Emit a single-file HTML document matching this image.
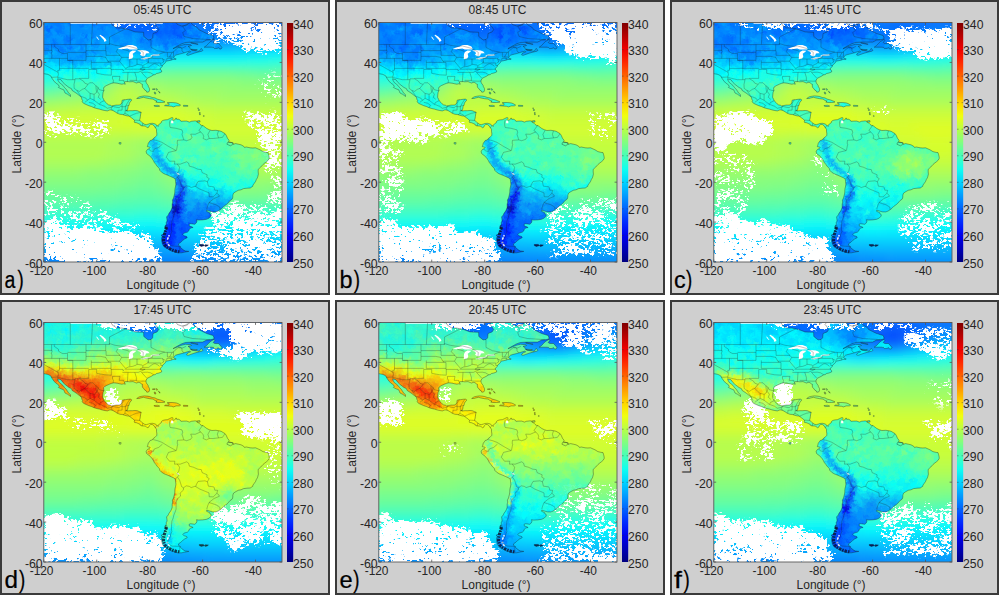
<!DOCTYPE html>
<html><head><meta charset="utf-8"><style>
html,body{margin:0;padding:0;background:#fff;}
svg{display:block;}
text{font-family:"Liberation Sans",sans-serif;}
</style></head><body>
<svg width="1000" height="595" viewBox="0 0 1000 595">
<defs>
<linearGradient id="jet" x1="0" y1="1" x2="0" y2="0"><stop offset="0.0000" stop-color="#000080"/><stop offset="0.0556" stop-color="#0000b8"/><stop offset="0.1111" stop-color="#0000f1"/><stop offset="0.1667" stop-color="#002aff"/><stop offset="0.2222" stop-color="#0063ff"/><stop offset="0.2778" stop-color="#009cff"/><stop offset="0.3333" stop-color="#00d4ff"/><stop offset="0.3889" stop-color="#0efff1"/><stop offset="0.4444" stop-color="#47ffb8"/><stop offset="0.5000" stop-color="#80ff80"/><stop offset="0.5556" stop-color="#b8ff47"/><stop offset="0.6111" stop-color="#f1ff0e"/><stop offset="0.6667" stop-color="#ffd500"/><stop offset="0.7222" stop-color="#ff9c00"/><stop offset="0.7778" stop-color="#ff6300"/><stop offset="0.8333" stop-color="#ff2a00"/><stop offset="0.8889" stop-color="#f10000"/><stop offset="0.9444" stop-color="#b80000"/><stop offset="1.0000" stop-color="#800000"/></linearGradient>
<path id="am" d="M-13.2 -4.0 L67.0 -4.0 L67.0 0.0 L68.3 2.0 L68.3 2.4 L72.8 5.4 L78.1 5.6 L84.7 7.0 L91.3 9.4 L99.8 9.8 L100.0 14.0 L104.3 17.4 L107.2 17.0 L108.8 15.4 L109.3 11.0 L113.3 9.4 L114.9 7.0 L112.5 3.4 L111.2 2.0 L112.7 0.0 L112.5 -4.0 L132.3 -4.0 L132.3 0.0 L133.7 2.0 L137.6 3.4 L141.6 3.2 L144.2 2.0 L146.1 0.0 L146.9 -0.6 L147.7 1.0 L150.1 3.0 L153.5 5.0 L154.8 7.0 L158.8 9.0 L162.8 11.0 L165.9 12.0 L169.4 13.0 L170.2 15.4 L169.9 16.6 L166.7 17.2 L162.8 17.6 L158.8 19.6 L153.5 19.6 L148.2 19.6 L141.6 20.0 L137.6 21.4 L133.7 23.6 L129.7 25.9 L129.2 26.1 L131.0 25.5 L133.7 24.3 L137.6 22.8 L141.6 21.8 L146.9 22.2 L147.7 23.0 L144.2 23.9 L146.1 24.9 L146.6 26.9 L149.5 27.9 L153.5 28.5 L155.4 28.7 L156.7 26.9 L157.5 25.9 L159.1 27.9 L158.0 28.7 L155.4 29.3 L150.9 30.5 L146.9 31.9 L144.2 32.9 L142.7 32.3 L144.0 30.5 L146.9 29.3 L145.8 28.7 L142.9 29.5 L140.3 30.3 L137.6 31.1 L133.7 32.1 L131.8 32.7 L130.5 33.9 L130.2 34.7 L130.0 35.3 L131.0 36.3 L132.3 36.3 L132.3 36.7 L130.7 36.9 L129.2 36.9 L127.3 37.7 L122.3 38.7 L121.7 39.3 L121.5 40.3 L120.4 41.3 L119.4 42.1 L118.8 42.7 L118.6 43.9 L117.5 44.9 L116.5 45.7 L116.5 46.1 L116.7 46.9 L117.8 48.3 L117.8 49.5 L115.1 50.5 L112.5 51.1 L111.4 52.1 L109.8 52.3 L108.0 53.5 L106.1 54.5 L104.0 55.5 L103.0 56.3 L102.2 58.3 L102.2 59.5 L102.7 60.7 L104.3 62.9 L104.5 63.9 L105.6 65.9 L105.7 67.3 L105.6 68.3 L104.8 69.5 L103.0 69.7 L102.4 68.3 L101.1 67.7 L100.3 66.5 L98.7 64.7 L98.5 63.5 L98.7 61.9 L97.7 61.5 L96.1 60.1 L94.5 59.9 L92.6 60.5 L91.6 60.1 L89.2 59.1 L86.0 59.3 L84.4 59.1 L82.0 59.1 L80.5 59.5 L81.0 60.7 L81.5 61.7 L79.9 61.3 L78.1 61.7 L76.0 61.3 L73.3 60.7 L70.1 60.3 L67.5 60.9 L65.6 61.7 L62.5 63.1 L60.3 64.5 L59.8 65.9 L60.1 67.9 L59.3 69.9 L59.0 71.8 L58.8 74.8 L59.8 76.8 L60.3 78.2 L62.2 80.0 L63.3 81.4 L64.8 82.4 L66.7 82.8 L67.8 83.5 L70.1 83.0 L72.3 82.6 L74.4 82.6 L76.2 82.4 L77.5 81.2 L78.1 79.8 L78.3 77.8 L79.4 77.4 L81.5 77.2 L84.2 76.8 L87.1 76.6 L87.9 77.4 L87.3 78.6 L86.0 79.8 L85.5 81.2 L85.2 83.0 L84.4 83.0 L84.2 84.8 L83.9 86.8 L82.3 88.0 L84.2 88.4 L86.0 88.2 L88.7 88.2 L91.3 88.0 L93.4 88.2 L95.8 89.2 L97.4 89.8 L96.9 91.4 L96.6 93.8 L96.3 95.8 L95.8 97.4 L96.3 98.2 L97.9 99.8 L99.2 100.8 L100.8 101.8 L102.4 102.2 L104.5 101.6 L106.1 101.0 L108.5 100.8 L111.2 101.4 L112.7 102.4 L114.3 104.0 L114.6 102.6 L115.9 101.2 L117.5 100.2 L117.8 98.8 L118.6 98.2 L119.6 97.8 L121.2 97.4 L123.6 97.2 L125.7 96.2 L127.3 95.4 L128.6 95.0 L129.4 95.8 L128.1 97.0 L128.9 97.8 L131.0 97.2 L131.8 96.6 L132.3 95.4 L132.9 96.8 L135.0 96.8 L136.6 97.8 L137.1 98.8 L140.3 98.6 L142.9 98.6 L145.6 99.6 L147.7 98.8 L150.9 98.4 L152.7 98.4 L152.7 99.2 L154.6 100.2 L156.2 101.8 L157.5 102.8 L159.3 103.2 L161.4 104.8 L163.0 106.0 L165.4 107.2 L168.1 108.0 L172.0 107.8 L174.7 108.2 L177.3 108.8 L180.0 110.4 L181.3 111.2 L182.4 112.8 L183.7 115.8 L185.3 117.8 L184.7 119.2 L187.9 120.1 L189.5 121.7 L191.9 121.1 L194.5 121.7 L197.2 122.3 L199.8 123.7 L200.6 124.9 L202.5 124.5 L206.4 125.3 L209.1 125.5 L211.7 125.3 L214.4 126.5 L216.2 127.3 L219.1 129.1 L222.3 129.9 L224.2 130.1 L224.7 131.7 L225.2 133.7 L225.5 135.7 L224.4 137.7 L222.6 139.3 L221.0 140.5 L219.1 142.1 L217.0 144.5 L215.7 145.7 L214.4 146.9 L214.4 149.3 L214.6 151.7 L214.1 153.7 L213.6 155.3 L212.5 157.1 L211.7 159.1 L210.4 160.9 L209.1 162.7 L209.1 163.7 L206.4 165.5 L203.3 165.7 L199.8 166.1 L197.2 167.3 L194.5 167.8 L191.9 169.2 L189.8 170.6 L189.0 172.6 L189.0 174.6 L188.4 176.6 L186.1 178.2 L184.5 180.2 L182.6 182.0 L180.0 183.8 L178.1 185.8 L176.3 187.2 L174.2 188.6 L172.0 189.4 L168.9 189.4 L165.9 188.6 L163.0 187.6 L162.8 188.8 L165.9 190.2 L166.2 191.4 L167.5 192.2 L167.3 193.6 L165.4 195.6 L162.8 196.8 L158.8 197.4 L154.8 197.6 L152.7 197.2 L153.2 198.6 L152.4 200.6 L150.9 201.8 L146.9 201.2 L145.3 201.8 L145.6 203.6 L147.4 204.0 L149.3 205.0 L147.2 205.4 L145.6 206.6 L144.8 208.6 L143.7 209.6 L140.3 210.6 L138.9 212.0 L140.3 213.2 L142.9 214.0 L143.4 215.2 L140.8 216.5 L138.7 218.1 L137.1 219.7 L135.0 221.1 L134.5 222.7 L136.6 224.1 L136.6 224.7 L137.6 225.5 L138.9 227.1 L141.6 228.5 L145.0 228.9 L141.6 229.5 L137.6 230.3 L133.7 230.3 L131.0 229.5 L128.4 228.5 L125.7 227.3 L123.1 225.9 L120.4 224.5 L119.1 222.5 L118.3 220.5 L117.8 217.5 L117.8 215.6 L118.6 213.6 L117.2 212.8 L120.2 211.2 L120.4 209.6 L121.7 207.6 L123.1 206.0 L121.2 205.2 L121.7 203.4 L122.5 201.6 L122.5 199.6 L123.3 198.6 L123.1 196.6 L122.8 194.2 L124.1 193.2 L125.2 190.8 L126.8 188.6 L127.8 186.6 L128.4 184.6 L128.4 181.6 L128.9 179.6 L128.6 177.6 L129.7 175.6 L130.2 173.6 L130.7 171.6 L131.0 169.6 L131.0 167.7 L131.3 165.7 L131.8 163.7 L132.1 161.7 L131.8 159.3 L131.5 156.7 L129.7 155.3 L127.0 154.1 L123.9 152.7 L120.4 151.3 L117.8 149.7 L115.9 147.7 L115.7 146.3 L114.3 144.7 L113.3 143.7 L112.2 142.1 L110.6 140.1 L109.6 138.1 L108.5 136.3 L106.9 134.5 L105.9 133.3 L103.5 131.7 L102.7 130.7 L102.4 128.7 L103.7 126.9 L105.3 126.3 L106.4 124.9 L105.3 124.5 L103.5 124.1 L104.0 122.7 L104.5 120.7 L105.6 119.2 L106.4 118.0 L108.5 117.4 L109.3 116.2 L111.2 114.8 L113.0 112.8 L113.0 110.8 L112.7 108.8 L112.7 106.8 L111.7 105.4 L110.1 103.2 L108.5 102.0 L106.9 102.0 L105.6 103.2 L104.8 104.8 L103.5 105.2 L102.7 104.4 L101.4 103.6 L99.2 103.4 L97.9 103.2 L96.3 102.6 L96.3 101.8 L94.0 100.8 L92.6 100.2 L90.8 100.0 L90.5 98.8 L90.8 97.8 L90.0 97.2 L88.4 95.8 L86.5 94.6 L85.8 93.6 L83.4 93.4 L81.0 92.8 L78.9 92.0 L76.2 91.8 L73.6 90.8 L71.5 89.4 L69.1 88.0 L67.0 87.4 L65.6 87.6 L63.5 88.4 L60.9 88.0 L58.2 87.4 L55.6 86.6 L52.9 86.0 L50.3 85.2 L47.6 84.0 L45.0 83.2 L42.3 82.0 L39.7 80.8 L38.4 79.2 L38.9 78.2 L38.1 76.8 L37.6 74.8 L36.0 73.4 L33.1 71.1 L30.4 69.3 L28.3 67.9 L27.8 66.3 L25.1 64.9 L23.8 63.9 L21.2 61.9 L19.1 59.9 L17.2 57.3 L13.8 56.3 L14.3 57.9 L15.4 59.9 L17.2 61.3 L19.1 62.9 L20.6 64.9 L22.5 66.9 L23.8 68.9 L25.1 70.9 L26.7 72.2 L26.7 74.0 L25.7 73.2 L23.8 71.8 L21.2 70.5 L20.6 68.9 L19.9 67.3 L17.2 66.3 L14.6 64.9 L15.4 63.9 L14.6 62.3 L11.9 60.5 L10.1 58.5 L8.5 56.3 L7.7 54.9 L7.1 53.5 L5.3 52.5 L4.0 51.9 L2.1 51.5 L-1.3 50.9 L-1.9 49.5 L-2.6 48.9 L-5.3 46.9 L-7.9 43.9 L-13.2 39.9 Z"/>
<path id="isl" d="M92.9 76.0 L95.3 74.4 L97.9 73.8 L100.6 73.4 L103.2 73.6 L105.9 74.0 L108.5 75.0 L111.2 75.4 L113.3 76.6 L116.5 77.4 L119.1 78.4 L121.2 79.4 L120.4 79.8 L117.8 80.0 L113.8 80.0 L112.0 79.6 L113.3 78.6 L111.2 78.0 L109.3 76.6 L105.9 76.2 L101.9 75.4 L99.8 74.8 L97.1 75.4 L95.3 76.0 Z M124.9 80.0 L128.4 80.0 L132.3 80.4 L134.5 81.2 L136.8 82.6 L135.5 83.4 L132.3 83.4 L129.7 84.4 L127.8 83.8 L124.9 83.6 L120.7 83.2 L121.7 82.6 L125.2 82.6 L125.2 81.0 L123.3 80.4 Z M110.4 83.0 L113.8 82.8 L115.9 83.6 L114.3 84.0 L111.7 84.0 L110.1 83.4 Z M139.7 82.8 L144.0 83.0 L144.0 83.8 L139.7 83.8 Z M160.4 24.7 L162.8 23.0 L164.6 21.0 L166.7 19.0 L170.4 16.8 L171.0 18.0 L169.4 20.0 L171.0 21.0 L174.7 21.0 L176.0 22.4 L177.3 23.9 L178.1 24.9 L177.3 26.5 L175.7 26.5 L174.7 25.1 L173.4 25.9 L170.7 26.1 L169.7 24.9 L168.1 24.7 L164.9 24.7 Z M147.2 26.7 L149.5 26.9 L153.5 27.1 L152.2 27.9 L148.7 27.5 Z M146.9 20.2 L150.9 20.8 L154.3 21.8 L152.2 21.6 L147.7 20.6 Z M108.5 66.5 L111.4 66.3 L111.2 66.9 L108.8 66.9 Z M112.5 66.1 L113.8 66.9 L113.3 67.9 L112.2 66.9 Z M110.4 69.5 L111.7 69.9 L112.0 71.5 L110.9 71.5 Z M114.6 68.7 L115.9 69.5 L116.2 70.7 L115.4 69.9 Z M153.8 98.2 L156.2 98.2 L156.2 99.6 L153.8 99.6 Z M155.4 222.1 L159.3 221.9 L160.9 223.1 L157.5 223.9 L155.6 223.1 Z M161.4 222.3 L164.6 222.5 L163.3 223.5 L161.4 223.9 Z M75.2 120.1 L77.3 120.1 L77.0 121.7 L75.4 121.5 Z M121.2 203.2 L123.1 203.2 L123.1 206.2 L121.0 206.0 Z M154.0 85.4 L154.6 85.4 L154.6 86.0 L154.0 86.0 Z M154.6 87.0 L155.6 87.0 L155.6 88.0 L154.6 88.0 Z M155.6 90.0 L156.4 90.0 L156.4 91.0 L155.6 91.0 Z M155.9 91.6 L156.4 91.6 L156.4 92.4 L155.9 92.4 Z M159.6 93.2 L160.4 93.2 L160.4 93.8 L159.6 93.8 Z M183.9 119.9 L189.2 120.1 L189.5 121.7 L186.6 123.3 L183.1 121.7 Z"/>
<path id="lk" d="M73.8 26.5 L78.1 26.7 L83.4 25.9 L86.0 26.9 L88.7 27.1 L93.7 26.9 L93.7 26.1 L92.6 24.1 L88.7 22.4 L83.9 22.4 L80.7 23.9 L76.8 25.3 Z M85.0 36.5 L86.0 36.7 L88.4 36.1 L89.5 33.9 L88.9 31.3 L91.3 29.5 L92.6 28.3 L88.7 28.1 L85.8 29.7 L85.2 31.9 L85.0 34.9 Z M93.4 28.3 L96.6 29.3 L97.1 31.3 L96.1 32.3 L99.2 33.9 L101.4 32.9 L102.2 30.9 L104.5 30.7 L105.9 30.7 L104.5 28.9 L101.9 27.9 L96.6 27.5 L94.0 27.9 Z M96.9 36.5 L100.6 36.9 L103.2 36.3 L106.4 35.3 L108.8 34.3 L107.2 34.1 L104.5 34.7 L101.9 34.7 L99.2 35.7 L97.4 35.9 Z M106.4 33.3 L109.8 33.3 L112.5 33.3 L115.7 32.9 L115.9 31.7 L113.8 31.9 L109.8 31.9 L107.5 32.5 Z M60.3 19.2 L62.7 18.4 L61.9 16.4 L59.3 14.0 L56.4 12.2 L55.6 12.8 L58.2 15.4 L60.1 17.6 Z M54.3 17.0 L55.6 17.4 L53.5 14.4 L52.1 14.0 Z M132.3 150.1 L134.5 150.7 L136.0 152.3 L134.2 152.3 Z M127.3 98.2 L129.2 98.0 L129.7 100.8 L127.3 100.8 Z"/>
<path id="bd" d="M-13.2 22.0 L65.6 22.0 L65.6 21.2 L66.7 21.4 L71.5 22.8 L76.8 23.6 L80.5 23.9 L83.6 23.4 L92.6 25.9 L94.0 26.9 L96.6 27.9 L99.5 29.9 L99.2 33.9 L97.7 35.7 L99.0 36.5 L108.5 34.9 L108.5 33.1 L115.7 32.3 L115.7 31.5 L119.9 29.9 L128.4 29.9 L130.2 29.1 L131.8 27.1 L134.5 25.1 L137.1 25.3 L138.2 25.9 L138.2 28.5 L139.2 29.5 L140.3 30.1 M26.5 22.0 L26.5 -4.0 M47.6 22.0 L49.0 -4.0 M65.6 22.0 L65.8 14.4 L82.0 6.2 M107.2 17.0 L107.2 24.9 L113.8 28.3 L121.0 29.5 M166.5 17.2 L148.7 16.0 L140.3 14.0 L138.9 10.0 L141.6 8.0 L138.9 4.0 L146.9 -0.6 M138.2 25.7 L136.8 25.1 L134.5 25.1 M138.2 25.7 L142.1 23.9 M147.7 28.3 L148.5 28.1 M-10.6 27.5 L2.6 27.9 L8.2 27.9 M-11.1 35.9 L23.7 35.9 M7.8 22.0 L7.8 27.1 L8.2 28.9 L7.4 31.3 L8.2 31.9 L7.9 35.9 M10.5 22.0 L10.5 23.9 L14.6 26.7 L14.8 28.7 L17.2 30.3 L19.1 31.1 L23.7 30.9 M23.7 29.9 L42.2 29.9 M23.7 30.9 L23.7 37.9 L42.2 37.9 L42.2 22.0 M0.0 35.9 L0.0 41.9 L14.3 49.9 M15.7 35.9 L15.7 47.7 L14.0 47.9 L14.3 49.9 L14.6 51.9 L14.0 54.5 M15.7 45.9 L45.0 45.9 M29.0 37.9 L29.0 57.2 M23.7 37.9 L29.0 37.9 M47.5 37.9 L47.5 45.9 M42.2 33.9 L56.9 33.9 L62.2 34.9 M47.5 39.9 L65.4 39.9 M47.5 45.9 L67.2 45.9 M45.0 46.9 L52.9 46.9 L52.9 50.8 L60.9 52.3 L67.5 52.7 M44.9 46.9 L44.9 55.9 L35.5 55.9 M42.2 28.1 L61.9 28.1 M61.9 22.0 L61.9 28.1 L62.3 29.3 L62.3 32.9 L76.2 32.9 M64.0 38.7 L75.7 38.7 M61.9 34.9 L64.0 38.7 L65.4 39.9 L67.2 39.9 L67.2 45.9 L67.2 46.9 L79.1 46.9 L79.1 47.9 L80.2 47.9 M67.5 46.9 L67.5 52.7 M68.7 53.9 L76.2 53.9 M68.7 53.9 L68.7 56.1 L69.6 57.9 L69.3 60.5 M76.2 53.9 L75.4 57.9 L79.9 57.9 L80.2 59.5 M84.2 49.9 L83.6 59.3 M91.0 49.9 L92.6 54.9 L92.6 57.9 M85.8 57.9 L92.6 57.9 L92.9 58.5 L100.0 58.7 L102.2 58.5 M97.7 49.9 L103.0 55.7 M97.7 49.9 L103.5 49.7 L106.7 50.3 L109.8 52.2 M78.6 49.9 L94.5 49.9 M80.7 46.7 L101.4 46.7 M96.1 46.8 L116.7 46.8 M94.5 49.9 L101.4 46.7 M96.1 46.7 L99.0 44.9 L99.0 43.5 M81.8 45.9 L84.7 44.5 L88.7 43.9 L92.6 42.5 L93.2 41.7 L97.9 42.5 L99.0 43.1 L104.0 40.5 L104.5 38.7 M75.7 38.7 L78.9 42.7 L81.8 45.9 M86.0 36.5 L86.0 43.9 M93.2 36.5 L93.2 41.7 M77.8 34.9 L85.2 34.9 M76.2 32.9 L77.8 34.9 L75.7 38.7 M73.8 26.5 L73.3 27.7 L72.3 29.1 L76.2 32.9 M86.0 36.5 L96.6 36.5 M78.3 26.7 L84.4 28.3 L85.8 29.7 M104.5 35.9 L104.5 40.5 M104.5 35.9 L118.0 35.9 M104.5 40.5 L117.0 40.5 M99.0 44.9 L105.1 44.9 L107.2 42.9 L110.1 41.3 L111.7 41.3 L113.8 42.3 L115.7 43.9 M123.6 29.9 L123.6 34.5 M128.4 29.9 L125.7 34.5 M123.6 34.5 L130.2 34.5 M123.1 35.9 L128.6 35.9 M127.6 35.9 L127.6 37.3 M123.1 35.9 L122.8 37.9 M129.7 29.3 L129.7 33.7 M118.3 35.9 L119.9 37.1 L122.0 37.9 M118.8 36.1 L119.9 39.5 L117.8 40.5 M117.0 40.5 L117.0 43.0 L118.6 43.0 M7.7 54.9 L14.0 54.5 L13.8 54.9 L23.6 57.2 L31.2 57.2 L31.2 56.3 L35.7 56.3 L37.1 57.1 L39.7 58.7 L41.0 60.7 L44.2 61.9 L45.8 60.3 L49.2 60.3 L52.1 63.3 L54.3 64.9 L55.3 67.1 L58.2 67.9 L60.3 68.1 M31.2 57.2 L30.2 61.9 L30.4 65.9 L33.1 67.9 L35.7 68.9 L38.4 66.9 L41.0 65.9 L44.2 61.9 M41.0 65.9 L43.9 68.9 L46.3 70.9 L50.3 71.8 L52.9 69.9 L52.4 66.9 L52.1 63.3 M54.3 64.9 L53.5 68.9 L55.6 71.8 L54.5 74.8 L56.9 76.8 M33.1 67.9 L37.1 73.8 L39.7 74.8 L42.3 75.8 L43.7 77.8 L41.0 79.8 M46.3 70.9 L46.3 75.8 L50.3 77.8 L52.9 79.8 L55.6 81.8 L58.2 82.8 L60.9 83.8 L63.5 85.8 L67.5 84.8 L68.8 83.8 M50.3 71.8 L50.3 77.8 M43.7 77.8 L46.3 75.8 M50.3 85.2 L51.6 82.8 L49.0 80.8 L45.0 79.8 M60.3 78.2 L56.9 79.8 L55.6 81.8 M68.8 83.8 L72.8 84.8 L75.4 85.2 L76.8 83.8 L78.3 83.8 M68.8 83.8 L67.5 86.2 L68.8 87.8 M78.3 84.2 L78.3 80.8 L80.5 77.2 M81.5 84.2 L83.4 80.8 L86.0 76.8 M73.6 90.8 L74.1 89.6 L74.1 87.8 L78.3 87.6 L78.3 84.2 L81.6 84.2 L81.5 88.0 M81.6 83.9 L83.9 82.8 M81.5 88.0 L84.2 88.4 M81.5 88.0 L81.1 91.0 L79.1 92.4 M81.1 91.0 L83.4 91.8 L85.2 93.0 M85.5 93.8 L90.0 91.8 L92.6 90.8 L97.4 89.8 M90.8 97.6 L96.1 98.0 M98.2 103.8 L99.0 100.8 M111.4 105.4 L113.3 102.6 M126.5 97.4 L125.7 99.8 L126.0 103.8 L126.5 105.0 L132.3 105.8 L138.2 107.4 L138.9 109.8 L138.2 111.8 L139.5 115.8 L140.0 117.4 M140.0 117.4 L133.7 117.8 L133.4 120.7 L133.9 121.7 L132.6 128.1 M109.0 117.0 L113.8 118.2 L118.3 119.9 M118.3 119.9 L124.4 123.7 L132.3 128.1 M105.1 126.5 L106.7 128.5 L109.6 128.9 L110.4 126.5 L114.9 124.9 L118.6 121.7 M158.8 102.8 L156.7 105.8 L155.1 108.0 L156.9 109.4 M156.9 109.4 L151.4 111.8 L146.9 111.6 L148.2 114.8 L146.9 116.8 L142.9 118.2 L140.0 117.4 M156.9 109.4 L159.1 111.8 L159.9 113.8 L159.3 116.0 L162.5 117.4 L165.4 116.0 L169.4 116.0 L174.7 115.4 L178.7 114.8 L181.0 111.4 M166.3 107.8 L164.1 111.8 L165.4 116.0 M174.7 108.4 L173.6 111.8 L174.7 115.4 M132.3 128.1 L124.7 129.9 L122.5 134.7 L125.7 138.7 L131.0 138.7 L130.7 141.7 L133.4 141.5 M133.4 141.5 L135.8 144.7 L135.0 148.7 L133.4 150.7 L135.0 152.7 L133.7 154.7 L131.3 156.4 M133.4 141.5 L136.3 141.7 L142.9 139.3 L144.8 140.7 L145.6 143.7 L149.5 144.7 L154.0 146.7 L157.5 147.1 L158.3 150.1 L163.3 152.3 L163.0 154.7 L165.4 156.1 L163.6 159.3 M133.7 154.7 L135.8 157.7 L137.1 161.7 L137.9 164.3 L139.7 165.3 M139.7 165.3 L142.4 163.3 L145.6 163.9 L147.4 165.1 L151.4 163.7 L151.9 164.1 M151.9 164.1 L152.7 161.7 L154.3 158.9 L161.2 158.3 L163.6 159.3 M163.6 159.3 L164.6 163.7 L169.4 164.3 L170.4 164.9 L171.0 167.7 L173.9 167.8 L173.1 170.8 M151.9 164.1 L156.2 166.7 L161.4 168.8 L165.2 170.4 L165.4 174.2 L169.4 174.4 L173.1 170.8 M173.1 170.8 L175.2 172.6 L175.5 173.8 L170.2 176.0 L165.2 180.0 M165.2 180.0 L169.4 181.4 L172.0 182.2 L176.0 184.6 L176.3 187.0 M165.2 180.0 L163.8 183.6 L163.0 186.6 M139.7 165.3 L139.5 167.7 L136.3 170.6 L136.8 173.6 L133.4 176.6 L132.3 179.6 L132.3 183.6 L132.3 186.6 L131.3 189.6 L130.0 192.6 L129.4 195.6 L128.1 198.6 L127.8 201.6 L127.6 206.6 L128.1 209.2 L127.0 211.6 L126.2 214.6 L124.4 217.5 L123.6 220.5 L126.2 222.5 L128.4 223.5 L133.7 223.9 L136.6 224.3 M136.0 224.7 L136.0 229.3"/>
<path id="fj" d="M122.8 204.6 L121.2 209.6 L120.2 213.6 L119.6 218.5 L121.0 222.5 L124.4 225.5 L128.4 227.5 L132.3 228.7 L136.3 229.5"/>
<path id="fj2" d="M125.5 212.6 L123.9 216.5 L123.6 220.5 L125.7 223.5"/>
<path id="falk" d="M155.4 222.1 L159.3 221.9 L160.9 223.1 L157.5 223.9 L155.6 223.1 Z M161.4 222.3 L164.6 222.5 L163.3 223.5 L161.4 223.9 Z"/>
<clipPath id="landclip"><use href="#am"/><use href="#isl"/></clipPath>
<filter id="bo" x="-5%" y="-5%" width="110%" height="110%"><feGaussianBlur stdDeviation="4"/></filter>
<filter id="bl" x="-5%" y="-5%" width="110%" height="110%"><feGaussianBlur stdDeviation="1.1" result="b"/><feTurbulence type="fractalNoise" baseFrequency="0.3" numOctaves="2" seed="5" result="t"/><feDisplacementMap in="b" in2="t" scale="7" xChannelSelector="R" yChannelSelector="G"/></filter>
</defs>
<rect width="1000" height="595" fill="#fff"/>
<g transform="translate(0,0)">
<rect x="1" y="1" width="328" height="293" fill="#cfcfcf" stroke="#3a3a3a" stroke-width="2"/>
<text x="162.5" y="13.6" font-size="12" text-anchor="middle" fill="#262626">05:45 UTC</text>
<svg x="43.8" y="22.5" width="238.2" height="239.5" viewBox="0 0 238.2 239.5" overflow="hidden">
<filter id="cf-a" x="0" y="0" width="238.2" height="239.5" filterUnits="userSpaceOnUse" color-interpolation-filters="sRGB"><feGaussianBlur in="SourceAlpha" stdDeviation="2.6" result="d"/><feTurbulence type="fractalNoise" baseFrequency="0.06 0.09" numOctaves="2" seed="679" result="nl"/><feTurbulence type="fractalNoise" baseFrequency="0.3 0.45" numOctaves="3" seed="680" result="nh"/><feComposite in="d" in2="nl" operator="arithmetic" k1="0" k2="0.5" k3="0.6" k4="0" result="s1"/><feComposite in="s1" in2="nh" operator="arithmetic" k1="0" k2="1" k3="0.85" k4="-0.95" result="s"/><feComponentTransfer in="s" result="t"><feFuncA type="linear" slope="20" intercept="0"/></feComponentTransfer><feComponentTransfer in="d" result="dm"><feFuncA type="linear" slope="6" intercept="-0.3"/></feComponentTransfer><feComposite in="t" in2="dm" operator="in" result="t2"/><feFlood flood-color="#fff"/><feComposite operator="in" in2="t2"/></filter>
<g filter="url(#bo)"><path fill="#007aff" d="M-7 -7h63v7h-63zM-7 0h63v7h-63zM-7 7h63v7h-63zM147 7h21v7h-21zM203 7h14v7h-14zM70 14h7v7h-7zM112 14h14v7h-14zM-7 238h154v7h-154zM-7 245h154v7h-154z"/><path fill="#0074ff" d="M56 -7h7v7h-7zM56 0h7v7h-7zM154 0h7v7h-7zM56 7h7v7h-7zM133 7h14v7h-14zM168 7h14v7h-14zM189 7h14v7h-14zM77 14h35v7h-35z"/><path fill="#006eff" d="M63 -7h7v7h-7zM154 -7h14v7h-14zM63 0h7v7h-7zM140 0h14v7h-14zM161 0h14v7h-14zM217 0h35v7h-35zM63 7h7v7h-7zM126 7h7v7h-7zM182 7h7v7h-7z"/><path fill="#0069ff" d="M70 -7h7v7h-7zM140 -7h14v7h-14zM168 -7h14v7h-14zM70 0h7v7h-7zM126 0h14v7h-14zM175 0h42v7h-42zM70 7h7v7h-7zM112 7h14v7h-14z"/><path fill="#0063ff" d="M77 -7h63v7h-63zM182 -7h70v7h-70zM77 0h49v7h-49zM77 7h35v7h-35z"/><path fill="#0080ff" d="M217 7h7v7h-7zM63 14h7v7h-7zM126 14h14v7h-14zM147 238h28v7h-28zM147 245h28v7h-28z"/><path fill="#0085ff" d="M224 7h28v7h-28zM56 14h7v7h-7zM140 14h14v7h-14zM175 238h77v7h-77zM175 245h77v7h-77z"/><path fill="#008bff" d="M-7 14h63v7h-63zM154 14h42v7h-42zM-7 231h154v7h-154z"/><path fill="#0090ff" d="M196 14h14v7h-14zM147 231h28v7h-28z"/><path fill="#0096ff" d="M210 14h14v7h-14zM77 21h7v7h-7zM175 231h77v7h-77z"/><path fill="#009cff" d="M224 14h14v7h-14zM70 21h7v7h-7zM84 21h21v7h-21z"/><path fill="#00a2ff" d="M238 14h14v7h-14zM56 21h14v7h-14zM105 21h14v7h-14zM-7 224h140v7h-140z"/><path fill="#00a7ff" d="M-7 21h63v7h-63zM119 21h14v7h-14zM133 224h28v7h-28z"/><path fill="#00adff" d="M133 21h56v7h-56zM161 224h91v7h-91z"/><path fill="#00b2ff" d="M189 21h7v7h-7z"/><path fill="#00b8ff" d="M196 21h14v7h-14z"/><path fill="#00beff" d="M210 21h14v7h-14zM-7 217h147v7h-147z"/><path fill="#00c3ff" d="M224 21h28v7h-28zM-7 28h84v7h-84zM140 217h112v7h-112z"/><path fill="#00c9ff" d="M77 28h14v7h-14z"/><path fill="#00cfff" d="M91 28h14v7h-14z"/><path fill="#00d4ff" d="M105 28h7v7h-7zM84 210h63v7h-63z"/><path fill="#00daff" d="M112 28h14v7h-14zM-7 210h91v7h-91zM147 210h105v7h-105z"/><path fill="#00e0ff" d="M126 28h70v7h-70z"/><path fill="#00e5ff" d="M196 28h14v7h-14zM-7 35h70v7h-70z"/><path fill="#00ebff" d="M210 28h14v7h-14zM63 35h14v7h-14zM98 203h21v7h-21z"/><path fill="#00f1ff" d="M224 28h14v7h-14zM77 35h7v7h-7zM70 203h28v7h-28zM119 203h28v7h-28zM168 203h84v7h-84z"/><path fill="#00f6ff" d="M238 28h14v7h-14zM84 35h7v7h-7zM-7 42h42v7h-42zM-7 203h77v7h-77zM147 203h21v7h-21z"/><path fill="#00fcff" d="M91 35h7v7h-7zM35 42h21v7h-21z"/><path fill="#03fffc" d="M98 35h14v7h-14zM224 196h28v7h-28z"/><path fill="#09fff6" d="M112 35h7v7h-7zM56 42h7v7h-7zM91 196h21v7h-21zM203 196h21v7h-21z"/><path fill="#0efff1" d="M119 35h84v7h-84zM-7 49h35v7h-35zM70 196h21v7h-21zM112 196h7v7h-7zM182 196h21v7h-21z"/><path fill="#14ffeb" d="M203 35h21v7h-21zM63 42h7v7h-7zM28 49h7v7h-7zM-7 196h77v7h-77zM119 196h7v7h-7zM168 196h14v7h-14z"/><path fill="#1affe5" d="M224 35h14v7h-14zM70 42h7v7h-7zM35 49h7v7h-7zM126 196h42v7h-42z"/><path fill="#1fffe0" d="M238 35h14v7h-14zM42 49h7v7h-7z"/><path fill="#25ffda" d="M77 42h7v7h-7zM49 49h7v7h-7zM-7 56h14v7h-14zM91 189h21v7h-21zM217 189h35v7h-35z"/><path fill="#2bffd4" d="M84 42h7v7h-7zM7 56h14v7h-14zM63 189h28v7h-28zM112 189h14v7h-14zM189 189h28v7h-28z"/><path fill="#30ffcf" d="M91 42h7v7h-7zM56 49h7v7h-7zM21 56h7v7h-7zM-7 189h70v7h-70zM126 189h14v7h-14zM175 189h14v7h-14z"/><path fill="#36ffc9" d="M98 42h7v7h-7zM28 56h7v7h-7zM140 189h14v7h-14zM161 189h14v7h-14z"/><path fill="#3cffc3" d="M105 42h7v7h-7zM91 182h21v7h-21zM154 189h7v7h-7z"/><path fill="#41ffbe" d="M112 42h14v7h-14zM203 42h28v7h-28zM63 49h7v7h-7zM35 56h7v7h-7zM70 182h21v7h-21zM112 182h7v7h-7zM224 182h28v7h-28z"/><path fill="#47ffb8" d="M126 42h77v7h-77zM231 42h21v7h-21zM-7 182h77v7h-77zM119 182h14v7h-14zM196 182h28v7h-28z"/><path fill="#52ffad" d="M70 49h7v7h-7zM7 63h7v7h-7zM77 175h42v7h-42zM147 182h28v7h-28z"/><path fill="#5effa2" d="M77 49h7v7h-7zM21 63h7v7h-7zM91 168h21v7h-21zM-7 175h56v7h-56zM126 175h7v7h-7zM217 175h35v7h-35z"/><path fill="#63ff9c" d="M84 49h7v7h-7zM28 63h7v7h-7zM70 168h21v7h-21zM112 168h7v7h-7zM133 175h14v7h-14zM189 175h28v7h-28z"/><path fill="#69ff96" d="M91 49h14v7h-14zM210 49h42v7h-42zM35 63h7v7h-7zM91 161h21v7h-21zM-7 168h77v7h-77zM119 168h7v7h-7zM147 175h42v7h-42z"/><path fill="#6eff90" d="M105 49h14v7h-14zM189 49h21v7h-21zM56 56h7v7h-7zM77 161h14v7h-14zM112 161h7v7h-7zM126 168h7v7h-7z"/><path fill="#74ff8b" d="M119 49h70v7h-70zM42 63h7v7h-7zM-7 70h14v7h-14zM91 154h21v7h-21zM56 161h21v7h-21zM119 161h7v7h-7zM133 168h14v7h-14zM224 168h28v7h-28z"/><path fill="#4dffb2" d="M42 56h7v7h-7zM-7 63h14v7h-14zM133 182h14v7h-14zM175 182h21v7h-21z"/><path fill="#58ffa7" d="M49 56h7v7h-7zM14 63h7v7h-7zM49 175h28v7h-28zM119 175h7v7h-7z"/><path fill="#80ff80" d="M63 56h7v7h-7zM217 56h35v7h-35zM14 70h7v7h-7zM84 147h14v7h-14zM42 154h35v7h-35zM126 161h14v7h-14zM154 168h42v7h-42z"/><path fill="#91ff6e" d="M70 56h7v7h-7zM105 56h14v7h-14zM182 63h70v7h-70zM42 70h7v7h-7zM98 133h14v7h-14zM77 140h14v7h-14zM-7 147h42v7h-42zM126 147h7v7h-7zM133 154h14v7h-14zM161 161h28v7h-28z"/><path fill="#a2ff5e" d="M77 56h7v7h-7zM112 63h7v7h-7zM56 70h7v7h-7zM147 70h28v7h-28zM14 77h14v7h-14zM77 119h14v7h-14zM112 119h7v7h-7zM91 126h7v7h-7zM112 126h7v7h-7zM70 133h14v7h-14zM126 133h7v7h-7zM-7 140h49v7h-49zM133 140h7v7h-7zM147 147h7v7h-7z"/><path fill="#9cff63" d="M84 56h14v7h-14zM63 63h7v7h-7zM119 63h21v7h-21zM175 70h77v7h-77zM0 77h14v7h-14zM91 119h21v7h-21zM98 126h14v7h-14zM84 133h7v7h-7zM119 133h7v7h-7zM42 140h21v7h-21zM126 140h7v7h-7zM140 147h7v7h-7zM154 154h35v7h-35z"/><path fill="#96ff69" d="M98 56h7v7h-7zM140 63h42v7h-42zM49 70h7v7h-7zM-7 77h7v7h-7zM91 133h7v7h-7zM112 133h7v7h-7zM63 140h14v7h-14zM119 140h7v7h-7zM133 147h7v7h-7zM147 154h7v7h-7zM189 154h63v7h-63z"/><path fill="#8bff74" d="M119 56h77v7h-77zM56 63h7v7h-7zM28 70h14v7h-14zM91 140h7v7h-7zM112 140h7v7h-7zM35 147h28v7h-28zM119 147h7v7h-7zM126 154h7v7h-7zM147 161h14v7h-14zM189 161h28v7h-28z"/><path fill="#85ff7a" d="M196 56h21v7h-21zM21 70h7v7h-7zM98 140h14v7h-14zM63 147h21v7h-21zM112 147h7v7h-7zM-7 154h49v7h-49zM119 154h7v7h-7zM140 161h7v7h-7zM217 161h35v7h-35z"/><path fill="#7aff85" d="M49 63h7v7h-7zM7 70h7v7h-7zM98 147h14v7h-14zM77 154h14v7h-14zM112 154h7v7h-7zM-7 161h63v7h-63zM147 168h7v7h-7zM196 168h28v7h-28z"/><path fill="#adff52" d="M70 63h7v7h-7zM91 63h7v7h-7zM63 70h7v7h-7zM119 70h14v7h-14zM42 77h14v7h-14zM154 77h21v7h-21zM91 112h21v7h-21zM-7 119h70v7h-70zM119 119h7v7h-7zM63 126h21v7h-21zM126 126h7v7h-7zM-7 133h63v7h-63zM140 133h7v7h-7zM147 140h7v7h-7z"/><path fill="#b8ff47" d="M77 63h7v7h-7zM70 70h7v7h-7zM91 70h7v7h-7zM63 77h14v7h-14zM133 77h7v7h-7zM0 84h14v7h-14zM-7 112h77v7h-77zM119 112h7v7h-7zM133 119h7v7h-7zM140 126h7v7h-7zM154 133h7v7h-7z"/><path fill="#b3ff4c" d="M84 63h7v7h-7zM98 70h21v7h-21zM56 77h7v7h-7zM140 77h14v7h-14zM-7 84h7v7h-7zM70 112h21v7h-21zM112 112h7v7h-7zM126 119h7v7h-7zM-7 126h70v7h-70zM133 126h7v7h-7zM147 133h7v7h-7zM154 140h98v7h-98z"/><path fill="#a7ff58" d="M98 63h14v7h-14zM133 70h14v7h-14zM28 77h14v7h-14zM175 77h77v7h-77zM63 119h14v7h-14zM84 126h7v7h-7zM119 126h7v7h-7zM56 133h14v7h-14zM133 133h7v7h-7zM140 140h7v7h-7zM154 147h98v7h-98z"/><path fill="#c3ff3c" d="M77 70h7v7h-7zM35 84h35v7h-35zM154 84h14v7h-14zM133 112h14v7h-14zM154 119h98v7h-98zM154 126h98v7h-98z"/><path fill="#beff41" d="M84 70h7v7h-7zM77 77h56v7h-56zM14 84h21v7h-21zM168 84h84v7h-84zM126 112h7v7h-7zM140 119h14v7h-14zM147 126h7v7h-7zM161 133h91v7h-91z"/><path fill="#c9ff36" d="M70 84h28v7h-28zM140 84h14v7h-14zM-7 91h21v7h-21zM168 91h84v7h-84zM-7 105h98v7h-98zM147 112h105v7h-105z"/><path fill="#cfff30" d="M98 84h42v7h-42zM14 91h63v7h-63zM154 91h14v7h-14zM168 98h84v7h-84zM91 105h56v7h-56z"/><path fill="#d5ff2a" d="M77 91h21v7h-21zM140 91h14v7h-14zM-7 98h105v7h-105zM147 98h21v7h-21zM147 105h105v7h-105z"/><path fill="#daff25" d="M98 91h42v7h-42zM98 98h49v7h-49z"/></g>
<g filter="url(#cf-a)"><path fill-opacity="0.60" d="M66 0h54v6h-54zM6 96h6v6h-6zM222 96h12v6h-12zM0 102h6v6h-6zM12 102h6v6h-6zM216 102h6v6h-6zM216 108h6v6h-6zM234 114h6v6h-6zM180 186h36v6h-36zM168 192h12v6h-12zM216 192h12v6h-12zM168 198h6v6h-6zM222 198h6v6h-6zM174 204h12v6h-12zM216 204h18v6h-18zM180 210h12v6h-12zM234 210h6v6h-6zM180 216h12v6h-12zM186 222h12v6h-12zM234 222h6v6h-6zM204 228h30v6h-30z"/><path fill-opacity="0.40" d="M150 0h24v6h-24zM156 6h18v6h-18zM162 12h18v6h-18zM168 18h6v6h-6zM228 60h6v6h-6zM12 90h6v6h-6zM24 96h42v6h-42zM24 102h42v6h-42zM18 108h48v6h-48z"/><path fill-opacity="0.80" d="M174 0h66v6h-66zM174 6h66v6h-66zM180 12h60v6h-60zM186 18h54v6h-54zM198 24h42v6h-42zM186 198h6v6h-6zM204 198h6v6h-6zM210 216h12v6h-12z"/><path fill-opacity="0.05" d="M216 42h30v6h-30zM210 48h6v6h-6zM204 60h6v6h-6zM210 72h6v6h-6zM216 78h6v6h-6zM234 78h12v6h-12zM228 84h6v6h-6zM240 102h6v6h-6zM-6 108h6v6h-6zM240 108h6v6h-6zM240 114h6v6h-6zM240 210h6v6h-6zM240 216h6v6h-6zM240 222h6v6h-6z"/><path fill-opacity="0.10" d="M216 48h6v6h-6zM240 48h6v6h-6zM210 54h6v6h-6zM210 60h6v6h-6zM210 66h6v6h-6zM216 72h6v6h-6zM240 72h6v6h-6zM222 78h12v6h-12zM-6 96h6v6h-6zM-6 102h6v6h-6z"/><path fill-opacity="0.15" d="M222 48h18v6h-18zM216 54h6v6h-6zM240 54h6v6h-6zM240 66h6v6h-6zM234 72h6v6h-6z"/><path fill-opacity="0.25" d="M222 54h6v6h-6zM234 54h6v6h-6zM234 66h6v6h-6z"/><path fill-opacity="0.30" d="M228 54h6v6h-6zM234 60h6v6h-6zM222 66h6v6h-6z"/><path fill-opacity="0.20" d="M216 60h6v6h-6zM240 60h6v6h-6zM216 66h6v6h-6zM222 72h12v6h-12z"/><path fill-opacity="0.35" d="M222 60h6v6h-6zM228 66h6v6h-6zM0 168h18v6h-18zM0 174h36v6h-36zM0 180h48v6h-48zM0 186h66v6h-66zM0 192h78v6h-78zM12 198h84v6h-84zM60 204h42v6h-42zM90 210h18v6h-18z"/><path fill-opacity="0.45" d="M0 90h12v6h-12zM18 96h6v6h-6zM18 102h6v6h-6zM222 138h6v6h-6zM222 144h18v6h-18zM222 150h18v6h-18zM228 156h12v6h-12zM228 162h12v6h-12zM228 168h12v6h-12z"/><path fill-opacity="0.50" d="M198 90h24v6h-24zM234 90h6v6h-6zM204 96h12v6h-12zM204 102h12v6h-12zM0 108h18v6h-18zM210 108h6v6h-6zM210 114h6v6h-6zM216 120h6v6h-6zM216 126h24v6h-24zM222 132h18v6h-18zM228 138h12v6h-12z"/><path fill-opacity="0.55" d="M222 90h12v6h-12zM0 96h6v6h-6zM12 96h6v6h-6zM216 96h6v6h-6zM234 96h6v6h-6zM216 114h6v6h-6zM222 120h18v6h-18zM222 174h18v6h-18zM186 180h54v6h-54zM168 186h12v6h-12zM216 186h24v6h-24zM228 192h12v6h-12zM228 198h12v6h-12zM162 204h12v6h-12zM234 204h6v6h-6zM156 210h24v6h-24zM156 216h24v6h-24zM150 222h36v6h-36zM150 228h54v6h-54zM234 228h6v6h-6zM144 234h96v6h-96z"/><path fill-opacity="0.65" d="M6 102h6v6h-6zM222 102h6v6h-6zM234 102h6v6h-6zM234 108h6v6h-6zM222 114h12v6h-12zM180 192h6v6h-6zM210 192h6v6h-6zM174 198h6v6h-6zM216 198h6v6h-6zM186 204h6v6h-6zM210 204h6v6h-6zM192 210h12v6h-12zM222 210h12v6h-12zM192 216h6v6h-6zM234 216h6v6h-6zM198 222h6v6h-6zM228 222h6v6h-6z"/><path fill-opacity="0.70" d="M228 102h6v6h-6zM222 108h6v6h-6zM186 192h6v6h-6zM180 198h6v6h-6zM210 198h6v6h-6zM192 204h18v6h-18zM204 210h18v6h-18zM198 216h6v6h-6zM228 216h6v6h-6zM204 222h24v6h-24z"/><path fill-opacity="0.75" d="M228 108h6v6h-6zM192 192h18v6h-18zM204 216h6v6h-6zM222 216h6v6h-6z"/><path fill-opacity="0.95" d="M0 198h12v6h-12zM0 204h60v6h-60zM0 210h90v6h-90zM0 216h108v6h-108zM0 222h114v6h-114zM0 228h114v6h-114zM0 234h120v6h-120z"/><path fill-opacity="0.85" d="M192 198h12v6h-12z"/></g>
<g clip-path="url(#landclip)"><g filter="url(#bl)"><path fill="#0080ff" d="M-4 -4h4v4h-4zM4 -4h8v4h-8zM16 -4h4v4h-4zM72 -4h4v4h-4zM136 -4h4v4h-4zM8 0h4v4h-4zM16 0h4v4h-4zM52 0h4v4h-4zM104 0h4v4h-4zM12 4h4v4h-4zM76 4h4v4h-4zM104 4h4v4h-4zM16 8h4v4h-4zM96 8h4v4h-4zM148 8h4v4h-4zM140 12h4v4h-4zM168 12h4v4h-4zM20 16h4v4h-4zM136 16h4v4h-4zM176 16h4v4h-4zM4 20h4v4h-4zM12 20h4v4h-4zM36 20h4v4h-4zM48 20h4v4h-4zM104 20h4v4h-4zM112 20h4v4h-4zM128 20h4v4h-4zM36 24h4v4h-4zM148 24h4v4h-4zM40 28h4v4h-4zM48 28h4v4h-4zM180 28h4v4h-4zM24 36h4v4h-4zM140 168h4v4h-4zM140 196h4v4h-4z"/><path fill="#008bff" d="M0 -4h4v4h-4zM24 -4h4v4h-4zM32 -4h8v4h-8zM52 -4h8v4h-8zM140 -4h4v4h-4zM4 0h4v4h-4zM28 0h8v4h-8zM64 0h4v4h-4zM8 4h4v4h-4zM28 4h8v4h-8zM148 4h4v4h-4zM36 8h8v4h-8zM48 8h4v4h-4zM60 8h4v4h-4zM68 12h4v4h-4zM84 12h4v4h-4zM32 16h4v4h-4zM72 16h4v4h-4zM92 16h4v4h-4zM-4 20h4v4h-4zM40 20h4v4h-4zM76 20h4v4h-4zM96 20h8v4h-8zM140 20h4v4h-4zM28 24h4v4h-4zM172 24h4v4h-4zM4 28h4v4h-4zM160 28h4v4h-4zM32 32h4v4h-4zM28 36h4v4h-4zM112 136h4v4h-4zM124 144h4v4h-4zM128 148h4v4h-4zM168 180h4v4h-4zM156 184h4v4h-4zM176 184h4v4h-4z"/><path fill="#007aff" d="M12 -4h4v4h-4zM68 -4h4v4h-4zM108 -4h4v4h-4zM120 -4h8v4h-8zM152 -4h4v4h-4zM12 0h4v4h-4zM24 0h4v4h-4zM60 0h4v4h-4zM108 0h4v4h-4zM116 0h4v4h-4zM16 4h4v4h-4zM136 4h4v4h-4zM156 4h4v4h-4zM4 8h4v4h-4zM152 8h4v4h-4zM0 12h4v4h-4zM48 12h4v4h-4zM56 12h4v4h-4zM-4 16h4v4h-4zM120 16h4v4h-4zM128 16h4v4h-4zM20 20h4v4h-4zM12 24h4v4h-4zM16 28h4v4h-4zM132 152h4v4h-4zM120 180h4v4h-4zM152 180h4v4h-4zM160 180h4v4h-4zM140 184h4v4h-4zM160 184h4v4h-4zM168 184h4v4h-4zM184 184h4v4h-4zM148 188h8v4h-8z"/><path fill="#0096ff" d="M20 -4h4v4h-4zM28 -4h4v4h-4zM20 0h4v4h-4zM156 0h4v4h-4zM20 4h8v4h-8zM64 4h4v4h-4zM80 4h4v4h-4zM100 4h4v4h-4zM152 4h4v4h-4zM28 8h4v4h-4zM64 8h4v4h-4zM144 8h4v4h-4zM8 12h8v4h-8zM32 12h4v4h-4zM160 12h4v4h-4zM12 16h4v4h-4zM40 16h8v4h-8zM80 16h8v4h-8zM16 20h4v4h-4zM28 20h4v4h-4zM136 20h4v4h-4zM4 24h8v4h-8zM160 24h4v4h-4zM176 24h4v4h-4zM0 28h4v4h-4zM52 28h4v4h-4zM156 28h4v4h-4zM176 28h4v4h-4zM8 32h4v4h-4zM40 32h4v4h-4zM32 36h4v4h-4zM112 132h4v4h-4zM124 148h4v4h-4zM140 172h4v4h-4zM120 176h4v4h-4zM176 180h4v4h-4zM184 180h4v4h-4z"/><path fill="#0085ff" d="M40 -4h4v4h-4zM104 -4h4v4h-4zM112 -4h4v4h-4zM-4 0h4v4h-4zM40 0h4v4h-4zM56 0h4v4h-4zM68 0h4v4h-4zM140 0h4v4h-4zM152 0h4v4h-4zM88 4h4v4h-4zM164 4h8v4h-8zM-4 8h4v4h-4zM80 8h12v4h-12zM100 8h4v4h-4zM156 8h12v4h-12zM172 8h4v4h-4zM4 12h4v4h-4zM24 12h8v4h-8zM96 12h4v4h-4zM108 12h4v4h-4zM36 16h4v4h-4zM52 16h4v4h-4zM100 16h4v4h-4zM112 16h4v4h-4zM124 16h4v4h-4zM152 16h4v4h-4zM164 16h4v4h-4zM0 20h4v4h-4zM24 20h4v4h-4zM32 20h4v4h-4zM80 20h4v4h-4zM148 20h4v4h-4zM36 32h4v4h-4zM140 164h4v4h-4zM128 172h4v4h-4zM148 184h4v4h-4zM180 184h4v4h-4zM120 188h4v4h-4zM180 188h4v4h-4z"/><path fill="#006eff" d="M44 -4h4v4h-4zM60 -4h4v4h-4zM116 -4h4v4h-4zM128 -4h4v4h-4zM36 0h4v4h-4zM72 0h4v4h-4zM0 4h4v4h-4zM84 4h4v4h-4zM96 4h4v4h-4zM108 4h12v4h-12zM140 4h4v4h-4zM160 4h4v4h-4zM20 12h4v4h-4zM104 12h4v4h-4zM112 12h8v4h-8zM144 12h4v4h-4zM152 12h4v4h-4zM96 16h4v4h-4zM104 16h4v4h-4zM132 20h4v4h-4zM0 24h4v4h-4zM164 184h4v4h-4zM176 188h4v4h-4zM136 192h4v4h-4zM160 192h4v4h-4zM168 192h4v4h-4zM120 196h4v4h-4zM144 196h4v4h-4zM164 196h4v4h-4zM116 200h4v4h-4zM116 224h4v4h-4z"/><path fill="#0090ff" d="M48 -4h4v4h-4zM132 -4h4v4h-4zM0 0h4v4h-4zM76 0h12v4h-12zM-4 4h4v4h-4zM36 4h4v4h-4zM44 4h12v4h-12zM68 4h4v4h-4zM92 4h4v4h-4zM20 8h4v4h-4zM32 8h4v4h-4zM44 8h4v4h-4zM52 8h8v4h-8zM68 8h4v4h-4zM76 8h4v4h-4zM92 8h4v4h-4zM104 8h4v4h-4zM60 12h4v4h-4zM72 12h4v4h-4zM80 12h4v4h-4zM172 12h4v4h-4zM0 16h4v4h-4zM16 16h4v4h-4zM68 16h4v4h-4zM108 16h4v4h-4zM132 16h4v4h-4zM140 16h4v4h-4zM52 20h4v4h-4zM84 20h4v4h-4zM92 20h4v4h-4zM108 20h4v4h-4zM116 20h4v4h-4zM124 20h4v4h-4zM156 20h4v4h-4zM60 24h4v4h-4zM84 24h4v4h-4zM100 24h8v4h-8zM28 28h4v4h-4zM36 28h4v4h-4zM132 28h4v4h-4zM24 32h4v4h-4zM120 144h4v4h-4zM132 164h4v4h-4zM156 180h4v4h-4zM172 180h4v4h-4zM172 184h4v4h-4zM172 188h4v4h-4z"/><path fill="#0069ff" d="M64 -4h4v4h-4zM48 0h4v4h-4zM136 0h4v4h-4zM148 0h4v4h-4zM72 4h4v4h-4zM144 4h4v4h-4zM116 8h4v4h-4zM132 8h12v4h-12zM40 12h4v4h-4zM124 12h4v4h-4zM24 16h4v4h-4zM120 20h4v4h-4zM24 24h4v4h-4zM132 156h4v4h-4zM140 180h4v4h-4zM116 188h4v4h-4zM144 188h4v4h-4zM168 188h4v4h-4zM120 192h4v4h-4zM160 196h4v4h-4zM168 196h4v4h-4zM148 216h12v4h-12z"/><path fill="#0074ff" d="M144 -4h8v4h-8zM56 4h4v4h-4zM124 4h4v4h-4zM12 8h4v4h-4zM120 12h4v4h-4zM128 12h4v4h-4zM148 12h4v4h-4zM8 16h4v4h-4zM116 16h4v4h-4zM160 16h4v4h-4zM168 16h4v4h-4zM8 20h4v4h-4zM144 20h4v4h-4zM16 24h4v4h-4zM120 24h4v4h-4zM20 28h4v4h-4zM120 184h4v4h-4zM152 184h4v4h-4zM156 188h8v4h-8zM140 192h4v4h-4zM148 192h4v4h-4zM148 196h4v4h-4zM156 196h4v4h-4zM136 232h4v4h-4z"/><path fill="#009cff" d="M44 0h4v4h-4zM88 0h4v4h-4zM60 4h4v4h-4zM0 8h4v4h-4zM8 8h4v4h-4zM24 8h4v4h-4zM-4 12h4v4h-4zM16 12h4v4h-4zM36 12h4v4h-4zM52 12h4v4h-4zM76 12h4v4h-4zM92 12h4v4h-4zM156 12h4v4h-4zM4 16h4v4h-4zM28 16h4v4h-4zM144 16h4v4h-4zM156 16h4v4h-4zM64 20h4v4h-4zM72 20h4v4h-4zM152 20h4v4h-4zM172 20h4v4h-4zM-4 24h4v4h-4zM20 24h4v4h-4zM40 24h4v4h-4zM48 24h4v4h-4zM80 24h4v4h-4zM88 24h4v4h-4zM140 24h4v4h-4zM12 28h4v4h-4zM24 28h4v4h-4zM32 28h4v4h-4zM44 28h4v4h-4zM64 28h4v4h-4zM100 28h8v4h-8zM168 28h4v4h-4zM12 32h4v4h-4zM20 32h4v4h-4zM28 32h4v4h-4zM36 36h8v4h-8zM108 120h4v4h-4zM116 140h4v4h-4zM148 176h8v4h-8zM144 180h4v4h-4zM188 180h4v4h-4zM140 188h4v4h-4z"/><path fill="#005eff" d="M112 0h4v4h-4zM132 0h4v4h-4zM144 0h4v4h-4zM132 4h4v4h-4zM132 200h4v4h-4zM156 200h4v4h-4zM132 208h4v4h-4zM132 212h4v4h-4zM148 212h4v4h-4zM160 216h4v4h-4zM152 224h4v4h-4zM116 228h4v4h-4zM128 228h4v4h-4zM140 228h4v4h-4zM156 228h4v4h-4zM140 232h4v4h-4z"/><path fill="#0063ff" d="M120 0h8v4h-8zM4 4h4v4h-4zM120 4h4v4h-4zM120 8h8v4h-8zM168 8h4v4h-4zM136 156h4v4h-4zM132 160h4v4h-4zM132 168h4v4h-4zM164 188h4v4h-4zM144 192h4v4h-4zM152 192h8v4h-8zM172 192h4v4h-4zM116 196h4v4h-4zM148 204h4v4h-4zM144 208h4v4h-4zM140 216h4v4h-4zM132 220h4v4h-4zM128 224h4v4h-4zM148 224h4v4h-4zM156 224h4v4h-4zM132 228h4v4h-4zM160 228h4v4h-4z"/><path fill="#0058ff" d="M128 0h4v4h-4zM128 4h4v4h-4zM112 8h4v4h-4zM128 8h4v4h-4zM136 12h4v4h-4zM136 160h4v4h-4zM128 176h4v4h-4zM124 180h4v4h-4zM116 192h4v4h-4zM176 192h4v4h-4zM152 196h4v4h-4zM148 200h4v4h-4zM160 200h8v4h-8zM116 204h4v4h-4zM148 208h8v4h-8z"/><path fill="#00a2ff" d="M40 4h4v4h-4zM44 12h4v4h-4zM64 12h4v4h-4zM88 12h4v4h-4zM164 12h4v4h-4zM76 16h4v4h-4zM148 16h4v4h-4zM172 16h4v4h-4zM160 20h12v4h-12zM180 20h4v4h-4zM64 24h4v4h-4zM76 24h4v4h-4zM96 24h4v4h-4zM124 24h8v4h-8zM136 24h4v4h-4zM-4 28h4v4h-4zM56 28h4v4h-4zM88 28h4v4h-4zM128 28h4v4h-4zM148 28h4v4h-4zM56 32h4v4h-4zM16 36h8v4h-8zM48 36h4v4h-4zM124 176h4v4h-4zM144 176h4v4h-4zM172 176h4v4h-4zM184 176h4v4h-4zM164 180h4v4h-4zM180 180h4v4h-4zM144 184h4v4h-4z"/><path fill="#00a7ff" d="M72 8h4v4h-4zM48 16h4v4h-4zM56 16h12v4h-12zM88 16h4v4h-4zM44 20h4v4h-4zM56 20h8v4h-8zM68 20h4v4h-4zM88 20h4v4h-4zM52 24h4v4h-4zM68 24h4v4h-4zM116 24h4v4h-4zM144 24h4v4h-4zM156 24h4v4h-4zM180 24h4v4h-4zM68 28h4v4h-4zM96 28h4v4h-4zM108 28h20v4h-20zM164 28h4v4h-4zM-4 32h4v4h-4zM16 32h4v4h-4zM124 32h4v4h-4zM44 36h4v4h-4zM136 152h4v4h-4zM124 172h4v4h-4zM164 172h4v4h-4zM140 176h4v4h-4zM160 176h8v4h-8zM148 180h4v4h-4z"/><path fill="#004dff" d="M108 8h4v4h-4zM136 180h4v4h-4zM124 192h4v4h-4zM120 200h4v4h-4zM152 200h4v4h-4zM112 204h4v4h-4zM144 204h4v4h-4zM116 208h4v4h-4zM112 216h4v4h-4zM132 216h4v4h-4zM144 216h4v4h-4zM164 216h4v4h-4zM112 220h4v4h-4zM148 220h4v4h-4zM112 224h4v4h-4zM132 224h8v4h-8zM164 224h4v4h-4z"/><path fill="#00adff" d="M100 12h4v4h-4zM176 20h4v4h-4zM32 24h4v4h-4zM56 24h4v4h-4zM72 24h4v4h-4zM92 24h4v4h-4zM112 24h4v4h-4zM152 24h4v4h-4zM60 28h4v4h-4zM72 28h8v4h-8zM84 28h4v4h-4zM136 28h4v4h-4zM144 28h4v4h-4zM152 28h4v4h-4zM4 32h4v4h-4zM72 36h4v4h-4zM84 36h4v4h-4zM96 36h8v4h-8zM36 40h4v4h-4zM108 116h4v4h-4zM120 140h4v4h-4zM140 160h4v4h-4zM144 168h4v4h-4zM156 176h4v4h-4z"/><path fill="#0052ff" d="M132 12h4v4h-4zM136 196h4v4h-4zM136 200h12v4h-12zM132 204h4v4h-4zM140 204h4v4h-4zM112 212h8v4h-8zM136 212h4v4h-4zM136 216h4v4h-4zM136 220h4v4h-4zM168 220h4v4h-4zM124 228h4v4h-4z"/><path fill="#00b2ff" d="M44 24h4v4h-4zM132 24h4v4h-4zM164 24h4v4h-4zM8 28h4v4h-4zM80 28h4v4h-4zM92 28h4v4h-4zM172 28h4v4h-4zM44 32h8v4h-8zM60 32h4v4h-4zM68 32h4v4h-4zM84 32h4v4h-4zM96 32h4v4h-4zM108 32h4v4h-4zM4 36h4v4h-4zM112 36h4v4h-4zM140 36h4v4h-4zM28 40h8v4h-8zM60 40h4v4h-4zM108 132h4v4h-4zM128 168h4v4h-4zM144 172h4v4h-4zM156 172h4v4h-4zM176 176h4v4h-4z"/><path fill="#00c3ff" d="M108 24h4v4h-4zM64 32h4v4h-4zM80 32h4v4h-4zM112 32h8v4h-8zM140 32h4v4h-4zM148 32h4v4h-4zM-4 36h4v4h-4zM68 36h4v4h-4zM20 40h4v4h-4zM72 40h4v4h-4zM128 144h4v4h-4zM124 168h4v4h-4zM164 168h4v4h-4zM176 168h4v4h-4zM152 172h4v4h-4zM168 172h4v4h-4zM184 172h4v4h-4zM180 176h4v4h-4zM188 176h4v4h-4z"/><path fill="#00b8ff" d="M168 24h4v4h-4zM140 28h4v4h-4zM100 32h4v4h-4zM120 32h4v4h-4zM128 32h4v4h-4zM144 32h4v4h-4zM156 32h8v4h-8zM8 36h4v4h-4zM64 36h4v4h-4zM104 36h4v4h-4zM148 36h4v4h-4zM24 40h4v4h-4zM116 136h4v4h-4zM132 148h4v4h-4zM128 156h4v4h-4zM148 168h4v4h-4zM148 172h4v4h-4zM172 172h8v4h-8z"/><path fill="#00c9ff" d="M0 32h4v4h-4zM72 32h4v4h-4zM92 32h4v4h-4zM136 32h4v4h-4zM56 36h4v4h-4zM88 36h4v4h-4zM116 36h8v4h-8zM-4 40h4v4h-4zM40 40h16v4h-16zM64 40h4v4h-4zM84 40h4v4h-4zM132 40h4v4h-4zM48 44h4v4h-4zM108 128h4v4h-4zM116 132h4v4h-4zM120 148h4v4h-4zM140 156h4v4h-4zM128 160h4v4h-4zM160 172h4v4h-4z"/><path fill="#00beff" d="M52 32h4v4h-4zM76 32h4v4h-4zM132 32h4v4h-4zM152 32h4v4h-4zM12 36h4v4h-4zM108 36h4v4h-4zM144 36h4v4h-4zM12 40h8v4h-8zM104 116h4v4h-4zM108 124h8v4h-8zM112 128h4v4h-4zM116 144h4v4h-4zM128 152h4v4h-4zM168 176h4v4h-4z"/><path fill="#00daff" d="M88 32h4v4h-4zM52 36h4v4h-4zM136 36h4v4h-4zM0 40h8v4h-8zM68 40h4v4h-4zM80 40h4v4h-4zM104 40h4v4h-4zM112 40h8v4h-8zM32 44h4v4h-4zM136 148h4v4h-4z"/><path fill="#00e0ff" d="M104 32h4v4h-4zM132 36h4v4h-4zM8 40h4v4h-4zM76 40h4v4h-4zM96 40h4v4h-4zM124 40h4v4h-4zM4 44h4v4h-4zM24 44h4v4h-4zM96 44h4v4h-4zM104 44h4v4h-4zM216 160h4v4h-4zM152 164h4v4h-4zM160 164h4v4h-4zM176 164h4v4h-4zM168 168h8v4h-8zM200 168h4v4h-4zM180 172h4v4h-4zM192 172h4v4h-4z"/><path fill="#00cfff" d="M0 36h4v4h-4zM92 36h4v4h-4zM124 36h8v4h-8zM108 40h4v4h-4zM128 40h4v4h-4zM112 120h4v4h-4zM112 140h4v4h-4zM152 160h4v4h-4zM128 164h4v4h-4zM152 168h4v4h-4zM208 168h4v4h-4zM192 176h4v4h-4z"/><path fill="#00d4ff" d="M60 36h4v4h-4zM76 36h8v4h-8zM56 40h4v4h-4zM88 40h8v4h-8zM156 168h4v4h-4zM180 168h4v4h-4z"/><path fill="#00e5ff" d="M100 40h4v4h-4zM120 40h4v4h-4zM0 44h4v4h-4zM12 44h4v4h-4zM40 44h4v4h-4zM52 44h4v4h-4zM104 120h4v4h-4zM144 160h8v4h-8zM144 164h4v4h-4zM156 164h4v4h-4zM204 168h4v4h-4zM196 172h4v4h-4z"/><path fill="#00ebff" d="M-4 44h4v4h-4zM16 44h4v4h-4zM108 112h4v4h-4zM112 116h4v4h-4zM148 156h4v4h-4zM124 160h4v4h-4zM172 164h4v4h-4zM184 168h8v4h-8zM188 172h4v4h-4z"/><path fill="#00f1ff" d="M8 44h4v4h-4zM20 44h4v4h-4zM36 44h4v4h-4zM56 44h4v4h-4zM88 44h4v4h-4zM116 44h8v4h-8zM116 148h4v4h-4zM156 156h4v4h-4zM124 164h4v4h-4zM164 164h4v4h-4zM160 168h4v4h-4zM192 168h4v4h-4z"/><path fill="#03fffc" d="M28 44h4v4h-4zM72 44h4v4h-4zM80 44h4v4h-4zM100 44h4v4h-4zM32 48h4v4h-4zM56 48h4v4h-4zM100 48h4v4h-4zM-4 52h4v4h-4zM16 52h4v4h-4zM88 72h4v4h-4zM104 112h4v4h-4zM116 128h4v4h-4zM124 140h4v4h-4zM140 148h4v4h-4zM120 152h8v4h-8zM168 156h8v4h-8z"/><path fill="#00f6ff" d="M44 44h4v4h-4zM68 44h4v4h-4zM84 44h4v4h-4zM92 44h4v4h-4zM108 44h4v4h-4zM48 76h4v4h-4zM108 136h4v4h-4zM124 156h4v4h-4zM144 156h4v4h-4zM164 156h4v4h-4zM156 160h4v4h-4zM212 160h4v4h-4zM168 164h4v4h-4zM204 164h8v4h-8zM196 168h4v4h-4z"/><path fill="#00fcff" d="M60 44h4v4h-4zM76 44h4v4h-4zM4 48h4v4h-4zM20 48h4v4h-4zM40 48h4v4h-4zM48 48h4v4h-4zM60 48h4v4h-4zM76 48h4v4h-4zM116 48h4v4h-4zM164 160h4v4h-4zM148 164h4v4h-4zM184 164h4v4h-4z"/><path fill="#14ffeb" d="M64 44h4v4h-4zM112 44h4v4h-4zM16 48h4v4h-4zM52 48h4v4h-4zM64 48h4v4h-4zM80 48h4v4h-4zM112 48h4v4h-4zM24 52h4v4h-4zM76 52h4v4h-4zM92 52h8v4h-8zM12 56h4v4h-4zM48 56h4v4h-4zM36 72h4v4h-4zM56 76h4v4h-4zM48 80h4v4h-4zM100 80h4v4h-4zM88 88h4v4h-4zM100 88h4v4h-4zM96 96h4v4h-4zM132 96h4v4h-4zM160 96h4v4h-4zM104 124h4v4h-4zM128 140h4v4h-4zM152 144h4v4h-4zM148 152h4v4h-4zM180 152h4v4h-4zM120 156h4v4h-4zM160 156h4v4h-4zM208 156h4v4h-4zM172 160h4v4h-4zM192 160h4v4h-4zM204 160h8v4h-8zM192 164h4v4h-4zM200 164h4v4h-4z"/><path fill="#1affe5" d="M-4 48h4v4h-4zM44 48h4v4h-4zM96 48h4v4h-4zM28 52h12v4h-12zM52 52h4v4h-4zM64 52h4v4h-4zM88 52h4v4h-4zM104 52h4v4h-4zM32 80h8v4h-8zM88 80h8v4h-8zM132 80h8v4h-8zM92 84h4v4h-4zM104 84h8v4h-8zM164 88h4v4h-4zM156 96h4v4h-4zM108 100h4v4h-4zM140 104h4v4h-4zM128 112h4v4h-4zM148 112h4v4h-4zM100 116h4v4h-4zM104 128h4v4h-4zM132 144h4v4h-4zM172 152h4v4h-4zM176 160h4v4h-4zM188 164h4v4h-4z"/><path fill="#09fff6" d="M0 48h4v4h-4zM36 48h4v4h-4zM72 48h4v4h-4zM84 48h4v4h-4zM108 48h4v4h-4zM120 48h4v4h-4zM12 52h4v4h-4zM48 52h4v4h-4zM60 76h4v4h-4zM132 76h4v4h-4zM44 80h4v4h-4zM56 88h4v4h-4zM120 136h4v4h-4zM152 152h4v4h-4zM160 160h4v4h-4zM168 160h4v4h-4zM180 160h4v4h-4zM200 160h4v4h-4zM180 164h4v4h-4zM212 164h4v4h-4z"/><path fill="#0efff1" d="M8 48h8v4h-8zM88 48h4v4h-4zM8 52h4v4h-4zM40 52h4v4h-4zM68 52h4v4h-4zM100 52h4v4h-4zM44 76h4v4h-4zM72 76h4v4h-4zM96 76h4v4h-4zM56 80h4v4h-4zM64 80h4v4h-4zM120 80h4v4h-4zM128 80h4v4h-4zM56 84h4v4h-4zM68 84h4v4h-4zM116 84h4v4h-4zM128 100h4v4h-4zM108 140h4v4h-4zM156 148h4v4h-4zM140 152h8v4h-8zM152 156h4v4h-4zM176 156h4v4h-4zM216 156h4v4h-4z"/><path fill="#1fffe0" d="M24 48h8v4h-8zM68 48h4v4h-4zM92 48h4v4h-4zM44 52h4v4h-4zM56 52h4v4h-4zM72 52h4v4h-4zM108 52h4v4h-4zM96 56h4v4h-4zM32 72h4v4h-4zM80 72h4v4h-4zM36 76h4v4h-4zM52 76h4v4h-4zM108 76h4v4h-4zM124 76h4v4h-4zM136 76h4v4h-4zM52 80h4v4h-4zM72 80h4v4h-4zM112 80h4v4h-4zM140 80h4v4h-4zM152 80h4v4h-4zM132 84h8v4h-8zM148 84h4v4h-4zM76 88h4v4h-4zM156 92h4v4h-4zM164 92h4v4h-4zM124 96h4v4h-4zM168 112h4v4h-4zM148 132h4v4h-4zM104 136h4v4h-4zM124 136h4v4h-4zM136 136h4v4h-4zM140 140h4v4h-4zM108 144h4v4h-4zM164 144h4v4h-4zM108 148h8v4h-8zM172 148h4v4h-4zM112 152h4v4h-4zM156 152h4v4h-4zM164 152h8v4h-8zM212 152h4v4h-4zM196 156h4v4h-4zM196 160h4v4h-4z"/><path fill="#2bffd4" d="M104 48h4v4h-4zM84 52h4v4h-4zM16 56h4v4h-4zM72 56h4v4h-4zM108 56h4v4h-4zM108 60h8v4h-8zM56 64h4v4h-4zM12 68h4v4h-4zM64 68h4v4h-4zM16 72h4v4h-4zM56 72h4v4h-4zM116 72h4v4h-4zM124 72h4v4h-4zM32 76h4v4h-4zM80 76h4v4h-4zM88 76h4v4h-4zM112 76h4v4h-4zM96 80h4v4h-4zM104 80h8v4h-8zM116 80h4v4h-4zM156 80h4v4h-4zM44 84h4v4h-4zM72 84h4v4h-4zM96 84h4v4h-4zM112 84h4v4h-4zM144 84h4v4h-4zM152 84h4v4h-4zM52 88h4v4h-4zM128 88h4v4h-4zM136 88h4v4h-4zM160 88h4v4h-4zM56 92h4v4h-4zM88 92h4v4h-4zM104 92h4v4h-4zM148 100h4v4h-4zM160 100h4v4h-4zM176 100h4v4h-4zM120 104h4v4h-4zM168 104h8v4h-8zM140 116h4v4h-4zM176 116h4v4h-4zM116 120h4v4h-4zM124 120h4v4h-4zM164 120h4v4h-4zM120 124h4v4h-4zM144 132h4v4h-4zM168 132h4v4h-4zM152 136h4v4h-4zM176 136h4v4h-4zM148 140h4v4h-4zM156 140h4v4h-4zM192 140h4v4h-4zM144 148h4v4h-4zM116 152h4v4h-4zM160 152h4v4h-4zM200 156h4v4h-4zM184 160h4v4h-4z"/><path fill="#36ffc9" d="M0 52h4v4h-4zM80 52h4v4h-4zM20 56h12v4h-12zM36 56h4v4h-4zM84 56h4v4h-4zM104 56h4v4h-4zM20 60h4v4h-4zM100 60h4v4h-4zM24 64h8v4h-8zM64 64h4v4h-4zM100 64h4v4h-4zM20 68h4v4h-4zM44 68h4v4h-4zM56 68h4v4h-4zM84 68h4v4h-4zM104 68h4v4h-4zM116 68h4v4h-4zM20 72h8v4h-8zM40 72h8v4h-8zM72 72h4v4h-4zM132 72h4v4h-4zM100 76h4v4h-4zM80 80h4v4h-4zM80 84h8v4h-8zM156 84h4v4h-4zM72 88h4v4h-4zM80 88h4v4h-4zM92 88h4v4h-4zM112 88h12v4h-12zM156 88h4v4h-4zM60 92h4v4h-4zM76 92h4v4h-4zM96 92h4v4h-4zM128 92h4v4h-4zM148 92h4v4h-4zM100 96h4v4h-4zM108 96h4v4h-4zM112 100h4v4h-4zM132 100h4v4h-4zM172 100h4v4h-4zM108 104h4v4h-4zM124 104h4v4h-4zM152 104h4v4h-4zM148 108h4v4h-4zM172 108h4v4h-4zM180 108h8v4h-8zM116 116h4v4h-4zM136 116h4v4h-4zM172 116h4v4h-4zM180 116h4v4h-4zM80 120h4v4h-4zM132 120h4v4h-4zM140 128h4v4h-4zM148 128h4v4h-4zM124 132h4v4h-4zM100 136h4v4h-4zM184 136h4v4h-4zM160 140h4v4h-4zM168 144h8v4h-8zM188 152h4v4h-4zM196 152h8v4h-8zM180 156h8v4h-8z"/><path fill="#30ffcf" d="M4 52h4v4h-4zM20 52h4v4h-4zM4 56h4v4h-4zM32 56h4v4h-4zM40 56h4v4h-4zM56 56h4v4h-4zM92 56h4v4h-4zM100 56h4v4h-4zM112 56h4v4h-4zM8 60h4v4h-4zM44 60h4v4h-4zM104 60h4v4h-4zM40 64h8v4h-8zM28 68h4v4h-4zM48 72h4v4h-4zM60 72h4v4h-4zM84 72h4v4h-4zM96 72h4v4h-4zM108 72h8v4h-8zM28 76h4v4h-4zM64 76h4v4h-4zM84 76h4v4h-4zM120 76h4v4h-4zM140 76h4v4h-4zM40 80h4v4h-4zM124 80h4v4h-4zM144 80h4v4h-4zM48 84h4v4h-4zM76 84h4v4h-4zM128 84h4v4h-4zM68 88h4v4h-4zM84 88h4v4h-4zM148 88h4v4h-4zM84 92h4v4h-4zM100 92h4v4h-4zM108 92h4v4h-4zM140 92h8v4h-8zM160 92h4v4h-4zM76 96h4v4h-4zM84 96h4v4h-4zM112 96h4v4h-4zM144 96h4v4h-4zM152 96h4v4h-4zM92 100h4v4h-4zM152 100h4v4h-4zM92 104h4v4h-4zM136 104h4v4h-4zM156 104h4v4h-4zM164 104h4v4h-4zM176 104h8v4h-8zM124 108h4v4h-4zM140 108h4v4h-4zM124 128h4v4h-4zM180 128h4v4h-4zM120 132h4v4h-4zM136 132h8v4h-8zM180 136h4v4h-4zM168 140h4v4h-4zM176 140h4v4h-4zM136 144h4v4h-4zM176 144h4v4h-4zM220 144h4v4h-4zM148 148h4v4h-4zM160 148h12v4h-12zM176 148h4v4h-4zM184 148h4v4h-4zM192 152h4v4h-4zM188 160h4v4h-4z"/><path fill="#25ffda" d="M60 52h4v4h-4zM112 52h8v4h-8zM0 56h4v4h-4zM52 56h4v4h-4zM60 56h8v4h-8zM56 60h4v4h-4zM68 60h4v4h-4zM88 60h4v4h-4zM32 68h4v4h-4zM120 72h4v4h-4zM20 76h8v4h-8zM40 76h4v4h-4zM68 76h4v4h-4zM92 76h4v4h-4zM104 76h4v4h-4zM116 76h4v4h-4zM128 76h4v4h-4zM60 80h4v4h-4zM68 80h4v4h-4zM76 80h4v4h-4zM148 80h4v4h-4zM40 84h4v4h-4zM52 84h4v4h-4zM88 84h4v4h-4zM120 84h8v4h-8zM140 84h4v4h-4zM48 88h4v4h-4zM64 88h4v4h-4zM144 88h4v4h-4zM120 92h4v4h-4zM132 92h4v4h-4zM140 96h4v4h-4zM144 100h4v4h-4zM168 100h4v4h-4zM96 104h4v4h-4zM184 104h4v4h-4zM100 108h4v4h-4zM108 108h4v4h-4zM136 108h4v4h-4zM76 112h4v4h-4zM100 112h4v4h-4zM112 112h4v4h-4zM136 112h4v4h-4zM80 116h4v4h-4zM100 120h4v4h-4zM128 120h4v4h-4zM116 124h4v4h-4zM104 132h4v4h-4zM152 132h4v4h-4zM164 132h4v4h-4zM112 144h4v4h-4zM148 144h4v4h-4zM156 144h8v4h-8zM152 148h4v4h-4zM188 148h4v4h-4zM176 152h4v4h-4zM204 156h4v4h-4zM212 156h4v4h-4zM196 164h4v4h-4z"/><path fill="#3cffc3" d="M120 52h4v4h-4zM44 56h4v4h-4zM68 56h4v4h-4zM76 56h8v4h-8zM88 56h4v4h-4zM28 60h4v4h-4zM48 60h8v4h-8zM76 60h4v4h-4zM92 60h4v4h-4zM60 64h4v4h-4zM72 64h12v4h-12zM92 64h4v4h-4zM116 64h8v4h-8zM52 68h4v4h-4zM96 68h4v4h-4zM64 72h4v4h-4zM128 72h4v4h-4zM76 76h4v4h-4zM144 76h4v4h-4zM100 84h4v4h-4zM160 84h4v4h-4zM108 88h4v4h-4zM132 88h4v4h-4zM140 88h4v4h-4zM68 92h8v4h-8zM112 92h8v4h-8zM124 92h4v4h-4zM152 92h4v4h-4zM120 96h4v4h-4zM136 96h4v4h-4zM120 100h4v4h-4zM136 100h4v4h-4zM88 104h4v4h-4zM112 104h4v4h-4zM148 104h4v4h-4zM160 104h4v4h-4zM128 108h8v4h-8zM144 108h4v4h-4zM152 108h4v4h-4zM176 108h4v4h-4zM72 112h4v4h-4zM120 112h4v4h-4zM132 112h4v4h-4zM160 112h4v4h-4zM184 112h4v4h-4zM68 116h4v4h-4zM76 116h4v4h-4zM160 116h8v4h-8zM68 120h4v4h-4zM120 120h4v4h-4zM136 120h4v4h-4zM156 120h8v4h-8zM72 124h8v4h-8zM100 124h4v4h-4zM124 124h4v4h-4zM140 124h4v4h-4zM148 124h8v4h-8zM160 124h4v4h-4zM100 128h4v4h-4zM120 128h4v4h-4zM168 128h4v4h-4zM160 132h4v4h-4zM176 132h4v4h-4zM136 140h4v4h-4zM164 140h4v4h-4zM172 140h4v4h-4zM144 144h4v4h-4zM180 144h8v4h-8zM180 148h4v4h-4zM216 148h4v4h-4zM216 152h4v4h-4zM188 156h8v4h-8z"/><path fill="#5effa2" d="M8 56h4v4h-4zM20 64h4v4h-4zM72 96h4v4h-4zM124 112h4v4h-4zM148 116h4v4h-4zM188 120h4v4h-4zM196 120h8v4h-8zM80 124h4v4h-4zM96 124h4v4h-4zM132 124h4v4h-4zM156 124h4v4h-4zM192 124h4v4h-4zM200 124h4v4h-4zM208 124h4v4h-4zM172 128h4v4h-4zM196 128h4v4h-4zM220 128h4v4h-4zM148 136h4v4h-4zM204 148h4v4h-4z"/><path fill="#47ffb8" d="M4 60h4v4h-4zM12 60h4v4h-4zM72 60h4v4h-4zM12 64h4v4h-4zM32 64h8v4h-8zM68 64h4v4h-4zM24 68h4v4h-4zM60 68h4v4h-4zM100 68h4v4h-4zM108 68h4v4h-4zM84 80h4v4h-4zM60 84h8v4h-8zM44 88h4v4h-4zM80 92h4v4h-4zM88 96h4v4h-4zM128 96h4v4h-4zM88 100h4v4h-4zM96 100h4v4h-4zM104 100h4v4h-4zM116 104h4v4h-4zM144 104h4v4h-4zM96 108h4v4h-4zM156 108h16v4h-16zM156 112h4v4h-4zM164 112h4v4h-4zM176 112h4v4h-4zM72 116h4v4h-4zM124 116h4v4h-4zM76 120h4v4h-4zM140 120h8v4h-8zM152 120h4v4h-4zM168 120h4v4h-4zM180 120h8v4h-8zM136 124h4v4h-4zM164 124h4v4h-4zM132 128h8v4h-8zM144 128h4v4h-4zM152 128h4v4h-4zM160 128h4v4h-4zM188 128h4v4h-4zM128 132h4v4h-4zM156 132h4v4h-4zM144 136h4v4h-4zM156 136h4v4h-4zM188 136h4v4h-4zM228 136h4v4h-4zM152 140h4v4h-4zM180 140h8v4h-8zM220 140h4v4h-4zM188 144h4v4h-4zM204 144h4v4h-4zM212 148h4v4h-4zM204 152h8v4h-8z"/><path fill="#58ffa7" d="M16 60h4v4h-4zM8 64h4v4h-4zM112 64h4v4h-4zM112 68h4v4h-4zM92 96h4v4h-4zM116 96h4v4h-4zM140 100h4v4h-4zM128 116h4v4h-4zM72 120h4v4h-4zM96 120h4v4h-4zM204 120h4v4h-4zM172 124h4v4h-4zM204 128h4v4h-4zM224 128h4v4h-4zM224 132h4v4h-4zM140 136h4v4h-4zM224 136h4v4h-4zM192 144h4v4h-4zM212 144h4v4h-4z"/><path fill="#41ffbe" d="M24 60h4v4h-4zM36 60h4v4h-4zM80 60h8v4h-8zM116 60h4v4h-4zM16 64h4v4h-4zM48 64h8v4h-8zM104 64h4v4h-4zM8 68h4v4h-4zM16 68h4v4h-4zM36 68h8v4h-8zM88 68h4v4h-4zM28 72h4v4h-4zM92 72h4v4h-4zM100 72h4v4h-4zM36 84h4v4h-4zM96 88h4v4h-4zM124 88h4v4h-4zM64 92h4v4h-4zM92 92h4v4h-4zM136 92h4v4h-4zM104 96h4v4h-4zM148 96h4v4h-4zM100 100h4v4h-4zM116 100h4v4h-4zM124 100h4v4h-4zM156 100h4v4h-4zM164 100h4v4h-4zM104 104h4v4h-4zM128 104h8v4h-8zM104 108h4v4h-4zM112 108h4v4h-4zM120 108h4v4h-4zM116 112h4v4h-4zM152 112h4v4h-4zM180 112h4v4h-4zM192 116h8v4h-8zM144 124h4v4h-4zM180 124h4v4h-4zM220 124h4v4h-4zM176 128h4v4h-4zM96 132h4v4h-4zM180 132h4v4h-4zM160 136h12v4h-12zM132 140h4v4h-4zM144 140h4v4h-4zM140 144h4v4h-4zM208 148h4v4h-4zM184 152h4v4h-4z"/><path fill="#52ffad" d="M32 60h4v4h-4zM60 60h4v4h-4zM96 60h4v4h-4zM88 64h4v4h-4zM104 72h4v4h-4zM116 108h4v4h-4zM144 116h4v4h-4zM152 116h8v4h-8zM168 116h4v4h-4zM200 116h4v4h-4zM176 120h4v4h-4zM192 120h4v4h-4zM184 124h4v4h-4zM224 124h4v4h-4zM184 132h4v4h-4zM228 132h4v4h-4zM128 136h4v4h-4zM192 136h4v4h-4zM200 144h4v4h-4zM196 148h4v4h-4z"/><path fill="#4dffb2" d="M40 60h4v4h-4zM64 60h4v4h-4zM84 64h4v4h-4zM96 64h4v4h-4zM108 64h4v4h-4zM48 68h4v4h-4zM92 68h4v4h-4zM52 72h4v4h-4zM76 72h4v4h-4zM60 88h4v4h-4zM152 88h4v4h-4zM80 96h4v4h-4zM84 100h4v4h-4zM100 104h4v4h-4zM140 112h4v4h-4zM172 112h4v4h-4zM188 112h4v4h-4zM120 116h4v4h-4zM148 120h4v4h-4zM172 120h4v4h-4zM212 120h8v4h-8zM128 124h4v4h-4zM176 124h4v4h-4zM96 128h4v4h-4zM156 128h4v4h-4zM164 128h4v4h-4zM184 128h4v4h-4zM192 128h4v4h-4zM228 128h4v4h-4zM100 132h4v4h-4zM172 132h4v4h-4zM132 136h4v4h-4zM172 136h4v4h-4zM104 140h4v4h-4zM188 140h4v4h-4zM204 140h4v4h-4zM192 148h4v4h-4zM200 148h4v4h-4z"/><path fill="#63ff9c" d="M120 68h4v4h-4zM132 116h4v4h-4zM188 116h4v4h-4zM212 124h4v4h-4zM128 128h4v4h-4zM132 132h4v4h-4zM216 132h8v4h-8zM200 140h4v4h-4zM224 140h4v4h-4zM196 144h4v4h-4zM216 144h4v4h-4z"/><path fill="#69ff96" d="M144 112h4v4h-4zM208 120h4v4h-4zM168 124h4v4h-4zM188 124h4v4h-4zM204 124h4v4h-4zM200 128h4v4h-4zM208 128h4v4h-4zM188 132h4v4h-4zM196 136h4v4h-4zM208 136h8v4h-8zM220 136h4v4h-4zM208 140h4v4h-4z"/><path fill="#6eff90" d="M184 116h4v4h-4zM196 124h4v4h-4zM216 124h4v4h-4zM216 128h4v4h-4zM200 132h8v4h-8zM200 136h8v4h-8zM196 140h4v4h-4zM212 140h8v4h-8zM208 144h4v4h-4z"/><path fill="#80ff80" d="M212 128h4v4h-4zM212 132h4v4h-4z"/><path fill="#74ff8b" d="M192 132h8v4h-8zM216 136h4v4h-4z"/><path fill="#8bff74" d="M208 132h4v4h-4z"/><path fill="#0025ff" d="M136 164h4v4h-4zM136 172h4v4h-4zM128 204h4v4h-4zM128 208h4v4h-4z"/><path fill="#003bff" d="M136 168h4v4h-4zM124 188h4v4h-4zM136 188h4v4h-4zM136 208h4v4h-4zM144 212h4v4h-4zM116 216h4v4h-4zM128 220h4v4h-4zM156 220h8v4h-8zM152 228h4v4h-4z"/><path fill="#0019ff" d="M132 172h4v4h-4zM120 212h8v4h-8zM120 216h4v4h-4z"/><path fill="#0000f6" d="M132 176h4v4h-4z"/><path fill="#002aff" d="M136 176h4v4h-4zM136 184h4v4h-4zM128 192h4v4h-4zM128 212h4v4h-4zM164 220h4v4h-4z"/><path fill="#0000fc" d="M128 180h4v4h-4z"/><path fill="#0000d4" d="M132 180h4v4h-4z"/><path fill="#0041ff" d="M124 184h4v4h-4zM132 196h4v4h-4zM120 204h4v4h-4zM152 204h4v4h-4zM120 224h8v4h-8zM144 224h4v4h-4zM168 224h4v4h-4zM136 228h4v4h-4zM144 228h8v4h-8zM124 232h8v4h-8z"/><path fill="#0000ad" d="M128 184h4v4h-4z"/><path fill="#0000c9" d="M132 184h4v4h-4zM132 188h4v4h-4z"/><path fill="#0000b8" d="M128 188h4v4h-4z"/><path fill="#0030ff" d="M132 192h4v4h-4zM140 212h4v4h-4zM144 220h4v4h-4z"/><path fill="#0047ff" d="M164 192h4v4h-4zM112 208h4v4h-4zM140 220h4v4h-4zM152 220h4v4h-4zM140 224h4v4h-4zM160 224h4v4h-4zM132 232h4v4h-4zM144 232h4v4h-4z"/><path fill="#0036ff" d="M124 196h8v4h-8zM136 204h4v4h-4zM120 208h4v4h-4zM140 208h4v4h-4zM128 216h4v4h-4zM116 220h4v4h-4zM120 228h4v4h-4z"/><path fill="#001fff" d="M124 200h4v4h-4zM124 204h4v4h-4zM124 208h4v4h-4zM124 220h4v4h-4z"/><path fill="#0008ff" d="M128 200h4v4h-4z"/><path fill="#000eff" d="M124 216h4v4h-4z"/><path fill="#0003ff" d="M120 220h4v4h-4z"/></g></g>
<use href="#lk" fill="#fff"/>

<rect x="26.5" y="-1" width="92.6" height="2.2" fill="#fff"/>
<use href="#fj" fill="none" stroke="#0a1030" stroke-opacity="0.8" stroke-width="3" stroke-dasharray="2.5 1 1.5 1"/>
<use href="#fj2" fill="none" stroke="#fff" stroke-opacity="0.9" stroke-width="1.6" stroke-dasharray="1.5 1 2.5 2"/>
<use href="#falk" fill="#0a1030" fill-opacity="0.8"/>
<use href="#am" fill="none" stroke="#1a1a1a" stroke-opacity="0.8" stroke-width="0.45"/>
<use href="#isl" fill="none" stroke="#1a1a1a" stroke-opacity="0.8" stroke-width="0.45"/>
<use href="#bd" fill="none" stroke="#1a1a1a" stroke-opacity="0.65" stroke-width="0.4"/>
</svg>
<rect x="43.8" y="22.5" width="238.2" height="239.5" fill="none" stroke="#5a5a5a" stroke-width="0.9"/>
<path d="M43.80 262 v-2.4 M43.80 22.5 v2.4" stroke="#555" stroke-width="0.8"/>
<path d="M96.73 262 v-2.4 M96.73 22.5 v2.4" stroke="#555" stroke-width="0.8"/>
<path d="M149.67 262 v-2.4 M149.67 22.5 v2.4" stroke="#555" stroke-width="0.8"/>
<path d="M202.60 262 v-2.4 M202.60 22.5 v2.4" stroke="#555" stroke-width="0.8"/>
<path d="M255.53 262 v-2.4 M255.53 22.5 v2.4" stroke="#555" stroke-width="0.8"/>
<path d="M43.8 262.00 h2.4 M282 262.00 h-2.4" stroke="#555" stroke-width="0.8"/>
<path d="M43.8 222.08 h2.4 M282 222.08 h-2.4" stroke="#555" stroke-width="0.8"/>
<path d="M43.8 182.17 h2.4 M282 182.17 h-2.4" stroke="#555" stroke-width="0.8"/>
<path d="M43.8 142.25 h2.4 M282 142.25 h-2.4" stroke="#555" stroke-width="0.8"/>
<path d="M43.8 102.33 h2.4 M282 102.33 h-2.4" stroke="#555" stroke-width="0.8"/>
<path d="M43.8 62.42 h2.4 M282 62.42 h-2.4" stroke="#555" stroke-width="0.8"/>
<path d="M43.8 22.50 h2.4 M282 22.50 h-2.4" stroke="#555" stroke-width="0.8"/>
<text x="42.7" y="267.60" font-size="12.3" text-anchor="end" fill="#262626">-60</text>
<text x="42.7" y="227.68" font-size="12.3" text-anchor="end" fill="#262626">-40</text>
<text x="42.7" y="187.77" font-size="12.3" text-anchor="end" fill="#262626">-20</text>
<text x="42.7" y="147.85" font-size="12.3" text-anchor="end" fill="#262626">0</text>
<text x="42.7" y="107.93" font-size="12.3" text-anchor="end" fill="#262626">20</text>
<text x="42.7" y="68.02" font-size="12.3" text-anchor="end" fill="#262626">40</text>
<text x="42.7" y="28.10" font-size="12.3" text-anchor="end" fill="#262626">60</text>
<text x="41.60" y="275.2" font-size="11.9" text-anchor="middle" fill="#262626">-120</text>
<text x="94.53" y="275.2" font-size="11.9" text-anchor="middle" fill="#262626">-100</text>
<text x="147.47" y="275.2" font-size="11.9" text-anchor="middle" fill="#262626">-80</text>
<text x="200.40" y="275.2" font-size="11.9" text-anchor="middle" fill="#262626">-60</text>
<text x="253.33" y="275.2" font-size="11.9" text-anchor="middle" fill="#262626">-40</text>
<text x="161" y="288.8" font-size="12" text-anchor="middle" fill="#262626">Longitude (°)</text>
<text transform="translate(20.8,144) rotate(-90)" font-size="12" text-anchor="middle" fill="#262626">Latitude (°)</text>
<rect x="287" y="23" width="6.2" height="239" fill="url(#jet)"/>
<text x="293.1" y="267.60" font-size="12.2" fill="#262626">250</text>
<text x="293.1" y="241.04" font-size="12.2" fill="#262626">260</text>
<text x="293.1" y="214.49" font-size="12.2" fill="#262626">270</text>
<text x="293.1" y="187.93" font-size="12.2" fill="#262626">280</text>
<text x="293.1" y="161.38" font-size="12.2" fill="#262626">290</text>
<text x="293.1" y="134.82" font-size="12.2" fill="#262626">300</text>
<text x="293.1" y="108.27" font-size="12.2" fill="#262626">310</text>
<text x="293.1" y="81.71" font-size="12.2" fill="#262626">320</text>
<text x="293.1" y="55.16" font-size="12.2" fill="#262626">330</text>
<text x="293.1" y="28.60" font-size="12.2" fill="#262626">340</text>
<path d="M287 235.44h1.6M293.2 235.44h-1.6M287 208.89h1.6M293.2 208.89h-1.6M287 182.33h1.6M293.2 182.33h-1.6M287 155.78h1.6M293.2 155.78h-1.6M287 129.22h1.6M293.2 129.22h-1.6M287 102.67h1.6M293.2 102.67h-1.6M287 76.11h1.6M293.2 76.11h-1.6M287 49.56h1.6M293.2 49.56h-1.6" stroke="#333" stroke-opacity="0.6" stroke-width="0.7"/>
<g fill="#000" stroke="#000" stroke-width="0.25"><text transform="translate(4.48,288) scale(0.796,1)" font-size="24.5">a</text>
<text transform="translate(17.60,287.6) scale(0.8,1)" font-size="23.5">)</text></g>
</g>
<g transform="translate(335,0)">
<rect x="1" y="1" width="328" height="293" fill="#cfcfcf" stroke="#3a3a3a" stroke-width="2"/>
<text x="162.5" y="13.6" font-size="12" text-anchor="middle" fill="#262626">08:45 UTC</text>
<svg x="43.8" y="22.5" width="238.2" height="239.5" viewBox="0 0 238.2 239.5" overflow="hidden">
<filter id="cf-b" x="0" y="0" width="238.2" height="239.5" filterUnits="userSpaceOnUse" color-interpolation-filters="sRGB"><feGaussianBlur in="SourceAlpha" stdDeviation="2.6" result="d"/><feTurbulence type="fractalNoise" baseFrequency="0.06 0.09" numOctaves="2" seed="686" result="nl"/><feTurbulence type="fractalNoise" baseFrequency="0.3 0.45" numOctaves="3" seed="687" result="nh"/><feComposite in="d" in2="nl" operator="arithmetic" k1="0" k2="0.5" k3="0.6" k4="0" result="s1"/><feComposite in="s1" in2="nh" operator="arithmetic" k1="0" k2="1" k3="0.85" k4="-0.95" result="s"/><feComponentTransfer in="s" result="t"><feFuncA type="linear" slope="20" intercept="0"/></feComponentTransfer><feComponentTransfer in="d" result="dm"><feFuncA type="linear" slope="6" intercept="-0.3"/></feComponentTransfer><feComposite in="t" in2="dm" operator="in" result="t2"/><feFlood flood-color="#fff"/><feComposite operator="in" in2="t2"/></filter>
<g filter="url(#bo)"><path fill="#007aff" d="M-7 -7h63v7h-63zM-7 0h63v7h-63zM-7 7h63v7h-63zM203 7h14v7h-14zM70 14h7v7h-7zM112 14h42v7h-42zM189 14h7v7h-7zM-7 238h154v7h-154zM-7 245h154v7h-154z"/><path fill="#0074ff" d="M56 -7h7v7h-7zM56 0h7v7h-7zM56 7h7v7h-7zM147 7h14v7h-14zM196 7h7v7h-7zM77 14h35v7h-35zM154 14h14v7h-14zM175 14h14v7h-14z"/><path fill="#006eff" d="M63 -7h7v7h-7zM154 -7h14v7h-14zM63 0h7v7h-7zM147 0h28v7h-28zM217 0h35v7h-35zM63 7h7v7h-7zM126 7h21v7h-21zM161 7h14v7h-14zM189 7h7v7h-7zM168 14h7v7h-7z"/><path fill="#0069ff" d="M70 -7h7v7h-7zM140 -7h14v7h-14zM168 -7h7v7h-7zM70 0h7v7h-7zM126 0h21v7h-21zM175 0h42v7h-42zM70 7h7v7h-7zM112 7h14v7h-14zM175 7h14v7h-14z"/><path fill="#0063ff" d="M77 -7h63v7h-63zM175 -7h77v7h-77zM77 0h49v7h-49zM77 7h35v7h-35z"/><path fill="#0080ff" d="M217 7h14v7h-14zM63 14h7v7h-7zM147 238h28v7h-28zM147 245h28v7h-28z"/><path fill="#0085ff" d="M231 7h21v7h-21zM56 14h7v7h-7zM196 14h7v7h-7zM175 238h77v7h-77zM175 245h77v7h-77z"/><path fill="#008bff" d="M-7 14h63v7h-63zM203 14h7v7h-7zM168 21h7v7h-7zM-7 231h154v7h-154z"/><path fill="#0090ff" d="M210 14h7v7h-7zM161 21h7v7h-7zM175 21h7v7h-7zM147 231h28v7h-28z"/><path fill="#0096ff" d="M217 14h7v7h-7zM77 21h7v7h-7zM154 21h7v7h-7zM182 21h7v7h-7zM175 231h77v7h-77z"/><path fill="#009cff" d="M224 14h14v7h-14zM70 21h7v7h-7zM84 21h21v7h-21zM140 21h14v7h-14zM189 21h7v7h-7z"/><path fill="#00a2ff" d="M238 14h14v7h-14zM56 21h14v7h-14zM105 21h35v7h-35zM-7 224h140v7h-140z"/><path fill="#00a7ff" d="M-7 21h63v7h-63zM196 21h7v7h-7zM133 224h28v7h-28z"/><path fill="#00adff" d="M203 21h7v7h-7zM161 224h91v7h-91z"/><path fill="#00b8ff" d="M210 21h7v7h-7z"/><path fill="#00beff" d="M217 21h14v7h-14zM-7 217h147v7h-147z"/><path fill="#00c3ff" d="M231 21h21v7h-21zM-7 28h84v7h-84zM140 217h112v7h-112z"/><path fill="#00c9ff" d="M77 28h14v7h-14zM161 28h21v7h-21z"/><path fill="#00cfff" d="M91 28h14v7h-14zM154 28h7v7h-7zM182 28h7v7h-7z"/><path fill="#00d4ff" d="M105 28h14v7h-14zM140 28h14v7h-14zM189 28h7v7h-7zM84 210h63v7h-63z"/><path fill="#00daff" d="M119 28h21v7h-21zM196 28h7v7h-7zM-7 210h91v7h-91zM147 210h105v7h-105z"/><path fill="#00e0ff" d="M203 28h7v7h-7z"/><path fill="#00e5ff" d="M210 28h7v7h-7zM-7 35h70v7h-70z"/><path fill="#00ebff" d="M217 28h7v7h-7zM63 35h14v7h-14zM98 203h21v7h-21z"/><path fill="#00f1ff" d="M224 28h14v7h-14zM77 35h7v7h-7zM70 203h28v7h-28zM119 203h28v7h-28zM168 203h84v7h-84z"/><path fill="#00f6ff" d="M238 28h14v7h-14zM84 35h7v7h-7zM-7 42h42v7h-42zM-7 203h77v7h-77zM147 203h21v7h-21z"/><path fill="#00fcff" d="M91 35h7v7h-7zM35 42h21v7h-21z"/><path fill="#03fffc" d="M98 35h14v7h-14zM224 196h28v7h-28z"/><path fill="#09fff6" d="M112 35h14v7h-14zM154 35h35v7h-35zM56 42h7v7h-7zM91 196h21v7h-21zM203 196h21v7h-21z"/><path fill="#0efff1" d="M126 35h28v7h-28zM189 35h21v7h-21zM-7 49h35v7h-35zM70 196h21v7h-21zM112 196h7v7h-7zM182 196h21v7h-21z"/><path fill="#14ffeb" d="M210 35h14v7h-14zM63 42h7v7h-7zM28 49h7v7h-7zM-7 196h77v7h-77zM119 196h7v7h-7zM168 196h14v7h-14z"/><path fill="#1affe5" d="M224 35h14v7h-14zM70 42h7v7h-7zM35 49h7v7h-7zM126 196h42v7h-42z"/><path fill="#1fffe0" d="M238 35h14v7h-14zM42 49h7v7h-7z"/><path fill="#25ffda" d="M77 42h7v7h-7zM49 49h7v7h-7zM-7 56h14v7h-14zM91 189h21v7h-21zM217 189h35v7h-35z"/><path fill="#2bffd4" d="M84 42h7v7h-7zM7 56h14v7h-14zM63 189h28v7h-28zM112 189h14v7h-14zM189 189h28v7h-28z"/><path fill="#30ffcf" d="M91 42h7v7h-7zM56 49h7v7h-7zM21 56h7v7h-7zM-7 189h70v7h-70zM126 189h14v7h-14zM175 189h14v7h-14z"/><path fill="#36ffc9" d="M98 42h7v7h-7zM28 56h7v7h-7zM140 189h14v7h-14zM161 189h14v7h-14z"/><path fill="#3cffc3" d="M105 42h7v7h-7zM91 182h21v7h-21zM154 189h7v7h-7z"/><path fill="#41ffbe" d="M112 42h14v7h-14zM196 42h35v7h-35zM63 49h7v7h-7zM35 56h7v7h-7zM70 182h21v7h-21zM112 182h7v7h-7zM224 182h28v7h-28z"/><path fill="#47ffb8" d="M126 42h70v7h-70zM231 42h21v7h-21zM-7 182h77v7h-77zM119 182h14v7h-14zM196 182h28v7h-28z"/><path fill="#52ffad" d="M70 49h7v7h-7zM7 63h7v7h-7zM77 175h42v7h-42zM147 182h28v7h-28z"/><path fill="#5effa2" d="M77 49h7v7h-7zM21 63h7v7h-7zM91 168h21v7h-21zM-7 175h56v7h-56zM126 175h7v7h-7zM217 175h35v7h-35z"/><path fill="#63ff9c" d="M84 49h7v7h-7zM28 63h7v7h-7zM70 168h21v7h-21zM112 168h7v7h-7zM133 175h14v7h-14zM189 175h28v7h-28z"/><path fill="#69ff96" d="M91 49h14v7h-14zM210 49h42v7h-42zM35 63h7v7h-7zM91 161h21v7h-21zM-7 168h77v7h-77zM119 168h7v7h-7zM147 175h42v7h-42z"/><path fill="#6eff90" d="M105 49h14v7h-14zM189 49h21v7h-21zM56 56h7v7h-7zM77 161h14v7h-14zM112 161h7v7h-7zM126 168h7v7h-7z"/><path fill="#74ff8b" d="M119 49h70v7h-70zM42 63h7v7h-7zM-7 70h14v7h-14zM91 154h21v7h-21zM56 161h21v7h-21zM119 161h7v7h-7zM133 168h14v7h-14zM224 168h28v7h-28z"/><path fill="#4dffb2" d="M42 56h7v7h-7zM-7 63h14v7h-14zM133 182h14v7h-14zM175 182h21v7h-21z"/><path fill="#58ffa7" d="M49 56h7v7h-7zM14 63h7v7h-7zM49 175h28v7h-28zM119 175h7v7h-7z"/><path fill="#80ff80" d="M63 56h7v7h-7zM217 56h35v7h-35zM14 70h7v7h-7zM84 147h14v7h-14zM42 154h35v7h-35zM126 161h14v7h-14zM154 168h42v7h-42z"/><path fill="#91ff6e" d="M70 56h7v7h-7zM105 56h14v7h-14zM182 63h70v7h-70zM42 70h7v7h-7zM98 133h14v7h-14zM77 140h14v7h-14zM-7 147h42v7h-42zM126 147h7v7h-7zM133 154h14v7h-14zM161 161h28v7h-28z"/><path fill="#a2ff5e" d="M77 56h7v7h-7zM112 63h7v7h-7zM56 70h7v7h-7zM147 70h28v7h-28zM14 77h14v7h-14zM77 119h14v7h-14zM112 119h7v7h-7zM91 126h7v7h-7zM112 126h7v7h-7zM70 133h14v7h-14zM126 133h7v7h-7zM-7 140h49v7h-49zM133 140h7v7h-7zM147 147h7v7h-7z"/><path fill="#9cff63" d="M84 56h14v7h-14zM63 63h7v7h-7zM119 63h21v7h-21zM175 70h77v7h-77zM0 77h14v7h-14zM91 119h21v7h-21zM98 126h14v7h-14zM84 133h7v7h-7zM119 133h7v7h-7zM42 140h21v7h-21zM126 140h7v7h-7zM140 147h7v7h-7zM154 154h35v7h-35z"/><path fill="#96ff69" d="M98 56h7v7h-7zM140 63h42v7h-42zM49 70h7v7h-7zM-7 77h7v7h-7zM91 133h7v7h-7zM112 133h7v7h-7zM63 140h14v7h-14zM119 140h7v7h-7zM133 147h7v7h-7zM147 154h7v7h-7zM189 154h63v7h-63z"/><path fill="#8bff74" d="M119 56h77v7h-77zM56 63h7v7h-7zM28 70h14v7h-14zM91 140h7v7h-7zM112 140h7v7h-7zM35 147h28v7h-28zM119 147h7v7h-7zM126 154h7v7h-7zM147 161h14v7h-14zM189 161h28v7h-28z"/><path fill="#85ff7a" d="M196 56h21v7h-21zM21 70h7v7h-7zM98 140h14v7h-14zM63 147h21v7h-21zM112 147h7v7h-7zM-7 154h49v7h-49zM119 154h7v7h-7zM140 161h7v7h-7zM217 161h35v7h-35z"/><path fill="#7aff85" d="M49 63h7v7h-7zM7 70h7v7h-7zM98 147h14v7h-14zM77 154h14v7h-14zM112 154h7v7h-7zM-7 161h63v7h-63zM147 168h7v7h-7zM196 168h28v7h-28z"/><path fill="#adff52" d="M70 63h7v7h-7zM91 63h7v7h-7zM63 70h7v7h-7zM119 70h14v7h-14zM42 77h14v7h-14zM154 77h21v7h-21zM91 112h21v7h-21zM-7 119h70v7h-70zM119 119h7v7h-7zM63 126h21v7h-21zM126 126h7v7h-7zM-7 133h63v7h-63zM140 133h7v7h-7zM147 140h7v7h-7z"/><path fill="#b8ff47" d="M77 63h7v7h-7zM70 70h7v7h-7zM91 70h7v7h-7zM63 77h14v7h-14zM133 77h7v7h-7zM0 84h14v7h-14zM-7 112h77v7h-77zM119 112h7v7h-7zM133 119h7v7h-7zM140 126h7v7h-7zM154 133h7v7h-7z"/><path fill="#b3ff4c" d="M84 63h7v7h-7zM98 70h21v7h-21zM56 77h7v7h-7zM140 77h14v7h-14zM-7 84h7v7h-7zM70 112h21v7h-21zM112 112h7v7h-7zM126 119h7v7h-7zM-7 126h70v7h-70zM133 126h7v7h-7zM147 133h7v7h-7zM154 140h98v7h-98z"/><path fill="#a7ff58" d="M98 63h14v7h-14zM133 70h14v7h-14zM28 77h14v7h-14zM175 77h77v7h-77zM63 119h14v7h-14zM84 126h7v7h-7zM119 126h7v7h-7zM56 133h14v7h-14zM133 133h7v7h-7zM140 140h7v7h-7zM154 147h98v7h-98z"/><path fill="#c3ff3c" d="M77 70h7v7h-7zM35 84h35v7h-35zM154 84h14v7h-14zM133 112h14v7h-14zM154 119h98v7h-98zM154 126h98v7h-98z"/><path fill="#beff41" d="M84 70h7v7h-7zM77 77h56v7h-56zM14 84h21v7h-21zM168 84h84v7h-84zM126 112h7v7h-7zM140 119h14v7h-14zM147 126h7v7h-7zM161 133h91v7h-91z"/><path fill="#c9ff36" d="M70 84h28v7h-28zM140 84h14v7h-14zM-7 91h21v7h-21zM168 91h84v7h-84zM-7 105h98v7h-98zM147 112h105v7h-105z"/><path fill="#cfff30" d="M98 84h42v7h-42zM14 91h63v7h-63zM154 91h14v7h-14zM168 98h84v7h-84zM91 105h56v7h-56z"/><path fill="#d5ff2a" d="M77 91h21v7h-21zM140 91h14v7h-14zM-7 98h105v7h-105zM147 98h21v7h-21zM147 105h105v7h-105z"/><path fill="#daff25" d="M98 91h42v7h-42zM98 98h49v7h-49z"/></g>
<g filter="url(#cf-b)"><path fill-opacity="0.55" d="M66 0h54v6h-54zM186 192h6v6h-6zM204 192h6v6h-6zM186 198h6v6h-6zM192 204h12v6h-12z"/><path fill-opacity="0.40" d="M156 0h12v6h-12zM162 6h12v6h-12zM162 12h12v6h-12zM54 96h30v6h-30zM60 102h30v6h-30zM60 108h30v6h-30zM204 174h36v6h-36zM180 180h12v6h-12zM204 180h36v6h-36zM168 186h12v6h-12zM216 186h24v6h-24zM168 192h6v6h-6zM222 192h18v6h-18zM168 198h6v6h-6zM222 198h18v6h-18zM162 204h18v6h-18zM216 204h24v6h-24zM168 210h18v6h-18zM210 210h30v6h-30zM168 216h72v6h-72zM168 222h72v6h-72zM168 228h72v6h-72z"/><path fill-opacity="0.90" d="M168 0h72v6h-72zM174 6h66v6h-66zM174 12h66v6h-66zM180 18h60v6h-60zM186 24h54v6h-54zM198 30h42v6h-42zM228 36h12v6h-12zM0 198h18v6h-18zM0 204h78v6h-78zM0 210h102v6h-102zM0 216h114v6h-114zM0 222h120v6h-120zM0 228h120v6h-120zM0 234h120v6h-120z"/><path fill-opacity="0.85" d="M0 90h24v6h-24zM0 96h54v6h-54zM0 102h60v6h-60zM0 108h60v6h-60zM0 114h48v6h-48z"/><path fill-opacity="0.30" d="M204 90h36v6h-36zM210 96h30v6h-30zM210 102h30v6h-30zM210 108h30v6h-30zM222 114h18v6h-18z"/><path fill-opacity="0.45" d="M0 120h6v6h-6zM0 126h24v6h-24zM0 132h24v6h-24zM0 138h24v6h-24zM0 144h24v6h-24zM0 150h24v6h-24zM0 156h24v6h-24zM0 162h24v6h-24zM0 168h24v6h-24zM0 174h24v6h-24zM0 180h24v6h-24zM192 180h12v6h-12zM0 186h24v6h-24zM180 186h12v6h-12zM210 186h6v6h-6zM174 192h12v6h-12zM216 192h6v6h-6zM174 198h6v6h-6zM216 198h6v6h-6zM180 204h6v6h-6zM210 204h6v6h-6zM186 210h24v6h-24z"/><path fill-opacity="0.50" d="M192 186h18v6h-18zM210 192h6v6h-6zM180 198h6v6h-6zM210 198h6v6h-6zM186 204h6v6h-6zM204 204h6v6h-6z"/><path fill-opacity="0.60" d="M192 192h12v6h-12zM204 198h6v6h-6z"/><path fill-opacity="0.65" d="M192 198h12v6h-12z"/></g>
<g clip-path="url(#landclip)"><g filter="url(#bl)"><path fill="#0063ff" d="M-4 -4h4v4h-4zM40 -4h4v4h-4zM124 -4h4v4h-4zM140 -4h4v4h-4zM-4 0h4v4h-4zM68 0h4v4h-4zM132 12h4v4h-4zM120 16h4v4h-4zM136 160h4v4h-4zM152 192h4v4h-4zM168 192h4v4h-4zM140 196h4v4h-4zM148 196h8v4h-8zM160 196h4v4h-4zM140 200h4v4h-4zM152 200h4v4h-4zM140 204h4v4h-4zM152 204h4v4h-4zM112 212h4v4h-4zM144 228h4v4h-4zM152 228h4v4h-4z"/><path fill="#0074ff" d="M0 -4h4v4h-4zM16 -4h8v4h-8zM148 -4h4v4h-4zM0 0h4v4h-4zM28 0h4v4h-4zM64 0h4v4h-4zM104 0h12v4h-12zM148 0h4v4h-4zM0 4h8v4h-8zM32 4h8v4h-8zM124 4h8v4h-8zM136 4h4v4h-4zM168 4h4v4h-4zM64 8h4v4h-4zM72 8h4v4h-4zM92 8h4v4h-4zM100 8h4v4h-4zM124 8h4v4h-4zM172 8h4v4h-4zM100 12h4v4h-4zM108 12h4v4h-4zM140 12h12v4h-12zM156 12h4v4h-4zM24 16h4v4h-4zM112 16h4v4h-4zM136 16h4v4h-4zM144 16h4v4h-4zM28 20h4v4h-4zM36 20h4v4h-4zM124 20h4v4h-4zM36 24h4v4h-4zM32 28h8v4h-8zM148 180h4v4h-4zM160 184h4v4h-4zM164 188h4v4h-4zM148 192h4v4h-4zM164 192h4v4h-4zM176 192h4v4h-4zM120 196h4v4h-4zM144 208h4v4h-4z"/><path fill="#008bff" d="M4 -4h4v4h-4zM28 -4h4v4h-4zM36 -4h4v4h-4zM72 -4h4v4h-4zM56 0h4v4h-4zM76 0h4v4h-4zM24 4h8v4h-8zM8 8h4v4h-4zM44 8h4v4h-4zM76 8h8v4h-8zM164 8h4v4h-4zM0 12h4v4h-4zM48 12h4v4h-4zM56 12h4v4h-4zM92 12h4v4h-4zM168 12h4v4h-4zM68 16h4v4h-4zM92 16h8v4h-8zM148 16h4v4h-4zM56 20h4v4h-4zM68 20h4v4h-4zM104 20h4v4h-4zM172 20h4v4h-4zM32 24h4v4h-4zM100 24h4v4h-4zM112 24h4v4h-4zM120 24h4v4h-4zM112 28h8v4h-8zM132 28h4v4h-4zM152 32h4v4h-4zM40 36h4v4h-4zM144 36h4v4h-4zM140 180h4v4h-4zM172 180h4v4h-4zM148 184h8v4h-8zM144 188h4v4h-4z"/><path fill="#0096ff" d="M8 -4h4v4h-4zM8 0h4v4h-4zM40 0h4v4h-4zM52 0h4v4h-4zM52 4h4v4h-4zM156 8h4v4h-4zM32 12h4v4h-4zM44 12h4v4h-4zM68 12h4v4h-4zM72 16h4v4h-4zM-4 20h4v4h-4zM32 20h4v4h-4zM88 20h4v4h-4zM116 20h4v4h-4zM140 20h4v4h-4zM168 20h4v4h-4zM176 20h4v4h-4zM48 24h4v4h-4zM56 24h4v4h-4zM104 24h4v4h-4zM140 24h4v4h-4zM172 24h4v4h-4zM40 28h4v4h-4zM56 28h4v4h-4zM68 28h4v4h-4zM120 28h4v4h-4zM0 32h4v4h-4zM40 32h8v4h-8zM88 32h4v4h-4zM108 32h4v4h-4zM124 32h4v4h-4zM36 36h4v4h-4zM52 36h4v4h-4zM108 124h4v4h-4zM160 176h4v4h-4zM152 180h4v4h-4zM180 180h4v4h-4zM188 180h4v4h-4zM140 184h4v4h-4z"/><path fill="#007aff" d="M12 -4h4v4h-4zM60 -4h4v4h-4zM112 -4h8v4h-8zM16 0h4v4h-4zM36 0h4v4h-4zM116 0h4v4h-4zM8 4h8v4h-8zM40 4h4v4h-4zM56 4h4v4h-4zM104 4h4v4h-4zM24 8h4v4h-4zM60 8h4v4h-4zM96 8h4v4h-4zM104 8h4v4h-4zM140 8h4v4h-4zM148 8h4v4h-4zM8 12h8v4h-8zM24 12h4v4h-4zM60 12h4v4h-4zM72 12h4v4h-4zM96 12h4v4h-4zM152 12h4v4h-4zM172 12h4v4h-4zM12 16h4v4h-4zM28 16h4v4h-4zM76 16h8v4h-8zM88 16h4v4h-4zM108 16h4v4h-4zM116 16h4v4h-4zM152 16h4v4h-4zM8 20h4v4h-4zM128 20h4v4h-4zM144 20h4v4h-4zM180 20h4v4h-4zM-4 24h4v4h-4zM8 24h4v4h-4zM76 24h4v4h-4zM164 24h4v4h-4zM16 28h4v4h-4zM24 28h4v4h-4zM32 36h4v4h-4zM128 148h4v4h-4zM140 164h4v4h-4zM164 180h4v4h-4zM176 184h4v4h-4zM120 188h4v4h-4zM152 188h8v4h-8zM120 192h4v4h-4zM136 220h4v4h-4z"/><path fill="#005eff" d="M24 -4h4v4h-4zM136 -4h4v4h-4zM64 4h4v4h-4zM92 4h4v4h-4zM112 4h4v4h-4zM40 8h4v4h-4zM56 8h4v4h-4zM112 8h4v4h-4zM128 8h8v4h-8zM24 20h4v4h-4zM160 192h4v4h-4zM116 196h4v4h-4zM144 196h4v4h-4zM144 200h8v4h-8zM156 200h4v4h-4zM144 204h4v4h-4zM136 208h4v4h-4zM148 216h4v4h-4zM156 216h8v4h-8zM144 220h4v4h-4z"/><path fill="#006eff" d="M32 -4h4v4h-4zM52 -4h4v4h-4zM20 0h8v4h-8zM48 0h4v4h-4zM72 0h4v4h-4zM80 0h4v4h-4zM124 0h4v4h-4zM132 0h4v4h-4zM140 0h4v4h-4zM48 4h4v4h-4zM96 4h4v4h-4zM108 4h4v4h-4zM156 4h4v4h-4zM16 8h4v4h-4zM68 8h4v4h-4zM168 8h4v4h-4zM4 12h4v4h-4zM28 12h4v4h-4zM116 12h4v4h-4zM136 12h4v4h-4zM104 16h4v4h-4zM132 16h4v4h-4zM12 24h4v4h-4zM24 24h4v4h-4zM40 24h4v4h-4zM64 24h4v4h-4zM4 28h4v4h-4zM20 28h4v4h-4zM36 32h4v4h-4zM132 152h4v4h-4zM120 184h4v4h-4zM140 188h4v4h-4zM116 192h4v4h-4zM136 192h4v4h-4zM144 192h4v4h-4zM156 192h4v4h-4zM168 196h4v4h-4zM136 200h4v4h-4z"/><path fill="#0069ff" d="M44 -4h4v4h-4zM64 -4h4v4h-4zM128 -4h4v4h-4zM84 0h4v4h-4zM136 0h4v4h-4zM148 4h8v4h-8zM32 8h8v4h-8zM108 8h4v4h-4zM104 12h4v4h-4zM112 12h4v4h-4zM8 16h4v4h-4zM4 20h4v4h-4zM132 164h4v4h-4zM116 188h4v4h-4zM176 188h8v4h-8zM140 192h4v4h-4zM172 192h4v4h-4zM112 204h4v4h-4zM144 224h4v4h-4zM120 228h4v4h-4z"/><path fill="#0080ff" d="M48 -4h4v4h-4zM132 -4h4v4h-4zM152 -4h4v4h-4zM32 0h4v4h-4zM44 0h4v4h-4zM60 0h4v4h-4zM88 0h4v4h-4zM144 0h4v4h-4zM-4 4h4v4h-4zM16 4h4v4h-4zM44 4h4v4h-4zM68 4h4v4h-4zM76 4h4v4h-4zM84 4h8v4h-8zM160 4h4v4h-4zM-4 8h4v4h-4zM4 8h4v4h-4zM20 8h4v4h-4zM84 8h4v4h-4zM136 8h4v4h-4zM16 12h4v4h-4zM124 12h8v4h-8zM0 16h4v4h-4zM20 16h4v4h-4zM32 16h4v4h-4zM48 16h4v4h-4zM60 16h8v4h-8zM100 16h4v4h-4zM124 16h4v4h-4zM172 16h4v4h-4zM0 20h4v4h-4zM12 20h12v4h-12zM60 20h4v4h-4zM112 20h4v4h-4zM132 20h8v4h-8zM156 20h4v4h-4zM84 24h4v4h-4zM128 24h4v4h-4zM8 28h8v4h-8zM28 32h4v4h-4zM28 36h4v4h-4zM128 172h4v4h-4zM120 180h8v4h-8zM176 180h4v4h-4zM156 196h4v4h-4zM164 196h4v4h-4z"/><path fill="#0085ff" d="M56 -4h4v4h-4zM68 -4h4v4h-4zM4 0h4v4h-4zM12 0h4v4h-4zM152 0h8v4h-8zM72 4h4v4h-4zM80 4h4v4h-4zM0 8h4v4h-4zM28 8h4v4h-4zM48 8h8v4h-8zM88 8h4v4h-4zM152 8h4v4h-4zM-4 12h4v4h-4zM20 12h4v4h-4zM40 12h4v4h-4zM160 12h8v4h-8zM-4 16h4v4h-4zM4 16h4v4h-4zM16 16h4v4h-4zM44 16h4v4h-4zM140 16h4v4h-4zM164 16h4v4h-4zM108 20h4v4h-4zM120 20h4v4h-4zM16 24h4v4h-4zM28 24h4v4h-4zM52 24h4v4h-4zM116 24h4v4h-4zM0 28h4v4h-4zM28 28h4v4h-4zM24 32h4v4h-4zM32 32h4v4h-4zM48 32h4v4h-4zM112 128h4v4h-4zM124 148h4v4h-4zM132 160h4v4h-4zM140 172h4v4h-4zM144 180h4v4h-4zM156 180h4v4h-4zM156 184h4v4h-4zM172 184h4v4h-4zM160 188h4v4h-4zM168 188h8v4h-8z"/><path fill="#0058ff" d="M104 -4h4v4h-4zM144 -4h4v4h-4zM120 0h4v4h-4zM132 4h4v4h-4zM116 8h4v4h-4zM128 16h4v4h-4zM20 24h4v4h-4zM132 156h8v4h-8zM136 196h4v4h-4zM132 200h4v4h-4zM160 200h8v4h-8zM116 208h4v4h-4zM132 212h4v4h-4zM112 216h4v4h-4zM164 216h4v4h-4zM156 220h4v4h-4zM136 228h4v4h-4zM148 228h4v4h-4z"/><path fill="#0090ff" d="M108 -4h4v4h-4zM60 4h4v4h-4zM160 8h4v4h-4zM52 12h4v4h-4zM64 12h4v4h-4zM36 16h4v4h-4zM52 16h8v4h-8zM84 16h4v4h-4zM156 16h4v4h-4zM168 16h4v4h-4zM64 20h4v4h-4zM72 20h4v4h-4zM80 20h8v4h-8zM92 20h4v4h-4zM100 20h4v4h-4zM148 20h8v4h-8zM160 20h8v4h-8zM0 24h8v4h-8zM124 24h4v4h-4zM148 24h4v4h-4zM156 24h4v4h-4zM176 24h8v4h-8zM-4 28h4v4h-4zM140 28h8v4h-8zM164 28h4v4h-4zM16 32h4v4h-4zM24 36h4v4h-4zM120 144h4v4h-4zM120 176h4v4h-4zM140 176h4v4h-4zM168 180h4v4h-4zM144 184h4v4h-4zM168 184h4v4h-4zM184 184h4v4h-4z"/><path fill="#0052ff" d="M120 -4h4v4h-4zM128 0h4v4h-4zM100 4h4v4h-4zM116 4h8v4h-8zM144 4h4v4h-4zM144 8h4v4h-4zM132 168h4v4h-4zM136 184h4v4h-4zM124 188h4v4h-4zM132 196h4v4h-4zM120 204h4v4h-4zM136 204h4v4h-4zM148 204h4v4h-4zM140 208h4v4h-4zM116 212h4v4h-4zM140 216h4v4h-4zM152 216h4v4h-4zM168 220h4v4h-4zM132 224h8v4h-8zM148 224h4v4h-4zM156 224h4v4h-4zM160 228h4v4h-4z"/><path fill="#00adff" d="M20 4h4v4h-4zM164 4h4v4h-4zM144 24h4v4h-4zM64 28h4v4h-4zM88 28h4v4h-4zM100 28h4v4h-4zM160 28h4v4h-4zM168 28h8v4h-8zM52 32h4v4h-4zM104 32h4v4h-4zM112 32h4v4h-4zM136 32h8v4h-8zM156 32h4v4h-4zM8 36h8v4h-8zM128 36h4v4h-4zM44 40h4v4h-4zM52 40h4v4h-4zM112 136h4v4h-4zM112 140h4v4h-4zM172 176h8v4h-8z"/><path fill="#004dff" d="M140 4h4v4h-4zM120 8h4v4h-4zM136 180h4v4h-4zM136 188h4v4h-4zM124 192h4v4h-4zM116 200h4v4h-4zM116 204h4v4h-4zM112 208h4v4h-4zM148 208h8v4h-8zM148 212h4v4h-4zM128 216h4v4h-4zM136 216h4v4h-4zM160 220h4v4h-4zM160 224h4v4h-4zM124 228h4v4h-4zM140 228h4v4h-4zM156 228h4v4h-4zM128 232h4v4h-4z"/><path fill="#009cff" d="M12 8h4v4h-4zM36 12h4v4h-4zM40 16h4v4h-4zM176 16h4v4h-4zM40 20h4v4h-4zM48 20h4v4h-4zM76 20h4v4h-4zM92 24h4v4h-4zM132 24h8v4h-8zM168 24h4v4h-4zM44 28h4v4h-4zM60 28h4v4h-4zM72 28h4v4h-4zM84 28h4v4h-4zM92 28h4v4h-4zM148 28h4v4h-4zM8 32h4v4h-4zM92 32h4v4h-4zM100 32h4v4h-4zM116 32h4v4h-4zM148 32h4v4h-4zM4 36h4v4h-4zM16 36h4v4h-4zM32 40h4v4h-4zM112 132h4v4h-4zM116 140h4v4h-4zM132 148h4v4h-4zM140 160h4v4h-4zM140 168h4v4h-4zM124 176h4v4h-4zM160 180h4v4h-4zM184 180h4v4h-4zM164 184h4v4h-4zM180 184h4v4h-4z"/><path fill="#00a2ff" d="M76 12h4v4h-4zM84 12h8v4h-8zM160 16h4v4h-4zM52 20h4v4h-4zM60 24h4v4h-4zM72 24h4v4h-4zM80 24h4v4h-4zM108 24h4v4h-4zM160 24h4v4h-4zM48 28h4v4h-4zM76 28h8v4h-8zM124 28h4v4h-4zM136 28h4v4h-4zM156 28h4v4h-4zM176 28h4v4h-4zM-4 32h4v4h-4zM4 32h4v4h-4zM80 32h4v4h-4zM160 32h4v4h-4zM112 36h4v4h-4zM128 168h4v4h-4zM156 172h4v4h-4zM148 176h4v4h-4zM156 176h4v4h-4zM168 176h4v4h-4zM180 176h8v4h-8z"/><path fill="#00a7ff" d="M80 12h4v4h-4zM44 20h4v4h-4zM96 20h4v4h-4zM44 24h4v4h-4zM68 24h4v4h-4zM88 24h4v4h-4zM152 24h4v4h-4zM52 28h4v4h-4zM96 28h4v4h-4zM104 28h8v4h-8zM152 28h4v4h-4zM180 28h4v4h-4zM20 32h4v4h-4zM68 32h4v4h-4zM132 32h4v4h-4zM20 36h4v4h-4zM44 36h4v4h-4zM56 36h4v4h-4zM100 36h4v4h-4zM20 40h4v4h-4zM28 40h4v4h-4zM128 40h4v4h-4zM108 116h4v4h-4zM108 120h4v4h-4zM116 136h4v4h-4zM128 152h4v4h-4zM152 172h4v4h-4zM172 172h4v4h-4zM144 176h4v4h-4zM148 188h4v4h-4z"/><path fill="#0041ff" d="M120 12h4v4h-4zM124 184h4v4h-4zM120 224h4v4h-4zM128 224h4v4h-4zM152 224h4v4h-4zM140 232h8v4h-8z"/><path fill="#00b8ff" d="M96 24h4v4h-4zM72 32h8v4h-8zM96 32h4v4h-4zM-4 36h4v4h-4zM80 36h4v4h-4zM92 36h4v4h-4zM132 36h4v4h-4zM36 40h4v4h-4zM84 40h4v4h-4zM32 44h4v4h-4zM104 44h4v4h-4zM104 116h4v4h-4zM124 168h4v4h-4zM144 168h4v4h-4z"/><path fill="#00b2ff" d="M128 28h4v4h-4zM56 32h8v4h-8zM120 32h4v4h-4zM128 32h4v4h-4zM144 32h4v4h-4zM48 36h4v4h-4zM140 36h4v4h-4zM148 36h4v4h-4zM116 144h4v4h-4zM124 144h4v4h-4zM136 152h4v4h-4zM152 168h4v4h-4zM124 172h4v4h-4zM144 172h8v4h-8zM164 176h4v4h-4zM188 176h4v4h-4z"/><path fill="#00c9ff" d="M12 32h4v4h-4zM68 36h8v4h-8zM88 36h4v4h-4zM104 36h4v4h-4zM4 40h4v4h-4zM108 40h4v4h-4zM28 44h4v4h-4zM108 128h4v4h-4zM124 160h4v4h-4zM168 164h4v4h-4zM168 168h8v4h-8zM164 172h4v4h-4zM180 172h4v4h-4zM192 176h4v4h-4z"/><path fill="#00c3ff" d="M64 32h4v4h-4zM0 36h4v4h-4zM64 36h4v4h-4zM120 36h4v4h-4zM8 40h4v4h-4zM56 40h4v4h-4zM120 40h4v4h-4zM120 140h4v4h-4zM128 144h4v4h-4zM140 156h4v4h-4zM128 164h4v4h-4zM164 168h4v4h-4zM196 172h4v4h-4z"/><path fill="#00beff" d="M84 32h4v4h-4zM60 36h4v4h-4zM84 36h4v4h-4zM108 36h4v4h-4zM124 36h4v4h-4zM-4 40h4v4h-4zM12 40h4v4h-4zM40 40h4v4h-4zM68 40h4v4h-4zM112 124h4v4h-4zM128 160h4v4h-4zM144 164h4v4h-4zM148 168h4v4h-4zM160 172h4v4h-4zM168 172h4v4h-4zM176 172h4v4h-4zM184 172h4v4h-4zM152 176h4v4h-4z"/><path fill="#00cfff" d="M76 36h4v4h-4zM96 36h4v4h-4zM116 36h4v4h-4zM0 40h4v4h-4zM24 40h4v4h-4zM48 40h4v4h-4zM64 40h4v4h-4zM80 40h4v4h-4zM88 40h4v4h-4zM104 40h4v4h-4zM112 40h4v4h-4zM24 44h4v4h-4zM48 44h4v4h-4zM120 148h4v4h-4zM128 156h4v4h-4zM156 164h4v4h-4zM156 168h8v4h-8zM176 168h4v4h-4zM192 172h4v4h-4z"/><path fill="#00d4ff" d="M136 36h4v4h-4zM16 40h4v4h-4zM8 44h4v4h-4zM88 44h4v4h-4zM116 132h4v4h-4zM144 160h4v4h-4zM188 172h4v4h-4z"/><path fill="#00e0ff" d="M60 40h4v4h-4zM76 40h4v4h-4zM132 40h4v4h-4zM-4 44h4v4h-4zM56 44h4v4h-4zM84 44h4v4h-4zM108 44h4v4h-4zM116 44h4v4h-4zM16 48h4v4h-4zM96 48h4v4h-4zM156 160h4v4h-4zM180 168h8v4h-8zM208 168h4v4h-4z"/><path fill="#00daff" d="M72 40h4v4h-4zM92 40h8v4h-8zM40 44h8v4h-8zM76 44h4v4h-4zM112 44h4v4h-4zM104 120h4v4h-4zM112 120h4v4h-4zM108 132h4v4h-4z"/><path fill="#00ebff" d="M100 40h4v4h-4zM68 44h4v4h-4zM92 44h4v4h-4zM28 48h4v4h-4zM100 48h8v4h-8zM108 112h4v4h-4zM112 144h4v4h-4zM124 152h4v4h-4zM148 164h4v4h-4zM172 164h4v4h-4z"/><path fill="#00e5ff" d="M116 40h4v4h-4zM124 40h4v4h-4zM12 44h12v4h-12zM80 44h4v4h-4zM96 44h4v4h-4zM24 48h4v4h-4zM136 148h4v4h-4zM152 160h4v4h-4zM160 164h4v4h-4zM180 164h4v4h-4z"/><path fill="#00f1ff" d="M0 44h8v4h-8zM52 44h4v4h-4zM72 44h4v4h-4zM120 44h4v4h-4zM44 48h4v4h-4zM52 48h4v4h-4zM72 48h4v4h-4zM80 48h4v4h-4zM24 52h4v4h-4zM124 140h4v4h-4zM148 160h4v4h-4zM160 160h16v4h-16zM124 164h4v4h-4zM164 164h4v4h-4zM176 164h4v4h-4zM212 164h4v4h-4zM192 168h16v4h-16z"/><path fill="#00fcff" d="M36 44h4v4h-4zM60 44h4v4h-4zM100 44h4v4h-4zM32 48h12v4h-12zM48 48h4v4h-4zM112 48h4v4h-4zM20 52h4v4h-4zM148 156h4v4h-4zM152 164h4v4h-4zM208 164h4v4h-4zM188 168h4v4h-4z"/><path fill="#00f6ff" d="M64 44h4v4h-4zM4 48h4v4h-4zM20 48h4v4h-4zM76 48h4v4h-4zM16 52h4v4h-4zM56 52h4v4h-4zM52 76h4v4h-4zM36 80h4v4h-4zM48 80h4v4h-4zM116 128h4v4h-4zM108 136h4v4h-4zM140 152h4v4h-4zM168 156h4v4h-4zM176 160h4v4h-4z"/><path fill="#09fff6" d="M-4 48h4v4h-4zM8 48h4v4h-4zM60 48h4v4h-4zM92 48h4v4h-4zM108 48h4v4h-4zM-4 52h8v4h-8zM12 52h4v4h-4zM44 52h8v4h-8zM96 52h4v4h-4zM56 76h8v4h-8zM72 76h4v4h-4zM36 84h4v4h-4zM112 116h4v4h-4zM116 120h4v4h-4zM104 124h4v4h-4zM148 144h4v4h-4zM116 148h4v4h-4zM168 152h4v4h-4zM156 156h4v4h-4zM216 156h4v4h-4zM208 160h12v4h-12zM192 164h4v4h-4zM204 164h4v4h-4z"/><path fill="#03fffc" d="M0 48h4v4h-4zM12 48h4v4h-4zM56 48h4v4h-4zM84 48h4v4h-4zM116 48h4v4h-4zM48 72h4v4h-4zM48 76h4v4h-4zM124 76h4v4h-4zM52 80h4v4h-4zM40 84h4v4h-4zM88 84h4v4h-4zM84 88h4v4h-4zM116 152h8v4h-8zM144 152h4v4h-4zM164 152h4v4h-4zM180 152h4v4h-4zM124 156h4v4h-4zM204 160h4v4h-4z"/><path fill="#1affe5" d="M64 48h4v4h-4zM120 48h4v4h-4zM8 52h4v4h-4zM60 52h4v4h-4zM76 52h4v4h-4zM108 52h4v4h-4zM68 56h4v4h-4zM40 72h4v4h-4zM104 72h4v4h-4zM20 76h4v4h-4zM64 76h4v4h-4zM88 76h4v4h-4zM96 76h4v4h-4zM32 80h4v4h-4zM40 80h4v4h-4zM64 80h4v4h-4zM76 80h4v4h-4zM96 80h8v4h-8zM108 80h4v4h-4zM124 80h4v4h-4zM144 80h8v4h-8zM108 84h4v4h-4zM152 84h4v4h-4zM132 88h4v4h-4zM144 88h4v4h-4zM132 92h4v4h-4zM160 92h4v4h-4zM160 96h4v4h-4zM120 100h4v4h-4zM128 100h4v4h-4zM112 112h4v4h-4zM148 116h4v4h-4zM104 128h4v4h-4zM108 144h4v4h-4zM148 148h4v4h-4zM156 152h4v4h-4zM172 152h4v4h-4zM164 156h4v4h-4zM180 156h4v4h-4zM184 164h4v4h-4z"/><path fill="#14ffeb" d="M68 48h4v4h-4zM28 52h8v4h-8zM40 52h4v4h-4zM64 52h4v4h-4zM84 52h4v4h-4zM92 52h4v4h-4zM100 52h4v4h-4zM32 76h4v4h-4zM44 76h4v4h-4zM68 76h4v4h-4zM100 76h4v4h-4zM128 76h4v4h-4zM144 76h4v4h-4zM72 80h4v4h-4zM80 80h4v4h-4zM88 80h4v4h-4zM136 80h4v4h-4zM44 84h4v4h-4zM52 84h4v4h-4zM72 84h4v4h-4zM120 84h8v4h-8zM48 88h8v4h-8zM164 88h4v4h-4zM100 116h4v4h-4zM152 152h4v4h-4zM176 152h4v4h-4zM172 156h8v4h-8zM180 160h4v4h-4zM188 164h4v4h-4zM196 164h4v4h-4z"/><path fill="#1fffe0" d="M88 48h4v4h-4zM68 52h4v4h-4zM80 52h4v4h-4zM20 56h8v4h-8zM64 56h4v4h-4zM92 56h4v4h-4zM100 56h4v4h-4zM112 56h4v4h-4zM36 60h4v4h-4zM112 64h4v4h-4zM56 68h4v4h-4zM92 68h4v4h-4zM44 72h4v4h-4zM52 72h4v4h-4zM64 72h4v4h-4zM76 72h4v4h-4zM88 72h8v4h-8zM76 76h4v4h-4zM92 80h4v4h-4zM140 80h4v4h-4zM56 84h4v4h-4zM140 84h4v4h-4zM68 88h4v4h-4zM80 88h4v4h-4zM100 88h4v4h-4zM152 88h4v4h-4zM160 88h4v4h-4zM72 92h4v4h-4zM156 92h4v4h-4zM84 96h4v4h-4zM104 96h4v4h-4zM132 96h4v4h-4zM176 104h4v4h-4zM100 120h4v4h-4zM136 124h4v4h-4zM96 128h4v4h-4zM120 132h4v4h-4zM156 136h4v4h-4zM108 140h4v4h-4zM156 140h4v4h-4zM132 144h4v4h-4zM148 152h4v4h-4zM200 152h4v4h-4zM184 156h4v4h-4zM188 160h4v4h-4z"/><path fill="#30ffcf" d="M4 52h4v4h-4zM52 52h4v4h-4zM0 56h4v4h-4zM36 56h8v4h-8zM56 56h4v4h-4zM84 56h4v4h-4zM32 60h4v4h-4zM40 60h8v4h-8zM64 60h8v4h-8zM108 60h4v4h-4zM116 60h4v4h-4zM20 64h4v4h-4zM60 64h4v4h-4zM76 64h4v4h-4zM92 64h8v4h-8zM16 68h4v4h-4zM32 68h8v4h-8zM20 72h4v4h-4zM60 72h4v4h-4zM100 72h4v4h-4zM108 72h8v4h-8zM24 76h8v4h-8zM136 76h4v4h-4zM104 80h4v4h-4zM112 80h4v4h-4zM128 84h4v4h-4zM60 88h8v4h-8zM80 92h8v4h-8zM120 92h4v4h-4zM76 96h4v4h-4zM108 100h8v4h-8zM136 100h4v4h-4zM148 100h4v4h-4zM172 100h4v4h-4zM96 104h4v4h-4zM124 104h4v4h-4zM96 108h4v4h-4zM108 108h4v4h-4zM140 108h4v4h-4zM100 112h4v4h-4zM68 120h4v4h-4zM140 124h4v4h-4zM96 132h4v4h-4zM104 132h4v4h-4zM132 132h4v4h-4zM140 132h4v4h-4zM104 136h4v4h-4zM156 144h4v4h-4zM172 144h4v4h-4zM156 148h20v4h-20zM184 160h4v4h-4z"/><path fill="#25ffda" d="M36 52h4v4h-4zM48 56h4v4h-4zM108 56h4v4h-4zM52 60h4v4h-4zM40 64h4v4h-4zM68 64h4v4h-4zM44 68h4v4h-4zM108 68h4v4h-4zM32 72h8v4h-8zM56 72h4v4h-4zM116 72h4v4h-4zM124 72h8v4h-8zM80 76h4v4h-4zM132 76h4v4h-4zM116 80h4v4h-4zM128 80h8v4h-8zM64 84h8v4h-8zM116 84h4v4h-4zM144 84h4v4h-4zM56 88h4v4h-4zM72 88h8v4h-8zM112 88h8v4h-8zM136 88h4v4h-4zM148 88h4v4h-4zM60 92h8v4h-8zM76 92h4v4h-4zM88 92h4v4h-4zM100 92h4v4h-4zM116 92h4v4h-4zM124 92h8v4h-8zM136 92h4v4h-4zM148 92h8v4h-8zM96 96h4v4h-4zM112 96h4v4h-4zM152 96h4v4h-4zM120 108h4v4h-4zM116 112h4v4h-4zM136 112h4v4h-4zM116 116h4v4h-4zM188 116h4v4h-4zM184 132h4v4h-4zM128 140h4v4h-4zM140 144h4v4h-4zM108 148h4v4h-4zM112 152h4v4h-4zM216 152h4v4h-4zM196 156h4v4h-4zM208 156h8v4h-8zM200 160h4v4h-4z"/><path fill="#0efff1" d="M72 52h4v4h-4zM88 52h4v4h-4zM104 52h4v4h-4zM120 52h4v4h-4zM52 56h4v4h-4zM76 56h4v4h-4zM84 72h4v4h-4zM132 72h4v4h-4zM36 76h8v4h-8zM84 76h4v4h-4zM116 76h4v4h-4zM140 76h4v4h-4zM44 80h4v4h-4zM56 80h8v4h-8zM156 80h4v4h-4zM48 84h4v4h-4zM104 84h4v4h-4zM132 84h4v4h-4zM148 84h4v4h-4zM160 84h4v4h-4zM124 88h4v4h-4zM108 92h4v4h-4zM100 108h4v4h-4zM104 112h4v4h-4zM116 124h4v4h-4zM120 136h4v4h-4zM160 152h4v4h-4zM120 156h4v4h-4zM144 156h4v4h-4zM152 156h4v4h-4zM160 156h4v4h-4zM196 160h4v4h-4zM200 164h4v4h-4z"/><path fill="#2bffd4" d="M112 52h8v4h-8zM4 56h4v4h-4zM12 56h8v4h-8zM44 56h4v4h-4zM60 56h4v4h-4zM96 56h4v4h-4zM104 56h4v4h-4zM8 60h8v4h-8zM20 60h8v4h-8zM60 60h4v4h-4zM84 60h4v4h-4zM100 60h4v4h-4zM32 64h4v4h-4zM64 64h4v4h-4zM80 64h4v4h-4zM88 64h4v4h-4zM52 68h4v4h-4zM28 72h4v4h-4zM80 72h4v4h-4zM120 72h4v4h-4zM92 76h4v4h-4zM108 76h8v4h-8zM68 80h4v4h-4zM84 80h4v4h-4zM120 80h4v4h-4zM152 80h4v4h-4zM76 84h4v4h-4zM92 84h4v4h-4zM100 84h4v4h-4zM112 84h4v4h-4zM156 84h4v4h-4zM92 88h8v4h-8zM108 88h4v4h-4zM128 88h4v4h-4zM80 96h4v4h-4zM116 96h4v4h-4zM144 96h4v4h-4zM156 96h4v4h-4zM104 100h4v4h-4zM132 100h4v4h-4zM140 100h4v4h-4zM160 100h4v4h-4zM88 104h4v4h-4zM128 104h4v4h-4zM136 104h4v4h-4zM144 104h4v4h-4zM152 104h4v4h-4zM164 104h4v4h-4zM172 104h4v4h-4zM104 108h4v4h-4zM156 108h4v4h-4zM152 124h4v4h-4zM168 132h4v4h-4zM160 140h4v4h-4zM136 144h4v4h-4zM152 144h4v4h-4zM144 148h4v4h-4zM188 152h4v4h-4zM208 152h4v4h-4zM188 156h8v4h-8z"/><path fill="#36ffc9" d="M8 56h4v4h-4zM28 56h4v4h-4zM72 60h4v4h-4zM108 64h4v4h-4zM120 64h4v4h-4zM48 68h4v4h-4zM64 68h4v4h-4zM84 68h4v4h-4zM96 68h4v4h-4zM120 76h4v4h-4zM60 84h4v4h-4zM80 84h8v4h-8zM96 84h4v4h-4zM136 84h4v4h-4zM88 88h4v4h-4zM120 88h4v4h-4zM156 88h4v4h-4zM56 92h4v4h-4zM120 96h8v4h-8zM148 96h4v4h-4zM84 100h8v4h-8zM116 100h4v4h-4zM164 100h4v4h-4zM176 100h4v4h-4zM92 104h4v4h-4zM100 104h4v4h-4zM112 108h8v4h-8zM124 108h4v4h-4zM136 108h4v4h-4zM184 108h4v4h-4zM164 112h8v4h-8zM180 112h4v4h-4zM188 112h4v4h-4zM80 120h4v4h-4zM96 120h4v4h-4zM140 120h4v4h-4zM152 120h4v4h-4zM168 120h4v4h-4zM144 124h4v4h-4zM136 128h4v4h-4zM128 132h4v4h-4zM148 132h4v4h-4zM160 132h4v4h-4zM176 132h4v4h-4zM128 136h4v4h-4zM140 136h4v4h-4zM172 136h4v4h-4zM136 140h4v4h-4zM144 140h4v4h-4zM152 140h4v4h-4zM112 148h4v4h-4zM192 152h4v4h-4z"/><path fill="#3cffc3" d="M32 56h4v4h-4zM72 56h4v4h-4zM16 60h4v4h-4zM28 60h4v4h-4zM112 60h4v4h-4zM44 64h4v4h-4zM56 64h4v4h-4zM84 64h4v4h-4zM116 64h4v4h-4zM8 68h4v4h-4zM28 68h4v4h-4zM100 68h4v4h-4zM116 68h4v4h-4zM16 72h4v4h-4zM72 72h4v4h-4zM104 76h4v4h-4zM140 88h4v4h-4zM68 92h4v4h-4zM92 92h4v4h-4zM140 92h8v4h-8zM72 96h4v4h-4zM92 96h4v4h-4zM108 96h4v4h-4zM100 100h4v4h-4zM124 100h4v4h-4zM112 104h8v4h-8zM160 108h8v4h-8zM76 112h4v4h-4zM128 112h4v4h-4zM148 112h4v4h-4zM160 112h4v4h-4zM124 116h4v4h-4zM168 116h4v4h-4zM72 120h4v4h-4zM124 120h4v4h-4zM144 120h8v4h-8zM176 120h4v4h-4zM124 124h4v4h-4zM100 128h4v4h-4zM148 128h4v4h-4zM156 128h8v4h-8zM168 128h4v4h-4zM100 132h4v4h-4zM136 132h4v4h-4zM144 132h4v4h-4zM152 132h4v4h-4zM164 132h4v4h-4zM100 136h4v4h-4zM124 136h4v4h-4zM132 136h4v4h-4zM152 136h4v4h-4zM224 136h4v4h-4zM132 140h4v4h-4zM168 140h4v4h-4zM212 144h4v4h-4zM188 148h4v4h-4zM212 152h4v4h-4z"/><path fill="#41ffbe" d="M80 56h4v4h-4zM4 60h4v4h-4zM56 60h4v4h-4zM76 60h4v4h-4zM92 60h8v4h-8zM104 60h4v4h-4zM8 64h4v4h-4zM48 64h4v4h-4zM72 64h4v4h-4zM12 68h4v4h-4zM24 68h4v4h-4zM40 68h4v4h-4zM60 68h4v4h-4zM104 68h4v4h-4zM112 68h4v4h-4zM96 72h4v4h-4zM44 88h4v4h-4zM112 92h4v4h-4zM88 96h4v4h-4zM100 96h4v4h-4zM128 96h4v4h-4zM136 96h8v4h-8zM96 100h4v4h-4zM156 100h4v4h-4zM104 104h4v4h-4zM120 104h4v4h-4zM156 104h4v4h-4zM180 104h8v4h-8zM144 108h4v4h-4zM176 108h4v4h-4zM120 112h8v4h-8zM140 112h8v4h-8zM172 112h4v4h-4zM140 116h4v4h-4zM164 116h4v4h-4zM172 116h4v4h-4zM192 116h4v4h-4zM128 120h4v4h-4zM156 120h4v4h-4zM72 124h4v4h-4zM96 124h4v4h-4zM172 124h4v4h-4zM120 128h4v4h-4zM144 128h4v4h-4zM164 128h4v4h-4zM228 128h4v4h-4zM156 132h4v4h-4zM196 132h4v4h-4zM144 136h4v4h-4zM160 136h12v4h-12zM180 136h8v4h-8zM148 140h4v4h-4zM188 140h4v4h-4zM196 140h4v4h-4zM224 140h4v4h-4zM176 144h4v4h-4zM152 148h4v4h-4zM176 148h8v4h-8zM196 148h4v4h-4zM184 152h4v4h-4zM204 156h4v4h-4z"/><path fill="#4dffb2" d="M88 56h4v4h-4zM48 60h4v4h-4zM80 60h4v4h-4zM28 64h4v4h-4zM36 64h4v4h-4zM52 64h4v4h-4zM100 64h8v4h-8zM120 68h4v4h-4zM96 92h4v4h-4zM160 104h4v4h-4zM168 104h4v4h-4zM148 108h4v4h-4zM172 108h4v4h-4zM180 108h4v4h-4zM152 112h4v4h-4zM72 116h8v4h-8zM128 116h4v4h-4zM156 116h4v4h-4zM200 116h4v4h-4zM164 120h4v4h-4zM180 120h8v4h-8zM192 120h4v4h-4zM80 124h4v4h-4zM128 124h8v4h-8zM164 124h4v4h-4zM180 124h4v4h-4zM208 124h8v4h-8zM224 124h4v4h-4zM124 128h4v4h-4zM176 128h4v4h-4zM188 128h4v4h-4zM180 132h4v4h-4zM136 136h4v4h-4zM172 140h8v4h-8zM184 140h4v4h-4zM208 140h4v4h-4zM144 144h4v4h-4zM160 144h4v4h-4zM168 144h4v4h-4zM180 144h4v4h-4zM188 144h12v4h-12zM184 148h4v4h-4z"/><path fill="#47ffb8" d="M88 60h4v4h-4zM12 64h8v4h-8zM24 64h4v4h-4zM20 68h4v4h-4zM88 68h4v4h-4zM24 72h4v4h-4zM104 92h4v4h-4zM164 92h4v4h-4zM92 100h4v4h-4zM144 100h4v4h-4zM152 100h4v4h-4zM168 100h4v4h-4zM108 104h4v4h-4zM132 104h4v4h-4zM140 104h4v4h-4zM152 108h4v4h-4zM132 112h4v4h-4zM176 112h4v4h-4zM120 116h4v4h-4zM136 116h4v4h-4zM144 116h4v4h-4zM160 116h4v4h-4zM180 116h4v4h-4zM136 120h4v4h-4zM208 120h4v4h-4zM216 120h4v4h-4zM76 124h4v4h-4zM100 124h4v4h-4zM176 124h4v4h-4zM124 132h4v4h-4zM172 132h4v4h-4zM188 132h4v4h-4zM224 132h4v4h-4zM148 136h4v4h-4zM188 136h4v4h-4zM104 140h4v4h-4zM140 140h4v4h-4zM164 144h4v4h-4zM184 144h4v4h-4zM200 144h4v4h-4zM220 144h4v4h-4zM140 148h4v4h-4zM192 148h4v4h-4zM208 148h4v4h-4zM196 152h4v4h-4zM192 160h4v4h-4z"/><path fill="#52ffad" d="M148 104h4v4h-4zM132 108h4v4h-4zM168 108h4v4h-4zM184 112h4v4h-4zM68 116h4v4h-4zM152 116h4v4h-4zM196 116h4v4h-4zM160 120h4v4h-4zM120 124h4v4h-4zM156 124h4v4h-4zM168 124h4v4h-4zM184 124h4v4h-4zM192 124h8v4h-8zM220 124h4v4h-4zM140 128h4v4h-4zM184 128h4v4h-4zM176 136h4v4h-4zM196 136h4v4h-4zM192 140h4v4h-4zM212 148h4v4h-4zM204 152h4v4h-4z"/><path fill="#58ffa7" d="M128 108h4v4h-4zM72 112h4v4h-4zM156 112h4v4h-4zM132 116h4v4h-4zM176 116h4v4h-4zM184 116h4v4h-4zM76 120h4v4h-4zM120 120h4v4h-4zM188 120h4v4h-4zM196 120h4v4h-4zM204 120h4v4h-4zM160 124h4v4h-4zM188 124h4v4h-4zM200 124h4v4h-4zM216 124h4v4h-4zM128 128h8v4h-8zM172 128h4v4h-4zM196 128h4v4h-4zM224 128h4v4h-4zM212 132h4v4h-4zM228 132h4v4h-4zM180 140h4v4h-4zM208 144h4v4h-4zM216 144h4v4h-4zM204 148h4v4h-4zM200 156h4v4h-4z"/><path fill="#63ff9c" d="M80 116h4v4h-4zM220 128h4v4h-4zM200 132h4v4h-4zM220 132h4v4h-4zM220 136h4v4h-4zM164 140h4v4h-4zM200 140h4v4h-4z"/><path fill="#5effa2" d="M132 120h4v4h-4zM212 120h4v4h-4zM148 124h4v4h-4zM152 128h4v4h-4zM180 128h4v4h-4zM200 128h4v4h-4zM216 128h4v4h-4zM192 132h4v4h-4zM192 136h4v4h-4zM200 136h4v4h-4zM228 136h4v4h-4zM200 148h4v4h-4z"/><path fill="#6eff90" d="M172 120h4v4h-4zM208 128h4v4h-4zM204 132h8v4h-8z"/><path fill="#74ff8b" d="M200 120h4v4h-4zM204 140h4v4h-4z"/><path fill="#69ff96" d="M204 124h4v4h-4zM192 128h4v4h-4zM204 128h4v4h-4zM216 132h4v4h-4zM212 140h12v4h-12zM216 148h4v4h-4z"/><path fill="#7aff85" d="M212 128h4v4h-4zM212 136h8v4h-8zM204 144h4v4h-4z"/><path fill="#8bff74" d="M204 136h4v4h-4z"/><path fill="#85ff7a" d="M208 136h4v4h-4z"/><path fill="#0036ff" d="M136 164h4v4h-4zM124 196h4v4h-4zM120 200h8v4h-8zM140 220h4v4h-4zM124 224h4v4h-4zM168 224h4v4h-4zM132 232h4v4h-4z"/><path fill="#0000fc" d="M136 168h4v4h-4z"/><path fill="#0019ff" d="M132 172h8v4h-8zM128 204h4v4h-4zM124 208h4v4h-4zM120 216h4v4h-4zM124 220h4v4h-4z"/><path fill="#0047ff" d="M128 176h4v4h-4zM120 212h4v4h-4zM136 212h12v4h-12zM112 220h4v4h-4zM128 220h8v4h-8zM148 220h8v4h-8zM112 224h4v4h-4zM140 224h4v4h-4zM128 228h8v4h-8zM124 232h4v4h-4zM136 232h4v4h-4z"/><path fill="#0000eb" d="M132 176h4v4h-4zM132 188h4v4h-4z"/><path fill="#001fff" d="M136 176h4v4h-4z"/><path fill="#000eff" d="M128 180h4v4h-4zM124 204h4v4h-4zM124 216h4v4h-4z"/><path fill="#0000e0" d="M132 180h4v4h-4z"/><path fill="#0000a2" d="M128 184h4v4h-4z"/><path fill="#0000cf" d="M132 184h4v4h-4z"/><path fill="#0000c3" d="M128 188h4v4h-4z"/><path fill="#0030ff" d="M128 192h8v4h-8zM128 196h4v4h-4zM128 212h4v4h-4z"/><path fill="#0003ff" d="M128 200h4v4h-4z"/><path fill="#003bff" d="M132 204h4v4h-4zM120 208h4v4h-4zM132 208h4v4h-4zM116 216h4v4h-4zM144 216h4v4h-4zM164 220h4v4h-4zM116 228h4v4h-4z"/><path fill="#0008ff" d="M128 208h4v4h-4zM120 220h4v4h-4z"/><path fill="#0014ff" d="M124 212h4v4h-4z"/><path fill="#0025ff" d="M132 216h4v4h-4z"/><path fill="#002aff" d="M116 220h4v4h-4zM116 224h4v4h-4zM164 224h4v4h-4z"/></g></g>
<use href="#lk" fill="#fff"/>

<rect x="31.8" y="-1" width="121.7" height="2.2" fill="#fff"/>
<use href="#fj" fill="none" stroke="#0a1030" stroke-opacity="0.8" stroke-width="3" stroke-dasharray="2.5 1 1.5 1"/>
<use href="#fj2" fill="none" stroke="#fff" stroke-opacity="0.9" stroke-width="1.6" stroke-dasharray="1.5 1 2.5 2"/>
<use href="#falk" fill="#0a1030" fill-opacity="0.8"/>
<use href="#am" fill="none" stroke="#1a1a1a" stroke-opacity="0.8" stroke-width="0.45"/>
<use href="#isl" fill="none" stroke="#1a1a1a" stroke-opacity="0.8" stroke-width="0.45"/>
<use href="#bd" fill="none" stroke="#1a1a1a" stroke-opacity="0.65" stroke-width="0.4"/>
</svg>
<rect x="43.8" y="22.5" width="238.2" height="239.5" fill="none" stroke="#5a5a5a" stroke-width="0.9"/>
<path d="M43.80 262 v-2.4 M43.80 22.5 v2.4" stroke="#555" stroke-width="0.8"/>
<path d="M96.73 262 v-2.4 M96.73 22.5 v2.4" stroke="#555" stroke-width="0.8"/>
<path d="M149.67 262 v-2.4 M149.67 22.5 v2.4" stroke="#555" stroke-width="0.8"/>
<path d="M202.60 262 v-2.4 M202.60 22.5 v2.4" stroke="#555" stroke-width="0.8"/>
<path d="M255.53 262 v-2.4 M255.53 22.5 v2.4" stroke="#555" stroke-width="0.8"/>
<path d="M43.8 262.00 h2.4 M282 262.00 h-2.4" stroke="#555" stroke-width="0.8"/>
<path d="M43.8 222.08 h2.4 M282 222.08 h-2.4" stroke="#555" stroke-width="0.8"/>
<path d="M43.8 182.17 h2.4 M282 182.17 h-2.4" stroke="#555" stroke-width="0.8"/>
<path d="M43.8 142.25 h2.4 M282 142.25 h-2.4" stroke="#555" stroke-width="0.8"/>
<path d="M43.8 102.33 h2.4 M282 102.33 h-2.4" stroke="#555" stroke-width="0.8"/>
<path d="M43.8 62.42 h2.4 M282 62.42 h-2.4" stroke="#555" stroke-width="0.8"/>
<path d="M43.8 22.50 h2.4 M282 22.50 h-2.4" stroke="#555" stroke-width="0.8"/>
<text x="42.7" y="267.60" font-size="12.3" text-anchor="end" fill="#262626">-60</text>
<text x="42.7" y="227.68" font-size="12.3" text-anchor="end" fill="#262626">-40</text>
<text x="42.7" y="187.77" font-size="12.3" text-anchor="end" fill="#262626">-20</text>
<text x="42.7" y="147.85" font-size="12.3" text-anchor="end" fill="#262626">0</text>
<text x="42.7" y="107.93" font-size="12.3" text-anchor="end" fill="#262626">20</text>
<text x="42.7" y="68.02" font-size="12.3" text-anchor="end" fill="#262626">40</text>
<text x="42.7" y="28.10" font-size="12.3" text-anchor="end" fill="#262626">60</text>
<text x="41.60" y="275.2" font-size="11.9" text-anchor="middle" fill="#262626">-120</text>
<text x="94.53" y="275.2" font-size="11.9" text-anchor="middle" fill="#262626">-100</text>
<text x="147.47" y="275.2" font-size="11.9" text-anchor="middle" fill="#262626">-80</text>
<text x="200.40" y="275.2" font-size="11.9" text-anchor="middle" fill="#262626">-60</text>
<text x="253.33" y="275.2" font-size="11.9" text-anchor="middle" fill="#262626">-40</text>
<text x="161" y="288.8" font-size="12" text-anchor="middle" fill="#262626">Longitude (°)</text>
<text transform="translate(20.8,144) rotate(-90)" font-size="12" text-anchor="middle" fill="#262626">Latitude (°)</text>
<rect x="287" y="23" width="6.2" height="239" fill="url(#jet)"/>
<text x="293.1" y="267.60" font-size="12.2" fill="#262626">250</text>
<text x="293.1" y="241.04" font-size="12.2" fill="#262626">260</text>
<text x="293.1" y="214.49" font-size="12.2" fill="#262626">270</text>
<text x="293.1" y="187.93" font-size="12.2" fill="#262626">280</text>
<text x="293.1" y="161.38" font-size="12.2" fill="#262626">290</text>
<text x="293.1" y="134.82" font-size="12.2" fill="#262626">300</text>
<text x="293.1" y="108.27" font-size="12.2" fill="#262626">310</text>
<text x="293.1" y="81.71" font-size="12.2" fill="#262626">320</text>
<text x="293.1" y="55.16" font-size="12.2" fill="#262626">330</text>
<text x="293.1" y="28.60" font-size="12.2" fill="#262626">340</text>
<path d="M287 235.44h1.6M293.2 235.44h-1.6M287 208.89h1.6M293.2 208.89h-1.6M287 182.33h1.6M293.2 182.33h-1.6M287 155.78h1.6M293.2 155.78h-1.6M287 129.22h1.6M293.2 129.22h-1.6M287 102.67h1.6M293.2 102.67h-1.6M287 76.11h1.6M293.2 76.11h-1.6M287 49.56h1.6M293.2 49.56h-1.6" stroke="#333" stroke-opacity="0.6" stroke-width="0.7"/>
<g fill="#000" stroke="#000" stroke-width="0.25"><text transform="translate(4.58,288) scale(0.956,1)" font-size="24.5">b</text>
<text transform="translate(18.80,287.6) scale(0.8,1)" font-size="23.5">)</text></g>
</g>
<g transform="translate(670,0)">
<rect x="1" y="1" width="327" height="293" fill="#cfcfcf" stroke="#3a3a3a" stroke-width="2"/>
<text x="162.5" y="13.6" font-size="12" text-anchor="middle" fill="#262626">11:45 UTC</text>
<svg x="43.8" y="22.5" width="238.2" height="239.5" viewBox="0 0 238.2 239.5" overflow="hidden">
<filter id="cf-c" x="0" y="0" width="238.2" height="239.5" filterUnits="userSpaceOnUse" color-interpolation-filters="sRGB"><feGaussianBlur in="SourceAlpha" stdDeviation="2.6" result="d"/><feTurbulence type="fractalNoise" baseFrequency="0.06 0.09" numOctaves="2" seed="693" result="nl"/><feTurbulence type="fractalNoise" baseFrequency="0.3 0.45" numOctaves="3" seed="694" result="nh"/><feComposite in="d" in2="nl" operator="arithmetic" k1="0" k2="0.5" k3="0.6" k4="0" result="s1"/><feComposite in="s1" in2="nh" operator="arithmetic" k1="0" k2="1" k3="0.85" k4="-0.95" result="s"/><feComponentTransfer in="s" result="t"><feFuncA type="linear" slope="20" intercept="0"/></feComponentTransfer><feComponentTransfer in="d" result="dm"><feFuncA type="linear" slope="6" intercept="-0.3"/></feComponentTransfer><feComposite in="t" in2="dm" operator="in" result="t2"/><feFlood flood-color="#fff"/><feComposite operator="in" in2="t2"/></filter>
<g filter="url(#bo)"><path fill="#0080ff" d="M-7 -7h63v7h-63zM-7 0h63v7h-63zM-7 7h63v7h-63zM203 7h14v7h-14zM70 14h7v7h-7zM112 14h42v7h-42zM189 14h7v7h-7zM-7 238h154v7h-154zM-7 245h154v7h-154z"/><path fill="#007aff" d="M56 -7h7v7h-7zM56 0h7v7h-7zM56 7h7v7h-7zM147 7h14v7h-14zM196 7h7v7h-7zM77 14h35v7h-35zM154 14h14v7h-14zM175 14h14v7h-14z"/><path fill="#0074ff" d="M63 -7h7v7h-7zM154 -7h14v7h-14zM63 0h7v7h-7zM147 0h28v7h-28zM217 0h35v7h-35zM63 7h7v7h-7zM126 7h21v7h-21zM161 7h14v7h-14zM189 7h7v7h-7zM168 14h7v7h-7z"/><path fill="#006eff" d="M70 -7h7v7h-7zM140 -7h14v7h-14zM168 -7h7v7h-7zM70 0h7v7h-7zM126 0h21v7h-21zM175 0h42v7h-42zM70 7h7v7h-7zM112 7h14v7h-14zM175 7h14v7h-14z"/><path fill="#0069ff" d="M77 -7h63v7h-63zM175 -7h77v7h-77zM77 0h49v7h-49zM77 7h35v7h-35z"/><path fill="#0085ff" d="M217 7h14v7h-14zM63 14h7v7h-7zM147 238h28v7h-28zM147 245h28v7h-28z"/><path fill="#008bff" d="M231 7h21v7h-21zM56 14h7v7h-7zM196 14h7v7h-7zM175 238h77v7h-77zM175 245h77v7h-77z"/><path fill="#0090ff" d="M-7 14h63v7h-63zM203 14h7v7h-7zM168 21h7v7h-7zM-7 231h154v7h-154z"/><path fill="#0096ff" d="M210 14h7v7h-7zM161 21h7v7h-7zM175 21h7v7h-7zM147 231h28v7h-28z"/><path fill="#009cff" d="M217 14h7v7h-7zM77 21h7v7h-7zM154 21h7v7h-7zM182 21h7v7h-7zM175 231h77v7h-77z"/><path fill="#00a2ff" d="M224 14h14v7h-14zM70 21h7v7h-7zM84 21h21v7h-21zM140 21h14v7h-14zM189 21h7v7h-7z"/><path fill="#00a7ff" d="M238 14h14v7h-14zM56 21h14v7h-14zM105 21h35v7h-35zM-7 224h140v7h-140z"/><path fill="#00adff" d="M-7 21h63v7h-63zM196 21h7v7h-7zM133 224h28v7h-28z"/><path fill="#00b2ff" d="M203 21h7v7h-7zM161 224h91v7h-91z"/><path fill="#00beff" d="M210 21h7v7h-7z"/><path fill="#00c3ff" d="M217 21h14v7h-14zM-7 217h147v7h-147z"/><path fill="#00c9ff" d="M231 21h21v7h-21zM-7 28h84v7h-84zM140 217h112v7h-112z"/><path fill="#00cfff" d="M77 28h14v7h-14zM161 28h21v7h-21z"/><path fill="#00d4ff" d="M91 28h14v7h-14zM154 28h7v7h-7zM182 28h7v7h-7z"/><path fill="#00daff" d="M105 28h14v7h-14zM140 28h14v7h-14zM189 28h7v7h-7zM84 210h63v7h-63z"/><path fill="#00e0ff" d="M119 28h21v7h-21zM196 28h7v7h-7zM-7 210h91v7h-91zM147 210h105v7h-105z"/><path fill="#00e5ff" d="M203 28h7v7h-7z"/><path fill="#00ebff" d="M210 28h7v7h-7zM-7 35h70v7h-70z"/><path fill="#00f1ff" d="M217 28h7v7h-7zM63 35h14v7h-14zM98 203h21v7h-21z"/><path fill="#00f6ff" d="M224 28h14v7h-14zM77 35h7v7h-7zM70 203h28v7h-28zM119 203h28v7h-28zM168 203h84v7h-84z"/><path fill="#00fcff" d="M238 28h14v7h-14zM84 35h7v7h-7zM-7 42h42v7h-42zM-7 203h77v7h-77zM147 203h21v7h-21z"/><path fill="#03fffc" d="M91 35h7v7h-7zM35 42h21v7h-21z"/><path fill="#09fff6" d="M98 35h14v7h-14zM224 196h28v7h-28z"/><path fill="#0efff1" d="M112 35h14v7h-14zM154 35h35v7h-35zM56 42h7v7h-7zM91 196h21v7h-21zM203 196h21v7h-21z"/><path fill="#14ffeb" d="M126 35h28v7h-28zM189 35h21v7h-21zM-7 49h35v7h-35zM70 196h21v7h-21zM112 196h7v7h-7zM182 196h21v7h-21z"/><path fill="#1affe5" d="M210 35h14v7h-14zM63 42h7v7h-7zM28 49h7v7h-7zM-7 196h77v7h-77zM119 196h7v7h-7zM168 196h14v7h-14z"/><path fill="#1fffe0" d="M224 35h14v7h-14zM70 42h7v7h-7zM35 49h7v7h-7zM126 196h42v7h-42z"/><path fill="#25ffda" d="M238 35h14v7h-14zM42 49h7v7h-7z"/><path fill="#2bffd4" d="M77 42h7v7h-7zM49 49h7v7h-7zM-7 56h14v7h-14zM91 189h21v7h-21zM217 189h35v7h-35z"/><path fill="#30ffcf" d="M84 42h7v7h-7zM7 56h14v7h-14zM63 189h28v7h-28zM112 189h14v7h-14zM189 189h28v7h-28z"/><path fill="#36ffc9" d="M91 42h7v7h-7zM56 49h7v7h-7zM21 56h7v7h-7zM-7 189h70v7h-70zM126 189h14v7h-14zM175 189h14v7h-14z"/><path fill="#3cffc3" d="M98 42h7v7h-7zM28 56h7v7h-7zM140 189h14v7h-14zM161 189h14v7h-14z"/><path fill="#41ffbe" d="M105 42h7v7h-7zM91 182h21v7h-21zM154 189h7v7h-7z"/><path fill="#47ffb8" d="M112 42h14v7h-14zM196 42h35v7h-35zM63 49h7v7h-7zM35 56h7v7h-7zM70 182h21v7h-21zM112 182h7v7h-7zM224 182h28v7h-28z"/><path fill="#4dffb2" d="M126 42h70v7h-70zM231 42h21v7h-21zM-7 182h77v7h-77zM119 182h14v7h-14zM196 182h28v7h-28z"/><path fill="#58ffa7" d="M70 49h7v7h-7zM7 63h7v7h-7zM77 175h42v7h-42zM147 182h28v7h-28z"/><path fill="#63ff9c" d="M77 49h7v7h-7zM21 63h7v7h-7zM91 168h21v7h-21zM-7 175h56v7h-56zM126 175h7v7h-7zM217 175h35v7h-35z"/><path fill="#69ff96" d="M84 49h7v7h-7zM28 63h7v7h-7zM70 168h21v7h-21zM112 168h7v7h-7zM133 175h14v7h-14zM189 175h28v7h-28z"/><path fill="#6eff90" d="M91 49h14v7h-14zM210 49h42v7h-42zM35 63h7v7h-7zM91 161h21v7h-21zM-7 168h77v7h-77zM119 168h7v7h-7zM147 175h42v7h-42z"/><path fill="#74ff8b" d="M105 49h14v7h-14zM189 49h21v7h-21zM56 56h7v7h-7zM77 161h14v7h-14zM112 161h7v7h-7zM126 168h7v7h-7z"/><path fill="#7aff85" d="M119 49h70v7h-70zM42 63h7v7h-7zM-7 70h14v7h-14zM91 154h21v7h-21zM56 161h21v7h-21zM119 161h7v7h-7zM133 168h14v7h-14zM224 168h28v7h-28z"/><path fill="#52ffad" d="M42 56h7v7h-7zM-7 63h14v7h-14zM133 182h14v7h-14zM175 182h21v7h-21z"/><path fill="#5effa2" d="M49 56h7v7h-7zM14 63h7v7h-7zM49 175h28v7h-28zM119 175h7v7h-7z"/><path fill="#85ff7a" d="M63 56h7v7h-7zM217 56h35v7h-35zM14 70h7v7h-7zM84 147h14v7h-14zM42 154h35v7h-35zM126 161h14v7h-14zM154 168h42v7h-42z"/><path fill="#96ff69" d="M70 56h7v7h-7zM105 56h14v7h-14zM182 63h70v7h-70zM42 70h7v7h-7zM98 133h14v7h-14zM77 140h14v7h-14zM-7 147h42v7h-42zM126 147h7v7h-7zM133 154h14v7h-14zM161 161h28v7h-28z"/><path fill="#a7ff58" d="M77 56h7v7h-7zM112 63h7v7h-7zM56 70h7v7h-7zM147 70h28v7h-28zM14 77h14v7h-14zM77 119h14v7h-14zM112 119h7v7h-7zM91 126h7v7h-7zM112 126h7v7h-7zM70 133h14v7h-14zM126 133h7v7h-7zM-7 140h49v7h-49zM133 140h7v7h-7zM147 147h7v7h-7z"/><path fill="#a2ff5e" d="M84 56h14v7h-14zM63 63h7v7h-7zM119 63h21v7h-21zM175 70h77v7h-77zM0 77h14v7h-14zM91 119h21v7h-21zM98 126h14v7h-14zM84 133h7v7h-7zM119 133h7v7h-7zM42 140h21v7h-21zM126 140h7v7h-7zM140 147h7v7h-7zM154 154h42v7h-42z"/><path fill="#9cff63" d="M98 56h7v7h-7zM140 63h42v7h-42zM49 70h7v7h-7zM-7 77h7v7h-7zM91 133h7v7h-7zM112 133h7v7h-7zM63 140h14v7h-14zM119 140h7v7h-7zM133 147h7v7h-7zM147 154h7v7h-7zM196 154h56v7h-56z"/><path fill="#91ff6e" d="M119 56h77v7h-77zM56 63h7v7h-7zM28 70h14v7h-14zM91 140h7v7h-7zM112 140h7v7h-7zM35 147h28v7h-28zM119 147h7v7h-7zM126 154h7v7h-7zM147 161h14v7h-14zM189 161h28v7h-28z"/><path fill="#8bff74" d="M196 56h21v7h-21zM21 70h7v7h-7zM98 140h14v7h-14zM63 147h21v7h-21zM112 147h7v7h-7zM-7 154h49v7h-49zM119 154h7v7h-7zM140 161h7v7h-7zM217 161h35v7h-35z"/><path fill="#80ff80" d="M49 63h7v7h-7zM7 70h7v7h-7zM98 147h14v7h-14zM77 154h14v7h-14zM112 154h7v7h-7zM-7 161h63v7h-63zM147 168h7v7h-7zM196 168h28v7h-28z"/><path fill="#b3ff4c" d="M70 63h7v7h-7zM91 63h7v7h-7zM63 70h7v7h-7zM119 70h14v7h-14zM42 77h14v7h-14zM154 77h21v7h-21zM91 112h21v7h-21zM-7 119h70v7h-70zM119 119h7v7h-7zM63 126h21v7h-21zM126 126h7v7h-7zM-7 133h63v7h-63zM140 133h7v7h-7zM147 140h7v7h-7z"/><path fill="#beff41" d="M77 63h7v7h-7zM70 70h7v7h-7zM91 70h7v7h-7zM63 77h14v7h-14zM133 77h7v7h-7zM0 84h14v7h-14zM-7 112h77v7h-77zM119 112h7v7h-7zM133 119h7v7h-7zM140 126h7v7h-7zM154 133h7v7h-7zM203 140h42v7h-42z"/><path fill="#b8ff47" d="M84 63h7v7h-7zM98 70h21v7h-21zM56 77h7v7h-7zM140 77h14v7h-14zM-7 84h7v7h-7zM70 112h21v7h-21zM112 112h7v7h-7zM126 119h7v7h-7zM-7 126h70v7h-70zM133 126h7v7h-7zM147 133h7v7h-7zM154 140h49v7h-49zM245 140h7v7h-7z"/><path fill="#adff52" d="M98 63h14v7h-14zM133 70h14v7h-14zM28 77h14v7h-14zM175 77h77v7h-77zM63 119h14v7h-14zM84 126h7v7h-7zM119 126h7v7h-7zM56 133h14v7h-14zM133 133h7v7h-7zM140 140h7v7h-7zM154 147h98v7h-98z"/><path fill="#c9ff36" d="M77 70h7v7h-7zM35 84h35v7h-35zM154 84h14v7h-14zM133 112h14v7h-14zM154 119h35v7h-35zM154 126h35v7h-35zM203 133h49v7h-49z"/><path fill="#c3ff3c" d="M84 70h7v7h-7zM77 77h56v7h-56zM14 84h21v7h-21zM168 84h84v7h-84zM126 112h7v7h-7zM140 119h14v7h-14zM147 126h7v7h-7zM161 133h42v7h-42z"/><path fill="#cfff30" d="M70 84h28v7h-28zM140 84h14v7h-14zM-7 91h21v7h-21zM168 91h84v7h-84zM-7 105h98v7h-98zM147 112h35v7h-35zM189 119h21v7h-21zM238 119h14v7h-14zM189 126h21v7h-21zM238 126h14v7h-14z"/><path fill="#d5ff2a" d="M98 84h42v7h-42zM14 91h63v7h-63zM154 91h14v7h-14zM175 98h21v7h-21zM91 105h56v7h-56zM182 112h28v7h-28zM238 112h14v7h-14zM210 119h28v7h-28zM210 126h28v7h-28z"/><path fill="#daff25" d="M77 91h21v7h-21zM140 91h14v7h-14zM-7 98h105v7h-105zM147 98h28v7h-28zM196 98h56v7h-56zM147 105h56v7h-56zM245 105h7v7h-7zM210 112h28v7h-28z"/><path fill="#e0ff1f" d="M98 91h42v7h-42zM98 98h49v7h-49zM203 105h42v7h-42z"/></g>
<g filter="url(#cf-c)"><path fill-opacity="0.55" d="M24 0h120v6h-120z"/><path fill-opacity="0.60" d="M144 0h6v6h-6z"/><path fill-opacity="0.70" d="M150 0h6v6h-6z"/><path fill-opacity="0.20" d="M156 0h6v6h-6zM168 0h6v6h-6zM156 6h18v6h-18zM174 84h6v6h-6zM174 90h6v6h-6z"/><path fill-opacity="0.25" d="M162 0h6v6h-6z"/><path fill-opacity="0.10" d="M174 0h6v6h-6zM180 84h6v6h-6zM180 90h6v6h-6z"/><path fill-opacity="0.05" d="M180 0h6v6h-6zM144 6h6v6h-6zM162 78h12v6h-12zM150 84h6v6h-6zM150 90h6v6h-6zM168 96h6v6h-6z"/><path fill-opacity="0.15" d="M150 6h6v6h-6zM156 84h6v6h-6zM156 90h6v6h-6z"/><path fill-opacity="1.00" d="M174 6h6v6h-6z"/><path fill-opacity="0.95" d="M180 6h6v6h-6z"/><path fill-opacity="0.90" d="M186 6h54v6h-54zM174 12h66v6h-66zM174 18h66v6h-66zM186 24h54v6h-54zM204 30h36v6h-36zM0 90h42v6h-42zM0 96h60v6h-60zM0 102h60v6h-60zM0 108h60v6h-60zM0 114h54v6h-54zM0 120h12v6h-12zM0 192h24v6h-24zM0 198h54v6h-54zM0 204h78v6h-78zM0 210h96v6h-96zM0 216h114v6h-114zM0 222h114v6h-114zM0 228h120v6h-120zM0 234h120v6h-120z"/><path fill-opacity="0.30" d="M162 84h6v6h-6zM162 90h12v6h-12z"/><path fill-opacity="0.35" d="M168 84h6v6h-6zM0 126h36v6h-36zM0 132h36v6h-36zM96 132h12v6h-12zM0 138h42v6h-42zM102 138h12v6h-12zM0 144h42v6h-42zM102 144h12v6h-12zM0 150h42v6h-42zM102 150h18v6h-18zM0 156h42v6h-42zM108 156h12v6h-12zM0 162h42v6h-42zM108 162h18v6h-18zM0 168h36v6h-36zM108 168h18v6h-18zM0 174h36v6h-36zM0 180h36v6h-36zM0 186h30v6h-30z"/><path fill-opacity="0.45" d="M198 180h42v6h-42zM192 186h48v6h-48zM186 192h54v6h-54zM186 198h54v6h-54zM186 204h54v6h-54zM186 210h54v6h-54zM192 216h48v6h-48zM198 222h42v6h-42z"/></g>
<g clip-path="url(#landclip)"><g filter="url(#bl)"><path fill="#0090ff" d="M-4 -4h4v4h-4zM4 -4h4v4h-4zM16 -4h4v4h-4zM36 -4h4v4h-4zM48 0h4v4h-4zM88 4h4v4h-4zM96 4h4v4h-4zM36 8h4v4h-4zM-4 12h4v4h-4zM20 12h8v4h-8zM40 12h4v4h-4zM52 12h4v4h-4zM84 12h4v4h-4zM168 12h4v4h-4zM-4 16h4v4h-4zM4 16h4v4h-4zM72 16h4v4h-4zM152 16h4v4h-4zM-4 20h4v4h-4zM48 20h4v4h-4zM76 20h4v4h-4zM112 20h4v4h-4zM124 20h4v4h-4zM140 20h4v4h-4zM160 20h4v4h-4zM180 20h4v4h-4zM32 24h4v4h-4zM44 24h4v4h-4zM96 24h8v4h-8zM128 24h4v4h-4zM164 24h4v4h-4zM76 28h4v4h-4zM96 28h4v4h-4zM36 32h4v4h-4zM44 32h4v4h-4zM24 36h4v4h-4zM112 132h4v4h-4zM136 156h4v4h-4zM132 188h4v4h-4zM116 208h4v4h-4zM140 208h4v4h-4zM140 212h4v4h-4zM112 216h4v4h-4zM152 216h8v4h-8zM148 220h4v4h-4zM116 224h4v4h-4zM128 224h4v4h-4z"/><path fill="#0085ff" d="M0 -4h4v4h-4zM60 -4h12v4h-12zM140 -4h4v4h-4zM12 0h4v4h-4zM20 0h4v4h-4zM32 0h4v4h-4zM40 0h4v4h-4zM52 0h4v4h-4zM64 0h4v4h-4zM4 4h8v4h-8zM32 4h4v4h-4zM52 4h4v4h-4zM60 4h4v4h-4zM72 4h4v4h-4zM100 4h4v4h-4zM24 8h4v4h-4zM32 8h4v4h-4zM44 8h4v4h-4zM52 8h4v4h-4zM92 8h4v4h-4zM156 8h4v4h-4zM48 12h4v4h-4zM80 12h4v4h-4zM88 12h4v4h-4zM108 12h4v4h-4zM48 16h4v4h-4zM116 16h4v4h-4zM168 16h4v4h-4zM20 20h4v4h-4zM32 20h4v4h-4zM96 20h4v4h-4zM136 20h4v4h-4zM164 20h4v4h-4zM176 20h4v4h-4zM-4 24h4v4h-4zM4 24h4v4h-4zM68 24h4v4h-4zM124 24h4v4h-4zM132 24h4v4h-4zM16 28h4v4h-4zM124 196h8v4h-8zM132 208h4v4h-4zM136 212h4v4h-4zM112 220h4v4h-4zM132 224h4v4h-4zM136 232h4v4h-4z"/><path fill="#008bff" d="M8 -4h8v4h-8zM24 -4h4v4h-4zM52 -4h4v4h-4zM44 0h4v4h-4zM156 0h4v4h-4zM28 4h4v4h-4zM36 4h4v4h-4zM64 4h4v4h-4zM80 4h4v4h-4zM160 4h4v4h-4zM168 4h4v4h-4zM8 8h4v4h-4zM72 8h4v4h-4zM0 12h4v4h-4zM32 12h8v4h-8zM92 12h4v4h-4zM112 12h4v4h-4zM24 16h4v4h-4zM76 16h8v4h-8zM176 16h4v4h-4zM40 20h4v4h-4zM60 20h4v4h-4zM80 20h4v4h-4zM108 20h4v4h-4zM144 20h4v4h-4zM156 20h4v4h-4zM76 24h8v4h-8zM88 24h4v4h-4zM112 24h4v4h-4zM168 24h8v4h-8zM60 28h4v4h-4zM72 28h4v4h-4zM152 28h4v4h-4zM40 32h4v4h-4zM36 36h4v4h-4zM36 40h4v4h-4zM120 208h4v4h-4zM136 208h4v4h-4zM112 212h8v4h-8zM132 212h4v4h-4z"/><path fill="#0074ff" d="M20 -4h4v4h-4zM44 -4h4v4h-4zM56 -4h4v4h-4zM132 -4h4v4h-4zM28 0h4v4h-4zM56 0h4v4h-4zM108 0h4v4h-4zM140 0h4v4h-4zM56 4h4v4h-4zM108 4h4v4h-4zM156 4h4v4h-4zM112 8h4v4h-4zM152 8h4v4h-4zM8 12h8v4h-8zM60 12h8v4h-8zM132 12h8v4h-8zM0 16h4v4h-4zM8 16h4v4h-4zM56 16h4v4h-4zM128 16h4v4h-4zM156 16h4v4h-4zM128 20h8v4h-8zM4 28h4v4h-4zM40 28h4v4h-4zM24 32h4v4h-4zM132 172h8v4h-8zM144 216h4v4h-4zM160 216h4v4h-4zM168 220h4v4h-4zM124 224h4v4h-4zM140 224h4v4h-4zM152 224h4v4h-4zM120 228h4v4h-4zM152 228h4v4h-4z"/><path fill="#007aff" d="M28 -4h8v4h-8zM72 -4h4v4h-4zM108 -4h4v4h-4zM120 -4h4v4h-4zM136 -4h4v4h-4zM144 -4h4v4h-4zM68 0h12v4h-12zM148 0h8v4h-8zM20 4h4v4h-4zM112 4h4v4h-4zM136 4h4v4h-4zM144 4h4v4h-4zM-4 8h4v4h-4zM40 8h4v4h-4zM56 8h4v4h-4zM84 8h4v4h-4zM108 8h4v4h-4zM168 8h8v4h-8zM68 12h4v4h-4zM96 12h4v4h-4zM104 12h4v4h-4zM140 12h4v4h-4zM160 12h4v4h-4zM20 16h4v4h-4zM28 16h4v4h-4zM140 16h4v4h-4zM172 16h4v4h-4zM8 20h4v4h-4zM28 20h4v4h-4zM152 20h4v4h-4zM8 24h4v4h-4zM72 24h4v4h-4zM136 24h4v4h-4zM32 28h4v4h-4zM44 28h4v4h-4zM144 212h4v4h-4zM116 216h4v4h-4zM148 216h4v4h-4zM128 220h4v4h-4zM136 220h4v4h-4zM144 220h4v4h-4zM160 220h8v4h-8zM112 224h4v4h-4zM120 224h4v4h-4zM136 224h4v4h-4zM148 224h4v4h-4zM168 224h4v4h-4zM116 228h4v4h-4zM128 228h4v4h-4zM140 228h4v4h-4zM160 228h4v4h-4z"/><path fill="#009cff" d="M40 -4h4v4h-4zM-4 0h4v4h-4zM12 4h4v4h-4zM48 4h4v4h-4zM16 8h4v4h-4zM80 8h4v4h-4zM164 8h4v4h-4zM76 12h4v4h-4zM164 12h4v4h-4zM72 20h4v4h-4zM88 20h8v4h-8zM104 20h4v4h-4zM36 24h4v4h-4zM84 24h4v4h-4zM108 24h4v4h-4zM160 24h4v4h-4zM0 28h4v4h-4zM8 28h8v4h-8zM56 28h4v4h-4zM112 28h8v4h-8zM56 32h4v4h-4zM68 32h4v4h-4zM116 32h4v4h-4zM120 144h4v4h-4zM132 156h4v4h-4zM124 188h4v4h-4zM124 200h4v4h-4zM160 200h4v4h-4zM116 204h4v4h-4zM140 204h4v4h-4zM152 208h4v4h-4z"/><path fill="#0096ff" d="M48 -4h4v4h-4zM36 0h4v4h-4zM84 4h4v4h-4zM0 8h4v4h-4zM68 8h4v4h-4zM44 12h4v4h-4zM72 12h4v4h-4zM152 12h8v4h-8zM44 16h4v4h-4zM60 16h4v4h-4zM84 16h4v4h-4zM96 16h8v4h-8zM144 16h4v4h-4zM44 20h4v4h-4zM64 20h4v4h-4zM100 20h4v4h-4zM24 24h4v4h-4zM40 24h4v4h-4zM180 24h4v4h-4zM24 28h4v4h-4zM108 28h4v4h-4zM124 28h4v4h-4zM156 28h4v4h-4zM176 28h8v4h-8zM20 32h4v4h-4zM28 32h4v4h-4zM52 32h4v4h-4zM132 36h4v4h-4zM116 140h4v4h-4zM132 192h4v4h-4zM116 200h4v4h-4zM132 200h4v4h-4zM148 208h4v4h-4zM164 224h4v4h-4z"/><path fill="#0069ff" d="M104 -4h4v4h-4zM16 0h4v4h-4zM80 0h4v4h-4zM120 0h4v4h-4zM92 4h4v4h-4zM164 4h4v4h-4zM104 8h4v4h-4zM120 8h4v4h-4zM136 8h4v4h-4zM148 8h4v4h-4zM16 12h4v4h-4zM120 12h4v4h-4zM144 12h4v4h-4zM172 12h4v4h-4zM32 16h4v4h-4zM112 16h4v4h-4zM124 16h4v4h-4zM132 16h8v4h-8zM0 20h4v4h-4zM12 20h4v4h-4zM120 20h4v4h-4zM16 24h4v4h-4zM28 28h4v4h-4zM136 168h4v4h-4zM132 180h4v4h-4zM128 212h4v4h-4zM144 224h4v4h-4zM160 224h4v4h-4zM124 228h4v4h-4zM148 228h4v4h-4zM156 228h4v4h-4zM124 232h4v4h-4zM140 232h4v4h-4z"/><path fill="#0080ff" d="M112 -4h8v4h-8zM124 -4h4v4h-4zM148 -4h8v4h-8zM4 0h4v4h-4zM60 0h4v4h-4zM88 0h4v4h-4zM112 0h4v4h-4zM-4 4h8v4h-8zM16 4h4v4h-4zM24 4h4v4h-4zM4 8h4v4h-4zM12 8h4v4h-4zM20 8h4v4h-4zM88 8h4v4h-4zM4 12h4v4h-4zM100 12h4v4h-4zM52 16h4v4h-4zM68 16h4v4h-4zM92 16h4v4h-4zM104 16h8v4h-8zM148 16h4v4h-4zM16 20h4v4h-4zM24 20h4v4h-4zM36 20h4v4h-4zM148 20h4v4h-4zM168 20h4v4h-4zM0 24h4v4h-4zM12 24h4v4h-4zM28 24h4v4h-4zM48 24h8v4h-8zM156 24h4v4h-4zM100 28h4v4h-4zM32 32h4v4h-4zM32 36h4v4h-4zM40 36h4v4h-4zM132 152h4v4h-4zM136 160h4v4h-4zM136 164h4v4h-4zM128 192h4v4h-4zM128 204h4v4h-4zM132 220h4v4h-4zM140 220h4v4h-4zM152 220h8v4h-8zM132 228h4v4h-4zM144 228h4v4h-4zM128 232h4v4h-4z"/><path fill="#0063ff" d="M128 -4h4v4h-4zM0 0h4v4h-4zM144 0h4v4h-4zM68 4h4v4h-4zM48 8h4v4h-4zM100 8h4v4h-4zM144 8h4v4h-4zM124 12h4v4h-4zM148 12h4v4h-4zM16 16h4v4h-4zM20 24h4v4h-4zM36 28h4v4h-4zM128 200h4v4h-4zM124 204h4v4h-4zM124 208h4v4h-4zM156 224h4v4h-4zM132 232h4v4h-4zM144 232h4v4h-4z"/><path fill="#00a2ff" d="M8 0h4v4h-4zM28 8h4v4h-4zM28 12h4v4h-4zM64 16h4v4h-4zM52 20h4v4h-4zM68 20h4v4h-4zM84 20h4v4h-4zM60 24h8v4h-8zM116 24h4v4h-4zM140 24h8v4h-8zM152 24h4v4h-4zM64 28h4v4h-4zM80 28h4v4h-4zM88 28h4v4h-4zM132 28h4v4h-4zM48 32h4v4h-4zM60 32h4v4h-4zM128 32h4v4h-4zM156 32h4v4h-4zM12 36h4v4h-4zM108 120h4v4h-4zM128 180h4v4h-4zM144 208h4v4h-4zM148 212h4v4h-4zM136 216h4v4h-4z"/><path fill="#006eff" d="M24 0h4v4h-4zM84 0h4v4h-4zM104 0h4v4h-4zM116 0h4v4h-4zM132 0h4v4h-4zM40 4h4v4h-4zM76 4h4v4h-4zM104 4h4v4h-4zM128 4h4v4h-4zM152 4h4v4h-4zM60 8h8v4h-8zM76 8h4v4h-4zM96 8h4v4h-4zM160 8h4v4h-4zM128 12h4v4h-4zM12 16h4v4h-4zM120 16h4v4h-4zM160 16h4v4h-4zM4 20h4v4h-4zM20 28h4v4h-4zM120 212h4v4h-4zM128 216h8v4h-8zM164 216h4v4h-4zM136 228h4v4h-4z"/><path fill="#0052ff" d="M124 0h4v4h-4zM124 4h4v4h-4zM132 176h4v4h-4zM128 208h4v4h-4z"/><path fill="#0058ff" d="M128 0h4v4h-4zM124 8h4v4h-4zM140 8h4v4h-4z"/><path fill="#005eff" d="M136 0h4v4h-4zM116 4h8v4h-8zM140 4h4v4h-4zM148 4h4v4h-4zM128 8h8v4h-8z"/><path fill="#00a7ff" d="M44 4h4v4h-4zM56 12h4v4h-4zM36 16h8v4h-8zM164 16h4v4h-4zM116 20h4v4h-4zM56 24h4v4h-4zM104 24h4v4h-4zM148 24h4v4h-4zM176 24h4v4h-4zM48 28h4v4h-4zM68 28h4v4h-4zM92 28h4v4h-4zM104 28h4v4h-4zM120 28h4v4h-4zM136 28h8v4h-8zM148 28h4v4h-4zM164 28h12v4h-12zM-4 32h4v4h-4zM12 32h4v4h-4zM64 32h4v4h-4zM108 32h4v4h-4zM140 32h4v4h-4zM16 36h4v4h-4zM148 36h4v4h-4zM32 40h4v4h-4zM116 136h4v4h-4zM152 200h4v4h-4zM112 204h4v4h-4zM144 204h4v4h-4zM152 204h4v4h-4z"/><path fill="#0041ff" d="M132 4h4v4h-4zM120 216h4v4h-4z"/><path fill="#0047ff" d="M116 8h4v4h-4zM132 184h4v4h-4zM124 220h4v4h-4z"/><path fill="#004dff" d="M116 12h4v4h-4zM124 212h4v4h-4zM116 220h8v4h-8z"/><path fill="#00adff" d="M88 16h4v4h-4zM172 20h4v4h-4zM52 28h4v4h-4zM84 28h4v4h-4zM4 32h4v4h-4zM96 32h4v4h-4zM124 32h4v4h-4zM132 32h4v4h-4zM28 36h4v4h-4zM44 36h4v4h-4zM64 36h4v4h-4zM100 36h4v4h-4zM132 168h4v4h-4zM136 176h4v4h-4zM124 184h4v4h-4zM124 192h4v4h-4zM164 196h4v4h-4zM136 200h8v4h-8zM120 204h4v4h-4zM132 204h4v4h-4zM148 204h4v4h-4z"/><path fill="#00b8ff" d="M56 20h4v4h-4zM-4 28h4v4h-4zM16 32h4v4h-4zM76 32h4v4h-4zM100 32h4v4h-4zM120 32h4v4h-4zM136 32h4v4h-4zM144 32h8v4h-8zM60 40h4v4h-4zM108 124h4v4h-4zM124 148h4v4h-4zM132 160h4v4h-4zM128 176h4v4h-4zM168 196h4v4h-4zM140 216h4v4h-4z"/><path fill="#00b2ff" d="M92 24h4v4h-4zM120 24h4v4h-4zM128 28h4v4h-4zM144 28h4v4h-4zM72 32h4v4h-4zM88 32h4v4h-4zM104 32h4v4h-4zM112 32h4v4h-4zM160 32h4v4h-4zM48 36h4v4h-4zM112 36h4v4h-4zM144 36h4v4h-4zM28 40h4v4h-4zM108 116h4v4h-4zM112 124h4v4h-4zM128 148h4v4h-4zM144 196h4v4h-4zM156 196h4v4h-4zM112 208h4v4h-4z"/><path fill="#00beff" d="M160 28h4v4h-4zM0 32h4v4h-4zM8 32h4v4h-4zM92 32h4v4h-4zM20 36h4v4h-4zM56 36h8v4h-8zM68 36h4v4h-4zM44 40h4v4h-4zM52 40h4v4h-4zM92 40h4v4h-4zM120 40h12v4h-12zM104 116h4v4h-4zM124 144h4v4h-4zM120 200h4v4h-4zM144 200h4v4h-4zM156 200h4v4h-4zM136 204h4v4h-4z"/><path fill="#00cfff" d="M80 32h8v4h-8zM72 36h8v4h-8zM84 36h4v4h-4zM124 36h4v4h-4zM96 40h4v4h-4zM40 44h4v4h-4zM112 120h4v4h-4zM120 188h4v4h-4zM144 192h4v4h-4zM156 192h4v4h-4zM160 196h4v4h-4zM164 200h4v4h-4z"/><path fill="#00c9ff" d="M152 32h4v4h-4zM-4 36h4v4h-4zM8 36h4v4h-4zM92 36h4v4h-4zM108 36h4v4h-4zM116 36h4v4h-4zM136 36h4v4h-4zM12 40h12v4h-12zM108 40h4v4h-4zM28 44h4v4h-4zM36 44h4v4h-4zM112 128h4v4h-4zM120 140h4v4h-4zM144 184h4v4h-4zM136 188h4v4h-4zM152 192h4v4h-4zM168 192h4v4h-4zM176 192h4v4h-4zM116 196h4v4h-4zM140 196h4v4h-4zM148 200h4v4h-4z"/><path fill="#00d4ff" d="M0 36h4v4h-4zM52 36h4v4h-4zM80 36h4v4h-4zM128 36h4v4h-4zM64 40h8v4h-8zM80 40h8v4h-8zM100 40h4v4h-4zM132 40h4v4h-4zM72 44h4v4h-4zM136 180h4v4h-4zM168 180h4v4h-4zM148 184h4v4h-4zM176 188h4v4h-4zM120 192h4v4h-4z"/><path fill="#00c3ff" d="M4 36h4v4h-4zM88 36h4v4h-4zM96 36h4v4h-4zM120 36h4v4h-4zM8 40h4v4h-4zM40 40h4v4h-4zM48 40h4v4h-4zM112 136h4v4h-4zM140 192h4v4h-4zM120 196h4v4h-4zM132 196h8v4h-8zM152 196h4v4h-4z"/><path fill="#00daff" d="M104 36h4v4h-4zM140 36h4v4h-4zM-4 40h12v4h-12zM24 40h4v4h-4zM56 40h4v4h-4zM72 40h4v4h-4zM116 40h4v4h-4zM44 44h4v4h-4zM60 44h4v4h-4zM88 44h4v4h-4zM140 164h4v4h-4zM128 172h4v4h-4zM140 172h4v4h-4zM156 180h4v4h-4zM140 184h4v4h-4zM172 184h4v4h-4zM156 188h4v4h-4zM164 188h4v4h-4zM136 192h4v4h-4z"/><path fill="#00e5ff" d="M76 40h4v4h-4zM104 40h4v4h-4zM24 44h4v4h-4zM48 44h12v4h-12zM84 44h4v4h-4zM100 44h4v4h-4zM0 48h4v4h-4zM140 176h4v4h-4zM164 176h4v4h-4zM124 180h4v4h-4zM172 180h4v4h-4zM168 184h4v4h-4zM144 188h4v4h-4zM168 188h4v4h-4zM116 192h4v4h-4zM148 192h4v4h-4zM172 192h4v4h-4z"/><path fill="#00e0ff" d="M88 40h4v4h-4zM112 40h4v4h-4zM8 44h4v4h-4zM32 44h4v4h-4zM68 44h4v4h-4zM108 128h4v4h-4zM136 152h4v4h-4zM132 164h4v4h-4zM164 180h4v4h-4zM136 184h4v4h-4zM160 188h4v4h-4zM160 192h4v4h-4zM148 196h4v4h-4z"/><path fill="#00f1ff" d="M-4 44h4v4h-4zM16 44h4v4h-4zM64 44h4v4h-4zM108 44h4v4h-4zM4 48h8v4h-8zM132 148h4v4h-4zM160 164h4v4h-4zM168 164h4v4h-4zM168 172h4v4h-4zM180 172h4v4h-4zM188 172h4v4h-4zM152 176h8v4h-8zM172 176h4v4h-4zM152 180h4v4h-4zM152 184h4v4h-4zM176 184h8v4h-8zM148 188h4v4h-4zM164 192h4v4h-4z"/><path fill="#00f6ff" d="M0 44h8v4h-8zM12 44h4v4h-4zM56 48h4v4h-4zM56 76h4v4h-4zM204 164h4v4h-4zM140 168h4v4h-4zM160 168h4v4h-4zM148 172h4v4h-4zM176 176h4v4h-4zM140 180h4v4h-4zM148 180h4v4h-4zM188 180h4v4h-4zM184 184h4v4h-4zM116 188h4v4h-4zM180 188h4v4h-4z"/><path fill="#00ebff" d="M20 44h4v4h-4zM76 44h4v4h-4zM104 44h4v4h-4zM116 44h4v4h-4zM120 48h4v4h-4zM52 80h4v4h-4zM112 140h4v4h-4zM200 168h4v4h-4zM180 176h4v4h-4zM184 180h4v4h-4zM120 184h4v4h-4zM156 184h12v4h-12zM140 188h4v4h-4zM172 188h4v4h-4z"/><path fill="#03fffc" d="M80 44h4v4h-4zM92 44h4v4h-4zM16 48h4v4h-4zM28 48h4v4h-4zM36 48h4v4h-4zM44 48h4v4h-4zM68 48h4v4h-4zM76 48h4v4h-4zM12 52h4v4h-4zM20 52h4v4h-4zM64 52h4v4h-4zM32 80h4v4h-4zM44 80h8v4h-8zM128 80h4v4h-4zM116 132h4v4h-4zM128 156h4v4h-4zM124 168h4v4h-4zM164 168h4v4h-4zM180 168h4v4h-4zM180 180h4v4h-4z"/><path fill="#09fff6" d="M96 44h4v4h-4zM-4 48h4v4h-4zM12 48h4v4h-4zM72 48h4v4h-4zM24 52h4v4h-4zM36 52h4v4h-4zM56 80h4v4h-4zM120 80h4v4h-4zM132 88h4v4h-4zM116 128h4v4h-4zM124 160h4v4h-4zM140 160h4v4h-4zM184 160h8v4h-8zM144 164h4v4h-4zM128 168h4v4h-4zM176 168h4v4h-4zM192 168h4v4h-4zM156 172h8v4h-8zM176 172h4v4h-4zM184 172h4v4h-4zM120 176h8v4h-8zM144 176h4v4h-4zM160 176h4v4h-4zM188 176h4v4h-4z"/><path fill="#1affe5" d="M112 44h4v4h-4zM20 48h4v4h-4zM48 48h4v4h-4zM84 48h4v4h-4zM96 48h4v4h-4zM108 48h4v4h-4zM0 52h4v4h-4zM16 52h4v4h-4zM28 52h8v4h-8zM48 52h8v4h-8zM72 52h4v4h-4zM88 52h4v4h-4zM116 52h4v4h-4zM44 56h8v4h-8zM56 56h4v4h-4zM64 56h4v4h-4zM108 60h4v4h-4zM48 64h4v4h-4zM52 72h4v4h-4zM80 72h4v4h-4zM80 76h4v4h-4zM140 76h4v4h-4zM36 80h4v4h-4zM64 80h4v4h-4zM136 80h4v4h-4zM144 80h4v4h-4zM36 84h4v4h-4zM56 84h8v4h-8zM104 84h4v4h-4zM140 84h4v4h-4zM156 84h4v4h-4zM100 88h4v4h-4zM108 88h4v4h-4zM116 92h4v4h-4zM84 96h4v4h-4zM96 96h4v4h-4zM112 100h4v4h-4zM144 104h4v4h-4zM164 108h4v4h-4zM176 108h4v4h-4zM152 132h4v4h-4zM152 156h4v4h-4zM156 160h4v4h-4zM128 164h4v4h-4zM172 164h4v4h-4zM188 164h4v4h-4zM156 168h4v4h-4zM172 168h4v4h-4zM204 168h8v4h-8zM164 172h4v4h-4z"/><path fill="#00fcff" d="M120 44h4v4h-4zM24 48h4v4h-4zM32 48h4v4h-4zM64 48h4v4h-4zM80 48h4v4h-4zM88 48h4v4h-4zM4 52h4v4h-4zM112 52h4v4h-4zM140 88h4v4h-4zM104 124h4v4h-4zM116 144h4v4h-4zM128 152h4v4h-4zM188 168h4v4h-4zM152 172h4v4h-4zM196 172h4v4h-4zM148 176h4v4h-4zM120 180h4v4h-4zM144 180h4v4h-4z"/><path fill="#1fffe0" d="M40 48h4v4h-4zM116 48h4v4h-4zM104 52h4v4h-4zM84 56h4v4h-4zM96 56h4v4h-4zM8 60h4v4h-4zM92 60h4v4h-4zM56 64h4v4h-4zM36 72h4v4h-4zM44 72h4v4h-4zM112 72h4v4h-4zM20 76h4v4h-4zM32 76h8v4h-8zM48 76h8v4h-8zM60 76h4v4h-4zM72 76h4v4h-4zM84 76h8v4h-8zM96 76h4v4h-4zM104 76h4v4h-4zM72 80h8v4h-8zM84 80h8v4h-8zM112 80h8v4h-8zM132 80h4v4h-4zM148 80h4v4h-4zM80 84h4v4h-4zM44 88h4v4h-4zM92 104h4v4h-4zM108 104h4v4h-4zM172 104h4v4h-4zM128 112h4v4h-4zM76 120h4v4h-4zM164 120h4v4h-4zM96 124h4v4h-4zM116 124h4v4h-4zM108 136h4v4h-4zM152 144h4v4h-4zM120 156h4v4h-4zM144 160h8v4h-8zM216 160h4v4h-4zM152 164h4v4h-4zM180 164h4v4h-4zM192 164h4v4h-4zM168 168h4v4h-4zM144 172h4v4h-4zM192 172h4v4h-4z"/><path fill="#14ffeb" d="M52 48h4v4h-4zM104 48h4v4h-4zM112 48h4v4h-4zM40 52h8v4h-8zM56 52h4v4h-4zM76 52h4v4h-4zM84 52h4v4h-4zM96 52h8v4h-8zM108 52h4v4h-4zM120 52h4v4h-4zM20 56h4v4h-4zM68 56h4v4h-4zM76 56h4v4h-4zM100 56h4v4h-4zM68 64h4v4h-4zM24 76h4v4h-4zM108 76h4v4h-4zM120 76h4v4h-4zM128 76h8v4h-8zM144 76h4v4h-4zM40 80h4v4h-4zM60 80h4v4h-4zM68 80h4v4h-4zM92 80h4v4h-4zM104 80h4v4h-4zM52 84h4v4h-4zM64 84h4v4h-4zM108 84h4v4h-4zM124 84h4v4h-4zM136 84h4v4h-4zM108 112h4v4h-4zM104 120h4v4h-4zM128 144h4v4h-4zM140 156h4v4h-4zM128 160h4v4h-4zM184 164h4v4h-4zM200 164h4v4h-4zM184 168h4v4h-4zM124 172h4v4h-4zM172 172h4v4h-4zM168 176h4v4h-4zM184 176h4v4h-4zM160 180h4v4h-4zM152 188h4v4h-4z"/><path fill="#0efff1" d="M60 48h4v4h-4zM92 48h4v4h-4zM100 48h4v4h-4zM8 52h4v4h-4zM68 52h4v4h-4zM80 52h4v4h-4zM16 56h4v4h-4zM104 56h4v4h-4zM60 60h4v4h-4zM100 64h4v4h-4zM28 76h4v4h-4zM44 76h4v4h-4zM96 88h4v4h-4zM76 112h4v4h-4zM112 116h4v4h-4zM108 132h4v4h-4zM172 160h4v4h-4zM124 164h4v4h-4zM176 164h4v4h-4zM208 164h4v4h-4zM148 168h8v4h-8zM196 168h4v4h-4zM192 176h4v4h-4zM176 180h4v4h-4z"/><path fill="#36ffc9" d="M-4 52h4v4h-4zM4 56h4v4h-4zM60 56h4v4h-4zM16 60h4v4h-4zM44 60h4v4h-4zM64 60h4v4h-4zM72 60h4v4h-4zM84 60h4v4h-4zM36 64h4v4h-4zM44 64h4v4h-4zM40 68h4v4h-4zM60 68h4v4h-4zM92 68h4v4h-4zM112 68h8v4h-8zM20 72h4v4h-4zM92 72h4v4h-4zM100 72h4v4h-4zM124 80h4v4h-4zM88 84h4v4h-4zM112 84h4v4h-4zM132 84h4v4h-4zM144 84h4v4h-4zM88 88h4v4h-4zM112 88h4v4h-4zM60 92h4v4h-4zM124 92h8v4h-8zM140 92h8v4h-8zM160 92h4v4h-4zM124 96h12v4h-12zM144 96h4v4h-4zM120 100h4v4h-4zM136 100h8v4h-8zM160 100h4v4h-4zM100 104h4v4h-4zM140 104h4v4h-4zM160 104h4v4h-4zM104 108h4v4h-4zM148 108h8v4h-8zM104 112h4v4h-4zM144 112h8v4h-8zM156 112h8v4h-8zM176 112h8v4h-8zM68 116h4v4h-4zM124 116h4v4h-4zM132 116h4v4h-4zM152 116h4v4h-4zM160 116h4v4h-4zM172 116h4v4h-4zM192 116h4v4h-4zM200 116h4v4h-4zM144 120h4v4h-4zM156 120h4v4h-4zM168 120h4v4h-4zM212 120h4v4h-4zM184 124h4v4h-4zM96 128h4v4h-4zM120 128h8v4h-8zM148 128h4v4h-4zM160 128h8v4h-8zM100 132h4v4h-4zM160 132h4v4h-4zM120 136h4v4h-4zM128 140h4v4h-4zM144 140h4v4h-4zM112 144h4v4h-4zM132 144h8v4h-8zM136 148h4v4h-4zM152 148h4v4h-4zM156 152h4v4h-4zM148 156h4v4h-4zM216 156h4v4h-4zM180 160h4v4h-4zM204 160h12v4h-12z"/><path fill="#25ffda" d="M60 52h4v4h-4zM0 56h4v4h-4zM12 56h4v4h-4zM40 56h4v4h-4zM116 60h4v4h-4zM40 64h4v4h-4zM116 64h4v4h-4zM8 68h4v4h-4zM52 68h4v4h-4zM32 72h4v4h-4zM56 72h8v4h-8zM72 72h4v4h-4zM88 72h4v4h-4zM108 72h4v4h-4zM120 72h4v4h-4zM112 76h4v4h-4zM136 76h4v4h-4zM108 80h4v4h-4zM152 80h8v4h-8zM44 84h4v4h-4zM68 84h4v4h-4zM92 84h12v4h-12zM116 84h8v4h-8zM128 84h4v4h-4zM52 88h4v4h-4zM68 88h4v4h-4zM80 88h4v4h-4zM148 88h8v4h-8zM76 92h4v4h-4zM120 92h4v4h-4zM76 96h4v4h-4zM92 96h4v4h-4zM160 96h4v4h-4zM88 100h4v4h-4zM104 100h4v4h-4zM156 100h4v4h-4zM132 108h4v4h-4zM184 108h4v4h-4zM120 112h4v4h-4zM100 116h4v4h-4zM144 116h8v4h-8zM128 120h4v4h-4zM100 128h8v4h-8zM128 128h4v4h-4zM140 136h4v4h-4zM224 136h4v4h-4zM104 140h4v4h-4zM144 148h4v4h-4zM160 148h4v4h-4zM116 152h4v4h-4zM124 156h4v4h-4zM144 156h4v4h-4zM160 156h4v4h-4zM180 156h4v4h-4zM160 160h8v4h-8zM192 160h4v4h-4zM148 164h4v4h-4zM156 164h4v4h-4zM164 164h4v4h-4zM196 164h4v4h-4zM212 164h4v4h-4zM144 168h4v4h-4z"/><path fill="#2bffd4" d="M92 52h4v4h-4zM8 56h4v4h-4zM24 56h8v4h-8zM52 56h4v4h-4zM72 56h4v4h-4zM88 56h8v4h-8zM52 60h4v4h-4zM68 60h4v4h-4zM96 60h4v4h-4zM24 64h4v4h-4zM64 64h4v4h-4zM44 68h4v4h-4zM56 68h4v4h-4zM24 72h4v4h-4zM40 72h4v4h-4zM84 72h4v4h-4zM104 72h4v4h-4zM116 72h4v4h-4zM64 76h4v4h-4zM116 76h4v4h-4zM124 76h4v4h-4zM80 80h4v4h-4zM96 80h4v4h-4zM40 84h4v4h-4zM48 84h4v4h-4zM72 84h4v4h-4zM84 84h4v4h-4zM160 84h4v4h-4zM56 88h4v4h-4zM72 88h4v4h-4zM124 88h4v4h-4zM136 88h4v4h-4zM144 88h4v4h-4zM68 92h4v4h-4zM148 92h4v4h-4zM80 96h4v4h-4zM148 96h4v4h-4zM84 100h4v4h-4zM100 100h4v4h-4zM172 100h8v4h-8zM88 104h4v4h-4zM104 104h4v4h-4zM164 104h8v4h-8zM108 108h4v4h-4zM180 108h4v4h-4zM72 112h4v4h-4zM152 112h4v4h-4zM120 116h4v4h-4zM164 116h8v4h-8zM196 116h4v4h-4zM68 120h4v4h-4zM124 120h4v4h-4zM196 120h8v4h-8zM152 124h4v4h-4zM148 132h4v4h-4zM144 136h4v4h-4zM124 140h4v4h-4zM152 140h4v4h-4zM120 148h4v4h-4zM124 152h4v4h-4zM160 152h4v4h-4zM176 152h4v4h-4zM168 160h4v4h-4z"/><path fill="#30ffcf" d="M32 56h8v4h-8zM24 60h4v4h-4zM16 64h4v4h-4zM52 64h4v4h-4zM80 64h4v4h-4zM96 64h4v4h-4zM112 64h4v4h-4zM48 68h4v4h-4zM16 72h4v4h-4zM48 72h4v4h-4zM64 72h4v4h-4zM96 72h4v4h-4zM124 72h8v4h-8zM40 76h4v4h-4zM68 76h4v4h-4zM76 76h4v4h-4zM100 76h4v4h-4zM100 80h4v4h-4zM140 80h4v4h-4zM48 88h4v4h-4zM64 88h4v4h-4zM76 88h4v4h-4zM84 88h4v4h-4zM120 88h4v4h-4zM156 88h8v4h-8zM56 92h4v4h-4zM88 92h4v4h-4zM104 92h8v4h-8zM104 96h4v4h-4zM112 96h4v4h-4zM132 100h4v4h-4zM144 100h4v4h-4zM112 104h8v4h-8zM124 104h4v4h-4zM156 104h4v4h-4zM128 108h4v4h-4zM140 108h4v4h-4zM156 108h8v4h-8zM132 112h8v4h-8zM180 116h4v4h-4zM116 120h4v4h-4zM140 120h4v4h-4zM148 120h8v4h-8zM188 120h8v4h-8zM216 120h4v4h-4zM100 124h4v4h-4zM140 124h4v4h-4zM156 124h4v4h-4zM172 124h4v4h-4zM168 132h4v4h-4zM128 136h4v4h-4zM160 136h4v4h-4zM132 140h4v4h-4zM140 144h4v4h-4zM108 148h8v4h-8zM152 152h4v4h-4zM168 152h4v4h-4zM212 152h4v4h-4zM156 156h4v4h-4zM164 156h4v4h-4zM172 156h8v4h-8zM200 156h8v4h-8zM152 160h4v4h-4zM176 160h4v4h-4zM200 160h4v4h-4z"/><path fill="#47ffb8" d="M80 56h4v4h-4zM32 60h4v4h-4zM76 60h4v4h-4zM28 64h4v4h-4zM88 64h4v4h-4zM108 64h4v4h-4zM16 68h4v4h-4zM32 68h4v4h-4zM100 68h8v4h-8zM96 92h4v4h-4zM136 92h4v4h-4zM88 96h4v4h-4zM136 96h4v4h-4zM128 100h4v4h-4zM152 100h4v4h-4zM96 104h4v4h-4zM132 104h4v4h-4zM116 108h4v4h-4zM124 108h4v4h-4zM136 108h4v4h-4zM124 112h4v4h-4zM140 112h4v4h-4zM176 116h4v4h-4zM80 120h4v4h-4zM160 120h4v4h-4zM184 120h4v4h-4zM164 124h8v4h-8zM192 124h4v4h-4zM208 124h4v4h-4zM152 128h8v4h-8zM104 132h4v4h-4zM124 132h8v4h-8zM156 132h4v4h-4zM164 136h4v4h-4zM228 136h4v4h-4zM140 140h4v4h-4zM156 140h4v4h-4zM168 140h4v4h-4zM168 144h4v4h-4zM148 148h4v4h-4zM212 148h4v4h-4zM120 152h4v4h-4zM148 152h4v4h-4zM164 152h4v4h-4zM196 152h4v4h-4zM208 152h4v4h-4zM216 152h4v4h-4zM196 156h4v4h-4zM208 156h4v4h-4zM196 160h4v4h-4z"/><path fill="#3cffc3" d="M108 56h8v4h-8zM104 60h4v4h-4zM112 60h4v4h-4zM92 64h4v4h-4zM120 64h4v4h-4zM12 68h4v4h-4zM28 68h4v4h-4zM84 68h8v4h-8zM28 72h4v4h-4zM76 72h4v4h-4zM132 72h4v4h-4zM92 76h4v4h-4zM76 84h4v4h-4zM148 84h8v4h-8zM60 88h4v4h-4zM128 88h4v4h-4zM72 92h4v4h-4zM84 92h4v4h-4zM92 92h4v4h-4zM152 92h4v4h-4zM164 92h4v4h-4zM72 96h4v4h-4zM120 96h4v4h-4zM92 100h8v4h-8zM148 100h4v4h-4zM128 104h4v4h-4zM184 104h4v4h-4zM100 108h4v4h-4zM144 108h4v4h-4zM172 108h4v4h-4zM100 112h4v4h-4zM112 112h4v4h-4zM188 112h4v4h-4zM80 116h4v4h-4zM128 116h4v4h-4zM136 116h8v4h-8zM188 116h4v4h-4zM100 120h4v4h-4zM120 120h4v4h-4zM132 120h4v4h-4zM180 120h4v4h-4zM80 124h4v4h-4zM132 124h8v4h-8zM144 124h4v4h-4zM160 124h4v4h-4zM216 124h8v4h-8zM136 128h4v4h-4zM132 132h8v4h-8zM164 132h4v4h-4zM228 132h4v4h-4zM152 136h4v4h-4zM108 140h4v4h-4zM136 140h4v4h-4zM108 144h4v4h-4zM156 144h4v4h-4zM140 148h4v4h-4zM112 152h4v4h-4zM180 152h4v4h-4zM168 156h4v4h-4z"/><path fill="#58ffa7" d="M4 60h4v4h-4zM84 64h4v4h-4zM140 96h4v4h-4zM196 124h4v4h-4zM168 128h4v4h-4zM208 128h4v4h-4zM140 132h8v4h-8zM176 132h8v4h-8zM132 136h4v4h-4zM224 140h4v4h-4zM160 144h8v4h-8zM176 144h4v4h-4zM212 144h4v4h-4zM220 144h4v4h-4z"/><path fill="#41ffbe" d="M12 60h4v4h-4zM20 60h4v4h-4zM28 60h4v4h-4zM36 60h4v4h-4zM80 60h4v4h-4zM32 64h4v4h-4zM72 64h8v4h-8zM104 64h4v4h-4zM24 68h4v4h-4zM64 68h4v4h-4zM96 68h4v4h-4zM92 88h4v4h-4zM80 92h4v4h-4zM100 92h4v4h-4zM112 92h4v4h-4zM156 92h4v4h-4zM100 96h4v4h-4zM108 96h4v4h-4zM152 96h4v4h-4zM108 100h4v4h-4zM116 100h4v4h-4zM168 100h4v4h-4zM136 104h4v4h-4zM152 104h4v4h-4zM176 104h8v4h-8zM96 108h4v4h-4zM112 108h4v4h-4zM120 108h4v4h-4zM116 112h4v4h-4zM164 112h4v4h-4zM172 112h4v4h-4zM116 116h4v4h-4zM184 116h4v4h-4zM72 120h4v4h-4zM96 120h4v4h-4zM136 120h4v4h-4zM176 120h4v4h-4zM204 120h4v4h-4zM72 124h8v4h-8zM128 124h4v4h-4zM176 124h8v4h-8zM204 124h4v4h-4zM212 124h4v4h-4zM132 128h4v4h-4zM140 128h4v4h-4zM180 128h4v4h-4zM96 132h4v4h-4zM120 132h4v4h-4zM136 136h4v4h-4zM160 140h4v4h-4zM144 144h4v4h-4zM116 148h4v4h-4zM156 148h4v4h-4zM164 148h4v4h-4zM172 148h4v4h-4zM140 152h4v4h-4zM172 152h4v4h-4zM184 156h4v4h-4zM192 156h4v4h-4z"/><path fill="#4dffb2" d="M40 60h4v4h-4zM48 60h4v4h-4zM100 60h4v4h-4zM8 64h8v4h-8zM20 64h4v4h-4zM60 64h4v4h-4zM116 88h4v4h-4zM164 88h4v4h-4zM132 92h4v4h-4zM156 96h4v4h-4zM164 100h4v4h-4zM148 104h4v4h-4zM168 112h4v4h-4zM184 112h4v4h-4zM76 116h4v4h-4zM208 120h4v4h-4zM120 124h8v4h-8zM188 124h4v4h-4zM224 124h4v4h-4zM176 128h4v4h-4zM212 128h4v4h-4zM220 128h8v4h-8zM100 136h4v4h-4zM124 136h4v4h-4zM148 136h4v4h-4zM172 136h4v4h-4zM148 144h4v4h-4zM168 148h4v4h-4zM144 152h4v4h-4z"/><path fill="#52ffad" d="M56 60h4v4h-4zM88 60h4v4h-4zM20 68h4v4h-4zM36 68h4v4h-4zM108 68h4v4h-4zM120 68h4v4h-4zM64 92h4v4h-4zM116 96h4v4h-4zM124 100h4v4h-4zM120 104h4v4h-4zM168 108h4v4h-4zM72 116h4v4h-4zM156 116h4v4h-4zM172 120h4v4h-4zM148 124h4v4h-4zM200 124h4v4h-4zM172 128h4v4h-4zM216 128h4v4h-4zM228 128h4v4h-4zM172 132h4v4h-4zM220 132h8v4h-8zM104 136h4v4h-4zM156 136h4v4h-4zM148 140h4v4h-4zM172 140h8v4h-8zM188 156h4v4h-4zM212 156h4v4h-4z"/><path fill="#5effa2" d="M144 128h4v4h-4zM204 128h4v4h-4zM168 136h4v4h-4zM220 140h4v4h-4zM176 148h4v4h-4z"/><path fill="#63ff9c" d="M184 128h8v4h-8zM216 132h4v4h-4zM164 140h4v4h-4zM180 144h4v4h-4zM216 148h4v4h-4zM188 152h4v4h-4zM200 152h4v4h-4z"/><path fill="#80ff80" d="M192 128h4v4h-4zM184 136h4v4h-4zM188 140h4v4h-4zM196 144h4v4h-4zM208 144h4v4h-4zM180 148h4v4h-4zM204 152h4v4h-4z"/><path fill="#74ff8b" d="M196 128h4v4h-4zM184 132h4v4h-4zM212 132h4v4h-4zM216 144h4v4h-4zM184 148h8v4h-8zM200 148h4v4h-4zM184 152h4v4h-4z"/><path fill="#69ff96" d="M200 128h4v4h-4zM208 132h4v4h-4zM176 136h8v4h-8zM208 136h4v4h-4zM220 136h4v4h-4zM208 140h4v4h-4zM196 148h4v4h-4zM208 148h4v4h-4zM192 152h4v4h-4z"/><path fill="#91ff6e" d="M188 132h4v4h-4zM180 140h4v4h-4zM192 140h4v4h-4zM192 144h4v4h-4z"/><path fill="#8bff74" d="M192 132h4v4h-4zM184 140h4v4h-4zM196 140h4v4h-4z"/><path fill="#85ff7a" d="M196 132h4v4h-4zM188 136h4v4h-4zM216 136h4v4h-4zM188 144h4v4h-4zM200 144h4v4h-4zM204 148h4v4h-4z"/><path fill="#6eff90" d="M200 132h4v4h-4zM212 136h4v4h-4zM172 144h4v4h-4z"/><path fill="#7aff85" d="M204 132h4v4h-4zM196 136h4v4h-4zM212 140h8v4h-8zM204 144h4v4h-4z"/><path fill="#adff52" d="M192 136h4v4h-4zM200 140h4v4h-4z"/><path fill="#96ff69" d="M200 136h8v4h-8zM204 140h4v4h-4z"/><path fill="#9cff63" d="M184 144h4v4h-4z"/><path fill="#a2ff5e" d="M192 148h4v4h-4z"/><path fill="#002aff" d="M128 184h4v4h-4z"/><path fill="#0030ff" d="M128 188h4v4h-4z"/><path fill="#003bff" d="M124 216h4v4h-4z"/></g></g>
<use href="#lk" fill="#fff"/>
<g filter="url(#cf-c)"><path fill-opacity="0.75" d="M24 0h132v6h-132z"/></g>
<rect x="39.7" y="-1" width="113.8" height="2.2" fill="#fff"/>
<use href="#fj" fill="none" stroke="#0a1030" stroke-opacity="0.8" stroke-width="3" stroke-dasharray="2.5 1 1.5 1"/>
<use href="#fj2" fill="none" stroke="#fff" stroke-opacity="0.9" stroke-width="1.6" stroke-dasharray="1.5 1 2.5 2"/>
<use href="#falk" fill="#0a1030" fill-opacity="0.8"/>
<use href="#am" fill="none" stroke="#1a1a1a" stroke-opacity="0.8" stroke-width="0.45"/>
<use href="#isl" fill="none" stroke="#1a1a1a" stroke-opacity="0.8" stroke-width="0.45"/>
<use href="#bd" fill="none" stroke="#1a1a1a" stroke-opacity="0.65" stroke-width="0.4"/>
</svg>
<rect x="43.8" y="22.5" width="238.2" height="239.5" fill="none" stroke="#5a5a5a" stroke-width="0.9"/>
<path d="M43.80 262 v-2.4 M43.80 22.5 v2.4" stroke="#555" stroke-width="0.8"/>
<path d="M96.73 262 v-2.4 M96.73 22.5 v2.4" stroke="#555" stroke-width="0.8"/>
<path d="M149.67 262 v-2.4 M149.67 22.5 v2.4" stroke="#555" stroke-width="0.8"/>
<path d="M202.60 262 v-2.4 M202.60 22.5 v2.4" stroke="#555" stroke-width="0.8"/>
<path d="M255.53 262 v-2.4 M255.53 22.5 v2.4" stroke="#555" stroke-width="0.8"/>
<path d="M43.8 262.00 h2.4 M282 262.00 h-2.4" stroke="#555" stroke-width="0.8"/>
<path d="M43.8 222.08 h2.4 M282 222.08 h-2.4" stroke="#555" stroke-width="0.8"/>
<path d="M43.8 182.17 h2.4 M282 182.17 h-2.4" stroke="#555" stroke-width="0.8"/>
<path d="M43.8 142.25 h2.4 M282 142.25 h-2.4" stroke="#555" stroke-width="0.8"/>
<path d="M43.8 102.33 h2.4 M282 102.33 h-2.4" stroke="#555" stroke-width="0.8"/>
<path d="M43.8 62.42 h2.4 M282 62.42 h-2.4" stroke="#555" stroke-width="0.8"/>
<path d="M43.8 22.50 h2.4 M282 22.50 h-2.4" stroke="#555" stroke-width="0.8"/>
<text x="42.7" y="267.60" font-size="12.3" text-anchor="end" fill="#262626">-60</text>
<text x="42.7" y="227.68" font-size="12.3" text-anchor="end" fill="#262626">-40</text>
<text x="42.7" y="187.77" font-size="12.3" text-anchor="end" fill="#262626">-20</text>
<text x="42.7" y="147.85" font-size="12.3" text-anchor="end" fill="#262626">0</text>
<text x="42.7" y="107.93" font-size="12.3" text-anchor="end" fill="#262626">20</text>
<text x="42.7" y="68.02" font-size="12.3" text-anchor="end" fill="#262626">40</text>
<text x="42.7" y="28.10" font-size="12.3" text-anchor="end" fill="#262626">60</text>
<text x="41.60" y="275.2" font-size="11.9" text-anchor="middle" fill="#262626">-120</text>
<text x="94.53" y="275.2" font-size="11.9" text-anchor="middle" fill="#262626">-100</text>
<text x="147.47" y="275.2" font-size="11.9" text-anchor="middle" fill="#262626">-80</text>
<text x="200.40" y="275.2" font-size="11.9" text-anchor="middle" fill="#262626">-60</text>
<text x="253.33" y="275.2" font-size="11.9" text-anchor="middle" fill="#262626">-40</text>
<text x="161" y="288.8" font-size="12" text-anchor="middle" fill="#262626">Longitude (°)</text>
<text transform="translate(20.8,144) rotate(-90)" font-size="12" text-anchor="middle" fill="#262626">Latitude (°)</text>
<rect x="287" y="23" width="6.2" height="239" fill="url(#jet)"/>
<text x="293.1" y="267.60" font-size="12.2" fill="#262626">250</text>
<text x="293.1" y="241.04" font-size="12.2" fill="#262626">260</text>
<text x="293.1" y="214.49" font-size="12.2" fill="#262626">270</text>
<text x="293.1" y="187.93" font-size="12.2" fill="#262626">280</text>
<text x="293.1" y="161.38" font-size="12.2" fill="#262626">290</text>
<text x="293.1" y="134.82" font-size="12.2" fill="#262626">300</text>
<text x="293.1" y="108.27" font-size="12.2" fill="#262626">310</text>
<text x="293.1" y="81.71" font-size="12.2" fill="#262626">320</text>
<text x="293.1" y="55.16" font-size="12.2" fill="#262626">330</text>
<text x="293.1" y="28.60" font-size="12.2" fill="#262626">340</text>
<path d="M287 235.44h1.6M293.2 235.44h-1.6M287 208.89h1.6M293.2 208.89h-1.6M287 182.33h1.6M293.2 182.33h-1.6M287 155.78h1.6M293.2 155.78h-1.6M287 129.22h1.6M293.2 129.22h-1.6M287 102.67h1.6M293.2 102.67h-1.6M287 76.11h1.6M293.2 76.11h-1.6M287 49.56h1.6M293.2 49.56h-1.6" stroke="#333" stroke-opacity="0.6" stroke-width="0.7"/>
<g fill="#000" stroke="#000" stroke-width="0.25"><text transform="translate(4.03,288) scale(0.947,1)" font-size="24.5">c</text>
<text transform="translate(16.00,287.6) scale(0.8,1)" font-size="23.5">)</text></g>
</g>
<g transform="translate(0,300)">
<rect x="1" y="1" width="328" height="293" fill="#cfcfcf" stroke="#3a3a3a" stroke-width="2"/>
<text x="162.5" y="13.6" font-size="12" text-anchor="middle" fill="#262626">17:45 UTC</text>
<svg x="43.8" y="22.5" width="238.2" height="239.5" viewBox="0 0 238.2 239.5" overflow="hidden">
<filter id="cf-d" x="0" y="0" width="238.2" height="239.5" filterUnits="userSpaceOnUse" color-interpolation-filters="sRGB"><feGaussianBlur in="SourceAlpha" stdDeviation="2.6" result="d"/><feTurbulence type="fractalNoise" baseFrequency="0.06 0.09" numOctaves="2" seed="700" result="nl"/><feTurbulence type="fractalNoise" baseFrequency="0.3 0.45" numOctaves="3" seed="701" result="nh"/><feComposite in="d" in2="nl" operator="arithmetic" k1="0" k2="0.5" k3="0.6" k4="0" result="s1"/><feComposite in="s1" in2="nh" operator="arithmetic" k1="0" k2="1" k3="0.85" k4="-0.95" result="s"/><feComponentTransfer in="s" result="t"><feFuncA type="linear" slope="20" intercept="0"/></feComponentTransfer><feComponentTransfer in="d" result="dm"><feFuncA type="linear" slope="6" intercept="-0.3"/></feComponentTransfer><feComposite in="t" in2="dm" operator="in" result="t2"/><feFlood flood-color="#fff"/><feComposite operator="in" in2="t2"/></filter>
<g filter="url(#bo)"><path fill="#0085ff" d="M-7 -7h63v7h-63zM-7 0h63v7h-63zM56 7h7v7h-7zM217 7h7v7h-7zM70 14h7v7h-7zM105 14h35v7h-35zM203 14h7v7h-7zM161 21h7v7h-7zM182 21h7v7h-7zM-7 238h140v7h-140zM-7 245h140v7h-140z"/><path fill="#0080ff" d="M56 -7h7v7h-7zM56 0h7v7h-7zM63 7h7v7h-7zM210 7h7v7h-7zM77 14h28v7h-28zM140 14h7v7h-7zM168 21h14v7h-14z"/><path fill="#007aff" d="M63 -7h7v7h-7zM154 -7h7v7h-7zM63 0h7v7h-7zM217 0h35v7h-35zM70 7h7v7h-7zM119 7h21v7h-21zM147 14h7v7h-7z"/><path fill="#0074ff" d="M70 -7h7v7h-7zM133 -7h21v7h-21zM161 -7h14v7h-14zM70 0h7v7h-7zM112 0h49v7h-49zM210 0h7v7h-7zM77 7h42v7h-42zM140 7h14v7h-14zM203 7h7v7h-7zM196 14h7v7h-7z"/><path fill="#006eff" d="M77 -7h56v7h-56zM175 -7h77v7h-77zM77 0h35v7h-35zM161 0h7v7h-7zM196 0h14v7h-14zM154 7h7v7h-7zM154 14h7v7h-7z"/><path fill="#0069ff" d="M168 0h14v7h-14zM189 0h7v7h-7zM196 7h7v7h-7z"/><path fill="#0063ff" d="M182 0h7v7h-7zM161 7h7v7h-7zM161 14h7v7h-7zM189 14h7v7h-7z"/><path fill="#008bff" d="M-7 7h63v7h-63zM224 7h7v7h-7zM63 14h7v7h-7zM133 238h28v7h-28zM133 245h28v7h-28z"/><path fill="#0058ff" d="M168 7h21v7h-21zM168 14h7v7h-7zM182 14h7v7h-7z"/><path fill="#005eff" d="M189 7h7v7h-7z"/><path fill="#0090ff" d="M231 7h7v7h-7zM56 14h7v7h-7zM210 14h7v7h-7zM154 21h7v7h-7zM189 21h7v7h-7zM161 238h91v7h-91zM161 245h91v7h-91z"/><path fill="#0096ff" d="M238 7h14v7h-14zM-7 14h63v7h-63zM-7 231h140v7h-140z"/><path fill="#0052ff" d="M175 14h7v7h-7z"/><path fill="#009cff" d="M217 14h7v7h-7zM147 21h7v7h-7zM133 231h28v7h-28z"/><path fill="#00a2ff" d="M224 14h7v7h-7zM140 21h7v7h-7zM196 21h7v7h-7zM161 231h91v7h-91z"/><path fill="#00a7ff" d="M231 14h7v7h-7zM70 21h28v7h-28zM133 21h7v7h-7z"/><path fill="#00adff" d="M238 14h14v7h-14zM63 21h7v7h-7zM98 21h35v7h-35zM203 21h7v7h-7z"/><path fill="#00b2ff" d="M-7 21h70v7h-70zM-7 224h154v7h-154z"/><path fill="#00b8ff" d="M210 21h7v7h-7zM147 224h35v7h-35z"/><path fill="#00c3ff" d="M217 21h7v7h-7zM147 28h28v7h-28z"/><path fill="#00c9ff" d="M224 21h7v7h-7zM140 28h7v7h-7zM175 28h14v7h-14z"/><path fill="#00cfff" d="M231 21h7v7h-7zM133 28h7v7h-7zM-7 217h161v7h-161z"/><path fill="#00d4ff" d="M238 21h14v7h-14zM-7 28h91v7h-91zM189 28h7v7h-7zM154 217h98v7h-98z"/><path fill="#00daff" d="M84 28h14v7h-14zM126 28h7v7h-7z"/><path fill="#00e0ff" d="M98 28h28v7h-28zM196 28h7v7h-7zM105 210h28v7h-28z"/><path fill="#00e5ff" d="M203 28h7v7h-7zM56 210h49v7h-49zM133 210h119v7h-119z"/><path fill="#00f1ff" d="M210 28h7v7h-7zM-7 35h63v7h-63z"/><path fill="#00f6ff" d="M217 28h7v7h-7zM56 35h14v7h-14z"/><path fill="#00fcff" d="M224 28h7v7h-7zM70 35h14v7h-14zM140 35h21v7h-21zM84 203h49v7h-49zM189 203h63v7h-63z"/><path fill="#03fffc" d="M231 28h21v7h-21zM84 35h7v7h-7zM133 35h7v7h-7zM161 35h7v7h-7zM56 203h28v7h-28zM133 203h56v7h-56z"/><path fill="#09fff6" d="M91 35h7v7h-7zM126 35h7v7h-7zM168 35h7v7h-7zM-7 42h56v7h-56zM-7 203h63v7h-63z"/><path fill="#0efff1" d="M98 35h7v7h-7zM112 35h14v7h-14zM175 35h14v7h-14zM49 42h7v7h-7zM238 196h14v7h-14z"/><path fill="#14ffeb" d="M105 35h7v7h-7zM189 35h7v7h-7zM56 42h7v7h-7zM210 196h28v7h-28z"/><path fill="#1affe5" d="M196 35h14v7h-14zM-7 49h35v7h-35zM77 196h35v7h-35zM182 196h28v7h-28z"/><path fill="#1fffe0" d="M210 35h14v7h-14zM63 42h7v7h-7zM28 49h7v7h-7zM-7 196h84v7h-84zM112 196h14v7h-14zM175 196h7v7h-7z"/><path fill="#25ffda" d="M224 35h7v7h-7zM35 49h7v7h-7zM126 196h49v7h-49z"/><path fill="#2bffd4" d="M231 35h21v7h-21zM70 42h7v7h-7zM42 49h7v7h-7z"/><path fill="#30ffcf" d="M77 42h7v7h-7zM49 49h7v7h-7zM-7 56h14v7h-14zM224 189h28v7h-28z"/><path fill="#36ffc9" d="M84 42h7v7h-7zM7 56h14v7h-14zM77 189h42v7h-42zM203 189h21v7h-21z"/><path fill="#41ffbe" d="M91 42h7v7h-7zM56 49h7v7h-7zM133 189h14v7h-14zM168 189h14v7h-14z"/><path fill="#47ffb8" d="M98 42h14v7h-14zM28 56h7v7h-7zM147 189h21v7h-21z"/><path fill="#4dffb2" d="M112 42h56v7h-56zM63 49h7v7h-7zM77 182h42v7h-42zM231 182h21v7h-21z"/><path fill="#52ffad" d="M168 42h84v7h-84zM35 56h7v7h-7zM49 182h28v7h-28zM119 182h7v7h-7zM203 182h28v7h-28z"/><path fill="#5effa2" d="M70 49h7v7h-7zM42 56h7v7h-7zM7 63h7v7h-7zM91 175h21v7h-21zM140 182h14v7h-14zM168 182h14v7h-14z"/><path fill="#6eff90" d="M77 49h14v7h-14zM28 63h7v7h-7zM84 168h14v7h-14zM112 168h7v7h-7zM-7 175h42v7h-42zM126 175h14v7h-14zM203 175h21v7h-21z"/><path fill="#74ff8b" d="M91 49h7v7h-7zM224 49h28v7h-28zM98 161h14v7h-14zM56 168h28v7h-28zM119 168h7v7h-7zM140 175h14v7h-14zM175 175h28v7h-28z"/><path fill="#7aff85" d="M98 49h14v7h-14zM196 49h28v7h-28zM56 56h7v7h-7zM35 63h7v7h-7zM84 161h14v7h-14zM-7 168h63v7h-63zM126 168h7v7h-7zM154 175h21v7h-21z"/><path fill="#80ff80" d="M112 49h21v7h-21zM161 49h35v7h-35zM42 63h7v7h-7zM-7 70h14v7h-14zM98 154h14v7h-14zM63 161h21v7h-21zM112 161h7v7h-7zM133 168h7v7h-7zM231 168h21v7h-21z"/><path fill="#85ff7a" d="M133 49h28v7h-28zM7 70h7v7h-7zM84 154h14v7h-14zM-7 161h70v7h-70zM119 161h7v7h-7zM140 168h7v7h-7zM203 168h28v7h-28z"/><path fill="#3cffc3" d="M21 56h7v7h-7zM-7 189h84v7h-84zM119 189h14v7h-14zM182 189h21v7h-21z"/><path fill="#69ff96" d="M49 56h7v7h-7zM21 63h7v7h-7zM98 168h14v7h-14zM35 175h28v7h-28zM119 175h7v7h-7zM224 175h28v7h-28z"/><path fill="#8bff74" d="M63 56h7v7h-7zM231 56h21v7h-21zM49 63h7v7h-7zM14 70h7v7h-7zM91 147h21v7h-21zM63 154h21v7h-21zM112 154h7v7h-7zM126 161h7v7h-7zM147 168h56v7h-56z"/><path fill="#9cff63" d="M70 56h7v7h-7zM112 56h14v7h-14zM63 63h7v7h-7zM203 63h49v7h-49zM35 70h7v7h-7zM84 140h7v7h-7zM112 140h7v7h-7zM-7 147h49v7h-49zM133 154h7v7h-7zM154 161h42v7h-42z"/><path fill="#a7ff58" d="M77 56h21v7h-21zM70 63h7v7h-7zM126 63h28v7h-28zM203 70h49v7h-49zM-7 77h14v7h-14zM98 119h14v7h-14zM84 133h14v7h-14zM112 133h7v7h-7zM56 140h14v7h-14zM126 140h7v7h-7zM133 147h14v7h-14zM154 154h49v7h-49z"/><path fill="#a2ff5e" d="M98 56h14v7h-14zM154 63h49v7h-49zM42 70h14v7h-14zM98 133h14v7h-14zM70 140h14v7h-14zM119 140h7v7h-7zM126 147h7v7h-7zM140 154h14v7h-14zM203 154h49v7h-49z"/><path fill="#96ff69" d="M126 56h77v7h-77zM56 63h7v7h-7zM28 70h7v7h-7zM91 140h21v7h-21zM42 147h28v7h-28zM119 147h7v7h-7zM126 154h7v7h-7zM140 161h14v7h-14zM196 161h42v7h-42z"/><path fill="#91ff6e" d="M203 56h28v7h-28zM21 70h7v7h-7zM70 147h21v7h-21zM112 147h7v7h-7zM-7 154h70v7h-70zM119 154h7v7h-7zM133 161h7v7h-7zM238 161h14v7h-14z"/><path fill="#58ffa7" d="M-7 63h14v7h-14zM-7 182h56v7h-56zM126 182h14v7h-14zM182 182h21v7h-21z"/><path fill="#63ff9c" d="M14 63h7v7h-7zM63 175h28v7h-28zM112 175h7v7h-7zM154 182h14v7h-14z"/><path fill="#b3ff4c" d="M77 63h14v7h-14zM98 63h14v7h-14zM63 70h7v7h-7zM140 70h14v7h-14zM21 77h14v7h-14zM70 119h14v7h-14zM112 119h7v7h-7zM84 126h14v7h-14zM119 126h7v7h-7zM63 133h14v7h-14zM126 133h7v7h-7zM-7 140h35v7h-35zM140 140h7v7h-7zM154 147h98v7h-98z"/><path fill="#b8ff47" d="M91 63h7v7h-7zM70 70h7v7h-7zM126 70h14v7h-14zM35 77h14v7h-14zM154 77h98v7h-98zM56 119h14v7h-14zM119 119h7v7h-7zM77 126h7v7h-7zM126 126h7v7h-7zM35 133h28v7h-28zM133 133h7v7h-7zM147 140h7v7h-7z"/><path fill="#adff52" d="M112 63h14v7h-14zM56 70h7v7h-7zM154 70h49v7h-49zM7 77h14v7h-14zM84 119h14v7h-14zM98 126h21v7h-21zM77 133h7v7h-7zM119 133h7v7h-7zM28 140h28v7h-28zM133 140h7v7h-7zM147 147h7v7h-7z"/><path fill="#beff41" d="M77 70h14v7h-14zM105 70h21v7h-21zM49 77h14v7h-14zM147 77h7v7h-7zM77 112h35v7h-35zM-7 119h63v7h-63zM126 119h7v7h-7zM-7 126h84v7h-84zM133 126h7v7h-7zM-7 133h42v7h-42zM140 133h7v7h-7zM154 140h98v7h-98z"/><path fill="#c3ff3c" d="M91 70h14v7h-14zM63 77h14v7h-14zM140 77h7v7h-7zM-7 84h14v7h-14zM56 112h21v7h-21zM112 112h7v7h-7zM133 119h7v7h-7zM140 126h7v7h-7zM147 133h7v7h-7z"/><path fill="#c9ff36" d="M77 77h28v7h-28zM112 77h28v7h-28zM7 84h14v7h-14zM182 84h70v7h-70zM-7 112h63v7h-63zM119 112h14v7h-14zM140 119h7v7h-7zM147 126h7v7h-7zM154 133h98v7h-98z"/><path fill="#cfff30" d="M105 77h7v7h-7zM21 84h42v7h-42zM154 84h28v7h-28zM133 112h7v7h-7zM147 119h105v7h-105zM154 126h98v7h-98z"/><path fill="#d5ff2a" d="M63 84h21v7h-21zM147 84h7v7h-7zM-7 91h14v7h-14zM189 91h63v7h-63zM140 112h14v7h-14z"/><path fill="#daff25" d="M84 84h21v7h-21zM133 84h14v7h-14zM7 91h56v7h-56zM154 91h35v7h-35zM-7 105h147v7h-147zM154 112h98v7h-98z"/><path fill="#e0ff1f" d="M105 84h28v7h-28zM63 91h28v7h-28zM147 91h7v7h-7zM-7 98h91v7h-91zM154 98h98v7h-98zM140 105h112v7h-112z"/><path fill="#e5ff1a" d="M91 91h21v7h-21zM133 91h14v7h-14zM84 98h35v7h-35zM133 98h21v7h-21z"/><path fill="#ebff14" d="M112 91h21v7h-21zM119 98h14v7h-14z"/><path fill="#00ebff" d="M-7 210h63v7h-63z"/><path fill="#00beff" d="M182 224h70v7h-70z"/></g>
<g filter="url(#cf-d)"><path fill-opacity="1.00" d="M54 0h144v6h-144zM222 102h18v6h-18zM216 108h24v6h-24zM228 114h12v6h-12z"/><path fill-opacity="0.95" d="M198 0h42v6h-42zM186 6h54v6h-54zM186 12h54v6h-54zM192 18h48v6h-48zM204 24h36v6h-36zM192 90h48v6h-48zM198 96h42v6h-42zM198 102h24v6h-24zM198 108h18v6h-18zM0 192h24v6h-24zM0 198h48v6h-48zM0 204h96v6h-96zM0 210h114v6h-114zM0 216h120v6h-120zM0 222h120v6h-120zM0 228h120v6h-120zM0 234h120v6h-120z"/><path fill-opacity="0.70" d="M162 24h42v6h-42zM174 30h36v6h-36z"/><path fill-opacity="0.90" d="M60 66h12v6h-12zM60 72h12v6h-12zM66 78h12v6h-12z"/><path fill-opacity="0.80" d="M0 78h12v6h-12zM0 84h24v6h-24zM0 90h24v6h-24z"/><path fill-opacity="0.35" d="M24 96h42v6h-42zM24 102h54v6h-54zM72 108h6v6h-6zM228 126h6v6h-6zM222 132h6v6h-6zM222 138h6v6h-6zM222 144h6v6h-6z"/><path fill-opacity="0.05" d="M216 114h6v6h-6zM240 114h6v6h-6zM240 120h6v6h-6zM210 126h6v6h-6zM210 132h6v6h-6zM210 138h6v6h-6zM210 144h6v6h-6zM240 156h6v6h-6zM216 162h6v6h-6zM240 162h6v6h-6zM222 168h18v6h-18z"/><path fill-opacity="0.15" d="M222 114h6v6h-6zM216 126h6v6h-6zM216 132h6v6h-6zM216 138h6v6h-6zM216 144h6v6h-6zM222 156h6v6h-6zM234 156h6v6h-6zM228 162h6v6h-6z"/><path fill-opacity="0.10" d="M216 120h6v6h-6zM240 126h6v6h-6zM240 132h6v6h-6zM240 138h6v6h-6zM240 144h6v6h-6zM216 150h6v6h-6zM240 150h6v6h-6zM216 156h6v6h-6zM222 162h6v6h-6zM234 162h6v6h-6z"/><path fill-opacity="0.20" d="M222 120h6v6h-6zM234 120h6v6h-6zM234 150h6v6h-6zM228 156h6v6h-6z"/><path fill-opacity="0.25" d="M228 120h6v6h-6zM234 126h6v6h-6zM222 150h6v6h-6z"/><path fill-opacity="0.30" d="M222 126h6v6h-6zM234 132h6v6h-6zM234 138h6v6h-6zM234 144h6v6h-6zM228 150h6v6h-6z"/><path fill-opacity="0.45" d="M228 132h6v6h-6zM228 138h6v6h-6z"/><path fill-opacity="0.40" d="M228 144h6v6h-6z"/><path fill-opacity="0.65" d="M198 174h24v6h-24zM168 180h72v6h-72zM168 186h72v6h-72zM168 192h72v6h-72zM168 198h72v6h-72zM168 204h72v6h-72zM174 210h66v6h-66zM180 216h60v6h-60zM186 222h12v6h-12z"/></g>
<g clip-path="url(#landclip)"><g filter="url(#bl)"><path fill="#0efff1" d="M-4 -4h4v4h-4zM4 -4h4v4h-4zM28 -4h4v4h-4zM56 -4h4v4h-4zM144 -4h4v4h-4zM4 0h4v4h-4zM28 0h8v4h-8zM52 0h8v4h-8zM68 0h4v4h-4zM76 0h4v4h-4zM132 0h4v4h-4zM32 4h4v4h-4zM152 4h8v4h-8zM20 8h4v4h-4zM96 8h4v4h-4zM112 220h4v4h-4zM164 224h4v4h-4z"/><path fill="#25ffda" d="M0 -4h4v4h-4zM48 -4h4v4h-4zM132 -4h4v4h-4zM148 -4h4v4h-4zM12 0h4v4h-4zM20 0h8v4h-8zM0 4h4v4h-4zM108 4h4v4h-4zM140 4h4v4h-4zM40 8h4v4h-4zM52 8h4v4h-4zM84 8h4v4h-4zM140 8h4v4h-4zM152 8h4v4h-4zM0 12h4v4h-4zM12 12h4v4h-4zM68 12h4v4h-4zM0 16h4v4h-4zM24 16h8v4h-8zM40 16h4v4h-4zM24 20h4v4h-4zM12 24h4v4h-4zM132 208h4v4h-4zM140 216h4v4h-4zM156 220h4v4h-4z"/><path fill="#36ffc9" d="M8 -4h4v4h-4zM48 0h4v4h-4zM144 0h4v4h-4zM56 4h4v4h-4zM92 4h4v4h-4zM100 4h8v4h-8zM116 8h4v4h-4zM144 8h4v4h-4zM172 8h4v4h-4zM36 12h4v4h-4zM44 12h4v4h-4zM80 12h4v4h-4zM88 12h4v4h-4zM128 12h4v4h-4zM156 12h4v4h-4zM172 12h4v4h-4zM80 16h8v4h-8zM92 16h4v4h-4zM148 16h4v4h-4zM20 20h4v4h-4zM28 20h4v4h-4zM36 20h4v4h-4zM4 24h4v4h-4zM24 24h4v4h-4zM20 28h4v4h-4zM128 200h4v4h-4zM140 212h4v4h-4zM148 212h4v4h-4zM152 216h4v4h-4zM160 220h4v4h-4z"/><path fill="#2bffd4" d="M12 -4h4v4h-4zM52 -4h4v4h-4zM112 -4h4v4h-4zM152 -4h4v4h-4zM-4 0h4v4h-4zM60 0h4v4h-4zM72 0h4v4h-4zM128 0h4v4h-4zM4 4h4v4h-4zM36 4h4v4h-4zM44 4h4v4h-4zM136 4h4v4h-4zM168 4h4v4h-4zM-4 8h8v4h-8zM12 8h4v4h-4zM32 8h8v4h-8zM48 8h4v4h-4zM60 8h4v4h-4zM112 8h4v4h-4zM156 8h4v4h-4zM4 12h4v4h-4zM40 12h4v4h-4zM56 12h4v4h-4zM64 12h4v4h-4zM76 12h4v4h-4zM104 12h4v4h-4zM168 12h4v4h-4zM36 16h4v4h-4zM48 16h4v4h-4zM76 16h4v4h-4zM128 212h4v4h-4zM144 212h4v4h-4zM116 216h4v4h-4zM164 220h4v4h-4zM152 224h4v4h-4z"/><path fill="#1fffe0" d="M16 -4h4v4h-4zM36 -4h4v4h-4zM64 -4h8v4h-8zM104 -4h4v4h-4zM16 0h4v4h-4zM84 0h4v4h-4zM104 0h8v4h-8zM116 0h4v4h-4zM124 0h4v4h-4zM148 0h8v4h-8zM8 4h12v4h-12zM40 4h4v4h-4zM60 4h4v4h-4zM72 4h4v4h-4zM80 4h8v4h-8zM128 4h4v4h-4zM144 4h8v4h-8zM164 4h4v4h-4zM164 8h4v4h-4zM-4 12h4v4h-4zM8 20h4v4h-4zM16 20h4v4h-4zM132 212h4v4h-4zM132 216h4v4h-4zM164 216h4v4h-4zM140 220h4v4h-4z"/><path fill="#03fffc" d="M20 -4h4v4h-4zM116 -4h4v4h-4zM44 0h4v4h-4zM140 0h4v4h-4zM20 4h4v4h-4zM120 216h4v4h-4zM124 220h4v4h-4zM160 224h4v4h-4zM148 228h4v4h-4zM128 232h4v4h-4z"/><path fill="#1affe5" d="M24 -4h4v4h-4zM108 -4h4v4h-4zM0 0h4v4h-4zM8 0h4v4h-4zM120 0h4v4h-4zM156 0h4v4h-4zM88 4h4v4h-4zM116 4h4v4h-4zM24 8h4v4h-4zM44 8h4v4h-4zM56 8h4v4h-4zM64 8h4v4h-4zM76 8h4v4h-4zM88 8h8v4h-8zM100 8h4v4h-4zM52 12h4v4h-4zM8 16h4v4h-4zM20 16h4v4h-4zM44 16h4v4h-4zM120 212h4v4h-4zM148 216h4v4h-4zM128 220h4v4h-4zM136 220h4v4h-4zM148 220h8v4h-8zM124 224h4v4h-4zM168 224h4v4h-4z"/><path fill="#00fcff" d="M32 -4h4v4h-4zM96 4h4v4h-4zM124 204h4v4h-4zM116 224h4v4h-4zM136 224h4v4h-4zM144 224h4v4h-4zM128 228h8v4h-8zM140 232h4v4h-4z"/><path fill="#3cffc3" d="M40 -4h4v4h-4zM48 4h8v4h-8zM120 4h4v4h-4zM132 4h4v4h-4zM160 4h4v4h-4zM120 8h4v4h-4zM128 8h4v4h-4zM136 8h4v4h-4zM28 12h8v4h-8zM96 12h4v4h-4zM112 12h4v4h-4zM136 12h4v4h-4zM164 12h4v4h-4zM12 16h4v4h-4zM64 16h8v4h-8zM12 20h4v4h-4zM20 24h4v4h-4zM120 208h4v4h-4zM116 212h4v4h-4zM144 216h4v4h-4zM168 220h4v4h-4z"/><path fill="#14ffeb" d="M44 -4h4v4h-4zM60 -4h4v4h-4zM120 -4h12v4h-12zM136 -4h4v4h-4zM40 0h4v4h-4zM112 0h4v4h-4zM136 0h4v4h-4zM68 4h4v4h-4zM8 8h4v4h-4zM28 8h4v4h-4zM20 12h4v4h-4zM108 12h4v4h-4zM16 16h4v4h-4zM128 204h4v4h-4zM128 208h4v4h-4zM136 212h4v4h-4zM136 216h4v4h-4zM116 220h4v4h-4zM112 224h4v4h-4zM144 228h4v4h-4z"/><path fill="#09fff6" d="M72 -4h4v4h-4zM64 0h4v4h-4zM28 4h4v4h-4zM4 8h4v4h-4zM148 8h4v4h-4zM128 216h4v4h-4zM148 224h4v4h-4zM156 224h4v4h-4zM136 228h4v4h-4z"/><path fill="#41ffbe" d="M140 -4h4v4h-4zM80 0h4v4h-4zM88 0h4v4h-4zM64 4h4v4h-4zM108 8h4v4h-4zM124 8h4v4h-4zM92 12h4v4h-4zM100 12h4v4h-4zM120 12h8v4h-8zM148 12h4v4h-4zM160 12h4v4h-4zM60 16h4v4h-4zM100 16h4v4h-4zM144 16h4v4h-4zM160 16h4v4h-4zM176 16h4v4h-4zM4 20h4v4h-4zM44 20h4v4h-4zM96 20h4v4h-4zM132 204h4v4h-4zM112 208h4v4h-4zM136 208h4v4h-4zM156 216h4v4h-4z"/><path fill="#30ffcf" d="M36 0h4v4h-4zM-4 4h4v4h-4zM24 4h4v4h-4zM76 4h4v4h-4zM112 4h4v4h-4zM16 8h4v4h-4zM68 8h8v4h-8zM80 8h4v4h-4zM104 8h4v4h-4zM160 8h4v4h-4zM168 8h4v4h-4zM8 12h4v4h-4zM16 12h4v4h-4zM24 12h4v4h-4zM48 12h4v4h-4zM60 12h4v4h-4zM72 12h4v4h-4zM84 12h4v4h-4zM-4 16h4v4h-4zM4 16h4v4h-4zM32 16h4v4h-4zM164 16h4v4h-4zM0 20h4v4h-4zM8 24h4v4h-4zM16 24h4v4h-4zM116 208h4v4h-4zM140 208h4v4h-4zM112 212h4v4h-4zM112 216h4v4h-4zM160 216h4v4h-4zM144 220h4v4h-4z"/><path fill="#58ffa7" d="M124 4h4v4h-4zM152 12h4v4h-4zM52 16h4v4h-4zM96 16h4v4h-4zM168 16h4v4h-4zM72 20h4v4h-4zM88 20h4v4h-4zM116 20h4v4h-4zM172 20h4v4h-4zM180 20h4v4h-4zM36 24h4v4h-4zM92 24h4v4h-4zM8 28h4v4h-4zM128 188h4v4h-4zM128 192h4v4h-4zM120 204h4v4h-4z"/><path fill="#47ffb8" d="M132 8h4v4h-4zM140 12h4v4h-4zM56 16h4v4h-4zM72 16h4v4h-4zM128 16h4v4h-4zM156 16h4v4h-4zM68 20h4v4h-4zM136 20h8v4h-8zM164 20h4v4h-4zM28 24h4v4h-4zM44 24h4v4h-4zM28 28h4v4h-4zM136 204h4v4h-4zM148 208h4v4h-4z"/><path fill="#4dffb2" d="M116 12h4v4h-4zM144 12h4v4h-4zM108 16h4v4h-4zM140 16h4v4h-4zM172 16h4v4h-4zM32 20h4v4h-4zM40 20h4v4h-4zM52 20h4v4h-4zM80 20h8v4h-8zM104 20h4v4h-4zM176 20h4v4h-4zM0 24h4v4h-4zM12 28h8v4h-8zM20 32h4v4h-4zM128 196h4v4h-4z"/><path fill="#52ffad" d="M132 12h4v4h-4zM88 16h4v4h-4zM112 16h4v4h-4zM152 16h4v4h-4zM56 20h8v4h-8zM76 20h4v4h-4zM156 20h4v4h-4zM40 24h4v4h-4zM144 208h4v4h-4z"/><path fill="#74ff8b" d="M104 16h4v4h-4zM128 20h4v4h-4zM48 24h4v4h-4zM76 24h8v4h-8zM168 28h4v4h-4zM16 32h4v4h-4zM36 36h4v4h-4zM188 172h4v4h-4zM120 200h4v4h-4z"/><path fill="#69ff96" d="M116 16h4v4h-4zM136 16h4v4h-4zM64 20h4v4h-4zM152 20h4v4h-4zM168 20h4v4h-4zM52 24h4v4h-4zM72 24h4v4h-4zM104 24h4v4h-4zM164 24h4v4h-4zM176 24h4v4h-4zM0 28h4v4h-4zM40 28h4v4h-4zM32 32h8v4h-8zM48 32h4v4h-4zM116 200h4v4h-4zM124 200h4v4h-4z"/><path fill="#63ff9c" d="M120 16h8v4h-8zM132 16h4v4h-4zM120 20h8v4h-8zM144 20h4v4h-4zM160 20h4v4h-4zM32 24h4v4h-4zM28 32h4v4h-4zM180 172h4v4h-4zM136 200h4v4h-4zM148 204h8v4h-8zM152 208h4v4h-4z"/><path fill="#5effa2" d="M-4 20h4v4h-4zM48 20h4v4h-4zM92 20h4v4h-4zM100 20h4v4h-4zM108 20h4v4h-4zM132 20h4v4h-4zM148 20h4v4h-4zM68 24h4v4h-4zM100 24h4v4h-4zM148 24h4v4h-4zM24 28h4v4h-4zM36 28h4v4h-4zM180 28h4v4h-4zM24 32h4v4h-4zM140 204h4v4h-4z"/><path fill="#85ff7a" d="M112 20h4v4h-4zM84 24h4v4h-4zM96 24h4v4h-4zM124 24h4v4h-4zM136 24h4v4h-4zM48 28h4v4h-4zM72 28h4v4h-4zM104 28h4v4h-4zM4 32h4v4h-4zM12 32h4v4h-4zM32 36h4v4h-4zM136 100h4v4h-4zM180 104h4v4h-4zM128 108h4v4h-4zM200 116h4v4h-4zM176 172h4v4h-4zM132 200h4v4h-4zM164 200h4v4h-4z"/><path fill="#7aff85" d="M-4 24h4v4h-4zM60 24h8v4h-8zM128 24h4v4h-4zM156 24h8v4h-8zM180 24h4v4h-4zM76 28h4v4h-4zM124 28h4v4h-4zM8 32h4v4h-4zM40 32h4v4h-4zM184 172h4v4h-4zM184 176h4v4h-4zM124 196h4v4h-4zM144 204h4v4h-4z"/><path fill="#6eff90" d="M56 24h4v4h-4zM88 24h4v4h-4zM112 24h4v4h-4zM140 24h4v4h-4zM152 24h4v4h-4zM-4 28h4v4h-4zM4 28h4v4h-4zM32 28h4v4h-4zM184 168h4v4h-4zM192 172h4v4h-4zM180 176h4v4h-4zM140 200h4v4h-4zM156 200h4v4h-4zM112 204h8v4h-8z"/><path fill="#80ff80" d="M108 24h4v4h-4zM120 24h4v4h-4zM52 28h8v4h-8zM80 28h4v4h-4zM92 28h4v4h-4zM100 28h4v4h-4zM24 36h4v4h-4zM40 36h4v4h-4zM152 104h4v4h-4zM124 112h4v4h-4zM180 168h4v4h-4zM192 176h4v4h-4z"/><path fill="#a2ff5e" d="M116 24h4v4h-4zM96 28h4v4h-4zM152 28h4v4h-4zM44 32h4v4h-4zM64 32h8v4h-8zM92 32h4v4h-4zM108 32h4v4h-4zM116 32h4v4h-4zM152 32h4v4h-4zM52 36h4v4h-4zM28 40h4v4h-4zM164 92h4v4h-4zM140 96h4v4h-4zM128 100h4v4h-4zM120 104h8v4h-8zM140 104h4v4h-4zM156 104h8v4h-8zM168 104h4v4h-4zM108 108h4v4h-4zM124 108h4v4h-4zM152 108h4v4h-4zM164 108h4v4h-4zM136 112h4v4h-4zM152 112h8v4h-8zM164 112h4v4h-4zM140 116h4v4h-4zM156 116h4v4h-4zM168 116h4v4h-4zM176 116h4v4h-4zM68 120h16v4h-16zM128 120h4v4h-4zM184 120h4v4h-4zM192 120h4v4h-4zM140 124h4v4h-4zM208 140h4v4h-4zM204 148h4v4h-4zM212 152h4v4h-4zM180 164h4v4h-4zM192 168h4v4h-4zM172 172h4v4h-4zM136 176h4v4h-4zM176 188h4v4h-4zM132 192h4v4h-4zM140 192h4v4h-4zM120 196h4v4h-4z"/><path fill="#9cff63" d="M132 24h4v4h-4zM120 28h4v4h-4zM96 32h4v4h-4zM136 32h4v4h-4zM12 36h4v4h-4zM44 36h8v4h-8zM72 36h4v4h-4zM40 40h4v4h-4zM160 88h4v4h-4zM120 100h4v4h-4zM120 112h4v4h-4zM144 112h4v4h-4zM112 116h4v4h-4zM132 120h4v4h-4zM152 120h4v4h-4zM164 124h4v4h-4zM208 124h8v4h-8zM96 128h4v4h-4zM112 128h4v4h-4zM212 144h4v4h-4zM176 168h4v4h-4zM172 176h4v4h-4zM188 176h4v4h-4zM184 180h4v4h-4zM128 184h8v4h-8zM148 192h4v4h-4zM172 192h4v4h-4zM140 196h4v4h-4zM148 196h4v4h-4z"/><path fill="#8bff74" d="M144 24h4v4h-4zM168 24h8v4h-8zM84 28h4v4h-4zM116 28h4v4h-4zM156 28h4v4h-4zM172 28h4v4h-4zM16 36h4v4h-4zM28 36h4v4h-4zM36 40h4v4h-4zM164 88h4v4h-4zM152 92h4v4h-4zM144 100h8v4h-8zM136 108h4v4h-4zM112 112h4v4h-4zM80 116h4v4h-4zM100 120h4v4h-4zM212 120h4v4h-4zM188 168h4v4h-4zM132 188h4v4h-4zM168 192h4v4h-4zM164 196h4v4h-4zM144 200h4v4h-4z"/><path fill="#91ff6e" d="M44 28h4v4h-4zM88 28h4v4h-4zM140 28h4v4h-4zM148 28h4v4h-4zM160 28h8v4h-8zM100 32h4v4h-4zM112 32h4v4h-4zM120 32h4v4h-4zM32 40h4v4h-4zM160 92h4v4h-4zM132 96h4v4h-4zM140 100h4v4h-4zM156 100h8v4h-8zM116 104h4v4h-4zM128 104h4v4h-4zM148 104h4v4h-4zM164 104h4v4h-4zM176 104h4v4h-4zM148 108h4v4h-4zM160 108h4v4h-4zM128 116h4v4h-4zM76 124h4v4h-4zM200 168h4v4h-4zM132 196h8v4h-8zM156 196h4v4h-4zM148 200h8v4h-8zM160 200h4v4h-4z"/><path fill="#96ff69" d="M60 28h4v4h-4zM68 28h4v4h-4zM108 28h8v4h-8zM-4 32h8v4h-8zM80 32h4v4h-4zM88 32h4v4h-4zM144 32h8v4h-8zM8 36h4v4h-4zM136 96h4v4h-4zM148 96h4v4h-4zM156 96h4v4h-4zM164 100h4v4h-4zM172 100h4v4h-4zM112 104h4v4h-4zM144 104h4v4h-4zM168 108h12v4h-12zM132 112h4v4h-4zM160 112h4v4h-4zM168 112h4v4h-4zM188 112h4v4h-4zM152 116h4v4h-4zM188 116h4v4h-4zM204 124h4v4h-4zM176 176h4v4h-4zM176 180h4v4h-4zM140 188h4v4h-4zM120 192h8v4h-8zM160 192h4v4h-4zM176 192h4v4h-4zM116 196h4v4h-4zM144 196h4v4h-4zM168 196h4v4h-4z"/><path fill="#a7ff58" d="M64 28h4v4h-4zM128 28h4v4h-4zM176 28h4v4h-4zM72 32h8v4h-8zM156 32h4v4h-4zM56 36h4v4h-4zM80 36h4v4h-4zM108 36h4v4h-4zM144 96h4v4h-4zM124 100h4v4h-4zM168 100h4v4h-4zM176 100h4v4h-4zM184 104h4v4h-4zM116 108h4v4h-4zM144 108h4v4h-4zM72 112h8v4h-8zM100 112h4v4h-4zM108 112h4v4h-4zM140 112h4v4h-4zM172 112h4v4h-4zM104 116h4v4h-4zM116 116h4v4h-4zM196 116h4v4h-4zM96 120h4v4h-4zM160 120h4v4h-4zM172 120h4v4h-4zM152 128h4v4h-4zM136 132h4v4h-4zM204 132h4v4h-4zM228 132h4v4h-4zM212 136h4v4h-4zM208 148h4v4h-4zM184 164h4v4h-4zM164 172h4v4h-4zM140 180h4v4h-4zM172 180h4v4h-4zM188 180h4v4h-4zM148 184h4v4h-4zM136 192h4v4h-4zM152 192h4v4h-4zM152 196h4v4h-4z"/><path fill="#b3ff4c" d="M132 28h4v4h-4zM100 36h8v4h-8zM128 36h4v4h-4zM136 36h16v4h-16zM44 40h4v4h-4zM148 92h4v4h-4zM132 100h4v4h-4zM152 100h4v4h-4zM112 108h4v4h-4zM120 108h4v4h-4zM132 108h4v4h-4zM140 108h4v4h-4zM180 108h4v4h-4zM116 112h4v4h-4zM128 112h4v4h-4zM180 112h4v4h-4zM144 116h4v4h-4zM108 120h8v4h-8zM120 120h4v4h-4zM136 120h4v4h-4zM144 120h4v4h-4zM208 120h4v4h-4zM72 124h4v4h-4zM116 124h8v4h-8zM156 124h4v4h-4zM188 124h4v4h-4zM220 124h4v4h-4zM100 128h4v4h-4zM120 128h4v4h-4zM144 128h8v4h-8zM192 128h4v4h-4zM100 132h4v4h-4zM228 136h4v4h-4zM204 140h4v4h-4zM128 144h4v4h-4zM204 164h4v4h-4zM168 172h4v4h-4zM196 172h4v4h-4zM120 176h4v4h-4zM164 176h8v4h-8zM144 184h4v4h-4zM168 184h4v4h-4zM184 184h4v4h-4zM136 188h4v4h-4zM144 192h4v4h-4zM156 192h4v4h-4z"/><path fill="#adff52" d="M136 28h4v4h-4zM144 28h4v4h-4zM52 32h12v4h-12zM84 32h4v4h-4zM104 32h4v4h-4zM128 32h4v4h-4zM140 32h4v4h-4zM160 32h4v4h-4zM-4 36h4v4h-4zM20 36h4v4h-4zM112 36h4v4h-4zM132 36h4v4h-4zM156 92h4v4h-4zM160 96h4v4h-4zM116 100h4v4h-4zM132 104h8v4h-8zM156 108h4v4h-4zM184 108h4v4h-4zM104 112h4v4h-4zM148 112h4v4h-4zM184 112h4v4h-4zM100 116h4v4h-4zM132 116h4v4h-4zM148 116h4v4h-4zM180 116h8v4h-8zM192 116h4v4h-4zM116 120h4v4h-4zM124 120h4v4h-4zM156 120h4v4h-4zM180 120h4v4h-4zM188 120h4v4h-4zM136 124h4v4h-4zM152 124h4v4h-4zM180 124h4v4h-4zM196 124h4v4h-4zM108 128h4v4h-4zM116 128h4v4h-4zM168 128h4v4h-4zM184 128h4v4h-4zM208 128h4v4h-4zM140 132h4v4h-4zM200 132h4v4h-4zM216 132h4v4h-4zM148 136h4v4h-4zM204 136h4v4h-4zM200 144h4v4h-4zM208 144h4v4h-4zM208 152h4v4h-4zM188 164h4v4h-4zM200 164h4v4h-4zM160 172h4v4h-4zM156 176h4v4h-4zM132 180h4v4h-4zM152 184h4v4h-4zM116 192h4v4h-4zM164 192h4v4h-4zM160 196h4v4h-4z"/><path fill="#b8ff47" d="M124 32h4v4h-4zM4 36h4v4h-4zM92 36h4v4h-4zM116 36h4v4h-4zM152 96h4v4h-4zM176 112h4v4h-4zM68 116h8v4h-8zM108 116h4v4h-4zM124 116h4v4h-4zM160 116h4v4h-4zM176 120h4v4h-4zM200 120h4v4h-4zM216 120h4v4h-4zM80 124h4v4h-4zM112 124h4v4h-4zM176 124h4v4h-4zM192 124h4v4h-4zM200 124h4v4h-4zM124 128h4v4h-4zM204 128h4v4h-4zM184 132h8v4h-8zM208 132h8v4h-8zM220 132h4v4h-4zM120 136h4v4h-4zM216 136h4v4h-4zM212 140h4v4h-4zM212 148h4v4h-4zM204 152h4v4h-4zM204 156h4v4h-4zM184 160h4v4h-4zM212 160h4v4h-4zM124 164h4v4h-4zM168 168h8v4h-8zM160 176h4v4h-4zM148 180h4v4h-4zM120 184h4v4h-4zM136 184h4v4h-4zM176 184h4v4h-4zM116 188h4v4h-4zM152 188h4v4h-4z"/><path fill="#c3ff3c" d="M132 32h4v4h-4zM88 36h4v4h-4zM120 36h4v4h-4zM12 40h4v4h-4zM24 40h4v4h-4zM60 40h4v4h-4zM104 40h4v4h-4zM148 120h4v4h-4zM164 120h4v4h-4zM196 120h4v4h-4zM96 124h4v4h-4zM224 124h4v4h-4zM140 128h4v4h-4zM172 128h8v4h-8zM196 128h4v4h-4zM224 128h8v4h-8zM108 132h4v4h-4zM120 132h8v4h-8zM164 132h4v4h-4zM172 132h4v4h-4zM192 132h4v4h-4zM224 132h4v4h-4zM132 136h4v4h-4zM156 136h8v4h-8zM168 136h4v4h-4zM180 136h4v4h-4zM120 140h4v4h-4zM216 140h4v4h-4zM196 144h4v4h-4zM216 144h4v4h-4zM124 156h4v4h-4zM200 156h4v4h-4zM208 156h12v4h-12zM172 164h8v4h-8zM196 164h4v4h-4zM164 168h4v4h-4zM144 172h4v4h-4zM144 180h4v4h-4zM168 180h4v4h-4zM180 180h4v4h-4zM164 184h4v4h-4zM124 188h4v4h-4zM148 188h4v4h-4zM172 188h4v4h-4z"/><path fill="#beff41" d="M0 36h4v4h-4zM60 36h8v4h-8zM76 36h4v4h-4zM52 40h4v4h-4zM136 116h4v4h-4zM164 116h4v4h-4zM172 116h4v4h-4zM104 120h4v4h-4zM140 120h4v4h-4zM204 120h4v4h-4zM108 124h4v4h-4zM124 124h12v4h-12zM160 124h4v4h-4zM168 124h4v4h-4zM216 124h4v4h-4zM164 128h4v4h-4zM180 128h4v4h-4zM188 128h4v4h-4zM200 128h4v4h-4zM216 128h4v4h-4zM132 132h4v4h-4zM144 132h4v4h-4zM156 132h4v4h-4zM168 132h4v4h-4zM208 136h4v4h-4zM220 136h4v4h-4zM104 140h4v4h-4zM160 140h4v4h-4zM224 140h4v4h-4zM216 148h4v4h-4zM200 152h4v4h-4zM216 152h4v4h-4zM200 160h4v4h-4zM208 160h4v4h-4zM124 168h4v4h-4zM156 168h4v4h-4zM196 168h4v4h-4zM156 172h4v4h-4zM132 176h4v4h-4zM140 176h4v4h-4zM160 180h4v4h-4zM156 184h8v4h-8zM172 184h4v4h-4zM120 188h4v4h-4z"/><path fill="#d5ff2a" d="M68 36h4v4h-4zM108 40h4v4h-4zM28 44h4v4h-4zM36 44h4v4h-4zM100 124h4v4h-4zM172 124h4v4h-4zM184 124h4v4h-4zM180 132h4v4h-4zM104 136h4v4h-4zM128 136h4v4h-4zM192 136h4v4h-4zM200 136h4v4h-4zM224 136h4v4h-4zM124 140h4v4h-4zM136 140h4v4h-4zM148 140h4v4h-4zM200 140h4v4h-4zM120 144h4v4h-4zM140 144h4v4h-4zM192 144h4v4h-4zM112 148h4v4h-4zM140 148h4v4h-4zM140 152h4v4h-4zM160 152h4v4h-4zM196 152h4v4h-4zM144 156h4v4h-4zM196 156h4v4h-4zM124 160h4v4h-4zM164 160h4v4h-4zM180 160h4v4h-4zM136 164h12v4h-12zM156 164h4v4h-4zM132 168h4v4h-4zM136 180h4v4h-4zM152 180h4v4h-4zM164 180h4v4h-4zM164 188h4v4h-4z"/><path fill="#c9ff36" d="M84 36h4v4h-4zM124 36h4v4h-4zM48 40h4v4h-4zM112 40h4v4h-4zM128 40h4v4h-4zM76 116h4v4h-4zM120 116h4v4h-4zM168 120h4v4h-4zM144 124h8v4h-8zM128 128h4v4h-4zM160 128h4v4h-4zM212 128h4v4h-4zM220 128h4v4h-4zM96 132h4v4h-4zM112 132h4v4h-4zM100 136h4v4h-4zM116 136h4v4h-4zM144 136h4v4h-4zM152 136h4v4h-4zM188 136h4v4h-4zM196 136h4v4h-4zM152 140h4v4h-4zM192 140h8v4h-8zM204 144h4v4h-4zM220 144h4v4h-4zM200 148h4v4h-4zM132 152h4v4h-4zM188 160h4v4h-4zM164 164h4v4h-4zM192 164h4v4h-4zM212 164h4v4h-4zM144 168h8v4h-8zM208 168h4v4h-4zM148 172h8v4h-8zM152 176h4v4h-4zM124 184h4v4h-4zM140 184h4v4h-4zM180 184h4v4h-4zM144 188h4v4h-4zM160 188h4v4h-4zM180 188h4v4h-4z"/><path fill="#cfff30" d="M96 36h4v4h-4zM16 40h8v4h-8zM64 40h8v4h-8zM80 40h20v4h-20zM120 40h4v4h-4zM172 104h4v4h-4zM132 128h8v4h-8zM156 128h4v4h-4zM116 132h4v4h-4zM148 132h8v4h-8zM160 132h4v4h-4zM176 132h4v4h-4zM164 136h4v4h-4zM140 140h4v4h-4zM164 140h4v4h-4zM108 144h4v4h-4zM136 144h4v4h-4zM152 144h4v4h-4zM168 152h4v4h-4zM168 156h8v4h-8zM188 156h4v4h-4zM176 160h4v4h-4zM192 160h4v4h-4zM204 160h4v4h-4zM216 160h4v4h-4zM152 164h4v4h-4zM168 164h4v4h-4zM204 168h4v4h-4zM132 172h12v4h-12zM120 180h4v4h-4zM156 180h4v4h-4zM168 188h4v4h-4z"/><path fill="#daff25" d="M-4 40h4v4h-4zM116 40h4v4h-4zM92 44h4v4h-4zM100 44h4v4h-4zM120 44h4v4h-4zM92 48h4v4h-4zM128 132h4v4h-4zM112 136h4v4h-4zM136 136h8v4h-8zM172 136h4v4h-4zM128 140h4v4h-4zM172 140h8v4h-8zM172 144h8v4h-8zM108 148h4v4h-4zM132 148h8v4h-8zM160 148h4v4h-4zM136 152h4v4h-4zM152 152h4v4h-4zM132 156h8v4h-8zM148 156h4v4h-4zM184 156h4v4h-4zM192 156h4v4h-4zM148 160h4v4h-4zM156 160h4v4h-4zM160 164h4v4h-4zM144 176h8v4h-8z"/><path fill="#ebff14" d="M0 40h4v4h-4zM84 44h8v4h-8zM104 48h4v4h-4zM116 140h4v4h-4zM132 140h4v4h-4zM124 144h4v4h-4zM160 144h4v4h-4zM168 144h4v4h-4zM184 144h4v4h-4zM152 148h8v4h-8zM180 152h8v4h-8zM176 156h4v4h-4zM132 160h16v4h-16zM160 160h4v4h-4zM152 168h4v4h-4z"/><path fill="#e5ff1a" d="M4 40h4v4h-4zM56 40h4v4h-4zM72 40h4v4h-4zM40 44h4v4h-4zM104 44h4v4h-4zM180 140h4v4h-4zM188 140h4v4h-4zM132 144h4v4h-4zM144 144h4v4h-4zM180 144h4v4h-4zM188 144h4v4h-4zM128 148h4v4h-4zM144 148h8v4h-8zM164 148h4v4h-4zM180 148h16v4h-16zM188 152h8v4h-8zM164 156h4v4h-4zM136 168h8v4h-8zM124 176h4v4h-4zM124 180h4v4h-4zM156 188h4v4h-4z"/><path fill="#e0ff1f" d="M8 40h4v4h-4zM124 40h4v4h-4zM32 44h4v4h-4zM76 44h4v4h-4zM108 44h4v4h-4zM196 132h4v4h-4zM124 136h4v4h-4zM184 136h4v4h-4zM144 140h4v4h-4zM156 140h4v4h-4zM220 140h4v4h-4zM148 144h4v4h-4zM164 144h4v4h-4zM168 148h4v4h-4zM176 148h4v4h-4zM112 152h4v4h-4zM144 152h4v4h-4zM172 152h4v4h-4zM140 156h4v4h-4zM152 156h8v4h-8zM180 156h4v4h-4zM152 160h4v4h-4zM172 160h4v4h-4zM148 164h4v4h-4zM208 164h4v4h-4zM160 168h4v4h-4zM124 172h4v4h-4z"/><path fill="#f1ff0e" d="M76 40h4v4h-4zM20 44h4v4h-4zM44 44h8v4h-8zM96 48h4v4h-4zM108 52h4v4h-4zM96 104h4v4h-4zM176 136h4v4h-4zM108 140h4v4h-4zM168 140h4v4h-4zM184 140h4v4h-4zM196 148h4v4h-4zM120 152h4v4h-4zM196 160h4v4h-4z"/><path fill="#f7ff08" d="M100 40h4v4h-4zM132 40h4v4h-4zM24 44h4v4h-4zM52 44h4v4h-4zM64 44h4v4h-4zM88 48h4v4h-4zM112 48h8v4h-8zM100 52h4v4h-4zM116 52h4v4h-4zM104 100h4v4h-4zM156 144h4v4h-4zM124 148h4v4h-4zM172 148h4v4h-4zM148 152h4v4h-4zM120 156h4v4h-4zM160 156h4v4h-4zM168 160h4v4h-4zM132 164h4v4h-4z"/><path fill="#ffda00" d="M-4 44h8v4h-8zM48 48h8v4h-8zM92 60h4v4h-4zM112 60h4v4h-4zM76 64h4v4h-4zM88 64h4v4h-4zM112 64h8v4h-8zM100 76h4v4h-4zM112 80h4v4h-4zM76 84h4v4h-4zM80 88h4v4h-4zM128 88h4v4h-4zM88 92h4v4h-4zM124 92h8v4h-8zM104 96h4v4h-4zM124 96h4v4h-4z"/><path fill="#ffad00" d="M4 44h4v4h-4zM64 52h4v4h-4zM8 60h4v4h-4zM100 64h4v4h-4zM16 68h12v4h-12zM64 68h4v4h-4zM104 68h4v4h-4zM116 68h4v4h-4zM104 72h4v4h-4zM88 76h4v4h-4zM112 76h4v4h-4zM140 76h4v4h-4zM32 80h4v4h-4zM44 84h4v4h-4zM64 84h4v4h-4zM132 84h4v4h-4zM148 84h4v4h-4zM60 88h4v4h-4z"/><path fill="#ffd500" d="M8 44h4v4h-4zM20 48h4v4h-4zM36 48h4v4h-4zM64 48h4v4h-4zM68 52h4v4h-4zM72 56h4v4h-4zM88 60h4v4h-4zM100 60h4v4h-4zM108 60h4v4h-4zM116 60h4v4h-4zM84 68h4v4h-4zM132 72h4v4h-4zM132 80h4v4h-4zM144 84h4v4h-4zM76 88h4v4h-4zM100 88h4v4h-4zM112 88h4v4h-4zM120 88h8v4h-8zM56 92h4v4h-4zM80 92h4v4h-4zM112 92h4v4h-4zM144 92h4v4h-4zM120 96h4v4h-4zM84 100h8v4h-8zM108 104h4v4h-4zM128 168h4v4h-4zM128 180h4v4h-4z"/><path fill="#fff100" d="M12 44h8v4h-8zM72 44h4v4h-4zM32 48h4v4h-4zM108 48h4v4h-4zM100 56h4v4h-4zM112 56h4v4h-4zM100 92h4v4h-4zM80 96h4v4h-4zM108 100h4v4h-4zM96 108h8v4h-8z"/><path fill="#fff700" d="M56 44h8v4h-8zM112 44h4v4h-4zM128 96h4v4h-4zM92 104h4v4h-4zM100 104h4v4h-4zM104 132h4v4h-4zM128 160h4v4h-4z"/><path fill="#ffe500" d="M68 44h4v4h-4zM44 48h4v4h-4zM80 48h4v4h-4zM84 56h8v4h-8zM104 56h8v4h-8zM84 92h4v4h-4zM72 96h8v4h-8zM92 96h12v4h-12zM108 96h8v4h-8zM92 100h8v4h-8zM88 104h4v4h-4z"/><path fill="#fcff03" d="M80 44h4v4h-4zM72 48h4v4h-4zM100 48h4v4h-4zM120 48h4v4h-4zM80 52h4v4h-4zM88 52h8v4h-8zM112 52h4v4h-4zM120 52h4v4h-4zM100 100h4v4h-4zM104 124h4v4h-4zM112 144h4v4h-4zM116 152h4v4h-4zM156 152h4v4h-4zM164 152h4v4h-4zM176 152h4v4h-4z"/><path fill="#fffc00" d="M96 44h4v4h-4zM116 44h4v4h-4zM76 48h4v4h-4zM84 48h4v4h-4zM84 52h4v4h-4zM96 52h4v4h-4zM96 56h4v4h-4zM104 104h4v4h-4z"/><path fill="#ffb300" d="M-4 48h4v4h-4zM44 52h8v4h-8zM60 56h4v4h-4zM12 64h4v4h-4zM96 64h4v4h-4zM16 72h4v4h-4zM84 72h4v4h-4zM120 72h4v4h-4zM28 76h4v4h-4zM104 76h4v4h-4zM68 80h4v4h-4zM104 80h4v4h-4zM68 84h4v4h-4zM56 88h4v4h-4zM144 88h4v4h-4zM112 140h4v4h-4z"/><path fill="#ff7a00" d="M0 48h8v4h-8zM8 52h4v4h-4zM52 56h4v4h-4zM56 60h4v4h-4zM124 152h4v4h-4zM128 176h4v4h-4z"/><path fill="#ff8500" d="M8 48h4v4h-4zM24 64h4v4h-4zM60 68h4v4h-4zM36 76h4v4h-4zM44 80h4v4h-4z"/><path fill="#ffa200" d="M12 48h4v4h-4zM24 52h4v4h-4zM32 52h4v4h-4zM0 56h4v4h-4zM12 60h4v4h-4zM64 64h4v4h-4zM32 76h4v4h-4zM76 76h4v4h-4zM64 80h4v4h-4zM60 84h4v4h-4zM108 84h4v4h-4zM116 148h4v4h-4z"/><path fill="#ffa700" d="M16 48h4v4h-4zM-4 52h4v4h-4zM36 52h4v4h-4zM56 52h8v4h-8zM12 68h4v4h-4zM92 68h4v4h-4zM24 76h4v4h-4zM136 76h4v4h-4zM36 80h4v4h-4zM100 84h4v4h-4zM120 84h4v4h-4zM140 88h4v4h-4z"/><path fill="#ffc900" d="M24 48h4v4h-4zM104 64h4v4h-4zM100 68h4v4h-4zM112 68h4v4h-4zM80 72h4v4h-4zM96 72h4v4h-4zM112 72h4v4h-4zM80 76h4v4h-4zM100 80h4v4h-4zM128 80h4v4h-4zM140 80h8v4h-8zM152 80h4v4h-4zM36 84h4v4h-4zM104 84h4v4h-4zM112 84h4v4h-4zM128 84h4v4h-4zM44 88h4v4h-4zM88 88h4v4h-4zM156 88h4v4h-4zM92 92h4v4h-4zM104 92h4v4h-4zM136 92h4v4h-4zM88 96h4v4h-4zM120 148h4v4h-4z"/><path fill="#ffc300" d="M28 48h4v4h-4zM72 60h4v4h-4zM72 64h4v4h-4zM120 64h4v4h-4zM96 68h4v4h-4zM120 68h4v4h-4zM72 72h4v4h-4zM88 72h4v4h-4zM108 72h4v4h-4zM92 76h4v4h-4zM108 76h4v4h-4zM120 76h4v4h-4zM128 76h8v4h-8zM92 80h4v4h-4zM108 80h4v4h-4zM136 80h4v4h-4zM80 84h4v4h-4zM116 84h4v4h-4zM136 84h4v4h-4zM48 88h4v4h-4zM108 88h4v4h-4zM140 92h4v4h-4z"/><path fill="#ffe000" d="M40 48h4v4h-4zM72 52h4v4h-4zM68 56h4v4h-4zM80 56h4v4h-4zM84 60h4v4h-4zM116 88h4v4h-4zM68 92h4v4h-4zM76 92h4v4h-4zM120 92h4v4h-4zM84 96h4v4h-4zM116 96h4v4h-4zM112 100h4v4h-4zM104 108h4v4h-4z"/><path fill="#ffcf00" d="M56 48h8v4h-8zM76 52h4v4h-4zM76 60h8v4h-8zM68 64h4v4h-4zM108 64h4v4h-4zM128 72h4v4h-4zM20 76h4v4h-4zM76 80h4v4h-4zM116 80h4v4h-4zM84 84h4v4h-4zM96 84h4v4h-4zM124 84h4v4h-4zM52 88h4v4h-4zM96 88h4v4h-4zM132 88h4v4h-4zM148 88h4v4h-4zM72 92h4v4h-4zM96 92h4v4h-4zM116 92h4v4h-4zM132 92h4v4h-4zM128 164h4v4h-4z"/><path fill="#ffeb00" d="M68 48h4v4h-4zM104 52h4v4h-4zM92 56h4v4h-4zM60 92h4v4h-4zM108 92h4v4h-4zM116 144h4v4h-4zM128 152h4v4h-4z"/><path fill="#ff7400" d="M0 52h8v4h-8zM56 64h4v4h-4zM40 76h4v4h-4zM56 84h4v4h-4z"/><path fill="#ff6300" d="M12 52h8v4h-8zM104 128h4v4h-4z"/><path fill="#ff6900" d="M20 52h4v4h-4zM36 56h4v4h-4zM44 56h8v4h-8zM20 60h4v4h-4zM28 68h4v4h-4zM60 72h4v4h-4zM60 76h4v4h-4zM60 80h4v4h-4zM52 84h4v4h-4zM128 172h4v4h-4z"/><path fill="#ff8b00" d="M28 52h4v4h-4zM4 56h4v4h-4zM64 76h4v4h-4z"/><path fill="#ffb800" d="M40 52h4v4h-4zM64 56h4v4h-4zM76 56h4v4h-4zM4 60h4v4h-4zM64 60h4v4h-4zM104 60h4v4h-4zM8 64h4v4h-4zM8 68h4v4h-4zM88 68h4v4h-4zM24 72h4v4h-4zM76 72h4v4h-4zM92 72h4v4h-4zM116 72h4v4h-4zM124 76h4v4h-4zM72 80h4v4h-4zM84 80h4v4h-4zM72 84h4v4h-4zM88 84h4v4h-4zM152 84h4v4h-4zM160 84h4v4h-4zM64 88h8v4h-8zM152 88h4v4h-4z"/><path fill="#ff9600" d="M52 52h4v4h-4zM16 64h4v4h-4zM32 72h4v4h-4zM40 80h4v4h-4z"/><path fill="#ff8000" d="M8 56h4v4h-4zM56 56h4v4h-4zM16 60h4v4h-4zM60 64h4v4h-4zM36 72h4v4h-4zM48 84h4v4h-4z"/><path fill="#ff5800" d="M12 56h4v4h-4zM20 56h4v4h-4zM48 60h8v4h-8zM52 64h4v4h-4zM108 136h4v4h-4z"/><path fill="#ff4c00" d="M16 56h4v4h-4zM28 56h4v4h-4zM44 60h4v4h-4zM40 72h4v4h-4zM44 76h4v4h-4z"/><path fill="#ff5200" d="M24 56h4v4h-4zM32 68h4v4h-4z"/><path fill="#ff3c00" d="M32 56h4v4h-4zM24 60h4v4h-4zM52 76h4v4h-4zM52 80h4v4h-4z"/><path fill="#ff5e00" d="M40 56h4v4h-4zM56 68h4v4h-4zM48 80h4v4h-4z"/><path fill="#ff1f00" d="M28 60h4v4h-4zM44 64h4v4h-4z"/><path fill="#ff1a00" d="M32 60h8v4h-8z"/><path fill="#ff2500" d="M40 60h4v4h-4z"/><path fill="#ff9c00" d="M60 60h4v4h-4zM28 72h4v4h-4zM64 72h4v4h-4z"/><path fill="#ffbe00" d="M68 60h4v4h-4zM96 60h4v4h-4zM80 64h8v4h-8zM92 64h4v4h-4zM108 68h4v4h-4zM20 72h4v4h-4zM100 72h4v4h-4zM124 72h4v4h-4zM68 76h8v4h-8zM84 76h4v4h-4zM96 76h4v4h-4zM116 76h4v4h-4zM144 76h4v4h-4zM80 80h4v4h-4zM88 80h4v4h-4zM96 80h4v4h-4zM120 80h8v4h-8zM148 80h4v4h-4zM156 80h4v4h-4zM40 84h4v4h-4zM92 84h4v4h-4zM140 84h4v4h-4zM156 84h4v4h-4zM72 88h4v4h-4zM84 88h4v4h-4zM92 88h4v4h-4zM136 88h4v4h-4zM64 92h4v4h-4z"/><path fill="#ff9100" d="M20 64h4v4h-4z"/><path fill="#ff4100" d="M28 64h4v4h-4zM52 68h4v4h-4zM56 72h4v4h-4zM56 80h4v4h-4z"/><path fill="#ff2a00" d="M32 64h4v4h-4zM36 68h4v4h-4z"/><path fill="#f10000" d="M36 64h8v4h-8z"/><path fill="#ff1400" d="M48 64h4v4h-4zM40 68h4v4h-4z"/><path fill="#ff0800" d="M44 68h4v4h-4zM52 72h4v4h-4z"/><path fill="#fc0000" d="M48 68h4v4h-4z"/><path fill="#ff0e00" d="M44 72h4v4h-4z"/><path fill="#ff0300" d="M48 72h4v4h-4z"/><path fill="#ff3600" d="M48 76h4v4h-4z"/><path fill="#ff3000" d="M56 76h4v4h-4z"/><path fill="#ff6e00" d="M128 156h4v4h-4z"/><path fill="#00daff" d="M124 208h4v4h-4zM124 228h4v4h-4z"/><path fill="#00c9ff" d="M124 212h4v4h-4zM120 220h4v4h-4z"/><path fill="#00beff" d="M124 216h4v4h-4z"/><path fill="#00f1ff" d="M132 220h4v4h-4zM120 224h4v4h-4zM152 228h12v4h-12z"/><path fill="#00e5ff" d="M128 224h4v4h-4zM124 232h4v4h-4z"/><path fill="#00f6ff" d="M132 224h4v4h-4zM140 224h4v4h-4zM144 232h4v4h-4z"/><path fill="#00ebff" d="M116 228h8v4h-8zM132 232h8v4h-8z"/><path fill="#00e0ff" d="M140 228h4v4h-4z"/></g></g>
<use href="#lk" fill="#fff"/>
<g filter="url(#cf-d)"><path fill-opacity="1.00" d="M54 0h144v6h-144z"/></g>
<rect x="26.5" y="-1" width="79.4" height="2.2" fill="#fff"/>
<use href="#fj" fill="none" stroke="#0a1030" stroke-opacity="0.8" stroke-width="3" stroke-dasharray="2.5 1 1.5 1"/>
<use href="#fj2" fill="none" stroke="#fff" stroke-opacity="0.9" stroke-width="1.6" stroke-dasharray="1.5 1 2.5 2"/>
<use href="#falk" fill="#0a1030" fill-opacity="0.8"/>
<use href="#am" fill="none" stroke="#1a1a1a" stroke-opacity="0.8" stroke-width="0.45"/>
<use href="#isl" fill="none" stroke="#1a1a1a" stroke-opacity="0.8" stroke-width="0.45"/>
<use href="#bd" fill="none" stroke="#1a1a1a" stroke-opacity="0.65" stroke-width="0.4"/>
</svg>
<rect x="43.8" y="22.5" width="238.2" height="239.5" fill="none" stroke="#5a5a5a" stroke-width="0.9"/>
<path d="M43.80 262 v-2.4 M43.80 22.5 v2.4" stroke="#555" stroke-width="0.8"/>
<path d="M96.73 262 v-2.4 M96.73 22.5 v2.4" stroke="#555" stroke-width="0.8"/>
<path d="M149.67 262 v-2.4 M149.67 22.5 v2.4" stroke="#555" stroke-width="0.8"/>
<path d="M202.60 262 v-2.4 M202.60 22.5 v2.4" stroke="#555" stroke-width="0.8"/>
<path d="M255.53 262 v-2.4 M255.53 22.5 v2.4" stroke="#555" stroke-width="0.8"/>
<path d="M43.8 262.00 h2.4 M282 262.00 h-2.4" stroke="#555" stroke-width="0.8"/>
<path d="M43.8 222.08 h2.4 M282 222.08 h-2.4" stroke="#555" stroke-width="0.8"/>
<path d="M43.8 182.17 h2.4 M282 182.17 h-2.4" stroke="#555" stroke-width="0.8"/>
<path d="M43.8 142.25 h2.4 M282 142.25 h-2.4" stroke="#555" stroke-width="0.8"/>
<path d="M43.8 102.33 h2.4 M282 102.33 h-2.4" stroke="#555" stroke-width="0.8"/>
<path d="M43.8 62.42 h2.4 M282 62.42 h-2.4" stroke="#555" stroke-width="0.8"/>
<path d="M43.8 22.50 h2.4 M282 22.50 h-2.4" stroke="#555" stroke-width="0.8"/>
<text x="42.7" y="267.60" font-size="12.3" text-anchor="end" fill="#262626">-60</text>
<text x="42.7" y="227.68" font-size="12.3" text-anchor="end" fill="#262626">-40</text>
<text x="42.7" y="187.77" font-size="12.3" text-anchor="end" fill="#262626">-20</text>
<text x="42.7" y="147.85" font-size="12.3" text-anchor="end" fill="#262626">0</text>
<text x="42.7" y="107.93" font-size="12.3" text-anchor="end" fill="#262626">20</text>
<text x="42.7" y="68.02" font-size="12.3" text-anchor="end" fill="#262626">40</text>
<text x="42.7" y="28.10" font-size="12.3" text-anchor="end" fill="#262626">60</text>
<text x="41.60" y="275.2" font-size="11.9" text-anchor="middle" fill="#262626">-120</text>
<text x="94.53" y="275.2" font-size="11.9" text-anchor="middle" fill="#262626">-100</text>
<text x="147.47" y="275.2" font-size="11.9" text-anchor="middle" fill="#262626">-80</text>
<text x="200.40" y="275.2" font-size="11.9" text-anchor="middle" fill="#262626">-60</text>
<text x="253.33" y="275.2" font-size="11.9" text-anchor="middle" fill="#262626">-40</text>
<text x="161" y="288.8" font-size="12" text-anchor="middle" fill="#262626">Longitude (°)</text>
<text transform="translate(20.8,144) rotate(-90)" font-size="12" text-anchor="middle" fill="#262626">Latitude (°)</text>
<rect x="287" y="23" width="6.2" height="239" fill="url(#jet)"/>
<text x="293.1" y="267.60" font-size="12.2" fill="#262626">250</text>
<text x="293.1" y="241.04" font-size="12.2" fill="#262626">260</text>
<text x="293.1" y="214.49" font-size="12.2" fill="#262626">270</text>
<text x="293.1" y="187.93" font-size="12.2" fill="#262626">280</text>
<text x="293.1" y="161.38" font-size="12.2" fill="#262626">290</text>
<text x="293.1" y="134.82" font-size="12.2" fill="#262626">300</text>
<text x="293.1" y="108.27" font-size="12.2" fill="#262626">310</text>
<text x="293.1" y="81.71" font-size="12.2" fill="#262626">320</text>
<text x="293.1" y="55.16" font-size="12.2" fill="#262626">330</text>
<text x="293.1" y="28.60" font-size="12.2" fill="#262626">340</text>
<path d="M287 235.44h1.6M293.2 235.44h-1.6M287 208.89h1.6M293.2 208.89h-1.6M287 182.33h1.6M293.2 182.33h-1.6M287 155.78h1.6M293.2 155.78h-1.6M287 129.22h1.6M293.2 129.22h-1.6M287 102.67h1.6M293.2 102.67h-1.6M287 76.11h1.6M293.2 76.11h-1.6M287 49.56h1.6M293.2 49.56h-1.6" stroke="#333" stroke-opacity="0.6" stroke-width="0.7"/>
<g fill="#000" stroke="#000" stroke-width="0.25"><text transform="translate(4.48,288) scale(0.990,1)" font-size="24.5">d</text>
<text transform="translate(19.00,287.6) scale(0.8,1)" font-size="23.5">)</text></g>
</g>
<g transform="translate(335,300)">
<rect x="1" y="1" width="328" height="293" fill="#cfcfcf" stroke="#3a3a3a" stroke-width="2"/>
<text x="162.5" y="13.6" font-size="12" text-anchor="middle" fill="#262626">20:45 UTC</text>
<svg x="43.8" y="22.5" width="238.2" height="239.5" viewBox="0 0 238.2 239.5" overflow="hidden">
<filter id="cf-e" x="0" y="0" width="238.2" height="239.5" filterUnits="userSpaceOnUse" color-interpolation-filters="sRGB"><feGaussianBlur in="SourceAlpha" stdDeviation="2.6" result="d"/><feTurbulence type="fractalNoise" baseFrequency="0.06 0.09" numOctaves="2" seed="707" result="nl"/><feTurbulence type="fractalNoise" baseFrequency="0.3 0.45" numOctaves="3" seed="708" result="nh"/><feComposite in="d" in2="nl" operator="arithmetic" k1="0" k2="0.5" k3="0.6" k4="0" result="s1"/><feComposite in="s1" in2="nh" operator="arithmetic" k1="0" k2="1" k3="0.85" k4="-0.95" result="s"/><feComponentTransfer in="s" result="t"><feFuncA type="linear" slope="20" intercept="0"/></feComponentTransfer><feComponentTransfer in="d" result="dm"><feFuncA type="linear" slope="6" intercept="-0.3"/></feComponentTransfer><feComposite in="t" in2="dm" operator="in" result="t2"/><feFlood flood-color="#fff"/><feComposite operator="in" in2="t2"/></filter>
<g filter="url(#bo)"><path fill="#0085ff" d="M-7 -7h63v7h-63zM-7 0h63v7h-63zM-7 7h63v7h-63zM217 7h7v7h-7zM70 14h7v7h-7zM112 14h21v7h-21zM203 14h7v7h-7zM161 21h7v7h-7zM-7 238h154v7h-154zM-7 245h154v7h-154z"/><path fill="#0080ff" d="M56 -7h7v7h-7zM56 0h7v7h-7zM56 7h7v7h-7zM210 7h7v7h-7zM77 14h35v7h-35zM133 14h14v7h-14zM168 21h21v7h-21z"/><path fill="#007aff" d="M63 -7h7v7h-7zM63 0h7v7h-7zM224 0h28v7h-28zM63 7h7v7h-7z"/><path fill="#0074ff" d="M70 -7h7v7h-7zM140 -7h28v7h-28zM70 0h7v7h-7zM133 0h28v7h-28zM210 0h14v7h-14zM70 7h7v7h-7zM112 7h35v7h-35zM203 7h7v7h-7zM147 14h7v7h-7zM196 14h7v7h-7z"/><path fill="#006eff" d="M77 -7h63v7h-63zM168 -7h14v7h-14zM196 -7h56v7h-56zM77 0h56v7h-56zM161 0h7v7h-7zM203 0h7v7h-7zM77 7h35v7h-35zM147 7h7v7h-7z"/><path fill="#0069ff" d="M182 -7h14v7h-14zM168 0h7v7h-7zM189 0h14v7h-14zM154 7h7v7h-7zM196 7h7v7h-7zM154 14h7v7h-7z"/><path fill="#0063ff" d="M175 0h14v7h-14zM189 14h7v7h-7z"/><path fill="#005eff" d="M161 7h7v7h-7zM189 7h7v7h-7zM161 14h7v7h-7z"/><path fill="#0058ff" d="M168 7h7v7h-7zM168 14h7v7h-7zM182 14h7v7h-7z"/><path fill="#0052ff" d="M175 7h14v7h-14zM175 14h7v7h-7z"/><path fill="#008bff" d="M224 7h7v7h-7zM63 14h7v7h-7zM147 238h28v7h-28zM147 245h28v7h-28z"/><path fill="#0090ff" d="M231 7h21v7h-21zM56 14h7v7h-7zM210 14h7v7h-7zM154 21h7v7h-7zM189 21h7v7h-7zM175 238h77v7h-77zM175 245h77v7h-77z"/><path fill="#0096ff" d="M-7 14h63v7h-63zM147 21h7v7h-7zM-7 231h154v7h-154z"/><path fill="#009cff" d="M217 14h7v7h-7zM196 21h7v7h-7zM147 231h28v7h-28z"/><path fill="#00a2ff" d="M224 14h7v7h-7zM77 21h7v7h-7zM140 21h7v7h-7zM175 231h77v7h-77z"/><path fill="#00a7ff" d="M231 14h21v7h-21zM70 21h7v7h-7zM84 21h28v7h-28zM133 21h7v7h-7z"/><path fill="#00b2ff" d="M-7 21h63v7h-63zM133 224h28v7h-28z"/><path fill="#00adff" d="M56 21h14v7h-14zM112 21h21v7h-21zM203 21h7v7h-7zM-7 224h140v7h-140z"/><path fill="#00b8ff" d="M210 21h7v7h-7zM161 224h91v7h-91z"/><path fill="#00c3ff" d="M217 21h7v7h-7zM147 28h7v7h-7zM161 28h21v7h-21z"/><path fill="#00c9ff" d="M224 21h7v7h-7zM140 28h7v7h-7zM182 28h7v7h-7zM-7 217h147v7h-147z"/><path fill="#00cfff" d="M231 21h21v7h-21zM-7 28h84v7h-84zM133 28h7v7h-7zM140 217h112v7h-112z"/><path fill="#00d4ff" d="M77 28h14v7h-14zM126 28h7v7h-7zM189 28h7v7h-7z"/><path fill="#00daff" d="M91 28h14v7h-14zM119 28h7v7h-7zM196 28h7v7h-7z"/><path fill="#00e0ff" d="M105 28h14v7h-14zM84 210h63v7h-63z"/><path fill="#00beff" d="M154 28h7v7h-7z"/><path fill="#00e5ff" d="M203 28h7v7h-7zM-7 210h91v7h-91zM147 210h105v7h-105z"/><path fill="#00ebff" d="M210 28h7v7h-7z"/><path fill="#00f1ff" d="M217 28h7v7h-7zM-7 35h70v7h-70z"/><path fill="#00f6ff" d="M224 28h7v7h-7zM63 35h14v7h-14zM140 35h14v7h-14zM98 203h21v7h-21z"/><path fill="#00fcff" d="M231 28h7v7h-7zM77 35h7v7h-7zM133 35h7v7h-7zM154 35h7v7h-7zM70 203h28v7h-28zM119 203h28v7h-28zM168 203h84v7h-84z"/><path fill="#03fffc" d="M238 28h14v7h-14zM84 35h7v7h-7zM161 35h7v7h-7zM-7 42h42v7h-42zM-7 203h77v7h-77zM147 203h21v7h-21z"/><path fill="#09fff6" d="M91 35h7v7h-7zM126 35h7v7h-7zM168 35h7v7h-7zM35 42h21v7h-21z"/><path fill="#0efff1" d="M98 35h28v7h-28zM175 35h14v7h-14zM224 196h28v7h-28z"/><path fill="#14ffeb" d="M189 35h14v7h-14zM56 42h7v7h-7zM91 196h21v7h-21zM203 196h21v7h-21z"/><path fill="#1affe5" d="M203 35h14v7h-14zM-7 49h35v7h-35zM70 196h21v7h-21zM112 196h7v7h-7zM182 196h21v7h-21z"/><path fill="#1fffe0" d="M217 35h7v7h-7zM63 42h7v7h-7zM28 49h7v7h-7zM-7 196h77v7h-77zM119 196h7v7h-7zM168 196h14v7h-14z"/><path fill="#25ffda" d="M224 35h14v7h-14zM70 42h7v7h-7zM35 49h7v7h-7zM126 196h42v7h-42z"/><path fill="#2bffd4" d="M238 35h14v7h-14zM42 49h7v7h-7z"/><path fill="#30ffcf" d="M77 42h7v7h-7zM49 49h7v7h-7zM-7 56h14v7h-14zM91 189h21v7h-21zM217 189h35v7h-35z"/><path fill="#36ffc9" d="M84 42h7v7h-7zM7 56h14v7h-14zM63 189h28v7h-28zM112 189h14v7h-14zM189 189h28v7h-28z"/><path fill="#3cffc3" d="M91 42h7v7h-7zM56 49h7v7h-7zM21 56h7v7h-7zM-7 189h70v7h-70zM126 189h14v7h-14zM175 189h14v7h-14z"/><path fill="#41ffbe" d="M98 42h7v7h-7zM28 56h7v7h-7zM140 189h14v7h-14zM161 189h14v7h-14z"/><path fill="#47ffb8" d="M105 42h14v7h-14zM91 182h21v7h-21zM154 189h7v7h-7z"/><path fill="#4dffb2" d="M119 42h112v7h-112zM63 49h7v7h-7zM35 56h7v7h-7zM70 182h21v7h-21zM112 182h7v7h-7zM224 182h28v7h-28z"/><path fill="#52ffad" d="M231 42h21v7h-21zM-7 182h77v7h-77zM119 182h14v7h-14zM196 182h28v7h-28z"/><path fill="#5effa2" d="M70 49h7v7h-7zM7 63h7v7h-7zM77 175h42v7h-42zM147 182h28v7h-28z"/><path fill="#69ff96" d="M77 49h7v7h-7zM21 63h7v7h-7zM91 168h21v7h-21zM-7 175h56v7h-56zM126 175h7v7h-7zM217 175h35v7h-35z"/><path fill="#6eff90" d="M84 49h7v7h-7zM28 63h7v7h-7zM70 168h21v7h-21zM112 168h7v7h-7zM133 175h14v7h-14zM189 175h28v7h-28z"/><path fill="#74ff8b" d="M91 49h14v7h-14zM210 49h42v7h-42zM56 56h7v7h-7zM35 63h7v7h-7zM91 161h21v7h-21zM-7 168h77v7h-77zM119 168h7v7h-7zM147 175h42v7h-42z"/><path fill="#7aff85" d="M105 49h14v7h-14zM182 49h28v7h-28zM77 161h14v7h-14zM112 161h7v7h-7zM126 168h7v7h-7z"/><path fill="#80ff80" d="M119 49h63v7h-63zM42 63h7v7h-7zM-7 70h14v7h-14zM91 154h21v7h-21zM56 161h21v7h-21zM119 161h7v7h-7zM133 168h14v7h-14zM224 168h28v7h-28z"/><path fill="#58ffa7" d="M42 56h7v7h-7zM-7 63h14v7h-14zM133 182h14v7h-14zM175 182h21v7h-21z"/><path fill="#63ff9c" d="M49 56h7v7h-7zM14 63h7v7h-7zM49 175h28v7h-28zM119 175h7v7h-7z"/><path fill="#85ff7a" d="M63 56h7v7h-7zM49 63h7v7h-7zM7 70h7v7h-7zM98 147h14v7h-14zM77 154h14v7h-14zM112 154h7v7h-7zM-7 161h63v7h-63zM147 168h7v7h-7zM196 168h28v7h-28z"/><path fill="#96ff69" d="M70 56h7v7h-7zM119 56h70v7h-70zM28 70h14v7h-14zM91 140h7v7h-7zM112 140h7v7h-7zM35 147h28v7h-28zM119 147h7v7h-7zM126 154h7v7h-7zM147 161h14v7h-14zM189 161h28v7h-28z"/><path fill="#a7ff58" d="M77 56h14v7h-14zM70 63h7v7h-7zM119 63h21v7h-21zM56 70h7v7h-7zM175 70h77v7h-77zM0 77h14v7h-14zM91 119h21v7h-21zM98 126h14v7h-14zM84 133h7v7h-7zM119 133h7v7h-7zM42 140h21v7h-21zM126 140h7v7h-7zM140 147h7v7h-7zM154 154h35v7h-35z"/><path fill="#a2ff5e" d="M91 56h14v7h-14zM140 63h42v7h-42zM49 70h7v7h-7zM-7 77h7v7h-7zM91 133h7v7h-7zM112 133h7v7h-7zM63 140h14v7h-14zM119 140h7v7h-7zM133 147h7v7h-7zM147 154h7v7h-7zM189 154h63v7h-63z"/><path fill="#9cff63" d="M105 56h14v7h-14zM63 63h7v7h-7zM182 63h70v7h-70zM42 70h7v7h-7zM98 133h14v7h-14zM77 140h14v7h-14zM-7 147h42v7h-42zM126 147h7v7h-7zM133 154h14v7h-14zM161 161h28v7h-28z"/><path fill="#91ff6e" d="M189 56h28v7h-28zM56 63h7v7h-7zM21 70h7v7h-7zM98 140h14v7h-14zM63 147h21v7h-21zM112 147h7v7h-7zM-7 154h49v7h-49zM119 154h7v7h-7zM140 161h7v7h-7zM217 161h35v7h-35z"/><path fill="#8bff74" d="M217 56h35v7h-35zM14 70h7v7h-7zM84 147h14v7h-14zM42 154h35v7h-35zM126 161h14v7h-14zM154 168h42v7h-42z"/><path fill="#b3ff4c" d="M77 63h35v7h-35zM70 70h7v7h-7zM133 70h14v7h-14zM28 77h14v7h-14zM175 77h77v7h-77zM63 119h14v7h-14zM84 126h7v7h-7zM119 126h7v7h-7zM56 133h14v7h-14zM133 133h7v7h-7zM140 140h7v7h-7zM154 147h98v7h-98z"/><path fill="#adff52" d="M112 63h7v7h-7zM63 70h7v7h-7zM147 70h28v7h-28zM14 77h14v7h-14zM77 119h14v7h-14zM112 119h7v7h-7zM91 126h7v7h-7zM112 126h7v7h-7zM70 133h14v7h-14zM126 133h7v7h-7zM-7 140h49v7h-49zM133 140h7v7h-7zM147 147h7v7h-7z"/><path fill="#b8ff47" d="M77 70h7v7h-7zM119 70h14v7h-14zM42 77h14v7h-14zM154 77h21v7h-21zM91 112h21v7h-21zM-7 119h70v7h-70zM119 119h7v7h-7zM63 126h21v7h-21zM126 126h7v7h-7zM-7 133h63v7h-63zM140 133h7v7h-7zM147 140h7v7h-7z"/><path fill="#beff41" d="M84 70h35v7h-35zM56 77h14v7h-14zM140 77h14v7h-14zM-7 84h7v7h-7zM70 112h21v7h-21zM112 112h7v7h-7zM126 119h7v7h-7zM-7 126h70v7h-70zM133 126h7v7h-7zM147 133h7v7h-7zM154 140h98v7h-98z"/><path fill="#c3ff3c" d="M70 77h21v7h-21zM133 77h7v7h-7zM0 84h14v7h-14zM-7 112h77v7h-77zM119 112h7v7h-7zM133 119h7v7h-7zM140 126h7v7h-7zM154 133h7v7h-7z"/><path fill="#c9ff36" d="M91 77h42v7h-42zM14 84h21v7h-21zM168 84h84v7h-84zM126 112h7v7h-7zM140 119h14v7h-14zM147 126h7v7h-7zM161 133h91v7h-91z"/><path fill="#cfff30" d="M35 84h35v7h-35zM154 84h14v7h-14zM133 112h14v7h-14zM154 119h98v7h-98zM154 126h98v7h-98z"/><path fill="#d5ff2a" d="M70 84h28v7h-28zM140 84h14v7h-14zM-7 91h21v7h-21zM168 91h84v7h-84zM-7 105h98v7h-98zM147 112h105v7h-105z"/><path fill="#daff25" d="M98 84h42v7h-42zM14 91h63v7h-63zM154 91h14v7h-14zM168 98h84v7h-84zM91 105h56v7h-56z"/><path fill="#e0ff1f" d="M77 91h21v7h-21zM140 91h14v7h-14zM-7 98h105v7h-105zM147 98h21v7h-21zM147 105h105v7h-105z"/><path fill="#e5ff1a" d="M98 91h42v7h-42zM98 98h49v7h-49z"/></g>
<g filter="url(#cf-e)"><path fill-opacity="0.80" d="M54 0h144v6h-144z"/><path fill-opacity="0.60" d="M198 0h42v6h-42zM174 6h66v6h-66zM174 12h66v6h-66zM180 18h60v6h-60zM198 24h42v6h-42zM222 30h18v6h-18zM198 228h30v6h-30zM180 234h6v6h-6z"/><path fill-opacity="0.90" d="M60 66h12v6h-12zM60 72h12v6h-12zM0 192h12v6h-12zM0 198h60v6h-60zM0 204h90v6h-90zM0 210h108v6h-108zM0 216h114v6h-114zM0 222h114v6h-114zM0 228h120v6h-120zM0 234h120v6h-120z"/><path fill-opacity="0.85" d="M0 78h24v6h-24zM0 84h24v6h-24zM0 90h24v6h-24zM0 96h24v6h-24z"/><path fill-opacity="0.50" d="M210 96h30v6h-30zM216 102h24v6h-24zM216 108h24v6h-24zM216 114h24v6h-24zM234 120h6v6h-6zM168 228h18v6h-18zM162 234h12v6h-12z"/><path fill-opacity="0.05" d="M48 120h6v6h-6zM84 120h6v6h-6zM42 126h6v6h-6zM54 132h12v6h-12zM72 132h12v6h-12zM156 234h6v6h-6zM180 240h60v6h-60z"/><path fill-opacity="0.10" d="M54 120h6v6h-6zM78 120h6v6h-6zM48 126h6v6h-6zM84 126h6v6h-6zM66 132h6v6h-6zM240 228h6v6h-6z"/><path fill-opacity="0.15" d="M60 120h6v6h-6zM72 120h6v6h-6zM240 234h6v6h-6z"/><path fill-opacity="0.20" d="M66 120h6v6h-6zM54 126h6v6h-6zM78 126h6v6h-6z"/><path fill-opacity="0.35" d="M60 126h6v6h-6z"/><path fill-opacity="0.40" d="M66 126h6v6h-6zM174 162h66v6h-66zM168 168h72v6h-72zM168 174h72v6h-72zM168 180h72v6h-72zM168 186h72v6h-72zM168 192h72v6h-72zM168 198h72v6h-72zM162 204h78v6h-78zM162 210h78v6h-78zM162 216h78v6h-78zM162 222h18v6h-18z"/><path fill-opacity="0.30" d="M72 126h6v6h-6z"/><path fill-opacity="0.45" d="M180 222h60v6h-60zM162 228h6v6h-6z"/><path fill-opacity="0.55" d="M186 228h12v6h-12zM228 228h12v6h-12zM174 234h6v6h-6z"/><path fill-opacity="0.65" d="M186 234h6v6h-6zM228 234h12v6h-12z"/><path fill-opacity="0.70" d="M192 234h12v6h-12zM222 234h6v6h-6z"/><path fill-opacity="0.75" d="M204 234h18v6h-18z"/></g>
<g clip-path="url(#landclip)"><g filter="url(#bl)"><path fill="#2bffd4" d="M-4 -4h12v4h-12zM28 -4h4v4h-4zM68 -4h4v4h-4zM148 -4h4v4h-4zM116 0h4v4h-4zM128 0h4v4h-4zM156 0h4v4h-4zM36 4h4v4h-4zM64 4h4v4h-4zM120 4h4v4h-4zM112 8h4v4h-4zM132 8h4v4h-4zM140 8h4v4h-4zM60 12h4v4h-4zM-4 16h4v4h-4zM12 16h4v4h-4zM20 16h4v4h-4zM28 16h4v4h-4zM32 20h4v4h-4zM16 24h4v4h-4zM116 140h4v4h-4zM212 164h4v4h-4zM164 168h4v4h-4zM124 172h4v4h-4zM172 172h4v4h-4zM148 176h4v4h-4zM168 176h4v4h-4zM192 176h4v4h-4z"/><path fill="#41ffbe" d="M8 -4h8v4h-8zM24 -4h4v4h-4zM132 -4h4v4h-4zM12 0h4v4h-4zM84 0h4v4h-4zM104 0h4v4h-4zM16 4h4v4h-4zM40 4h4v4h-4zM48 4h4v4h-4zM76 4h4v4h-4zM100 4h4v4h-4zM116 4h4v4h-4zM148 4h4v4h-4zM4 8h8v4h-8zM16 8h4v4h-4zM60 8h4v4h-4zM72 8h8v4h-8zM84 8h4v4h-4zM136 8h4v4h-4zM144 8h8v4h-8zM4 12h4v4h-4zM64 12h4v4h-4zM128 12h4v4h-4zM0 16h4v4h-4zM64 16h4v4h-4zM80 16h4v4h-4zM104 16h4v4h-4zM116 16h4v4h-4zM124 16h4v4h-4zM148 16h4v4h-4zM24 20h4v4h-4zM40 20h4v4h-4zM148 20h4v4h-4zM28 24h8v4h-8zM104 24h4v4h-4zM116 24h4v4h-4zM16 28h4v4h-4zM24 28h4v4h-4zM132 148h4v4h-4zM168 160h8v4h-8zM188 160h4v4h-4zM196 160h4v4h-4zM172 164h4v4h-4zM180 164h4v4h-4zM200 164h4v4h-4zM208 164h4v4h-4zM188 168h8v4h-8zM204 168h4v4h-4zM160 172h4v4h-4z"/><path fill="#25ffda" d="M16 -4h4v4h-4zM152 -4h4v4h-4zM8 0h4v4h-4zM32 0h4v4h-4zM52 0h4v4h-4zM72 0h4v4h-4zM68 4h4v4h-4zM124 4h4v4h-4zM152 4h4v4h-4zM52 8h4v4h-4zM124 8h4v4h-4zM0 12h4v4h-4zM44 12h4v4h-4zM120 16h4v4h-4zM8 20h4v4h-4zM20 20h4v4h-4zM28 20h4v4h-4zM20 24h4v4h-4zM120 144h4v4h-4zM124 168h4v4h-4zM148 168h4v4h-4zM176 168h4v4h-4zM148 172h4v4h-4zM180 172h4v4h-4zM140 176h4v4h-4zM176 176h8v4h-8z"/><path fill="#30ffcf" d="M20 -4h4v4h-4zM104 -4h4v4h-4zM116 -4h4v4h-4zM136 -4h4v4h-4zM40 0h12v4h-12zM76 0h8v4h-8zM88 0h4v4h-4zM124 0h4v4h-4zM140 0h4v4h-4zM28 4h8v4h-8zM44 4h4v4h-4zM96 4h4v4h-4zM128 4h4v4h-4zM140 4h4v4h-4zM164 4h4v4h-4zM-4 8h4v4h-4zM28 8h8v4h-8zM48 8h4v4h-4zM68 8h4v4h-4zM88 8h4v4h-4zM96 8h4v4h-4zM12 12h4v4h-4zM28 12h4v4h-4zM88 12h4v4h-4zM136 12h8v4h-8zM148 12h4v4h-4zM24 16h4v4h-4zM88 16h4v4h-4zM112 16h4v4h-4zM12 20h4v4h-4zM128 148h4v4h-4zM148 164h8v4h-8zM156 168h8v4h-8zM180 168h4v4h-4zM168 172h4v4h-4zM152 176h4v4h-4z"/><path fill="#47ffb8" d="M32 -4h4v4h-4zM0 0h8v4h-8zM36 0h4v4h-4zM144 0h4v4h-4zM56 4h4v4h-4zM108 4h4v4h-4zM168 4h4v4h-4zM20 8h4v4h-4zM92 8h4v4h-4zM164 8h4v4h-4zM32 12h4v4h-4zM48 12h4v4h-4zM108 12h4v4h-4zM120 12h8v4h-8zM132 12h4v4h-4zM164 12h8v4h-8zM136 16h4v4h-4zM172 16h4v4h-4zM-4 20h4v4h-4zM132 20h4v4h-4zM156 20h4v4h-4zM24 24h4v4h-4zM124 24h4v4h-4zM28 28h4v4h-4zM124 144h4v4h-4zM144 164h4v4h-4zM168 164h4v4h-4z"/><path fill="#36ffc9" d="M36 -4h4v4h-4zM52 -4h16v4h-16zM120 -4h4v4h-4zM20 0h8v4h-8zM60 0h4v4h-4zM136 0h4v4h-4zM4 4h8v4h-8zM20 4h4v4h-4zM72 4h4v4h-4zM112 4h4v4h-4zM132 4h4v4h-4zM156 4h4v4h-4zM12 8h4v4h-4zM24 8h4v4h-4zM40 8h8v4h-8zM56 8h4v4h-4zM64 8h4v4h-4zM80 8h4v4h-4zM100 8h4v4h-4zM108 8h4v4h-4zM160 8h4v4h-4zM168 8h4v4h-4zM-4 12h4v4h-4zM20 12h4v4h-4zM80 12h4v4h-4zM92 12h4v4h-4zM112 12h4v4h-4zM172 12h4v4h-4zM8 16h4v4h-4zM16 16h4v4h-4zM76 16h4v4h-4zM96 16h4v4h-4zM140 16h4v4h-4zM0 24h4v4h-4zM124 148h4v4h-4zM160 164h8v4h-8zM144 168h4v4h-4zM152 168h4v4h-4zM172 168h4v4h-4zM144 172h4v4h-4zM176 172h4v4h-4zM128 180h4v4h-4z"/><path fill="#3cffc3" d="M40 -4h4v4h-4zM48 -4h4v4h-4zM72 -4h4v4h-4zM-4 0h4v4h-4zM28 0h4v4h-4zM56 0h4v4h-4zM64 0h4v4h-4zM108 0h4v4h-4zM132 0h4v4h-4zM148 0h4v4h-4zM-4 4h4v4h-4zM12 4h4v4h-4zM24 4h4v4h-4zM52 4h4v4h-4zM92 4h4v4h-4zM136 4h4v4h-4zM144 4h4v4h-4zM104 8h4v4h-4zM128 8h4v4h-4zM172 8h4v4h-4zM16 12h4v4h-4zM52 12h4v4h-4zM72 12h8v4h-8zM96 12h8v4h-8zM144 12h4v4h-4zM36 16h4v4h-4zM52 16h8v4h-8zM108 16h4v4h-4zM152 16h4v4h-4zM164 16h4v4h-4zM4 20h4v4h-4zM36 20h4v4h-4zM48 20h4v4h-4zM8 28h4v4h-4zM132 160h4v4h-4zM204 160h4v4h-4zM124 164h4v4h-4zM184 168h4v4h-4z"/><path fill="#14ffeb" d="M44 -4h4v4h-4zM128 -4h4v4h-4zM120 0h4v4h-4zM168 168h4v4h-4zM124 176h4v4h-4zM156 176h4v4h-4zM160 180h4v4h-4zM180 180h4v4h-4zM120 184h4v4h-4zM148 184h4v4h-4zM160 184h4v4h-4z"/><path fill="#1fffe0" d="M108 -4h8v4h-8zM16 0h4v4h-4zM152 0h4v4h-4zM160 4h4v4h-4zM24 12h4v4h-4zM4 16h4v4h-4zM32 16h4v4h-4zM16 20h4v4h-4zM8 24h8v4h-8zM136 156h4v4h-4zM140 164h4v4h-4zM140 168h4v4h-4zM200 168h4v4h-4zM140 172h4v4h-4zM156 172h4v4h-4zM188 172h4v4h-4zM144 176h4v4h-4zM172 176h4v4h-4zM124 180h4v4h-4zM152 180h4v4h-4zM176 180h4v4h-4zM188 180h4v4h-4zM164 184h4v4h-4zM176 184h4v4h-4zM120 188h4v4h-4z"/><path fill="#0efff1" d="M124 -4h4v4h-4zM60 4h4v4h-4zM184 176h4v4h-4zM144 180h4v4h-4zM168 184h8v4h-8zM172 188h4v4h-4z"/><path fill="#58ffa7" d="M140 -4h4v4h-4zM36 8h4v4h-4zM116 8h4v4h-4zM40 12h4v4h-4zM64 20h4v4h-4zM104 20h12v4h-12zM164 20h4v4h-4zM172 20h4v4h-4zM40 24h4v4h-4zM60 24h4v4h-4zM88 24h4v4h-4zM160 24h4v4h-4zM20 28h4v4h-4zM32 28h8v4h-8zM88 28h4v4h-4zM8 32h4v4h-4zM36 32h4v4h-4zM116 136h4v4h-4zM136 152h4v4h-4zM176 152h4v4h-4zM120 156h4v4h-4zM212 156h4v4h-4zM140 160h4v4h-4zM148 160h4v4h-4zM160 160h4v4h-4zM132 164h4v4h-4zM184 164h4v4h-4z"/><path fill="#1affe5" d="M144 -4h4v4h-4zM112 0h4v4h-4zM104 4h4v4h-4zM8 12h4v4h-4zM152 172h4v4h-4zM164 172h4v4h-4zM184 172h4v4h-4zM192 172h4v4h-4zM120 176h4v4h-4zM160 176h8v4h-8zM188 176h4v4h-4zM120 180h4v4h-4zM164 180h4v4h-4zM140 184h4v4h-4zM116 188h4v4h-4z"/><path fill="#4dffb2" d="M68 0h4v4h-4zM0 4h4v4h-4zM84 4h8v4h-8zM156 8h4v4h-4zM36 12h4v4h-4zM56 12h4v4h-4zM68 12h4v4h-4zM116 12h4v4h-4zM152 12h4v4h-4zM40 16h4v4h-4zM72 16h4v4h-4zM92 16h4v4h-4zM132 16h4v4h-4zM144 16h4v4h-4zM120 20h4v4h-4zM128 20h4v4h-4zM136 20h8v4h-8zM160 20h4v4h-4zM176 20h4v4h-4zM156 24h4v4h-4zM24 32h4v4h-4zM132 156h4v4h-4zM144 156h4v4h-4zM188 156h4v4h-4zM124 160h4v4h-4zM180 160h8v4h-8zM208 160h4v4h-4zM204 164h4v4h-4zM196 168h4v4h-4zM208 168h4v4h-4zM196 172h4v4h-4z"/><path fill="#5effa2" d="M80 4h4v4h-4zM156 12h4v4h-4zM48 16h4v4h-4zM84 16h4v4h-4zM100 16h4v4h-4zM156 16h4v4h-4zM168 16h4v4h-4zM72 20h8v4h-8zM96 20h4v4h-4zM116 20h4v4h-4zM36 24h4v4h-4zM148 24h4v4h-4zM168 24h4v4h-4zM28 32h4v4h-4zM44 32h4v4h-4zM112 132h4v4h-4zM192 148h4v4h-4zM116 152h4v4h-4zM196 152h4v4h-4zM216 152h4v4h-4zM152 156h4v4h-4zM160 156h4v4h-4zM168 156h8v4h-8zM180 156h4v4h-4zM196 156h12v4h-12zM216 156h4v4h-4zM176 160h4v4h-4zM192 164h4v4h-4z"/><path fill="#52ffad" d="M0 8h4v4h-4zM120 8h4v4h-4zM152 8h4v4h-4zM84 12h4v4h-4zM160 12h4v4h-4zM44 16h4v4h-4zM60 16h4v4h-4zM160 16h4v4h-4zM176 16h4v4h-4zM0 20h4v4h-4zM60 20h4v4h-4zM68 20h4v4h-4zM92 20h4v4h-4zM100 20h4v4h-4zM124 20h4v4h-4zM144 20h4v4h-4zM152 20h4v4h-4zM180 20h4v4h-4zM4 24h4v4h-4zM44 24h4v4h-4zM84 24h4v4h-4zM4 28h4v4h-4zM12 28h4v4h-4zM108 120h4v4h-4zM112 128h4v4h-4zM140 156h4v4h-4zM148 156h4v4h-4zM164 156h4v4h-4zM184 156h4v4h-4zM152 160h4v4h-4zM200 160h4v4h-4zM156 164h4v4h-4zM176 164h4v4h-4zM188 164h4v4h-4zM196 164h4v4h-4z"/><path fill="#63ff9c" d="M104 12h4v4h-4zM44 20h4v4h-4zM80 20h8v4h-8zM68 24h4v4h-4zM100 24h4v4h-4zM128 24h4v4h-4zM144 24h4v4h-4zM152 24h4v4h-4zM40 28h8v4h-8zM112 28h4v4h-4zM32 32h4v4h-4zM148 152h4v4h-4zM192 152h4v4h-4zM200 152h4v4h-4zM156 156h4v4h-4zM144 160h4v4h-4zM164 160h4v4h-4zM192 160h4v4h-4z"/><path fill="#6eff90" d="M68 16h4v4h-4zM56 20h4v4h-4zM96 24h4v4h-4zM108 24h4v4h-4zM136 24h4v4h-4zM-4 28h8v4h-8zM32 36h4v4h-4zM112 136h4v4h-4zM152 144h4v4h-4zM160 148h8v4h-8zM176 148h4v4h-4zM140 152h4v4h-4zM156 152h4v4h-4zM164 152h8v4h-8zM208 156h4v4h-4zM212 160h4v4h-4z"/><path fill="#69ff96" d="M128 16h4v4h-4zM168 20h4v4h-4zM-4 24h4v4h-4zM112 24h4v4h-4zM132 24h4v4h-4zM172 24h4v4h-4zM64 28h4v4h-4zM100 28h4v4h-4zM12 32h12v4h-12zM36 36h4v4h-4zM200 144h4v4h-4zM156 148h4v4h-4zM196 148h4v4h-4zM120 152h4v4h-4zM172 152h4v4h-4zM204 152h8v4h-8zM124 156h4v4h-4zM176 156h4v4h-4zM156 160h4v4h-4z"/><path fill="#74ff8b" d="M52 20h4v4h-4zM88 20h4v4h-4zM48 24h4v4h-4zM72 24h4v4h-4zM140 24h4v4h-4zM80 28h4v4h-4zM108 28h4v4h-4zM116 28h4v4h-4zM160 28h4v4h-4zM40 32h4v4h-4zM48 32h4v4h-4zM108 116h4v4h-4zM120 140h4v4h-4zM156 144h4v4h-4zM112 148h4v4h-4zM140 148h4v4h-4zM168 148h4v4h-4zM180 148h4v4h-4zM200 148h4v4h-4zM208 148h4v4h-4zM144 152h4v4h-4zM184 152h4v4h-4zM192 156h4v4h-4zM216 160h4v4h-4z"/><path fill="#7aff85" d="M52 24h8v4h-8zM76 24h4v4h-4zM92 24h4v4h-4zM180 24h4v4h-4zM48 28h4v4h-4zM76 28h4v4h-4zM92 28h4v4h-4zM136 28h8v4h-8zM148 28h4v4h-4zM164 28h4v4h-4zM180 28h4v4h-4zM124 32h4v4h-4zM20 36h4v4h-4zM140 136h4v4h-4zM200 140h4v4h-4zM140 144h4v4h-4zM164 144h8v4h-8zM204 144h4v4h-4zM212 144h4v4h-4zM136 148h4v4h-4zM172 148h4v4h-4zM180 152h4v4h-4zM188 152h4v4h-4zM212 152h4v4h-4zM128 164h4v4h-4z"/><path fill="#85ff7a" d="M64 24h4v4h-4zM164 24h4v4h-4zM176 24h4v4h-4zM68 28h4v4h-4zM132 28h4v4h-4zM152 28h4v4h-4zM168 28h4v4h-4zM-4 32h4v4h-4zM160 32h4v4h-4zM24 36h4v4h-4zM40 36h4v4h-4zM40 40h4v4h-4zM112 124h4v4h-4zM212 136h4v4h-4zM144 140h4v4h-4zM156 140h4v4h-4zM164 140h4v4h-4zM176 140h4v4h-4zM184 140h4v4h-4zM216 144h8v4h-8zM152 148h4v4h-4zM128 152h4v4h-4zM152 152h4v4h-4z"/><path fill="#8bff74" d="M80 24h4v4h-4zM104 28h4v4h-4zM120 28h4v4h-4zM4 32h4v4h-4zM104 32h4v4h-4zM112 32h4v4h-4zM144 32h4v4h-4zM48 36h4v4h-4zM36 40h4v4h-4zM124 100h4v4h-4zM172 132h4v4h-4zM220 136h4v4h-4zM228 136h4v4h-4zM128 140h4v4h-4zM136 140h8v4h-8zM152 140h4v4h-4zM172 140h4v4h-4zM196 140h4v4h-4zM204 140h4v4h-4zM128 144h4v4h-4zM148 144h4v4h-4zM176 144h4v4h-4zM196 144h4v4h-4zM188 148h4v4h-4zM204 148h4v4h-4z"/><path fill="#91ff6e" d="M120 24h4v4h-4zM128 28h4v4h-4zM144 28h4v4h-4zM156 28h4v4h-4zM52 32h4v4h-4zM64 32h4v4h-4zM84 32h4v4h-4zM100 32h4v4h-4zM140 32h4v4h-4zM-4 36h4v4h-4zM28 36h4v4h-4zM88 40h4v4h-4zM100 132h4v4h-4zM188 132h4v4h-4zM128 136h12v4h-12zM176 136h4v4h-4zM132 140h4v4h-4zM168 140h4v4h-4zM180 140h4v4h-4zM208 140h4v4h-4zM132 144h4v4h-4zM160 144h4v4h-4zM172 144h4v4h-4zM180 144h4v4h-4zM208 144h4v4h-4zM184 148h4v4h-4z"/><path fill="#80ff80" d="M52 28h4v4h-4zM60 28h4v4h-4zM84 28h4v4h-4zM96 28h4v4h-4zM172 28h8v4h-8zM44 36h4v4h-4zM108 124h4v4h-4zM124 140h4v4h-4zM188 140h4v4h-4zM108 144h4v4h-4zM144 144h4v4h-4zM184 144h12v4h-12zM108 148h4v4h-4zM216 148h4v4h-4zM112 152h4v4h-4zM160 152h4v4h-4z"/><path fill="#9cff63" d="M56 28h4v4h-4zM124 28h4v4h-4zM0 32h4v4h-4zM56 32h4v4h-4zM68 32h4v4h-4zM92 32h4v4h-4zM108 32h4v4h-4zM76 36h4v4h-4zM32 40h4v4h-4zM88 48h4v4h-4zM92 52h4v4h-4zM136 96h4v4h-4zM128 100h4v4h-4zM148 100h4v4h-4zM132 104h4v4h-4zM124 108h4v4h-4zM132 108h4v4h-4zM96 128h4v4h-4zM120 132h4v4h-4zM144 132h4v4h-4zM180 132h4v4h-4zM148 136h4v4h-4zM104 140h4v4h-4zM148 140h4v4h-4z"/><path fill="#a2ff5e" d="M72 28h4v4h-4zM76 32h4v4h-4zM96 32h4v4h-4zM120 32h4v4h-4zM128 32h4v4h-4zM12 36h4v4h-4zM120 36h4v4h-4zM176 100h4v4h-4zM116 104h4v4h-4zM168 104h4v4h-4zM104 116h4v4h-4zM104 120h4v4h-4zM72 124h4v4h-4zM96 124h4v4h-4zM204 124h4v4h-4zM220 124h4v4h-4zM116 128h4v4h-4zM152 128h4v4h-4zM200 128h4v4h-4zM208 128h8v4h-8zM108 132h4v4h-4zM228 132h4v4h-4zM104 136h4v4h-4zM160 136h4v4h-4zM172 136h4v4h-4zM200 136h12v4h-12zM224 136h4v4h-4zM112 144h4v4h-4z"/><path fill="#96ff69" d="M60 32h4v4h-4zM80 32h4v4h-4zM156 32h4v4h-4zM4 36h8v4h-8zM80 36h4v4h-4zM112 36h4v4h-4zM164 92h4v4h-4zM108 128h4v4h-4zM220 128h4v4h-4zM192 132h8v4h-8zM208 132h4v4h-4zM220 132h4v4h-4zM156 136h4v4h-4zM108 140h4v4h-4zM160 140h4v4h-4zM192 140h4v4h-4zM212 140h16v4h-16zM136 144h4v4h-4zM144 148h8v4h-8zM212 148h4v4h-4zM128 160h4v4h-4zM128 168h4v4h-4z"/><path fill="#a7ff58" d="M72 32h4v4h-4zM88 32h4v4h-4zM116 32h4v4h-4zM132 32h8v4h-8zM148 32h8v4h-8zM0 36h4v4h-4zM52 36h4v4h-4zM72 36h4v4h-4zM100 36h4v4h-4zM148 36h4v4h-4zM108 40h4v4h-4zM104 48h4v4h-4zM152 96h4v4h-4zM116 100h4v4h-4zM140 100h4v4h-4zM112 112h4v4h-4zM176 116h4v4h-4zM76 124h4v4h-4zM200 124h4v4h-4zM100 128h4v4h-4zM124 128h4v4h-4zM96 132h4v4h-4zM116 132h4v4h-4zM132 132h8v4h-8zM148 132h4v4h-4zM176 132h4v4h-4zM216 132h4v4h-4zM224 132h4v4h-4zM100 136h4v4h-4zM120 136h8v4h-8zM144 136h4v4h-4zM184 136h4v4h-4zM216 136h4v4h-4z"/><path fill="#adff52" d="M16 36h4v4h-4zM64 36h4v4h-4zM96 36h4v4h-4zM108 36h4v4h-4zM128 36h4v4h-4zM48 40h4v4h-4zM80 40h4v4h-4zM100 40h4v4h-4zM124 40h4v4h-4zM32 44h4v4h-4zM80 44h4v4h-4zM92 48h4v4h-4zM100 52h4v4h-4zM160 88h8v4h-8zM148 96h4v4h-4zM132 100h8v4h-8zM144 100h4v4h-4zM164 100h4v4h-4zM120 104h4v4h-4zM164 104h4v4h-4zM128 108h4v4h-4zM140 108h4v4h-4zM180 108h4v4h-4zM76 112h4v4h-4zM120 112h4v4h-4zM176 112h4v4h-4zM68 116h4v4h-4zM76 120h8v4h-8zM188 120h4v4h-4zM212 120h4v4h-4zM80 124h4v4h-4zM100 124h4v4h-4zM176 124h4v4h-4zM216 124h4v4h-4zM196 128h4v4h-4zM224 128h8v4h-8zM140 132h4v4h-4zM164 132h4v4h-4zM200 132h4v4h-4zM164 136h8v4h-8zM128 172h4v4h-4z"/><path fill="#c3ff3c" d="M56 36h4v4h-4zM-4 40h4v4h-4zM20 40h4v4h-4zM64 40h4v4h-4zM72 40h4v4h-4zM116 40h4v4h-4zM36 44h4v4h-4zM92 44h4v4h-4zM112 44h4v4h-4zM84 52h4v4h-4zM96 52h4v4h-4zM156 100h4v4h-4zM168 100h4v4h-4zM136 104h4v4h-4zM148 104h4v4h-4zM180 104h4v4h-4zM112 108h4v4h-4zM144 108h4v4h-4zM172 108h4v4h-4zM128 112h4v4h-4zM188 112h4v4h-4zM120 116h4v4h-4zM132 116h8v4h-8zM152 116h8v4h-8zM164 116h4v4h-4zM188 116h4v4h-4zM72 120h4v4h-4zM132 120h8v4h-8zM180 120h4v4h-4zM120 124h4v4h-4zM140 124h4v4h-4zM148 124h4v4h-4zM160 124h4v4h-4zM180 124h4v4h-4zM224 124h4v4h-4zM128 128h4v4h-4zM156 128h8v4h-8zM180 128h4v4h-4zM216 128h4v4h-4z"/><path fill="#beff41" d="M60 36h4v4h-4zM68 36h4v4h-4zM104 36h4v4h-4zM116 36h4v4h-4zM132 36h4v4h-4zM140 36h4v4h-4zM24 40h8v4h-8zM44 40h4v4h-4zM52 40h4v4h-4zM112 40h4v4h-4zM56 44h4v4h-4zM88 44h4v4h-4zM100 44h8v4h-8zM76 48h4v4h-4zM104 52h4v4h-4zM160 92h4v4h-4zM120 100h4v4h-4zM124 104h4v4h-4zM156 104h4v4h-4zM172 104h8v4h-8zM184 104h4v4h-4zM108 108h4v4h-4zM120 108h4v4h-4zM148 108h4v4h-4zM168 108h4v4h-4zM100 112h4v4h-4zM152 112h4v4h-4zM124 116h4v4h-4zM180 116h8v4h-8zM192 116h4v4h-4zM192 120h4v4h-4zM152 124h4v4h-4zM168 124h4v4h-4zM192 124h4v4h-4zM140 128h8v4h-8zM168 128h4v4h-4zM152 132h4v4h-4zM212 132h4v4h-4zM180 136h4v4h-4zM116 148h4v4h-4z"/><path fill="#b3ff4c" d="M84 36h4v4h-4zM92 36h4v4h-4zM124 36h4v4h-4zM136 36h4v4h-4zM144 36h4v4h-4zM76 40h4v4h-4zM120 44h4v4h-4zM108 48h4v4h-4zM148 92h8v4h-8zM132 96h4v4h-4zM160 100h4v4h-4zM140 104h4v4h-4zM160 104h4v4h-4zM136 108h4v4h-4zM108 112h4v4h-4zM116 112h4v4h-4zM136 112h4v4h-4zM172 112h4v4h-4zM196 116h4v4h-4zM68 120h4v4h-4zM100 120h4v4h-4zM120 120h4v4h-4zM184 120h4v4h-4zM196 120h4v4h-4zM208 120h4v4h-4zM128 124h4v4h-4zM208 124h4v4h-4zM136 128h4v4h-4zM188 128h4v4h-4zM124 132h8v4h-8zM204 132h4v4h-4zM152 136h4v4h-4zM188 136h12v4h-12zM116 144h4v4h-4zM128 176h4v4h-4z"/><path fill="#b8ff47" d="M88 36h4v4h-4zM56 40h4v4h-4zM68 40h4v4h-4zM84 40h4v4h-4zM104 40h4v4h-4zM128 40h8v4h-8zM40 44h4v4h-4zM84 44h4v4h-4zM96 44h4v4h-4zM84 48h4v4h-4zM100 48h4v4h-4zM108 52h4v4h-4zM156 92h4v4h-4zM140 96h8v4h-8zM156 96h8v4h-8zM152 100h4v4h-4zM172 100h4v4h-4zM112 104h4v4h-4zM160 108h4v4h-4zM184 108h4v4h-4zM104 112h4v4h-4zM168 112h4v4h-4zM80 116h4v4h-4zM100 116h4v4h-4zM116 116h4v4h-4zM128 116h4v4h-4zM112 120h8v4h-8zM164 120h4v4h-4zM200 120h8v4h-8zM188 124h4v4h-4zM212 124h4v4h-4zM132 128h4v4h-4zM164 128h4v4h-4zM184 128h4v4h-4zM204 128h4v4h-4zM168 132h4v4h-4zM184 132h4v4h-4z"/><path fill="#daff25" d="M0 40h4v4h-4zM48 44h4v4h-4zM76 44h4v4h-4zM76 52h4v4h-4zM116 52h4v4h-4zM92 100h4v4h-4zM96 108h4v4h-4zM160 112h4v4h-4zM172 116h4v4h-4zM160 120h4v4h-4zM164 124h4v4h-4zM176 128h4v4h-4z"/><path fill="#c9ff36" d="M4 40h4v4h-4zM16 40h4v4h-4zM92 40h4v4h-4zM120 40h4v4h-4zM64 44h4v4h-4zM72 48h4v4h-4zM112 52h4v4h-4zM92 56h4v4h-4zM128 104h4v4h-4zM144 104h4v4h-4zM132 112h4v4h-4zM140 112h8v4h-8zM184 112h4v4h-4zM72 116h4v4h-4zM144 116h4v4h-4zM96 120h4v4h-4zM124 120h4v4h-4zM140 120h4v4h-4zM176 120h4v4h-4zM172 124h4v4h-4zM196 124h4v4h-4zM148 128h4v4h-4zM192 128h4v4h-4zM156 132h4v4h-4z"/><path fill="#e0ff1f" d="M8 40h4v4h-4zM52 44h4v4h-4zM36 48h12v4h-12zM68 48h4v4h-4zM120 52h4v4h-4zM88 56h4v4h-4zM108 56h4v4h-4zM72 96h4v4h-4zM88 100h4v4h-4zM164 112h4v4h-4zM136 124h4v4h-4zM172 128h4v4h-4zM120 148h4v4h-4z"/><path fill="#cfff30" d="M12 40h4v4h-4zM72 44h4v4h-4zM116 44h4v4h-4zM96 48h4v4h-4zM116 108h4v4h-4zM152 108h8v4h-8zM164 108h4v4h-4zM176 108h4v4h-4zM72 112h4v4h-4zM124 112h4v4h-4zM180 112h4v4h-4zM76 116h4v4h-4zM112 116h4v4h-4zM148 116h4v4h-4zM200 116h4v4h-4zM128 120h4v4h-4zM148 120h4v4h-4zM172 120h4v4h-4zM216 120h4v4h-4zM124 124h4v4h-4zM132 124h4v4h-4zM156 124h4v4h-4zM184 124h4v4h-4zM120 128h4v4h-4zM160 132h4v4h-4z"/><path fill="#d5ff2a" d="M60 40h4v4h-4zM96 40h4v4h-4zM44 44h4v4h-4zM60 44h4v4h-4zM68 44h4v4h-4zM108 44h4v4h-4zM64 48h4v4h-4zM80 48h4v4h-4zM112 48h12v4h-12zM80 52h4v4h-4zM88 52h4v4h-4zM108 100h4v4h-4zM152 104h4v4h-4zM148 112h4v4h-4zM156 112h4v4h-4zM140 116h4v4h-4zM156 120h4v4h-4zM168 120h4v4h-4z"/><path fill="#f7ff08" d="M-4 44h4v4h-4zM60 52h4v4h-4zM72 52h4v4h-4zM104 56h4v4h-4zM56 88h4v4h-4zM80 88h4v4h-4zM76 92h4v4h-4zM136 92h4v4h-4zM76 96h8v4h-8zM88 96h8v4h-8zM116 96h8v4h-8zM84 100h4v4h-4zM144 120h4v4h-4z"/><path fill="#ffc900" d="M0 44h4v4h-4zM28 52h4v4h-4zM16 64h4v4h-4zM60 64h4v4h-4zM96 64h4v4h-4zM100 68h4v4h-4zM112 72h4v4h-4zM120 72h4v4h-4zM32 76h4v4h-4zM76 76h4v4h-4zM132 76h4v4h-4zM68 80h4v4h-4zM76 80h4v4h-4zM140 80h4v4h-4zM132 84h4v4h-4z"/><path fill="#ffe000" d="M4 44h4v4h-4zM-4 52h4v4h-4zM48 52h4v4h-4zM68 56h4v4h-4zM92 60h4v4h-4zM108 60h4v4h-4zM116 60h4v4h-4zM8 64h4v4h-4zM84 64h4v4h-4zM104 64h4v4h-4zM112 64h8v4h-8zM108 68h4v4h-4zM116 72h4v4h-4zM72 76h4v4h-4zM96 76h4v4h-4zM108 76h4v4h-4zM96 80h4v4h-4zM104 80h4v4h-4zM132 80h4v4h-4zM40 84h4v4h-4zM116 84h4v4h-4zM52 88h4v4h-4zM72 88h8v4h-8zM92 88h4v4h-4zM124 88h4v4h-4zM148 88h4v4h-4zM156 88h4v4h-4z"/><path fill="#ffe500" d="M8 44h4v4h-4zM64 56h4v4h-4zM76 60h4v4h-4zM84 72h4v4h-4zM124 72h4v4h-4zM92 76h4v4h-4zM100 76h4v4h-4zM120 76h4v4h-4zM136 76h4v4h-4zM120 80h4v4h-4zM152 80h4v4h-4zM76 84h4v4h-4zM120 84h4v4h-4zM148 84h4v4h-4zM160 84h4v4h-4zM60 88h4v4h-4zM88 88h4v4h-4zM132 88h4v4h-4zM140 88h4v4h-4zM152 88h4v4h-4zM124 92h8v4h-8zM140 92h4v4h-4z"/><path fill="#fff700" d="M12 44h4v4h-4zM32 52h4v4h-4zM80 56h4v4h-4zM68 60h4v4h-4zM88 60h4v4h-4zM112 60h4v4h-4zM120 64h4v4h-4zM24 76h4v4h-4zM88 76h4v4h-4zM148 80h4v4h-4zM124 84h4v4h-4zM68 88h4v4h-4zM80 92h4v4h-4zM92 92h8v4h-8zM104 92h4v4h-4zM132 92h4v4h-4zM104 96h8v4h-8zM104 124h4v4h-4z"/><path fill="#ffeb00" d="M16 44h4v4h-4zM36 52h4v4h-4zM108 64h4v4h-4zM88 68h4v4h-4zM112 80h4v4h-4zM64 84h4v4h-4zM108 84h8v4h-8zM128 84h4v4h-4zM96 88h8v4h-8zM116 88h4v4h-4zM144 88h4v4h-4zM68 92h4v4h-4zM96 96h4v4h-4z"/><path fill="#ffda00" d="M20 44h4v4h-4zM40 52h4v4h-4zM96 60h4v4h-4zM12 64h4v4h-4zM68 64h16v4h-16zM8 68h4v4h-4zM64 68h4v4h-4zM84 68h4v4h-4zM104 68h4v4h-4zM112 68h4v4h-4zM24 72h4v4h-4zM72 72h4v4h-4zM100 72h4v4h-4zM28 76h4v4h-4zM84 76h4v4h-4zM124 76h4v4h-4zM144 76h4v4h-4zM92 80h4v4h-4zM124 80h4v4h-4zM136 80h4v4h-4zM84 84h12v4h-12zM144 84h4v4h-4zM156 84h4v4h-4zM48 88h4v4h-4zM64 88h4v4h-4zM116 92h4v4h-4z"/><path fill="#fcff03" d="M24 44h4v4h-4zM-4 48h4v4h-4zM68 52h4v4h-4zM72 56h4v4h-4zM104 60h4v4h-4zM120 92h4v4h-4zM124 152h4v4h-4zM128 156h4v4h-4z"/><path fill="#e5ff1a" d="M28 44h4v4h-4zM112 92h4v4h-4zM124 96h4v4h-4zM100 100h4v4h-4zM112 100h4v4h-4zM92 104h4v4h-4zM104 104h4v4h-4zM160 116h4v4h-4zM116 124h4v4h-4zM144 124h4v4h-4z"/><path fill="#ffc300" d="M0 48h4v4h-4zM8 48h4v4h-4zM16 48h4v4h-4zM4 56h4v4h-4zM56 56h8v4h-8zM8 60h4v4h-4zM16 68h8v4h-8zM80 76h4v4h-4zM140 76h4v4h-4zM80 84h4v4h-4zM136 84h4v4h-4z"/><path fill="#ff9600" d="M4 48h4v4h-4zM20 52h4v4h-4zM32 56h4v4h-4zM52 60h4v4h-4zM24 64h4v4h-4z"/><path fill="#ffa700" d="M12 48h4v4h-4zM40 56h4v4h-4zM24 68h4v4h-4zM36 76h4v4h-4zM108 136h4v4h-4z"/><path fill="#ffd500" d="M20 48h4v4h-4zM72 60h4v4h-4zM64 64h4v4h-4zM88 64h4v4h-4zM96 68h4v4h-4zM116 68h4v4h-4zM76 72h8v4h-8zM92 72h4v4h-4zM104 72h4v4h-4zM128 72h8v4h-8zM36 80h4v4h-4zM80 80h8v4h-8zM108 80h4v4h-4zM36 84h4v4h-4zM96 84h8v4h-8z"/><path fill="#fffc00" d="M24 48h4v4h-4zM52 48h4v4h-4zM76 56h4v4h-4zM120 88h4v4h-4zM56 92h4v4h-4zM64 92h4v4h-4zM144 92h4v4h-4zM84 96h4v4h-4zM100 104h4v4h-4zM112 140h4v4h-4z"/><path fill="#f1ff0e" d="M28 48h8v4h-8zM48 48h4v4h-4zM56 48h4v4h-4zM112 56h4v4h-4zM60 92h4v4h-4zM88 92h4v4h-4zM96 104h4v4h-4zM108 104h4v4h-4zM152 120h4v4h-4zM104 132h4v4h-4z"/><path fill="#ebff14" d="M60 48h4v4h-4zM64 52h4v4h-4zM84 56h4v4h-4zM96 56h8v4h-8zM108 92h4v4h-4zM112 96h4v4h-4zM128 96h4v4h-4zM104 100h4v4h-4zM88 104h4v4h-4zM100 108h8v4h-8zM168 116h4v4h-4z"/><path fill="#ffad00" d="M0 52h4v4h-4zM16 60h4v4h-4zM20 64h4v4h-4zM28 68h4v4h-4zM56 68h8v4h-8zM92 68h4v4h-4zM64 76h4v4h-4zM56 84h4v4h-4z"/><path fill="#ff8500" d="M4 52h4v4h-4zM12 52h4v4h-4zM12 56h4v4h-4zM20 60h4v4h-4zM48 60h4v4h-4zM60 76h4v4h-4zM48 80h4v4h-4zM60 80h4v4h-4zM52 84h4v4h-4z"/><path fill="#ff8000" d="M8 52h4v4h-4zM28 56h4v4h-4zM28 64h4v4h-4zM32 68h4v4h-4z"/><path fill="#ff9c00" d="M16 52h4v4h-4zM36 56h4v4h-4zM44 80h4v4h-4z"/><path fill="#ffa200" d="M24 52h4v4h-4zM8 56h4v4h-4zM44 56h4v4h-4zM56 64h4v4h-4zM36 72h4v4h-4zM40 76h4v4h-4z"/><path fill="#fff100" d="M44 52h4v4h-4zM80 60h8v4h-8zM100 60h4v4h-4zM92 64h4v4h-4zM88 80h4v4h-4zM68 84h4v4h-4zM104 84h4v4h-4zM140 84h4v4h-4zM152 84h4v4h-4zM84 88h4v4h-4zM108 88h8v4h-8zM128 88h4v4h-4zM136 88h4v4h-4zM72 92h4v4h-4zM84 92h4v4h-4zM100 92h4v4h-4zM100 96h4v4h-4zM96 100h4v4h-4z"/><path fill="#ffcf00" d="M52 52h8v4h-8zM16 72h4v4h-4zM88 72h4v4h-4zM96 72h4v4h-4zM108 72h4v4h-4zM20 76h4v4h-4zM104 76h4v4h-4zM116 76h4v4h-4zM100 80h4v4h-4zM116 80h4v4h-4zM128 80h4v4h-4zM156 80h4v4h-4zM44 84h4v4h-4zM60 84h4v4h-4zM72 84h4v4h-4zM44 88h4v4h-4z"/><path fill="#ffbe00" d="M0 56h4v4h-4zM4 60h4v4h-4zM60 60h8v4h-8zM12 68h4v4h-4zM120 68h4v4h-4zM28 72h4v4h-4zM68 76h4v4h-4zM128 76h4v4h-4zM72 80h4v4h-4zM144 80h4v4h-4zM48 84h4v4h-4z"/><path fill="#ff7400" d="M16 56h4v4h-4zM24 56h4v4h-4z"/><path fill="#ff5e00" d="M20 56h4v4h-4zM32 60h4v4h-4zM44 76h4v4h-4zM52 80h4v4h-4z"/><path fill="#ffb300" d="M48 56h4v4h-4zM32 72h4v4h-4zM60 72h8v4h-8zM112 76h4v4h-4zM32 80h4v4h-4zM104 128h4v4h-4z"/><path fill="#ffb800" d="M52 56h4v4h-4zM12 60h4v4h-4zM100 64h4v4h-4zM20 72h4v4h-4zM40 80h4v4h-4zM64 80h4v4h-4z"/><path fill="#ff6300" d="M24 60h4v4h-4zM40 60h4v4h-4z"/><path fill="#ff5200" d="M28 60h4v4h-4zM56 80h4v4h-4z"/><path fill="#ff5800" d="M36 60h4v4h-4z"/><path fill="#ff7a00" d="M44 60h4v4h-4zM52 64h4v4h-4zM56 72h4v4h-4z"/><path fill="#ff9100" d="M56 60h4v4h-4z"/><path fill="#ff4c00" d="M32 64h4v4h-4zM52 72h4v4h-4zM56 76h4v4h-4z"/><path fill="#ff2500" d="M36 64h4v4h-4zM44 68h4v4h-4zM48 72h4v4h-4z"/><path fill="#ff2a00" d="M40 64h4v4h-4zM40 68h4v4h-4zM40 72h4v4h-4z"/><path fill="#ff3c00" d="M44 64h4v4h-4zM52 68h4v4h-4zM44 72h4v4h-4z"/><path fill="#ff6900" d="M48 64h4v4h-4zM48 76h4v4h-4z"/><path fill="#ff4100" d="M36 68h4v4h-4zM52 76h4v4h-4z"/><path fill="#ff1a00" d="M48 68h4v4h-4z"/><path fill="#00ebff" d="M132 152h4v4h-4zM184 184h4v4h-4zM168 188h4v4h-4zM176 192h4v4h-4zM148 196h8v4h-8zM132 204h4v4h-4z"/><path fill="#00f1ff" d="M136 160h4v4h-4zM152 184h4v4h-4zM140 188h4v4h-4zM148 192h4v4h-4zM164 192h4v4h-4zM172 192h4v4h-4zM116 196h4v4h-4z"/><path fill="#00cfff" d="M136 164h4v4h-4zM132 188h4v4h-4zM132 196h4v4h-4zM144 196h4v4h-4zM132 200h4v4h-4zM140 200h4v4h-4zM148 200h4v4h-4zM136 204h4v4h-4zM132 208h4v4h-4zM148 212h4v4h-4zM144 216h4v4h-4z"/><path fill="#00fcff" d="M132 168h4v4h-4zM136 180h4v4h-4zM136 184h4v4h-4zM136 188h4v4h-4zM144 188h4v4h-4zM180 188h4v4h-4zM144 192h4v4h-4z"/><path fill="#00c9ff" d="M136 168h4v4h-4zM132 192h4v4h-4zM120 200h4v4h-4zM140 204h8v4h-8zM152 204h4v4h-4zM136 208h4v4h-4zM152 208h4v4h-4zM140 212h4v4h-4zM168 220h4v4h-4zM156 224h4v4h-4z"/><path fill="#00f6ff" d="M132 172h4v4h-4zM148 180h4v4h-4zM172 180h4v4h-4zM144 184h4v4h-4zM124 188h4v4h-4zM148 188h4v4h-4zM116 192h4v4h-4zM124 192h4v4h-4zM140 192h4v4h-4zM152 192h4v4h-4z"/><path fill="#00e0ff" d="M136 172h4v4h-4zM180 184h4v4h-4zM140 196h4v4h-4zM160 196h4v4h-4zM116 204h4v4h-4z"/><path fill="#00beff" d="M132 176h4v4h-4zM124 196h4v4h-4zM148 204h4v4h-4zM112 208h4v4h-4zM128 208h4v4h-4zM144 208h4v4h-4zM116 212h4v4h-4zM136 212h4v4h-4zM148 216h4v4h-4z"/><path fill="#03fffc" d="M136 176h4v4h-4zM156 180h4v4h-4zM124 184h4v4h-4zM156 184h4v4h-4zM164 188h4v4h-4z"/><path fill="#00b2ff" d="M132 180h4v4h-4zM128 204h4v4h-4zM128 216h4v4h-4zM136 216h4v4h-4zM156 220h4v4h-4zM120 224h4v4h-4zM148 224h4v4h-4zM156 228h4v4h-4z"/><path fill="#09fff6" d="M140 180h4v4h-4zM168 180h4v4h-4zM184 180h4v4h-4zM152 188h12v4h-12z"/><path fill="#00b8ff" d="M128 184h4v4h-4zM120 204h4v4h-4zM116 208h4v4h-4zM140 208h4v4h-4zM112 212h4v4h-4zM144 224h4v4h-4z"/><path fill="#0096ff" d="M132 184h4v4h-4zM124 204h4v4h-4zM112 224h4v4h-4zM120 228h4v4h-4zM160 228h4v4h-4zM124 232h4v4h-4zM144 232h4v4h-4z"/><path fill="#00adff" d="M128 188h4v4h-4zM112 216h4v4h-4zM140 216h4v4h-4zM116 220h4v4h-4zM136 220h4v4h-4zM152 220h4v4h-4zM116 224h4v4h-4zM136 224h4v4h-4zM128 228h4v4h-4zM132 232h4v4h-4z"/><path fill="#00d4ff" d="M176 188h4v4h-4zM120 196h4v4h-4zM136 196h4v4h-4zM168 196h4v4h-4zM116 200h4v4h-4zM136 200h4v4h-4zM152 200h4v4h-4z"/><path fill="#00e5ff" d="M120 192h4v4h-4zM136 192h4v4h-4zM156 192h8v4h-8zM156 196h4v4h-4zM160 200h8v4h-8z"/><path fill="#009cff" d="M128 192h4v4h-4zM128 196h4v4h-4zM124 200h4v4h-4zM132 212h4v4h-4zM152 216h4v4h-4zM164 216h4v4h-4zM124 224h4v4h-4zM132 224h4v4h-4zM164 224h4v4h-4zM124 228h4v4h-4zM144 228h4v4h-4zM128 232h4v4h-4zM140 232h4v4h-4z"/><path fill="#00daff" d="M168 192h4v4h-4zM164 196h4v4h-4zM144 200h4v4h-4zM156 200h4v4h-4z"/><path fill="#00a2ff" d="M128 200h4v4h-4zM160 216h4v4h-4zM112 220h4v4h-4zM132 220h4v4h-4zM128 224h4v4h-4zM140 224h4v4h-4zM152 224h4v4h-4zM160 224h4v4h-4zM168 224h4v4h-4zM136 232h4v4h-4z"/><path fill="#00c3ff" d="M112 204h4v4h-4zM120 208h4v4h-4zM144 220h8v4h-8z"/><path fill="#0074ff" d="M124 208h4v4h-4z"/><path fill="#00a7ff" d="M148 208h4v4h-4zM116 216h4v4h-4zM132 216h4v4h-4zM156 216h4v4h-4zM128 220h4v4h-4zM140 220h4v4h-4zM164 220h4v4h-4zM148 228h4v4h-4z"/><path fill="#0090ff" d="M120 212h4v4h-4zM128 212h4v4h-4zM124 220h4v4h-4zM116 228h4v4h-4zM140 228h4v4h-4zM152 228h4v4h-4z"/><path fill="#0080ff" d="M124 212h4v4h-4z"/><path fill="#008bff" d="M144 212h4v4h-4zM160 220h4v4h-4zM136 228h4v4h-4z"/><path fill="#0069ff" d="M120 216h8v4h-8z"/><path fill="#006eff" d="M120 220h4v4h-4z"/><path fill="#0085ff" d="M132 228h4v4h-4z"/></g></g>
<use href="#lk" fill="#fff"/>
<g filter="url(#cf-e)"><path fill-opacity="0.80" d="M54 0h144v6h-144z"/></g>
<rect x="26.5" y="-1" width="79.4" height="2.2" fill="#fff"/>
<use href="#fj" fill="none" stroke="#0a1030" stroke-opacity="0.8" stroke-width="3" stroke-dasharray="2.5 1 1.5 1"/>
<use href="#fj2" fill="none" stroke="#fff" stroke-opacity="0.9" stroke-width="1.6" stroke-dasharray="1.5 1 2.5 2"/>
<use href="#falk" fill="#0a1030" fill-opacity="0.8"/>
<use href="#am" fill="none" stroke="#1a1a1a" stroke-opacity="0.8" stroke-width="0.45"/>
<use href="#isl" fill="none" stroke="#1a1a1a" stroke-opacity="0.8" stroke-width="0.45"/>
<use href="#bd" fill="none" stroke="#1a1a1a" stroke-opacity="0.65" stroke-width="0.4"/>
</svg>
<rect x="43.8" y="22.5" width="238.2" height="239.5" fill="none" stroke="#5a5a5a" stroke-width="0.9"/>
<path d="M43.80 262 v-2.4 M43.80 22.5 v2.4" stroke="#555" stroke-width="0.8"/>
<path d="M96.73 262 v-2.4 M96.73 22.5 v2.4" stroke="#555" stroke-width="0.8"/>
<path d="M149.67 262 v-2.4 M149.67 22.5 v2.4" stroke="#555" stroke-width="0.8"/>
<path d="M202.60 262 v-2.4 M202.60 22.5 v2.4" stroke="#555" stroke-width="0.8"/>
<path d="M255.53 262 v-2.4 M255.53 22.5 v2.4" stroke="#555" stroke-width="0.8"/>
<path d="M43.8 262.00 h2.4 M282 262.00 h-2.4" stroke="#555" stroke-width="0.8"/>
<path d="M43.8 222.08 h2.4 M282 222.08 h-2.4" stroke="#555" stroke-width="0.8"/>
<path d="M43.8 182.17 h2.4 M282 182.17 h-2.4" stroke="#555" stroke-width="0.8"/>
<path d="M43.8 142.25 h2.4 M282 142.25 h-2.4" stroke="#555" stroke-width="0.8"/>
<path d="M43.8 102.33 h2.4 M282 102.33 h-2.4" stroke="#555" stroke-width="0.8"/>
<path d="M43.8 62.42 h2.4 M282 62.42 h-2.4" stroke="#555" stroke-width="0.8"/>
<path d="M43.8 22.50 h2.4 M282 22.50 h-2.4" stroke="#555" stroke-width="0.8"/>
<text x="42.7" y="267.60" font-size="12.3" text-anchor="end" fill="#262626">-60</text>
<text x="42.7" y="227.68" font-size="12.3" text-anchor="end" fill="#262626">-40</text>
<text x="42.7" y="187.77" font-size="12.3" text-anchor="end" fill="#262626">-20</text>
<text x="42.7" y="147.85" font-size="12.3" text-anchor="end" fill="#262626">0</text>
<text x="42.7" y="107.93" font-size="12.3" text-anchor="end" fill="#262626">20</text>
<text x="42.7" y="68.02" font-size="12.3" text-anchor="end" fill="#262626">40</text>
<text x="42.7" y="28.10" font-size="12.3" text-anchor="end" fill="#262626">60</text>
<text x="41.60" y="275.2" font-size="11.9" text-anchor="middle" fill="#262626">-120</text>
<text x="94.53" y="275.2" font-size="11.9" text-anchor="middle" fill="#262626">-100</text>
<text x="147.47" y="275.2" font-size="11.9" text-anchor="middle" fill="#262626">-80</text>
<text x="200.40" y="275.2" font-size="11.9" text-anchor="middle" fill="#262626">-60</text>
<text x="253.33" y="275.2" font-size="11.9" text-anchor="middle" fill="#262626">-40</text>
<text x="161" y="288.8" font-size="12" text-anchor="middle" fill="#262626">Longitude (°)</text>
<text transform="translate(20.8,144) rotate(-90)" font-size="12" text-anchor="middle" fill="#262626">Latitude (°)</text>
<rect x="287" y="23" width="6.2" height="239" fill="url(#jet)"/>
<text x="293.1" y="267.60" font-size="12.2" fill="#262626">250</text>
<text x="293.1" y="241.04" font-size="12.2" fill="#262626">260</text>
<text x="293.1" y="214.49" font-size="12.2" fill="#262626">270</text>
<text x="293.1" y="187.93" font-size="12.2" fill="#262626">280</text>
<text x="293.1" y="161.38" font-size="12.2" fill="#262626">290</text>
<text x="293.1" y="134.82" font-size="12.2" fill="#262626">300</text>
<text x="293.1" y="108.27" font-size="12.2" fill="#262626">310</text>
<text x="293.1" y="81.71" font-size="12.2" fill="#262626">320</text>
<text x="293.1" y="55.16" font-size="12.2" fill="#262626">330</text>
<text x="293.1" y="28.60" font-size="12.2" fill="#262626">340</text>
<path d="M287 235.44h1.6M293.2 235.44h-1.6M287 208.89h1.6M293.2 208.89h-1.6M287 182.33h1.6M293.2 182.33h-1.6M287 155.78h1.6M293.2 155.78h-1.6M287 129.22h1.6M293.2 129.22h-1.6M287 102.67h1.6M293.2 102.67h-1.6M287 76.11h1.6M293.2 76.11h-1.6M287 49.56h1.6M293.2 49.56h-1.6" stroke="#333" stroke-opacity="0.6" stroke-width="0.7"/>
<g fill="#000" stroke="#000" stroke-width="0.25"><text transform="translate(4.51,288) scale(0.965,1)" font-size="24.5">e</text>
<text transform="translate(18.20,287.6) scale(0.8,1)" font-size="23.5">)</text></g>
</g>
<g transform="translate(670,300)">
<rect x="1" y="1" width="327" height="293" fill="#cfcfcf" stroke="#3a3a3a" stroke-width="2"/>
<text x="162.5" y="13.6" font-size="12" text-anchor="middle" fill="#262626">23:45 UTC</text>
<svg x="43.8" y="22.5" width="238.2" height="239.5" viewBox="0 0 238.2 239.5" overflow="hidden">
<filter id="cf-f" x="0" y="0" width="238.2" height="239.5" filterUnits="userSpaceOnUse" color-interpolation-filters="sRGB"><feGaussianBlur in="SourceAlpha" stdDeviation="2.6" result="d"/><feTurbulence type="fractalNoise" baseFrequency="0.06 0.09" numOctaves="2" seed="714" result="nl"/><feTurbulence type="fractalNoise" baseFrequency="0.3 0.45" numOctaves="3" seed="715" result="nh"/><feComposite in="d" in2="nl" operator="arithmetic" k1="0" k2="0.5" k3="0.6" k4="0" result="s1"/><feComposite in="s1" in2="nh" operator="arithmetic" k1="0" k2="1" k3="0.85" k4="-0.95" result="s"/><feComponentTransfer in="s" result="t"><feFuncA type="linear" slope="20" intercept="0"/></feComponentTransfer><feComponentTransfer in="d" result="dm"><feFuncA type="linear" slope="6" intercept="-0.3"/></feComponentTransfer><feComposite in="t" in2="dm" operator="in" result="t2"/><feFlood flood-color="#fff"/><feComposite operator="in" in2="t2"/></filter>
<g filter="url(#bo)"><path fill="#0080ff" d="M-7 -7h63v7h-63zM-7 0h63v7h-63zM-7 7h63v7h-63zM217 7h7v7h-7zM70 14h7v7h-7zM112 14h21v7h-21zM203 14h7v7h-7zM161 21h7v7h-7zM-7 238h154v7h-154zM-7 245h154v7h-154z"/><path fill="#007aff" d="M56 -7h7v7h-7zM56 0h7v7h-7zM56 7h7v7h-7zM210 7h7v7h-7zM77 14h35v7h-35zM133 14h14v7h-14zM168 21h21v7h-21z"/><path fill="#0074ff" d="M63 -7h7v7h-7zM63 0h7v7h-7zM224 0h28v7h-28zM63 7h7v7h-7z"/><path fill="#006eff" d="M70 -7h7v7h-7zM140 -7h28v7h-28zM70 0h7v7h-7zM133 0h28v7h-28zM210 0h14v7h-14zM70 7h7v7h-7zM112 7h35v7h-35zM203 7h7v7h-7zM147 14h7v7h-7zM196 14h7v7h-7z"/><path fill="#0069ff" d="M77 -7h63v7h-63zM168 -7h14v7h-14zM196 -7h56v7h-56zM77 0h56v7h-56zM161 0h7v7h-7zM203 0h7v7h-7zM77 7h35v7h-35zM147 7h7v7h-7z"/><path fill="#0063ff" d="M182 -7h14v7h-14zM168 0h7v7h-7zM189 0h14v7h-14zM154 7h7v7h-7zM196 7h7v7h-7zM154 14h7v7h-7z"/><path fill="#005eff" d="M175 0h14v7h-14zM189 14h7v7h-7z"/><path fill="#0058ff" d="M161 7h7v7h-7zM189 7h7v7h-7zM161 14h7v7h-7z"/><path fill="#0052ff" d="M168 7h7v7h-7zM168 14h7v7h-7zM182 14h7v7h-7z"/><path fill="#004dff" d="M175 7h14v7h-14zM175 14h7v7h-7z"/><path fill="#0085ff" d="M224 7h7v7h-7zM63 14h7v7h-7zM147 238h28v7h-28zM147 245h28v7h-28z"/><path fill="#008bff" d="M231 7h21v7h-21zM56 14h7v7h-7zM210 14h7v7h-7zM154 21h7v7h-7zM189 21h7v7h-7zM175 238h77v7h-77zM175 245h77v7h-77z"/><path fill="#0090ff" d="M-7 14h63v7h-63zM147 21h7v7h-7zM-7 231h154v7h-154z"/><path fill="#0096ff" d="M217 14h7v7h-7zM196 21h7v7h-7zM147 231h28v7h-28z"/><path fill="#009cff" d="M224 14h7v7h-7zM77 21h7v7h-7zM140 21h7v7h-7zM175 231h77v7h-77z"/><path fill="#00a2ff" d="M231 14h21v7h-21zM70 21h7v7h-7zM84 21h28v7h-28zM133 21h7v7h-7z"/><path fill="#00adff" d="M-7 21h63v7h-63zM133 224h28v7h-28z"/><path fill="#00a7ff" d="M56 21h14v7h-14zM112 21h21v7h-21zM203 21h7v7h-7zM-7 224h140v7h-140z"/><path fill="#00b2ff" d="M210 21h7v7h-7zM161 224h91v7h-91z"/><path fill="#00beff" d="M217 21h7v7h-7zM147 28h7v7h-7zM161 28h21v7h-21z"/><path fill="#00c3ff" d="M224 21h7v7h-7zM140 28h7v7h-7zM182 28h7v7h-7zM-7 217h147v7h-147z"/><path fill="#00c9ff" d="M231 21h21v7h-21zM-7 28h84v7h-84zM133 28h7v7h-7zM140 217h112v7h-112z"/><path fill="#00cfff" d="M77 28h14v7h-14zM126 28h7v7h-7zM189 28h7v7h-7z"/><path fill="#00d4ff" d="M91 28h14v7h-14zM119 28h7v7h-7zM196 28h7v7h-7z"/><path fill="#00daff" d="M105 28h14v7h-14zM84 210h63v7h-63z"/><path fill="#00b8ff" d="M154 28h7v7h-7z"/><path fill="#00e0ff" d="M203 28h7v7h-7zM-7 210h91v7h-91zM147 210h105v7h-105z"/><path fill="#00e5ff" d="M210 28h7v7h-7z"/><path fill="#00ebff" d="M217 28h7v7h-7zM-7 35h70v7h-70z"/><path fill="#00f1ff" d="M224 28h7v7h-7zM63 35h14v7h-14zM140 35h14v7h-14zM98 203h21v7h-21z"/><path fill="#00f6ff" d="M231 28h7v7h-7zM77 35h7v7h-7zM133 35h7v7h-7zM154 35h7v7h-7zM70 203h28v7h-28zM119 203h28v7h-28zM168 203h84v7h-84z"/><path fill="#00fcff" d="M238 28h14v7h-14zM84 35h7v7h-7zM161 35h7v7h-7zM-7 42h42v7h-42zM-7 203h77v7h-77zM147 203h21v7h-21z"/><path fill="#03fffc" d="M91 35h7v7h-7zM126 35h7v7h-7zM168 35h7v7h-7zM35 42h21v7h-21z"/><path fill="#09fff6" d="M98 35h28v7h-28zM175 35h14v7h-14zM224 196h28v7h-28z"/><path fill="#0efff1" d="M189 35h14v7h-14zM56 42h7v7h-7zM91 196h21v7h-21zM203 196h21v7h-21z"/><path fill="#14ffeb" d="M203 35h14v7h-14zM-7 49h35v7h-35zM70 196h21v7h-21zM112 196h7v7h-7zM182 196h21v7h-21z"/><path fill="#1affe5" d="M217 35h7v7h-7zM63 42h7v7h-7zM28 49h7v7h-7zM-7 196h77v7h-77zM119 196h7v7h-7zM168 196h14v7h-14z"/><path fill="#1fffe0" d="M224 35h14v7h-14zM70 42h7v7h-7zM35 49h7v7h-7zM126 196h42v7h-42z"/><path fill="#25ffda" d="M238 35h14v7h-14zM42 49h7v7h-7z"/><path fill="#2bffd4" d="M77 42h7v7h-7zM49 49h7v7h-7zM-7 56h14v7h-14zM91 189h21v7h-21zM217 189h35v7h-35z"/><path fill="#30ffcf" d="M84 42h7v7h-7zM7 56h14v7h-14zM63 189h28v7h-28zM112 189h14v7h-14zM189 189h28v7h-28z"/><path fill="#36ffc9" d="M91 42h7v7h-7zM56 49h7v7h-7zM21 56h7v7h-7zM-7 189h70v7h-70zM126 189h14v7h-14zM175 189h14v7h-14z"/><path fill="#3cffc3" d="M98 42h7v7h-7zM28 56h7v7h-7zM140 189h14v7h-14zM161 189h14v7h-14z"/><path fill="#41ffbe" d="M105 42h14v7h-14zM91 182h21v7h-21zM154 189h7v7h-7z"/><path fill="#47ffb8" d="M119 42h112v7h-112zM63 49h7v7h-7zM35 56h7v7h-7zM70 182h21v7h-21zM112 182h7v7h-7zM224 182h28v7h-28z"/><path fill="#4dffb2" d="M231 42h21v7h-21zM-7 182h77v7h-77zM119 182h14v7h-14zM196 182h28v7h-28z"/><path fill="#58ffa7" d="M70 49h7v7h-7zM7 63h7v7h-7zM77 175h42v7h-42zM147 182h28v7h-28z"/><path fill="#63ff9c" d="M77 49h7v7h-7zM21 63h7v7h-7zM91 168h21v7h-21zM-7 175h56v7h-56zM126 175h7v7h-7zM217 175h35v7h-35z"/><path fill="#69ff96" d="M84 49h7v7h-7zM28 63h7v7h-7zM70 168h21v7h-21zM112 168h7v7h-7zM133 175h14v7h-14zM189 175h28v7h-28z"/><path fill="#6eff90" d="M91 49h14v7h-14zM210 49h42v7h-42zM56 56h7v7h-7zM35 63h7v7h-7zM91 161h21v7h-21zM-7 168h77v7h-77zM119 168h7v7h-7zM147 175h42v7h-42z"/><path fill="#74ff8b" d="M105 49h14v7h-14zM182 49h28v7h-28zM77 161h14v7h-14zM112 161h7v7h-7zM126 168h7v7h-7z"/><path fill="#7aff85" d="M119 49h63v7h-63zM42 63h7v7h-7zM-7 70h14v7h-14zM91 154h21v7h-21zM56 161h21v7h-21zM119 161h7v7h-7zM133 168h14v7h-14zM224 168h28v7h-28z"/><path fill="#52ffad" d="M42 56h7v7h-7zM-7 63h14v7h-14zM133 182h14v7h-14zM175 182h21v7h-21z"/><path fill="#5effa2" d="M49 56h7v7h-7zM14 63h7v7h-7zM49 175h28v7h-28zM119 175h7v7h-7z"/><path fill="#85ff7a" d="M63 56h7v7h-7zM217 56h35v7h-35zM14 70h7v7h-7zM84 147h14v7h-14zM42 154h35v7h-35zM126 161h14v7h-14zM154 168h42v7h-42z"/><path fill="#96ff69" d="M70 56h7v7h-7zM105 56h14v7h-14zM182 63h70v7h-70zM42 70h7v7h-7zM98 133h14v7h-14zM77 140h14v7h-14zM-7 147h42v7h-42zM126 147h7v7h-7zM133 154h14v7h-14zM161 161h28v7h-28z"/><path fill="#a2ff5e" d="M77 56h14v7h-14zM119 63h21v7h-21zM175 70h77v7h-77zM0 77h14v7h-14zM91 119h21v7h-21zM98 126h14v7h-14zM84 133h7v7h-7zM119 133h7v7h-7zM42 140h21v7h-21zM126 140h7v7h-7zM140 147h7v7h-7zM154 154h35v7h-35z"/><path fill="#9cff63" d="M91 56h14v7h-14zM63 63h7v7h-7zM140 63h42v7h-42zM49 70h7v7h-7zM-7 77h7v7h-7zM91 133h7v7h-7zM112 133h7v7h-7zM63 140h14v7h-14zM119 140h7v7h-7zM133 147h7v7h-7zM147 154h7v7h-7zM189 154h63v7h-63z"/><path fill="#91ff6e" d="M119 56h70v7h-70zM56 63h7v7h-7zM28 70h14v7h-14zM91 140h7v7h-7zM112 140h7v7h-7zM35 147h28v7h-28zM119 147h7v7h-7zM126 154h7v7h-7zM147 161h14v7h-14zM189 161h28v7h-28z"/><path fill="#8bff74" d="M189 56h28v7h-28zM21 70h7v7h-7zM98 140h14v7h-14zM63 147h21v7h-21zM112 147h7v7h-7zM-7 154h49v7h-49zM119 154h7v7h-7zM140 161h7v7h-7zM217 161h35v7h-35z"/><path fill="#80ff80" d="M49 63h7v7h-7zM7 70h7v7h-7zM98 147h14v7h-14zM77 154h14v7h-14zM112 154h7v7h-7zM-7 161h63v7h-63zM147 168h7v7h-7zM196 168h28v7h-28z"/><path fill="#adff52" d="M70 63h7v7h-7zM98 63h14v7h-14zM63 70h7v7h-7zM133 70h14v7h-14zM28 77h14v7h-14zM175 77h77v7h-77zM63 119h14v7h-14zM84 126h7v7h-7zM119 126h7v7h-7zM56 133h14v7h-14zM133 133h7v7h-7zM140 140h7v7h-7zM154 147h98v7h-98z"/><path fill="#b8ff47" d="M77 63h7v7h-7zM70 70h7v7h-7zM98 70h21v7h-21zM56 77h14v7h-14zM140 77h14v7h-14zM-7 84h7v7h-7zM70 112h21v7h-21zM112 112h7v7h-7zM126 119h7v7h-7zM-7 126h70v7h-70zM133 126h7v7h-7zM147 133h7v7h-7zM154 140h98v7h-98z"/><path fill="#b3ff4c" d="M84 63h14v7h-14zM119 70h14v7h-14zM42 77h14v7h-14zM154 77h21v7h-21zM91 112h21v7h-21zM-7 119h70v7h-70zM119 119h7v7h-7zM63 126h21v7h-21zM126 126h7v7h-7zM-7 133h63v7h-63zM140 133h7v7h-7zM147 140h7v7h-7z"/><path fill="#a7ff58" d="M112 63h7v7h-7zM56 70h7v7h-7zM147 70h28v7h-28zM14 77h14v7h-14zM77 119h14v7h-14zM112 119h7v7h-7zM91 126h7v7h-7zM112 126h7v7h-7zM70 133h14v7h-14zM126 133h7v7h-7zM-7 140h49v7h-49zM133 140h7v7h-7zM147 147h7v7h-7z"/><path fill="#beff41" d="M77 70h21v7h-21zM70 77h7v7h-7zM133 77h7v7h-7zM0 84h14v7h-14zM-7 112h77v7h-77zM119 112h7v7h-7zM133 119h7v7h-7zM140 126h7v7h-7zM154 133h7v7h-7z"/><path fill="#c3ff3c" d="M77 77h56v7h-56zM14 84h21v7h-21zM168 84h84v7h-84zM126 112h7v7h-7zM140 119h14v7h-14zM147 126h7v7h-7zM161 133h91v7h-91z"/><path fill="#c9ff36" d="M35 84h35v7h-35zM154 84h14v7h-14zM133 112h14v7h-14zM154 119h98v7h-98zM154 126h98v7h-98z"/><path fill="#cfff30" d="M70 84h28v7h-28zM140 84h14v7h-14zM-7 91h21v7h-21zM168 91h84v7h-84zM-7 105h98v7h-98zM147 112h105v7h-105z"/><path fill="#d5ff2a" d="M98 84h42v7h-42zM14 91h63v7h-63zM154 91h14v7h-14zM168 98h84v7h-84zM91 105h56v7h-56z"/><path fill="#daff25" d="M77 91h21v7h-21zM140 91h14v7h-14zM-7 98h105v7h-105zM147 98h21v7h-21zM147 105h105v7h-105z"/><path fill="#e0ff1f" d="M98 91h42v7h-42zM98 98h49v7h-49z"/></g>
<g filter="url(#cf-f)"><path fill-opacity="0.60" d="M54 0h144v6h-144zM192 6h48v6h-48zM192 12h48v6h-48zM192 18h48v6h-48zM198 24h42v6h-42zM216 30h24v6h-24z"/><path fill-opacity="0.05" d="M216 48h30v6h-30zM210 54h6v6h-6zM204 66h6v6h-6zM204 72h6v6h-6zM210 78h6v6h-6zM216 84h6v6h-6zM234 84h12v6h-12z"/><path fill-opacity="0.10" d="M216 54h6v6h-6zM240 54h6v6h-6zM210 60h6v6h-6zM210 66h6v6h-6zM210 72h6v6h-6zM216 78h6v6h-6zM240 78h6v6h-6zM222 84h12v6h-12z"/><path fill-opacity="0.15" d="M222 54h18v6h-18zM240 60h6v6h-6zM240 72h6v6h-6z"/><path fill-opacity="0.90" d="M60 60h6v6h-6zM72 60h6v6h-6zM72 72h6v6h-6zM30 78h24v6h-24zM66 78h6v6h-6zM30 84h24v6h-24zM0 192h12v6h-12zM0 198h60v6h-60zM0 204h90v6h-90zM0 210h108v6h-108zM0 216h114v6h-114zM0 222h114v6h-114zM0 228h120v6h-120zM0 234h120v6h-120z"/><path fill-opacity="0.95" d="M66 60h6v6h-6zM60 66h6v6h-6zM72 66h6v6h-6zM60 72h6v6h-6z"/><path fill-opacity="0.20" d="M216 60h6v6h-6zM240 66h6v6h-6zM216 72h6v6h-6zM222 78h18v6h-18z"/><path fill-opacity="0.30" d="M222 60h12v6h-12zM222 72h6v6h-6zM234 72h6v6h-6z"/><path fill-opacity="0.25" d="M234 60h6v6h-6zM216 66h6v6h-6z"/><path fill-opacity="1.00" d="M66 66h6v6h-6zM66 72h6v6h-6z"/><path fill-opacity="0.35" d="M222 66h6v6h-6zM234 66h6v6h-6zM228 72h6v6h-6z"/><path fill-opacity="0.40" d="M228 66h6v6h-6zM24 120h36v6h-36zM24 126h36v6h-36zM24 132h36v6h-36z"/><path fill-opacity="0.85" d="M72 78h6v6h-6z"/><path fill-opacity="0.45" d="M30 90h30v6h-30zM30 96h60v6h-60zM30 102h60v6h-60zM30 108h60v6h-60zM30 114h60v6h-60zM168 180h72v6h-72zM168 186h72v6h-72zM168 192h72v6h-72zM162 198h78v6h-78zM162 204h78v6h-78zM168 210h72v6h-72zM168 216h72v6h-72zM168 222h72v6h-72zM168 228h72v6h-72z"/><path fill-opacity="0.50" d="M210 96h30v6h-30zM216 102h24v6h-24zM216 108h24v6h-24zM216 114h24v6h-24zM234 120h6v6h-6z"/></g>
<g clip-path="url(#landclip)"><g filter="url(#bl)"><path fill="#00e0ff" d="M-4 -4h4v4h-4zM8 -4h4v4h-4zM28 -4h4v4h-4zM40 -4h4v4h-4zM152 -4h4v4h-4zM8 0h4v4h-4zM20 0h4v4h-4zM40 0h4v4h-4zM64 0h4v4h-4zM76 0h12v4h-12zM0 4h4v4h-4zM24 4h4v4h-4zM44 4h8v4h-8zM68 4h4v4h-4zM100 4h4v4h-4zM164 4h4v4h-4zM20 8h4v4h-4zM72 8h4v4h-4zM84 8h4v4h-4zM172 12h4v4h-4zM8 16h4v4h-4zM40 16h4v4h-4zM76 16h4v4h-4zM12 20h4v4h-4zM76 20h4v4h-4zM88 20h4v4h-4zM120 20h4v4h-4zM156 20h4v4h-4zM88 24h4v4h-4zM124 24h4v4h-4zM160 24h4v4h-4zM120 28h4v4h-4zM104 116h4v4h-4zM212 160h4v4h-4zM128 164h4v4h-4zM144 168h4v4h-4zM160 168h4v4h-4zM124 172h4v4h-4z"/><path fill="#00e5ff" d="M0 -4h4v4h-4zM72 0h4v4h-4zM20 4h4v4h-4zM56 4h4v4h-4zM12 8h4v4h-4zM48 8h4v4h-4zM168 8h8v4h-8zM12 12h4v4h-4zM104 12h4v4h-4zM168 12h4v4h-4zM52 16h8v4h-8zM24 20h8v4h-8zM64 20h4v4h-4zM84 20h4v4h-4zM108 20h8v4h-8zM120 24h4v4h-4zM132 24h4v4h-4zM124 160h4v4h-4zM172 164h4v4h-4zM128 168h4v4h-4zM156 168h4v4h-4zM200 168h8v4h-8z"/><path fill="#00daff" d="M4 -4h4v4h-4zM16 -4h4v4h-4zM48 -4h4v4h-4zM16 0h4v4h-4zM52 4h4v4h-4zM64 4h4v4h-4zM96 4h4v4h-4zM112 4h4v4h-4zM36 8h4v4h-4zM68 12h4v4h-4zM92 16h4v4h-4zM164 16h4v4h-4zM144 20h8v4h-8zM180 20h4v4h-4zM112 124h4v4h-4zM112 140h4v4h-4zM116 144h4v4h-4zM168 160h4v4h-4zM180 168h8v4h-8zM176 172h4v4h-4zM120 180h4v4h-4z"/><path fill="#00c3ff" d="M12 -4h4v4h-4zM32 -4h4v4h-4zM112 -4h4v4h-4zM120 -4h4v4h-4zM144 -4h8v4h-8zM56 0h4v4h-4zM120 0h4v4h-4zM112 8h4v4h-4zM156 12h4v4h-4zM116 16h4v4h-4zM148 16h4v4h-4zM144 172h4v4h-4zM164 172h4v4h-4zM140 176h4v4h-4zM184 176h4v4h-4z"/><path fill="#00f1ff" d="M20 -4h4v4h-4zM52 -4h4v4h-4zM60 -4h8v4h-8zM72 -4h4v4h-4zM60 0h4v4h-4zM88 0h4v4h-4zM8 4h4v4h-4zM32 4h4v4h-4zM80 4h4v4h-4zM-4 8h4v4h-4zM4 8h8v4h-8zM44 8h4v4h-4zM68 8h4v4h-4zM88 8h4v4h-4zM164 8h4v4h-4zM28 12h4v4h-4zM44 12h4v4h-4zM92 12h4v4h-4zM-4 16h4v4h-4zM28 16h4v4h-4zM36 16h4v4h-4zM80 16h4v4h-4zM96 16h4v4h-4zM168 16h4v4h-4zM-4 20h8v4h-8zM20 20h4v4h-4zM32 20h4v4h-4zM48 20h4v4h-4zM72 20h4v4h-4zM160 20h8v4h-8zM0 24h4v4h-4zM104 24h4v4h-4zM116 24h4v4h-4zM144 24h8v4h-8zM156 24h4v4h-4zM176 24h4v4h-4zM148 32h4v4h-4zM108 132h4v4h-4zM116 132h4v4h-4zM120 148h4v4h-4zM164 160h4v4h-4zM184 160h4v4h-4zM188 164h8v4h-8zM200 164h4v4h-4zM148 168h4v4h-4zM168 168h4v4h-4zM176 168h4v4h-4zM196 168h4v4h-4z"/><path fill="#00f6ff" d="M24 -4h4v4h-4zM28 0h8v4h-8zM28 4h4v4h-4zM36 4h8v4h-8zM60 4h4v4h-4zM16 8h4v4h-4zM40 12h4v4h-4zM64 12h4v4h-4zM72 12h4v4h-4zM84 12h8v4h-8zM24 16h4v4h-4zM44 16h8v4h-8zM64 16h4v4h-4zM60 20h4v4h-4zM68 20h4v4h-4zM104 20h4v4h-4zM-4 24h4v4h-4zM64 24h4v4h-4zM92 24h4v4h-4zM108 24h4v4h-4zM44 28h4v4h-4zM72 28h4v4h-4zM124 28h4v4h-4zM72 32h4v4h-4zM144 32h4v4h-4zM112 120h4v4h-4zM148 156h4v4h-4zM184 156h4v4h-4zM148 160h4v4h-4zM156 160h4v4h-4zM172 160h4v4h-4zM188 160h4v4h-4zM144 164h4v4h-4zM152 164h8v4h-8zM176 164h4v4h-4zM204 164h4v4h-4zM124 168h4v4h-4zM188 168h4v4h-4z"/><path fill="#00fcff" d="M36 -4h4v4h-4zM48 0h8v4h-8zM40 8h4v4h-4zM76 8h4v4h-4zM100 8h4v4h-4zM4 12h4v4h-4zM36 12h4v4h-4zM76 12h4v4h-4zM96 12h4v4h-4zM0 16h4v4h-4zM52 20h4v4h-4zM80 20h4v4h-4zM28 24h8v4h-8zM56 24h4v4h-4zM100 24h4v4h-4zM152 24h4v4h-4zM164 24h4v4h-4zM48 28h4v4h-4zM92 28h8v4h-8zM140 28h4v4h-4zM148 28h4v4h-4zM160 28h4v4h-4zM168 28h4v4h-4zM176 28h4v4h-4zM16 36h4v4h-4zM36 36h4v4h-4zM136 148h4v4h-4zM160 156h4v4h-4zM176 156h4v4h-4zM188 156h4v4h-4zM200 156h4v4h-4zM128 160h4v4h-4zM196 160h8v4h-8zM124 164h4v4h-4zM160 164h4v4h-4zM168 164h4v4h-4zM180 164h4v4h-4zM196 164h4v4h-4zM192 168h4v4h-4z"/><path fill="#03fffc" d="M44 -4h4v4h-4zM104 -4h4v4h-4zM76 4h4v4h-4zM28 8h4v4h-4zM64 8h4v4h-4zM80 8h4v4h-4zM80 12h4v4h-4zM4 16h4v4h-4zM12 16h4v4h-4zM20 16h4v4h-4zM68 16h4v4h-4zM172 16h4v4h-4zM56 20h4v4h-4zM168 20h4v4h-4zM12 24h4v4h-4zM40 24h8v4h-8zM76 24h4v4h-4zM96 24h4v4h-4zM40 28h4v4h-4zM112 28h4v4h-4zM136 28h4v4h-4zM144 28h4v4h-4zM-4 32h4v4h-4zM56 32h4v4h-4zM92 32h4v4h-4zM160 32h4v4h-4zM136 36h4v4h-4zM128 144h4v4h-4zM120 152h4v4h-4zM144 156h4v4h-4zM212 156h4v4h-4zM152 160h4v4h-4zM176 160h8v4h-8zM204 160h4v4h-4zM208 164h4v4h-4z"/><path fill="#00d4ff" d="M56 -4h4v4h-4zM108 -4h4v4h-4zM116 -4h4v4h-4zM-4 0h4v4h-4zM104 0h4v4h-4zM112 0h4v4h-4zM72 4h4v4h-4zM88 4h8v4h-8zM0 8h4v4h-4zM60 8h4v4h-4zM92 8h4v4h-4zM108 8h4v4h-4zM112 12h4v4h-4zM108 16h8v4h-8zM140 20h4v4h-4zM152 20h4v4h-4zM176 20h4v4h-4zM128 24h4v4h-4zM140 156h4v4h-4zM152 172h4v4h-4zM172 172h4v4h-4zM196 172h4v4h-4z"/><path fill="#00cfff" d="M68 -4h4v4h-4zM4 0h4v4h-4zM44 0h4v4h-4zM108 0h4v4h-4zM116 0h4v4h-4zM108 4h4v4h-4zM168 4h4v4h-4zM52 8h8v4h-8zM-4 12h4v4h-4zM108 12h4v4h-4zM160 12h4v4h-4zM120 16h4v4h-4zM152 16h8v4h-8zM124 20h4v4h-4zM136 24h4v4h-4zM108 128h4v4h-4zM164 168h4v4h-4zM208 168h4v4h-4zM148 172h4v4h-4zM184 172h8v4h-8zM120 176h4v4h-4z"/><path fill="#00adff" d="M124 -4h8v4h-8zM152 4h8v4h-8zM120 8h4v4h-4zM124 12h4v4h-4zM108 124h4v4h-4zM116 136h4v4h-4zM152 176h4v4h-4zM188 176h8v4h-8zM168 180h4v4h-4zM140 184h4v4h-4zM176 188h4v4h-4z"/><path fill="#00beff" d="M132 -4h4v4h-4zM128 0h4v4h-4zM156 0h4v4h-4zM116 4h4v4h-4zM116 8h4v4h-4zM160 8h4v4h-4zM116 12h8v4h-8zM152 12h4v4h-4zM160 16h4v4h-4zM128 20h4v4h-4zM136 20h4v4h-4zM108 116h4v4h-4zM132 148h4v4h-4zM140 160h4v4h-4zM152 168h4v4h-4zM128 172h4v4h-4zM168 172h4v4h-4zM168 176h4v4h-4zM144 180h4v4h-4zM188 180h4v4h-4z"/><path fill="#00a2ff" d="M136 -4h4v4h-4zM140 0h4v4h-4zM124 8h8v4h-8zM144 8h4v4h-4zM132 16h4v4h-4zM108 120h4v4h-4zM120 184h4v4h-4zM172 184h8v4h-8zM184 184h4v4h-4zM120 188h4v4h-4zM180 188h4v4h-4z"/><path fill="#00c9ff" d="M140 -4h4v4h-4zM104 4h4v4h-4zM160 4h4v4h-4zM104 8h4v4h-4zM164 12h4v4h-4zM116 20h4v4h-4zM120 140h4v4h-4zM128 152h4v4h-4zM140 172h4v4h-4zM160 172h4v4h-4zM180 172h4v4h-4zM192 172h4v4h-4zM144 176h4v4h-4z"/><path fill="#00ebff" d="M0 0h4v4h-4zM12 0h4v4h-4zM24 0h4v4h-4zM36 0h4v4h-4zM68 0h4v4h-4zM-4 4h4v4h-4zM12 4h4v4h-4zM84 4h4v4h-4zM24 8h4v4h-4zM32 8h4v4h-4zM96 8h4v4h-4zM0 12h4v4h-4zM8 12h4v4h-4zM20 12h8v4h-8zM32 12h4v4h-4zM48 12h8v4h-8zM60 12h4v4h-4zM72 16h4v4h-4zM88 16h4v4h-4zM100 16h8v4h-8zM176 16h4v4h-4zM44 20h4v4h-4zM172 20h4v4h-4zM140 24h4v4h-4zM172 24h4v4h-4zM128 28h8v4h-8zM32 32h4v4h-4zM128 156h4v4h-4zM196 156h4v4h-4zM216 156h4v4h-4zM192 160h4v4h-4zM164 164h4v4h-4zM212 164h4v4h-4zM172 168h4v4h-4z"/><path fill="#00b8ff" d="M124 0h4v4h-4zM132 0h4v4h-4zM144 0h4v4h-4zM152 0h4v4h-4zM152 8h8v4h-8zM124 16h4v4h-4zM136 152h4v4h-4zM132 160h4v4h-4zM124 176h4v4h-4zM176 176h8v4h-8zM164 180h4v4h-4zM184 180h4v4h-4z"/><path fill="#00a7ff" d="M136 0h4v4h-4zM132 20h4v4h-4zM124 144h4v4h-4zM148 176h4v4h-4zM164 176h4v4h-4zM172 176h4v4h-4zM124 180h4v4h-4zM180 184h4v4h-4zM164 188h4v4h-4z"/><path fill="#009cff" d="M148 0h4v4h-4zM144 4h8v4h-8zM140 8h4v4h-4zM144 12h8v4h-8zM112 128h4v4h-4zM112 132h4v4h-4zM116 140h4v4h-4zM140 164h4v4h-4zM160 176h4v4h-4zM176 180h4v4h-4zM168 184h4v4h-4zM140 188h4v4h-4zM120 192h4v4h-4z"/><path fill="#09fff6" d="M4 4h4v4h-4zM16 4h4v4h-4zM16 12h4v4h-4zM56 12h4v4h-4zM100 12h4v4h-4zM16 16h4v4h-4zM84 16h4v4h-4zM4 20h8v4h-8zM96 20h4v4h-4zM20 24h8v4h-8zM60 24h4v4h-4zM68 24h8v4h-8zM80 24h8v4h-8zM168 24h4v4h-4zM24 28h4v4h-4zM32 28h4v4h-4zM56 28h4v4h-4zM64 28h4v4h-4zM80 28h4v4h-4zM180 28h4v4h-4zM8 32h4v4h-4zM24 32h4v4h-4zM36 32h4v4h-4zM52 32h4v4h-4zM84 32h4v4h-4zM136 32h4v4h-4zM24 36h4v4h-4zM40 36h4v4h-4zM64 36h4v4h-4zM80 36h4v4h-4zM16 40h4v4h-4zM48 40h4v4h-4zM148 96h4v4h-4zM108 112h4v4h-4zM104 120h4v4h-4zM192 148h4v4h-4zM148 152h8v4h-8zM164 152h4v4h-4zM188 152h4v4h-4zM180 156h4v4h-4zM216 160h4v4h-4zM184 164h4v4h-4z"/><path fill="#00b2ff" d="M120 4h4v4h-4zM128 16h4v4h-4zM144 16h4v4h-4zM112 136h4v4h-4zM132 164h4v4h-4zM140 168h4v4h-4zM156 172h4v4h-4zM148 180h4v4h-4zM172 180h4v4h-4z"/><path fill="#0085ff" d="M124 4h4v4h-4zM136 4h4v4h-4zM140 16h4v4h-4zM132 168h4v4h-4zM156 188h4v4h-4zM148 196h4v4h-4zM140 204h4v4h-4zM148 204h4v4h-4zM112 208h4v4h-4zM148 208h4v4h-4z"/><path fill="#0096ff" d="M128 4h4v4h-4zM136 8h4v4h-4zM148 8h4v4h-4zM128 12h4v4h-4zM128 148h4v4h-4zM128 176h4v4h-4zM160 180h4v4h-4zM180 180h4v4h-4zM136 184h4v4h-4zM148 184h4v4h-4zM168 188h4v4h-4z"/><path fill="#0090ff" d="M132 4h4v4h-4zM132 8h4v4h-4zM136 12h4v4h-4zM156 176h4v4h-4zM140 180h4v4h-4zM144 184h4v4h-4zM152 184h8v4h-8zM164 184h4v4h-4zM116 188h4v4h-4zM144 188h4v4h-4zM152 188h4v4h-4zM160 188h4v4h-4zM172 188h4v4h-4zM144 192h4v4h-4zM156 192h4v4h-4zM156 200h4v4h-4z"/><path fill="#0080ff" d="M140 4h4v4h-4zM140 12h4v4h-4zM136 16h4v4h-4zM156 180h4v4h-4zM124 184h4v4h-4zM160 184h4v4h-4zM140 192h4v4h-4zM116 196h4v4h-4zM144 196h4v4h-4zM152 196h4v4h-4zM168 196h4v4h-4zM164 200h4v4h-4zM136 204h4v4h-4zM132 220h4v4h-4z"/><path fill="#008bff" d="M132 12h4v4h-4zM132 156h4v4h-4zM152 180h4v4h-4zM148 188h4v4h-4zM164 192h4v4h-4zM176 192h4v4h-4zM120 200h4v4h-4zM124 224h4v4h-4z"/><path fill="#0efff1" d="M32 16h4v4h-4zM16 20h4v4h-4zM92 20h4v4h-4zM100 20h4v4h-4zM4 24h4v4h-4zM16 24h4v4h-4zM112 24h4v4h-4zM8 28h4v4h-4zM20 28h4v4h-4zM60 28h4v4h-4zM76 28h4v4h-4zM152 28h8v4h-8zM60 32h4v4h-4zM88 32h4v4h-4zM116 32h4v4h-4zM156 32h4v4h-4zM-4 36h4v4h-4zM8 36h4v4h-4zM76 36h4v4h-4zM96 36h4v4h-4zM72 40h4v4h-4zM100 40h4v4h-4zM112 40h4v4h-4zM176 100h4v4h-4zM104 112h4v4h-4zM116 128h4v4h-4zM112 148h4v4h-4zM124 152h4v4h-4zM168 152h4v4h-4zM208 152h4v4h-4zM120 156h8v4h-8zM168 156h4v4h-4zM144 160h4v4h-4zM148 164h4v4h-4z"/><path fill="#14ffeb" d="M60 16h4v4h-4zM8 24h4v4h-4zM36 24h4v4h-4zM48 24h8v4h-8zM180 24h4v4h-4zM-4 28h4v4h-4zM12 28h4v4h-4zM28 28h4v4h-4zM68 28h4v4h-4zM100 28h4v4h-4zM108 28h4v4h-4zM116 28h4v4h-4zM0 32h4v4h-4zM44 32h4v4h-4zM76 32h4v4h-4zM108 32h4v4h-4zM132 32h4v4h-4zM140 32h4v4h-4zM0 36h4v4h-4zM52 36h4v4h-4zM100 36h4v4h-4zM108 36h4v4h-4zM124 36h8v4h-8zM148 36h4v4h-4zM28 40h4v4h-4zM80 40h4v4h-4zM104 40h4v4h-4zM116 40h4v4h-4zM132 40h4v4h-4zM24 44h4v4h-4zM76 44h4v4h-4zM68 48h4v4h-4zM148 136h4v4h-4zM188 140h4v4h-4zM132 144h4v4h-4zM160 148h4v4h-4zM184 148h4v4h-4zM112 152h4v4h-4zM144 152h4v4h-4zM160 152h4v4h-4zM184 152h4v4h-4zM200 152h4v4h-4zM152 156h8v4h-8zM164 156h4v4h-4zM204 156h4v4h-4zM160 160h4v4h-4z"/><path fill="#1fffe0" d="M36 20h8v4h-8zM0 28h4v4h-4zM52 28h4v4h-4zM84 28h4v4h-4zM104 28h4v4h-4zM28 32h4v4h-4zM40 32h4v4h-4zM96 32h8v4h-8zM112 32h4v4h-4zM128 32h4v4h-4zM32 36h4v4h-4zM84 36h4v4h-4zM120 36h4v4h-4zM144 36h4v4h-4zM24 40h4v4h-4zM32 40h4v4h-4zM44 40h4v4h-4zM68 40h4v4h-4zM84 40h4v4h-4zM108 40h4v4h-4zM124 40h4v4h-4zM36 44h4v4h-4zM60 44h4v4h-4zM68 44h4v4h-4zM44 48h4v4h-4zM100 52h4v4h-4zM144 96h4v4h-4zM132 100h4v4h-4zM156 100h4v4h-4zM124 104h4v4h-4zM136 104h4v4h-4zM136 108h4v4h-4zM148 108h4v4h-4zM136 120h4v4h-4zM120 136h4v4h-4zM152 148h4v4h-4zM180 148h4v4h-4zM188 148h4v4h-4zM156 152h4v4h-4zM196 152h4v4h-4zM192 156h4v4h-4z"/><path fill="#1affe5" d="M4 28h4v4h-4zM16 28h4v4h-4zM88 28h4v4h-4zM164 28h4v4h-4zM20 32h4v4h-4zM64 32h4v4h-4zM104 32h4v4h-4zM120 32h8v4h-8zM4 36h4v4h-4zM44 36h8v4h-8zM56 36h8v4h-8zM68 36h4v4h-4zM104 36h4v4h-4zM112 36h4v4h-4zM-4 40h4v4h-4zM128 40h4v4h-4zM28 44h4v4h-4zM92 44h4v4h-4zM116 44h4v4h-4zM48 48h4v4h-4zM116 48h8v4h-8zM112 108h4v4h-4zM124 140h4v4h-4zM136 140h4v4h-4zM180 144h4v4h-4zM140 148h4v4h-4zM164 148h12v4h-12zM116 152h4v4h-4zM176 152h4v4h-4zM204 152h4v4h-4zM216 152h4v4h-4zM172 156h4v4h-4zM208 156h4v4h-4zM208 160h4v4h-4z"/><path fill="#30ffcf" d="M36 28h4v4h-4zM28 36h4v4h-4zM132 36h4v4h-4zM140 36h4v4h-4zM96 40h4v4h-4zM120 40h4v4h-4zM108 44h4v4h-4zM40 48h4v4h-4zM56 48h4v4h-4zM64 48h4v4h-4zM100 48h4v4h-4zM156 92h4v4h-4zM124 100h4v4h-4zM144 100h4v4h-4zM132 104h4v4h-4zM160 104h4v4h-4zM184 104h4v4h-4zM124 108h4v4h-4zM72 112h4v4h-4zM144 112h4v4h-4zM188 116h4v4h-4zM164 120h4v4h-4zM180 120h4v4h-4zM96 124h4v4h-4zM132 124h4v4h-4zM128 128h4v4h-4zM192 128h4v4h-4zM144 132h4v4h-4zM156 132h4v4h-4zM176 132h4v4h-4zM108 136h4v4h-4zM128 140h4v4h-4zM140 140h4v4h-4zM160 140h4v4h-4zM176 140h4v4h-4zM164 144h4v4h-4zM176 144h4v4h-4zM192 144h4v4h-4zM216 144h4v4h-4zM176 148h4v4h-4zM200 148h4v4h-4zM208 148h4v4h-4z"/><path fill="#25ffda" d="M172 28h4v4h-4zM4 32h4v4h-4zM16 32h4v4h-4zM80 32h4v4h-4zM152 32h4v4h-4zM12 36h4v4h-4zM92 36h4v4h-4zM116 36h4v4h-4zM20 40h4v4h-4zM36 40h8v4h-8zM52 40h8v4h-8zM92 40h4v4h-4zM72 44h4v4h-4zM88 44h4v4h-4zM104 44h4v4h-4zM120 44h4v4h-4zM60 48h4v4h-4zM80 48h4v4h-4zM88 48h4v4h-4zM96 48h4v4h-4zM68 52h4v4h-4zM76 52h4v4h-4zM148 92h4v4h-4zM152 96h4v4h-4zM160 96h4v4h-4zM128 100h4v4h-4zM164 100h4v4h-4zM100 112h4v4h-4zM136 116h4v4h-4zM96 120h4v4h-4zM144 120h4v4h-4zM208 120h4v4h-4zM184 124h4v4h-4zM132 140h4v4h-4zM164 140h4v4h-4zM180 140h4v4h-4zM108 144h8v4h-8zM140 144h8v4h-8zM168 144h8v4h-8zM148 148h4v4h-4zM216 148h4v4h-4zM172 152h4v4h-4zM180 152h4v4h-4zM192 152h4v4h-4z"/><path fill="#2bffd4" d="M12 32h4v4h-4zM68 32h4v4h-4zM88 36h4v4h-4zM64 40h4v4h-4zM88 40h4v4h-4zM80 44h8v4h-8zM112 48h4v4h-4zM56 52h4v4h-4zM64 52h4v4h-4zM112 52h4v4h-4zM160 88h8v4h-8zM136 96h4v4h-4zM116 100h8v4h-8zM168 100h4v4h-4zM164 104h4v4h-4zM104 108h4v4h-4zM128 108h4v4h-4zM160 108h4v4h-4zM112 116h4v4h-4zM140 136h4v4h-4zM108 140h4v4h-4zM152 140h4v4h-4zM148 144h4v4h-4zM184 144h8v4h-8zM196 148h4v4h-4zM140 152h4v4h-4zM212 152h4v4h-4z"/><path fill="#36ffc9" d="M48 32h4v4h-4zM72 36h4v4h-4zM8 40h4v4h-4zM12 44h4v4h-4zM20 44h4v4h-4zM32 44h4v4h-4zM52 44h4v4h-4zM96 44h8v4h-8zM112 44h4v4h-4zM84 48h4v4h-4zM108 48h4v4h-4zM52 52h4v4h-4zM72 52h4v4h-4zM88 52h4v4h-4zM108 52h4v4h-4zM164 92h4v4h-4zM100 96h4v4h-4zM108 96h4v4h-4zM128 96h4v4h-4zM88 100h4v4h-4zM136 100h4v4h-4zM160 100h4v4h-4zM172 100h4v4h-4zM128 104h4v4h-4zM140 104h4v4h-4zM148 104h8v4h-8zM168 104h4v4h-4zM180 104h4v4h-4zM132 108h4v4h-4zM144 108h4v4h-4zM164 108h4v4h-4zM176 108h4v4h-4zM160 112h4v4h-4zM120 116h4v4h-4zM144 116h8v4h-8zM124 120h4v4h-4zM72 124h4v4h-4zM100 124h8v4h-8zM116 124h4v4h-4zM124 124h4v4h-4zM136 124h8v4h-8zM104 128h4v4h-4zM132 128h4v4h-4zM200 128h4v4h-4zM128 132h4v4h-4zM140 132h4v4h-4zM128 136h4v4h-4zM192 136h4v4h-4zM184 140h4v4h-4zM136 144h4v4h-4zM152 144h8v4h-8zM108 148h4v4h-4zM144 148h4v4h-4zM156 148h4v4h-4z"/><path fill="#41ffbe" d="M20 36h4v4h-4zM12 40h4v4h-4zM-4 44h4v4h-4zM36 48h4v4h-4zM104 48h4v4h-4zM48 52h4v4h-4zM104 52h4v4h-4zM116 52h4v4h-4zM128 88h4v4h-4zM152 92h4v4h-4zM76 96h4v4h-4zM116 96h8v4h-8zM104 100h4v4h-4zM148 100h4v4h-4zM108 104h4v4h-4zM144 104h4v4h-4zM176 104h4v4h-4zM108 108h4v4h-4zM172 108h4v4h-4zM180 108h4v4h-4zM76 112h4v4h-4zM128 112h8v4h-8zM156 112h4v4h-4zM172 112h4v4h-4zM116 116h4v4h-4zM128 116h8v4h-8zM184 116h4v4h-4zM196 116h4v4h-4zM128 120h4v4h-4zM156 120h4v4h-4zM152 124h8v4h-8zM176 124h4v4h-4zM192 124h4v4h-4zM204 124h4v4h-4zM220 124h4v4h-4zM100 128h4v4h-4zM144 128h12v4h-12zM160 128h4v4h-4zM180 128h8v4h-8zM104 132h4v4h-4zM124 132h4v4h-4zM136 132h4v4h-4zM180 132h4v4h-4zM100 136h4v4h-4zM124 136h4v4h-4zM176 136h8v4h-8zM188 136h4v4h-4zM148 140h4v4h-4zM192 140h4v4h-4zM160 144h4v4h-4zM116 148h4v4h-4z"/><path fill="#47ffb8" d="M0 40h4v4h-4zM76 40h4v4h-4zM40 44h4v4h-4zM48 44h4v4h-4zM-4 48h4v4h-4zM72 48h4v4h-4zM60 56h4v4h-4zM92 56h4v4h-4zM108 56h4v4h-4zM96 88h4v4h-4zM120 88h4v4h-4zM56 92h8v4h-8zM68 92h4v4h-4zM124 92h4v4h-4zM160 92h4v4h-4zM72 96h4v4h-4zM80 96h4v4h-4zM112 100h4v4h-4zM152 100h4v4h-4zM112 104h4v4h-4zM172 104h4v4h-4zM120 108h4v4h-4zM140 108h4v4h-4zM184 108h4v4h-4zM112 112h8v4h-8zM136 112h8v4h-8zM168 112h4v4h-4zM176 112h4v4h-4zM184 112h4v4h-4zM164 116h12v4h-12zM168 120h8v4h-8zM184 120h4v4h-4zM188 124h4v4h-4zM96 128h4v4h-4zM132 132h4v4h-4zM148 132h4v4h-4zM164 132h4v4h-4zM188 132h8v4h-8zM228 132h4v4h-4zM196 136h4v4h-4zM144 140h4v4h-4zM168 140h4v4h-4zM204 140h4v4h-4zM220 140h4v4h-4z"/><path fill="#3cffc3" d="M4 40h4v4h-4zM60 40h4v4h-4zM44 44h4v4h-4zM56 44h4v4h-4zM64 44h4v4h-4zM92 48h4v4h-4zM60 52h4v4h-4zM76 56h4v4h-4zM64 92h4v4h-4zM112 96h4v4h-4zM124 96h4v4h-4zM132 96h4v4h-4zM140 96h4v4h-4zM156 96h4v4h-4zM140 100h4v4h-4zM120 104h4v4h-4zM152 108h4v4h-4zM148 112h8v4h-8zM164 112h4v4h-4zM80 116h4v4h-4zM160 116h4v4h-4zM200 116h4v4h-4zM76 120h4v4h-4zM116 120h4v4h-4zM148 120h4v4h-4zM160 120h4v4h-4zM176 120h4v4h-4zM120 124h4v4h-4zM168 124h4v4h-4zM196 128h4v4h-4zM216 128h4v4h-4zM228 128h4v4h-4zM100 132h4v4h-4zM120 132h4v4h-4zM160 132h4v4h-4zM196 132h4v4h-4zM136 136h4v4h-4zM152 136h8v4h-8zM220 136h4v4h-4zM104 140h4v4h-4zM196 144h4v4h-4zM204 148h4v4h-4zM212 148h4v4h-4z"/><path fill="#58ffa7" d="M0 44h4v4h-4zM80 52h8v4h-8zM44 56h4v4h-4zM52 56h4v4h-4zM88 56h4v4h-4zM100 60h4v4h-4zM152 80h4v4h-4zM120 84h4v4h-4zM160 84h4v4h-4zM76 88h4v4h-4zM100 88h4v4h-4zM92 92h4v4h-4zM140 92h4v4h-4zM88 96h4v4h-4zM100 100h4v4h-4zM108 100h4v4h-4zM96 108h4v4h-4zM168 108h4v4h-4zM72 116h4v4h-4zM100 116h4v4h-4zM100 120h4v4h-4zM140 120h4v4h-4zM192 120h4v4h-4zM164 124h4v4h-4zM180 124h4v4h-4zM216 124h4v4h-4zM224 124h4v4h-4zM120 128h4v4h-4zM164 128h8v4h-8zM152 132h4v4h-4zM200 132h4v4h-4zM196 140h4v4h-4zM204 144h4v4h-4z"/><path fill="#52ffad" d="M4 44h4v4h-4zM16 44h4v4h-4zM20 48h4v4h-4zM120 52h4v4h-4zM80 56h8v4h-8zM60 60h4v4h-4zM88 80h4v4h-4zM156 80h4v4h-4zM100 84h4v4h-4zM60 88h4v4h-4zM124 88h4v4h-4zM132 88h4v4h-4zM144 88h8v4h-8zM80 92h4v4h-4zM96 92h4v4h-4zM108 92h8v4h-8zM128 92h4v4h-4zM144 92h4v4h-4zM92 96h4v4h-4zM88 104h8v4h-8zM100 104h4v4h-4zM100 108h4v4h-4zM116 108h4v4h-4zM124 112h4v4h-4zM68 116h4v4h-4zM180 116h4v4h-4zM68 120h8v4h-8zM152 120h4v4h-4zM196 120h4v4h-4zM80 124h4v4h-4zM128 124h4v4h-4zM160 124h4v4h-4zM124 128h4v4h-4zM208 128h4v4h-4zM220 128h4v4h-4zM96 132h4v4h-4zM168 132h4v4h-4zM184 132h4v4h-4zM224 132h4v4h-4zM104 136h4v4h-4zM168 136h8v4h-8zM224 136h8v4h-8zM208 144h8v4h-8z"/><path fill="#5effa2" d="M8 44h4v4h-4zM24 48h4v4h-4zM52 48h4v4h-4zM40 52h4v4h-4zM96 60h4v4h-4zM96 80h8v4h-8zM140 84h4v4h-4zM84 88h4v4h-4zM92 88h4v4h-4zM108 88h4v4h-4zM140 88h4v4h-4zM84 92h8v4h-8zM104 92h4v4h-4zM92 100h4v4h-4zM140 116h4v4h-4zM144 124h8v4h-8zM176 128h4v4h-4zM204 132h4v4h-4zM144 136h4v4h-4zM200 136h4v4h-4zM216 136h4v4h-4zM208 140h4v4h-4z"/><path fill="#7aff85" d="M0 48h4v4h-4zM-4 52h4v4h-4zM100 56h4v4h-4zM56 60h4v4h-4zM60 64h4v4h-4zM112 64h4v4h-4zM84 72h4v4h-4zM128 72h4v4h-4zM20 76h4v4h-4zM104 76h8v4h-8zM144 76h4v4h-4zM36 80h8v4h-8zM76 80h4v4h-4zM112 80h4v4h-4zM128 80h4v4h-4zM144 80h4v4h-4zM68 84h4v4h-4zM104 84h4v4h-4zM112 84h4v4h-4zM156 84h4v4h-4zM152 88h4v4h-4zM212 132h4v4h-4z"/><path fill="#a2ff5e" d="M4 48h4v4h-4zM28 52h4v4h-4zM36 56h4v4h-4zM8 60h4v4h-4zM112 68h4v4h-4zM120 68h4v4h-4zM96 72h4v4h-4zM132 72h4v4h-4z"/><path fill="#8bff74" d="M8 48h4v4h-4zM84 64h16v4h-16zM120 64h4v4h-4zM96 68h12v4h-12zM92 72h4v4h-4zM100 72h12v4h-12zM116 72h4v4h-4zM124 72h4v4h-4zM112 76h4v4h-4zM120 76h4v4h-4zM132 76h4v4h-4z"/><path fill="#91ff6e" d="M12 48h4v4h-4zM4 60h4v4h-4zM52 60h4v4h-4zM104 64h4v4h-4zM88 68h4v4h-4zM116 68h4v4h-4zM64 72h4v4h-4zM120 72h4v4h-4zM64 76h4v4h-4zM88 76h4v4h-4zM140 76h4v4h-4z"/><path fill="#85ff7a" d="M16 48h4v4h-4zM64 64h4v4h-4zM76 64h4v4h-4zM60 68h4v4h-4zM20 72h4v4h-4zM72 72h4v4h-4zM28 76h4v4h-4zM68 76h4v4h-4zM128 76h4v4h-4zM60 80h4v4h-4zM84 80h4v4h-4zM92 80h4v4h-4zM60 84h4v4h-4zM136 88h4v4h-4z"/><path fill="#6eff90" d="M28 48h4v4h-4zM68 56h4v4h-4zM64 60h4v4h-4zM76 60h4v4h-4zM92 60h4v4h-4zM104 60h4v4h-4zM112 60h4v4h-4zM100 64h4v4h-4zM116 64h4v4h-4zM92 76h4v4h-4zM116 76h4v4h-4zM44 80h4v4h-4zM68 80h4v4h-4zM80 80h4v4h-4zM124 80h4v4h-4zM132 80h4v4h-4zM40 84h4v4h-4zM48 84h4v4h-4zM56 84h4v4h-4zM116 84h4v4h-4zM132 84h4v4h-4zM148 84h4v4h-4zM64 88h4v4h-4zM72 88h4v4h-4zM212 128h4v4h-4zM216 132h4v4h-4zM212 136h4v4h-4z"/><path fill="#4dffb2" d="M32 48h4v4h-4zM76 48h4v4h-4zM44 52h4v4h-4zM96 52h4v4h-4zM112 56h4v4h-4zM80 84h4v4h-4zM136 84h4v4h-4zM44 88h4v4h-4zM88 88h4v4h-4zM116 88h4v4h-4zM156 88h4v4h-4zM120 92h4v4h-4zM132 92h4v4h-4zM84 96h4v4h-4zM104 96h4v4h-4zM84 100h4v4h-4zM96 100h4v4h-4zM96 104h4v4h-4zM116 104h4v4h-4zM156 104h4v4h-4zM156 108h4v4h-4zM120 112h4v4h-4zM180 112h4v4h-4zM188 112h4v4h-4zM76 116h4v4h-4zM124 116h4v4h-4zM152 116h8v4h-8zM176 116h4v4h-4zM120 120h4v4h-4zM188 120h4v4h-4zM216 120h4v4h-4zM76 124h4v4h-4zM200 124h4v4h-4zM212 124h4v4h-4zM136 128h4v4h-4zM156 128h4v4h-4zM172 128h4v4h-4zM224 128h4v4h-4zM172 132h4v4h-4zM220 132h4v4h-4zM132 136h4v4h-4zM160 136h8v4h-8zM184 136h4v4h-4zM208 136h4v4h-4zM156 140h4v4h-4zM172 140h4v4h-4zM200 140h4v4h-4zM212 140h4v4h-4zM200 144h4v4h-4zM220 144h4v4h-4z"/><path fill="#96ff69" d="M0 52h4v4h-4zM20 68h4v4h-4zM64 68h4v4h-4zM84 68h4v4h-4zM32 76h4v4h-4zM40 76h4v4h-4zM60 76h4v4h-4zM124 76h4v4h-4zM32 80h4v4h-4zM48 80h4v4h-4zM108 84h4v4h-4z"/><path fill="#adff52" d="M4 52h4v4h-4zM32 52h4v4h-4zM12 64h4v4h-4zM12 68h4v4h-4zM108 68h4v4h-4zM80 72h4v4h-4z"/><path fill="#daff25" d="M8 52h8v4h-8zM12 56h4v4h-4zM48 64h4v4h-4zM52 76h4v4h-4z"/><path fill="#d5ff2a" d="M16 52h8v4h-8zM24 64h4v4h-4zM52 72h4v4h-4z"/><path fill="#beff41" d="M24 52h4v4h-4zM16 72h4v4h-4zM60 72h4v4h-4z"/><path fill="#74ff8b" d="M36 52h4v4h-4zM72 56h4v4h-4zM68 60h4v4h-4zM68 64h4v4h-4zM76 72h4v4h-4zM24 76h4v4h-4zM76 76h4v4h-4zM84 76h4v4h-4zM108 80h4v4h-4zM136 80h4v4h-4zM52 84h4v4h-4zM88 84h4v4h-4zM96 84h4v4h-4zM144 84h4v4h-4zM152 84h4v4h-4zM208 124h4v4h-4zM188 128h4v4h-4z"/><path fill="#63ff9c" d="M92 52h4v4h-4zM56 56h4v4h-4zM64 56h4v4h-4zM96 56h4v4h-4zM72 60h4v4h-4zM80 60h4v4h-4zM108 60h4v4h-4zM116 60h4v4h-4zM72 64h4v4h-4zM92 68h4v4h-4zM84 84h4v4h-4zM92 84h4v4h-4zM124 84h8v4h-8zM52 88h8v4h-8zM68 88h4v4h-4zM100 92h4v4h-4zM116 92h4v4h-4zM96 96h4v4h-4zM104 104h4v4h-4zM192 116h4v4h-4zM132 120h4v4h-4zM200 120h8v4h-8zM204 128h4v4h-4zM208 132h4v4h-4zM204 136h4v4h-4zM216 140h4v4h-4zM224 140h4v4h-4z"/><path fill="#80ff80" d="M0 56h8v4h-8zM48 60h4v4h-4zM8 64h4v4h-4zM80 64h4v4h-4zM88 72h4v4h-4zM136 76h4v4h-4zM64 80h4v4h-4zM104 80h4v4h-4zM44 84h4v4h-4z"/><path fill="#b3ff4c" d="M8 56h4v4h-4zM12 60h4v4h-4zM16 64h4v4h-4zM52 64h4v4h-4zM56 76h4v4h-4z"/><path fill="#ffeb00" d="M16 56h8v4h-8zM28 60h4v4h-4zM44 64h4v4h-4zM44 72h4v4h-4z"/><path fill="#fffc00" d="M24 56h4v4h-4zM20 60h4v4h-4z"/><path fill="#ebff14" d="M28 56h4v4h-4zM28 64h4v4h-4z"/><path fill="#b8ff47" d="M32 56h4v4h-4zM44 60h4v4h-4zM16 68h4v4h-4zM24 68h4v4h-4zM56 68h4v4h-4zM52 80h4v4h-4z"/><path fill="#9cff63" d="M40 56h4v4h-4zM56 64h4v4h-4zM24 72h8v4h-8zM112 72h4v4h-4zM80 76h4v4h-4zM96 76h8v4h-8z"/><path fill="#69ff96" d="M48 56h4v4h-4zM104 56h4v4h-4zM84 60h8v4h-8zM72 76h4v4h-4zM72 80h4v4h-4zM116 80h8v4h-8zM140 80h4v4h-4zM148 80h4v4h-4zM36 84h4v4h-4zM64 84h4v4h-4zM72 84h8v4h-8zM48 88h4v4h-4zM80 88h4v4h-4zM112 88h4v4h-4zM72 92h8v4h-8zM136 92h4v4h-4zM80 120h4v4h-4zM212 120h4v4h-4zM172 124h4v4h-4zM196 124h4v4h-4zM140 128h4v4h-4z"/><path fill="#f1ff0e" d="M16 60h4v4h-4zM40 72h4v4h-4z"/><path fill="#ffe000" d="M24 60h4v4h-4zM32 60h4v4h-4z"/><path fill="#f7ff08" d="M36 60h4v4h-4z"/><path fill="#c9ff36" d="M40 60h4v4h-4zM56 80h4v4h-4z"/><path fill="#cfff30" d="M20 64h4v4h-4zM28 68h4v4h-4zM32 72h4v4h-4zM56 72h4v4h-4zM48 76h4v4h-4z"/><path fill="#ffe500" d="M32 64h4v4h-4zM48 68h4v4h-4z"/><path fill="#fff700" d="M36 64h4v4h-4zM36 68h4v4h-4z"/><path fill="#ffbe00" d="M40 64h4v4h-4z"/><path fill="#a7ff58" d="M108 64h4v4h-4zM8 68h4v4h-4zM36 76h4v4h-4zM44 76h4v4h-4z"/><path fill="#fcff03" d="M32 68h4v4h-4zM48 72h4v4h-4z"/><path fill="#ffc900" d="M40 68h8v4h-8z"/><path fill="#e5ff1a" d="M52 68h4v4h-4zM36 72h4v4h-4z"/><path fill="#007aff" d="M120 144h4v4h-4zM124 148h4v4h-4zM136 192h4v4h-4zM148 192h8v4h-8zM160 192h4v4h-4zM168 192h4v4h-4zM132 196h8v4h-8zM156 196h4v4h-4zM136 200h4v4h-4zM152 204h4v4h-4zM136 216h4v4h-4zM148 216h4v4h-4zM140 220h4v4h-4zM152 220h4v4h-4zM168 220h4v4h-4zM152 224h4v4h-4zM152 228h4v4h-4zM136 232h4v4h-4z"/><path fill="#006eff" d="M132 152h4v4h-4zM124 192h4v4h-4zM140 200h4v4h-4zM120 204h4v4h-4zM160 216h4v4h-4zM160 220h4v4h-4zM144 224h4v4h-4zM128 228h8v4h-8z"/><path fill="#0074ff" d="M136 156h4v4h-4zM136 180h4v4h-4zM136 188h4v4h-4zM116 192h4v4h-4zM172 192h4v4h-4zM140 196h4v4h-4zM160 196h8v4h-8zM116 200h4v4h-4zM144 200h4v4h-4zM112 204h4v4h-4zM144 204h4v4h-4zM132 212h4v4h-4zM112 216h4v4h-4zM144 216h4v4h-4zM112 220h4v4h-4zM160 224h4v4h-4zM144 228h4v4h-4zM156 228h4v4h-4zM144 232h4v4h-4z"/><path fill="#0063ff" d="M136 160h4v4h-4zM132 172h4v4h-4zM132 200h4v4h-4zM148 200h4v4h-4zM132 204h4v4h-4zM132 208h4v4h-4zM152 208h4v4h-4zM136 212h4v4h-4zM128 220h4v4h-4zM164 220h4v4h-4zM116 224h4v4h-4zM132 224h4v4h-4zM140 224h4v4h-4zM156 224h4v4h-4zM168 224h4v4h-4zM116 228h8v4h-8zM148 228h4v4h-4zM128 232h4v4h-4z"/><path fill="#0047ff" d="M136 164h4v4h-4zM124 200h4v4h-4zM128 204h4v4h-4zM132 216h4v4h-4zM156 220h4v4h-4z"/><path fill="#0036ff" d="M136 168h4v4h-4z"/><path fill="#003bff" d="M136 172h4v4h-4zM120 212h4v4h-4z"/><path fill="#0014ff" d="M132 176h4v4h-4z"/><path fill="#005eff" d="M136 176h4v4h-4zM152 200h4v4h-4zM144 208h4v4h-4zM112 212h4v4h-4zM144 212h4v4h-4zM128 216h4v4h-4zM152 216h4v4h-4zM164 216h4v4h-4zM144 220h4v4h-4zM128 224h4v4h-4zM136 224h4v4h-4zM124 228h4v4h-4zM132 232h4v4h-4z"/><path fill="#002aff" d="M128 180h4v4h-4zM124 212h4v4h-4z"/><path fill="#001fff" d="M132 180h4v4h-4z"/><path fill="#0000fc" d="M128 184h4v4h-4zM128 188h4v4h-4z"/><path fill="#0000eb" d="M132 184h4v4h-4z"/><path fill="#0069ff" d="M124 188h4v4h-4zM120 196h8v4h-8zM160 200h4v4h-4zM116 204h4v4h-4zM116 208h4v4h-4zM136 208h8v4h-8zM128 212h4v4h-4zM148 212h4v4h-4zM140 216h4v4h-4zM156 216h4v4h-4zM136 220h4v4h-4zM148 220h4v4h-4zM112 224h4v4h-4zM160 228h4v4h-4z"/><path fill="#0019ff" d="M132 188h4v4h-4z"/><path fill="#0052ff" d="M128 192h4v4h-4zM116 212h4v4h-4zM116 220h4v4h-4zM124 232h4v4h-4zM140 232h4v4h-4z"/><path fill="#0058ff" d="M132 192h4v4h-4zM140 212h4v4h-4zM116 216h4v4h-4zM124 220h4v4h-4zM148 224h4v4h-4zM136 228h4v4h-4z"/><path fill="#004dff" d="M128 196h4v4h-4zM128 208h4v4h-4zM120 216h8v4h-8zM120 224h4v4h-4zM164 224h4v4h-4zM140 228h4v4h-4z"/><path fill="#0041ff" d="M128 200h4v4h-4zM120 208h4v4h-4z"/><path fill="#0030ff" d="M124 204h4v4h-4zM124 208h4v4h-4z"/><path fill="#0025ff" d="M120 220h4v4h-4z"/></g></g>
<use href="#lk" fill="#fff"/>
<g filter="url(#cf-f)"><path fill-opacity="0.60" d="M54 0h144v6h-144z"/></g>
<rect x="26.5" y="-1" width="105.9" height="2.2" fill="#fff"/>
<use href="#fj" fill="none" stroke="#0a1030" stroke-opacity="0.8" stroke-width="3" stroke-dasharray="2.5 1 1.5 1"/>
<use href="#fj2" fill="none" stroke="#fff" stroke-opacity="0.9" stroke-width="1.6" stroke-dasharray="1.5 1 2.5 2"/>
<use href="#falk" fill="#0a1030" fill-opacity="0.8"/>
<use href="#am" fill="none" stroke="#1a1a1a" stroke-opacity="0.8" stroke-width="0.45"/>
<use href="#isl" fill="none" stroke="#1a1a1a" stroke-opacity="0.8" stroke-width="0.45"/>
<use href="#bd" fill="none" stroke="#1a1a1a" stroke-opacity="0.65" stroke-width="0.4"/>
</svg>
<rect x="43.8" y="22.5" width="238.2" height="239.5" fill="none" stroke="#5a5a5a" stroke-width="0.9"/>
<path d="M43.80 262 v-2.4 M43.80 22.5 v2.4" stroke="#555" stroke-width="0.8"/>
<path d="M96.73 262 v-2.4 M96.73 22.5 v2.4" stroke="#555" stroke-width="0.8"/>
<path d="M149.67 262 v-2.4 M149.67 22.5 v2.4" stroke="#555" stroke-width="0.8"/>
<path d="M202.60 262 v-2.4 M202.60 22.5 v2.4" stroke="#555" stroke-width="0.8"/>
<path d="M255.53 262 v-2.4 M255.53 22.5 v2.4" stroke="#555" stroke-width="0.8"/>
<path d="M43.8 262.00 h2.4 M282 262.00 h-2.4" stroke="#555" stroke-width="0.8"/>
<path d="M43.8 222.08 h2.4 M282 222.08 h-2.4" stroke="#555" stroke-width="0.8"/>
<path d="M43.8 182.17 h2.4 M282 182.17 h-2.4" stroke="#555" stroke-width="0.8"/>
<path d="M43.8 142.25 h2.4 M282 142.25 h-2.4" stroke="#555" stroke-width="0.8"/>
<path d="M43.8 102.33 h2.4 M282 102.33 h-2.4" stroke="#555" stroke-width="0.8"/>
<path d="M43.8 62.42 h2.4 M282 62.42 h-2.4" stroke="#555" stroke-width="0.8"/>
<path d="M43.8 22.50 h2.4 M282 22.50 h-2.4" stroke="#555" stroke-width="0.8"/>
<text x="42.7" y="267.60" font-size="12.3" text-anchor="end" fill="#262626">-60</text>
<text x="42.7" y="227.68" font-size="12.3" text-anchor="end" fill="#262626">-40</text>
<text x="42.7" y="187.77" font-size="12.3" text-anchor="end" fill="#262626">-20</text>
<text x="42.7" y="147.85" font-size="12.3" text-anchor="end" fill="#262626">0</text>
<text x="42.7" y="107.93" font-size="12.3" text-anchor="end" fill="#262626">20</text>
<text x="42.7" y="68.02" font-size="12.3" text-anchor="end" fill="#262626">40</text>
<text x="42.7" y="28.10" font-size="12.3" text-anchor="end" fill="#262626">60</text>
<text x="41.60" y="275.2" font-size="11.9" text-anchor="middle" fill="#262626">-120</text>
<text x="94.53" y="275.2" font-size="11.9" text-anchor="middle" fill="#262626">-100</text>
<text x="147.47" y="275.2" font-size="11.9" text-anchor="middle" fill="#262626">-80</text>
<text x="200.40" y="275.2" font-size="11.9" text-anchor="middle" fill="#262626">-60</text>
<text x="253.33" y="275.2" font-size="11.9" text-anchor="middle" fill="#262626">-40</text>
<text x="161" y="288.8" font-size="12" text-anchor="middle" fill="#262626">Longitude (°)</text>
<text transform="translate(20.8,144) rotate(-90)" font-size="12" text-anchor="middle" fill="#262626">Latitude (°)</text>
<rect x="287" y="23" width="6.2" height="239" fill="url(#jet)"/>
<text x="293.1" y="267.60" font-size="12.2" fill="#262626">250</text>
<text x="293.1" y="241.04" font-size="12.2" fill="#262626">260</text>
<text x="293.1" y="214.49" font-size="12.2" fill="#262626">270</text>
<text x="293.1" y="187.93" font-size="12.2" fill="#262626">280</text>
<text x="293.1" y="161.38" font-size="12.2" fill="#262626">290</text>
<text x="293.1" y="134.82" font-size="12.2" fill="#262626">300</text>
<text x="293.1" y="108.27" font-size="12.2" fill="#262626">310</text>
<text x="293.1" y="81.71" font-size="12.2" fill="#262626">320</text>
<text x="293.1" y="55.16" font-size="12.2" fill="#262626">330</text>
<text x="293.1" y="28.60" font-size="12.2" fill="#262626">340</text>
<path d="M287 235.44h1.6M293.2 235.44h-1.6M287 208.89h1.6M293.2 208.89h-1.6M287 182.33h1.6M293.2 182.33h-1.6M287 155.78h1.6M293.2 155.78h-1.6M287 129.22h1.6M293.2 129.22h-1.6M287 102.67h1.6M293.2 102.67h-1.6M287 76.11h1.6M293.2 76.11h-1.6M287 49.56h1.6M293.2 49.56h-1.6" stroke="#333" stroke-opacity="0.6" stroke-width="0.7"/>
<g fill="#000" stroke="#000" stroke-width="0.25"><text transform="translate(4.00,288) scale(1.160,1)" font-size="24.5">f</text>
<text transform="translate(13.50,287.6) scale(0.8,1)" font-size="23.5">)</text></g>
</g>
</svg>
</body></html>
